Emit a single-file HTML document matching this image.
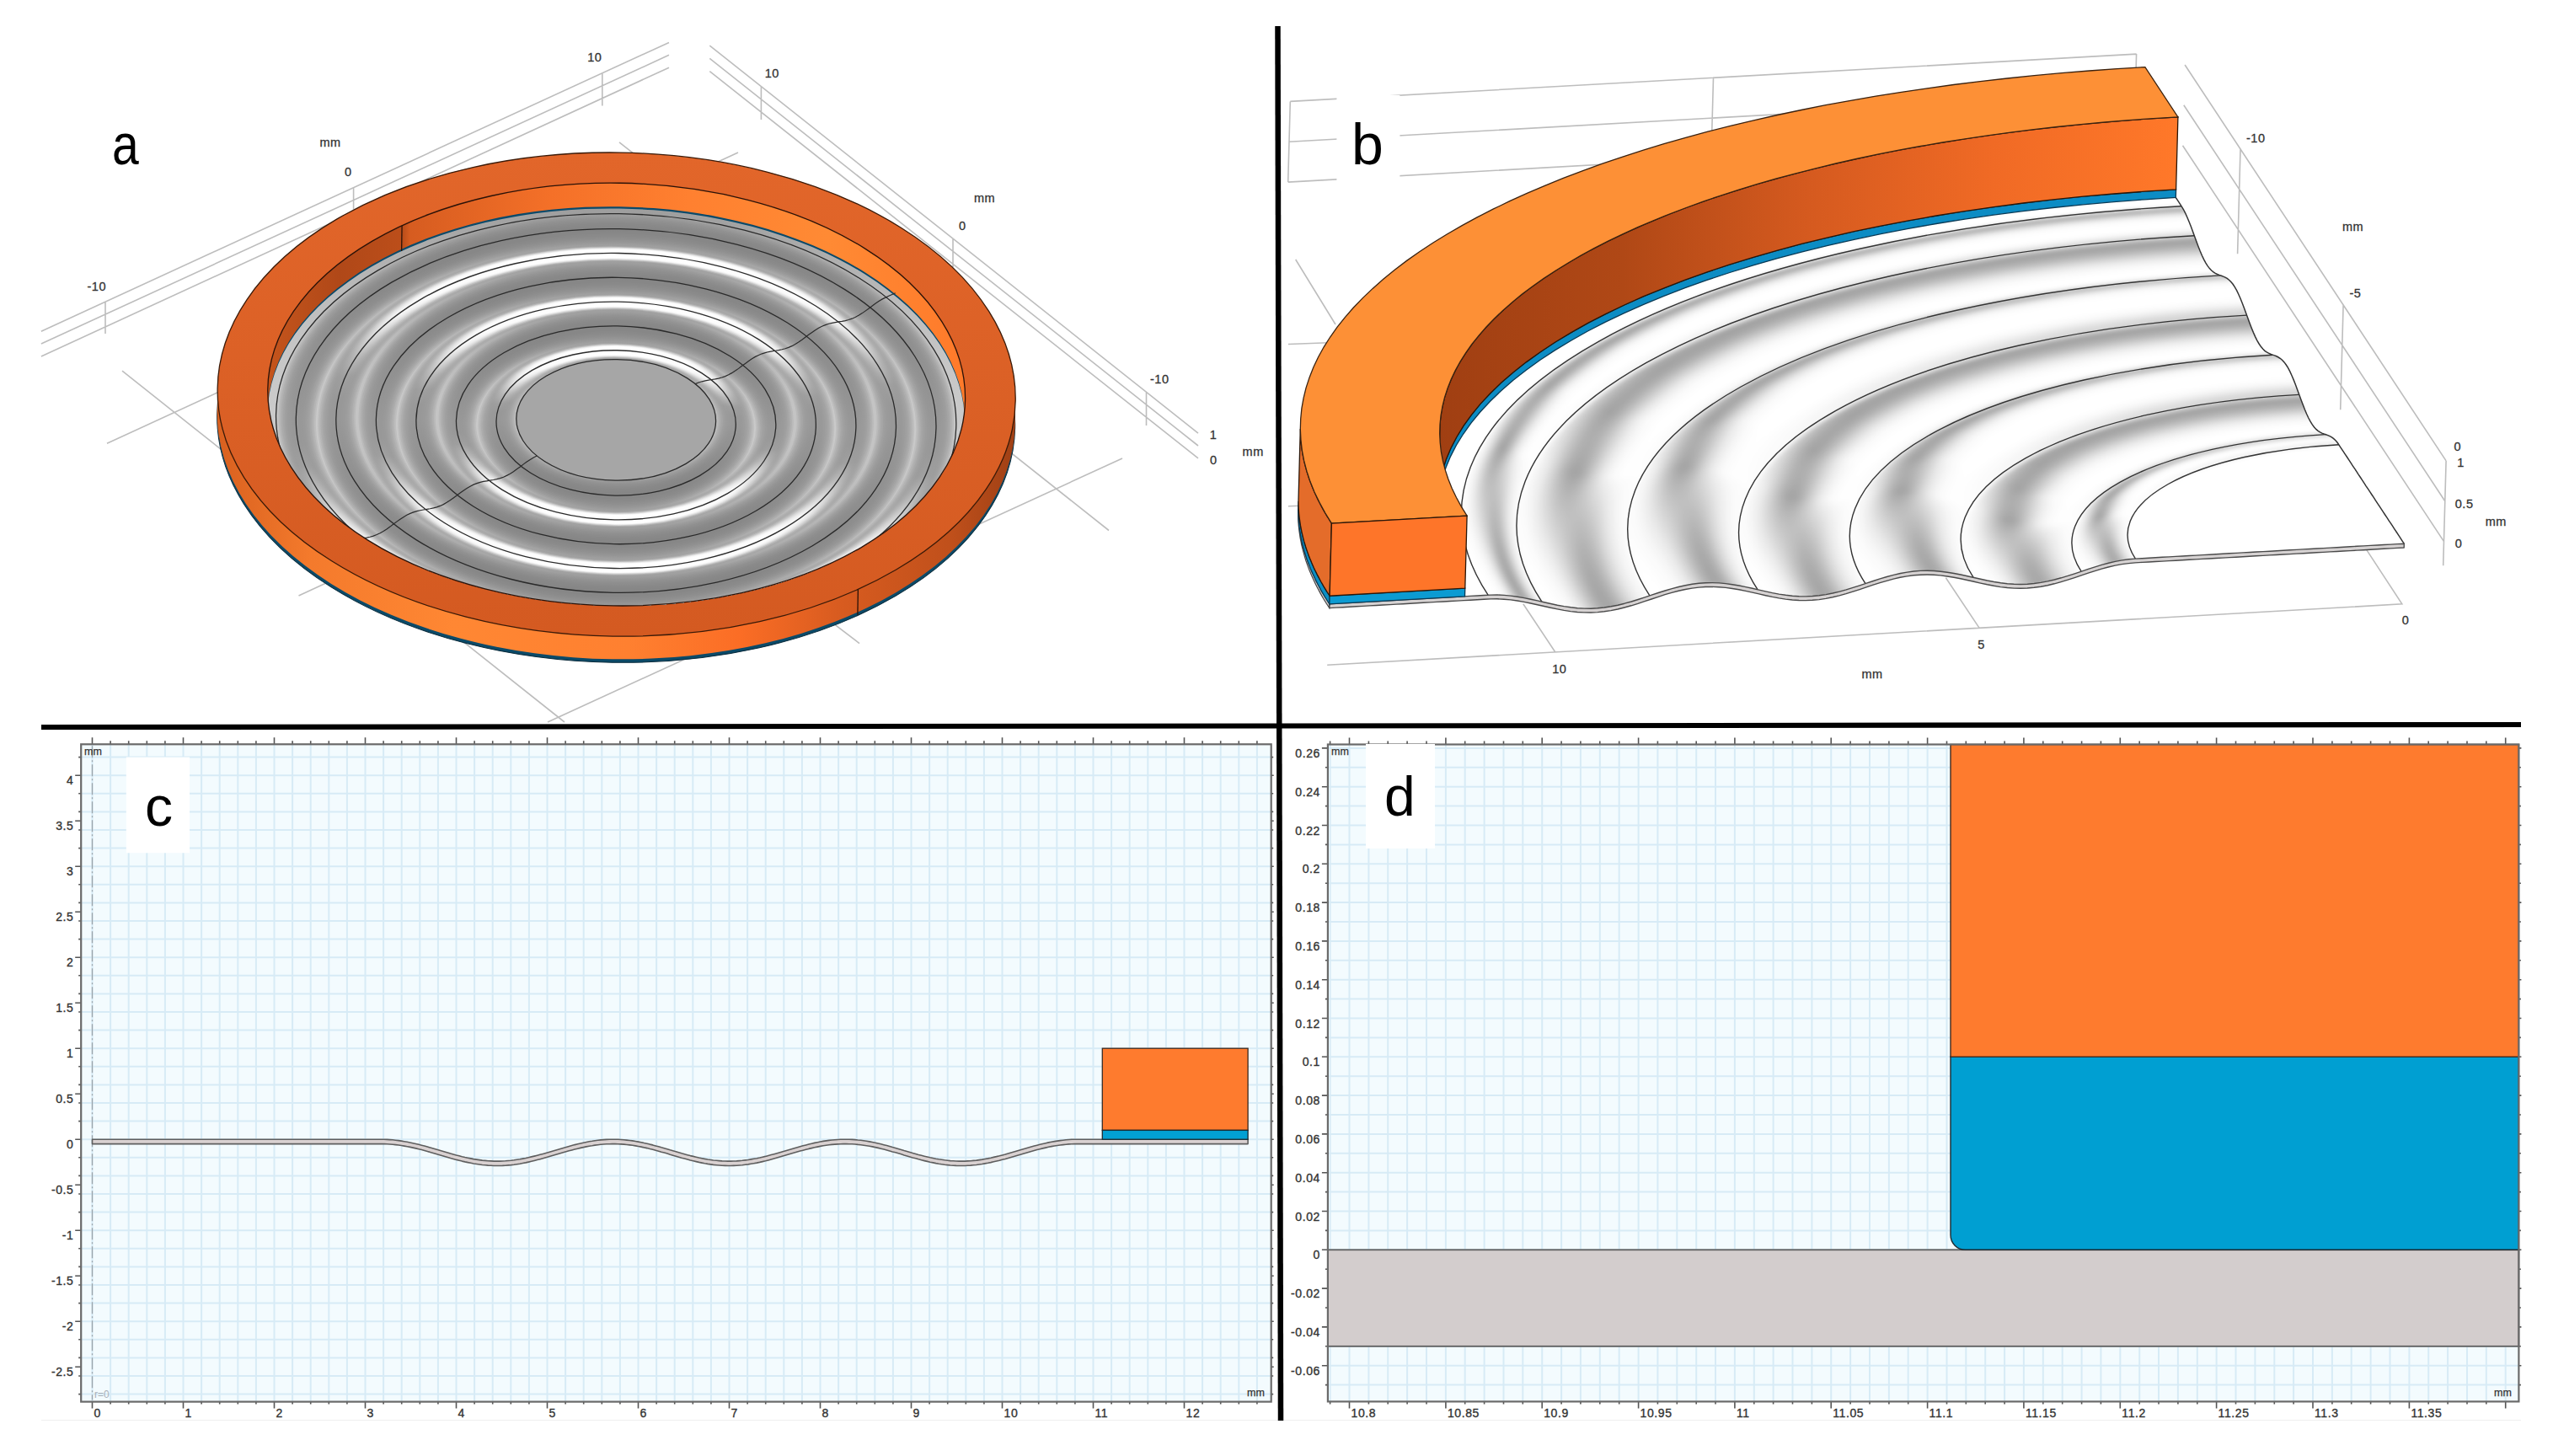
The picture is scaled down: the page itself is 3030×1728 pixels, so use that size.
<!DOCTYPE html><html><head><meta charset="utf-8"><style>html,body{margin:0;padding:0;background:#fff}svg{display:block}text{font-family:"Liberation Sans",sans-serif}</style></head><body><svg width="3030" height="1728" viewBox="0 0 3030 1728"><rect width="3030" height="1728" fill="#fff"/><defs><linearGradient id="aow" x1="257" x2="1205" y1="0" y2="0" gradientUnits="userSpaceOnUse"><stop offset="0" stop-color="#d8601f"/><stop offset=".12" stop-color="#f47a2c"/><stop offset=".3" stop-color="#ff8733"/><stop offset=".52" stop-color="#ff8030"/><stop offset=".66" stop-color="#fb6d25"/><stop offset=".78" stop-color="#d95c20"/><stop offset=".92" stop-color="#c0501b"/><stop offset="1" stop-color="#a04015"/></linearGradient><linearGradient id="atop" x1="0" x2="0" y1="181" y2="756" gradientUnits="userSpaceOnUse"><stop offset="0" stop-color="#e2662a"/><stop offset="1" stop-color="#d45a21"/></linearGradient><clipPath id="ain"><ellipse cx="731.2" cy="468.10" rx="413.92" ry="250.86" /></clipPath><linearGradient id="aiw" x1="318" x2="1144" y1="0" y2="0" gradientUnits="userSpaceOnUse"><stop offset="0" stop-color="#c4541c"/><stop offset=".1" stop-color="#b04818"/><stop offset=".19" stop-color="#bc4e1a"/><stop offset=".2" stop-color="#d65c20"/><stop offset=".4" stop-color="#f47028"/><stop offset=".6" stop-color="#ff8030"/><stop offset=".8" stop-color="#ff8a34"/><stop offset="1" stop-color="#ff7a2a"/></linearGradient><linearGradient id="am0" x1="0" x2="0" y1="247.4" y2="749.2" gradientUnits="userSpaceOnUse"><stop offset="0.000" stop-color="#9e9e9e"/><stop offset="0.062" stop-color="#a8a8a8"/><stop offset="0.125" stop-color="#b1b1b1"/><stop offset="0.188" stop-color="#b9b9b9"/><stop offset="0.250" stop-color="#bfbfbf"/><stop offset="0.312" stop-color="#c4c4c4"/><stop offset="0.375" stop-color="#c7c7c7"/><stop offset="0.438" stop-color="#c9c9c9"/><stop offset="0.500" stop-color="#cacaca"/><stop offset="0.562" stop-color="#c9c9c9"/><stop offset="0.625" stop-color="#c7c7c7"/><stop offset="0.688" stop-color="#c4c4c4"/><stop offset="0.750" stop-color="#bfbfbf"/><stop offset="0.812" stop-color="#b9b9b9"/><stop offset="0.875" stop-color="#b1b1b1"/><stop offset="0.938" stop-color="#a8a8a8"/><stop offset="1.000" stop-color="#9e9e9e"/></linearGradient><linearGradient id="am1" x1="0" x2="0" y1="249.7" y2="746.9" gradientUnits="userSpaceOnUse"><stop offset="0.000" stop-color="#9e9e9e"/><stop offset="0.062" stop-color="#a8a8a8"/><stop offset="0.125" stop-color="#b1b1b1"/><stop offset="0.188" stop-color="#b9b9b9"/><stop offset="0.250" stop-color="#bfbfbf"/><stop offset="0.312" stop-color="#c4c4c4"/><stop offset="0.375" stop-color="#c7c7c7"/><stop offset="0.438" stop-color="#c9c9c9"/><stop offset="0.500" stop-color="#cacaca"/><stop offset="0.562" stop-color="#c9c9c9"/><stop offset="0.625" stop-color="#c7c7c7"/><stop offset="0.688" stop-color="#c4c4c4"/><stop offset="0.750" stop-color="#bfbfbf"/><stop offset="0.812" stop-color="#b9b9b9"/><stop offset="0.875" stop-color="#b1b1b1"/><stop offset="0.938" stop-color="#a8a8a8"/><stop offset="1.000" stop-color="#9e9e9e"/></linearGradient><linearGradient id="am2" x1="0" x2="0" y1="252.0" y2="744.6" gradientUnits="userSpaceOnUse"><stop offset="0.000" stop-color="#9e9e9e"/><stop offset="0.062" stop-color="#a8a8a8"/><stop offset="0.125" stop-color="#b1b1b1"/><stop offset="0.188" stop-color="#b9b9b9"/><stop offset="0.250" stop-color="#bfbfbf"/><stop offset="0.312" stop-color="#c4c4c4"/><stop offset="0.375" stop-color="#c7c7c7"/><stop offset="0.438" stop-color="#c9c9c9"/><stop offset="0.500" stop-color="#cacaca"/><stop offset="0.562" stop-color="#c9c9c9"/><stop offset="0.625" stop-color="#c7c7c7"/><stop offset="0.688" stop-color="#c4c4c4"/><stop offset="0.750" stop-color="#bfbfbf"/><stop offset="0.812" stop-color="#b9b9b9"/><stop offset="0.875" stop-color="#b1b1b1"/><stop offset="0.938" stop-color="#a8a8a8"/><stop offset="1.000" stop-color="#9e9e9e"/></linearGradient><linearGradient id="am3" x1="0" x2="0" y1="254.2" y2="742.4" gradientUnits="userSpaceOnUse"><stop offset="0.000" stop-color="#9d9d9d"/><stop offset="0.062" stop-color="#a6a6a6"/><stop offset="0.125" stop-color="#aeaeae"/><stop offset="0.188" stop-color="#b4b4b4"/><stop offset="0.250" stop-color="#bababa"/><stop offset="0.312" stop-color="#bebebe"/><stop offset="0.375" stop-color="#c2c2c2"/><stop offset="0.438" stop-color="#c4c4c4"/><stop offset="0.500" stop-color="#c4c4c4"/><stop offset="0.562" stop-color="#c4c4c4"/><stop offset="0.625" stop-color="#c2c2c2"/><stop offset="0.688" stop-color="#bfbfbf"/><stop offset="0.750" stop-color="#bbbbbb"/><stop offset="0.812" stop-color="#b5b5b5"/><stop offset="0.875" stop-color="#afafaf"/><stop offset="0.938" stop-color="#a7a7a7"/><stop offset="1.000" stop-color="#9e9e9e"/></linearGradient><linearGradient id="am4" x1="0" x2="0" y1="255.4" y2="741.3" gradientUnits="userSpaceOnUse"><stop offset="0.000" stop-color="#9a9a9a"/><stop offset="0.062" stop-color="#a0a0a0"/><stop offset="0.125" stop-color="#a7a7a7"/><stop offset="0.188" stop-color="#acacac"/><stop offset="0.250" stop-color="#b1b1b1"/><stop offset="0.312" stop-color="#b5b5b5"/><stop offset="0.375" stop-color="#b7b7b7"/><stop offset="0.438" stop-color="#b9b9b9"/><stop offset="0.500" stop-color="#bababa"/><stop offset="0.562" stop-color="#bababa"/><stop offset="0.625" stop-color="#b8b8b8"/><stop offset="0.688" stop-color="#b6b6b6"/><stop offset="0.750" stop-color="#b3b3b3"/><stop offset="0.812" stop-color="#afafaf"/><stop offset="0.875" stop-color="#aaaaaa"/><stop offset="0.938" stop-color="#a4a4a4"/><stop offset="1.000" stop-color="#9f9f9f"/></linearGradient><linearGradient id="am5" x1="0" x2="0" y1="256.7" y2="740.3" gradientUnits="userSpaceOnUse"><stop offset="0.000" stop-color="#979797"/><stop offset="0.062" stop-color="#9c9c9c"/><stop offset="0.125" stop-color="#a1a1a1"/><stop offset="0.188" stop-color="#a5a5a5"/><stop offset="0.250" stop-color="#a9a9a9"/><stop offset="0.312" stop-color="#acacac"/><stop offset="0.375" stop-color="#aeaeae"/><stop offset="0.438" stop-color="#b0b0b0"/><stop offset="0.500" stop-color="#b2b2b2"/><stop offset="0.562" stop-color="#b1b1b1"/><stop offset="0.625" stop-color="#b0b0b0"/><stop offset="0.688" stop-color="#afafaf"/><stop offset="0.750" stop-color="#acacac"/><stop offset="0.812" stop-color="#ababab"/><stop offset="0.875" stop-color="#ababab"/><stop offset="0.938" stop-color="#adadad"/><stop offset="1.000" stop-color="#b0b0b0"/></linearGradient><linearGradient id="am6" x1="0" x2="0" y1="257.9" y2="739.3" gradientUnits="userSpaceOnUse"><stop offset="0.000" stop-color="#949494"/><stop offset="0.062" stop-color="#989898"/><stop offset="0.125" stop-color="#9b9b9b"/><stop offset="0.188" stop-color="#9f9f9f"/><stop offset="0.250" stop-color="#a2a2a2"/><stop offset="0.312" stop-color="#a5a5a5"/><stop offset="0.375" stop-color="#a7a7a7"/><stop offset="0.438" stop-color="#a9a9a9"/><stop offset="0.500" stop-color="#aaaaaa"/><stop offset="0.562" stop-color="#aaaaaa"/><stop offset="0.625" stop-color="#aaaaaa"/><stop offset="0.688" stop-color="#a9a9a9"/><stop offset="0.750" stop-color="#aaaaaa"/><stop offset="0.812" stop-color="#afafaf"/><stop offset="0.875" stop-color="#b7b7b7"/><stop offset="0.938" stop-color="#c1c1c1"/><stop offset="1.000" stop-color="#cdcdcd"/></linearGradient><linearGradient id="am7" x1="0" x2="0" y1="259.3" y2="738.4" gradientUnits="userSpaceOnUse"><stop offset="0.000" stop-color="#919191"/><stop offset="0.062" stop-color="#949494"/><stop offset="0.125" stop-color="#979797"/><stop offset="0.188" stop-color="#9a9a9a"/><stop offset="0.250" stop-color="#9c9c9c"/><stop offset="0.312" stop-color="#9f9f9f"/><stop offset="0.375" stop-color="#a1a1a1"/><stop offset="0.438" stop-color="#a3a3a3"/><stop offset="0.500" stop-color="#a5a5a5"/><stop offset="0.562" stop-color="#a5a5a5"/><stop offset="0.625" stop-color="#a4a4a4"/><stop offset="0.688" stop-color="#a6a6a6"/><stop offset="0.750" stop-color="#adadad"/><stop offset="0.812" stop-color="#bababa"/><stop offset="0.875" stop-color="#c9c9c9"/><stop offset="0.938" stop-color="#d9d9d9"/><stop offset="1.000" stop-color="#e8e8e8"/></linearGradient><linearGradient id="am8" x1="0" x2="0" y1="260.7" y2="737.5" gradientUnits="userSpaceOnUse"><stop offset="0.000" stop-color="#8f8f8f"/><stop offset="0.062" stop-color="#909090"/><stop offset="0.125" stop-color="#939393"/><stop offset="0.188" stop-color="#959595"/><stop offset="0.250" stop-color="#989898"/><stop offset="0.312" stop-color="#9a9a9a"/><stop offset="0.375" stop-color="#9c9c9c"/><stop offset="0.438" stop-color="#9e9e9e"/><stop offset="0.500" stop-color="#a0a0a0"/><stop offset="0.562" stop-color="#a0a0a0"/><stop offset="0.625" stop-color="#a0a0a0"/><stop offset="0.688" stop-color="#a6a6a6"/><stop offset="0.750" stop-color="#b4b4b4"/><stop offset="0.812" stop-color="#c7c7c7"/><stop offset="0.875" stop-color="#dbdbdb"/><stop offset="0.938" stop-color="#ededed"/><stop offset="1.000" stop-color="#fafafa"/></linearGradient><linearGradient id="am9" x1="0" x2="0" y1="262.1" y2="736.7" gradientUnits="userSpaceOnUse"><stop offset="0.000" stop-color="#8d8d8d"/><stop offset="0.062" stop-color="#8e8e8e"/><stop offset="0.125" stop-color="#909090"/><stop offset="0.188" stop-color="#929292"/><stop offset="0.250" stop-color="#949494"/><stop offset="0.312" stop-color="#979797"/><stop offset="0.375" stop-color="#999999"/><stop offset="0.438" stop-color="#9b9b9b"/><stop offset="0.500" stop-color="#9d9d9d"/><stop offset="0.562" stop-color="#9d9d9d"/><stop offset="0.625" stop-color="#9e9e9e"/><stop offset="0.688" stop-color="#a9a9a9"/><stop offset="0.750" stop-color="#bcbcbc"/><stop offset="0.812" stop-color="#d4d4d4"/><stop offset="0.875" stop-color="#e9e9e9"/><stop offset="0.938" stop-color="#f9f9f9"/><stop offset="1.000" stop-color="#ffffff"/></linearGradient><linearGradient id="am10" x1="0" x2="0" y1="263.6" y2="735.9" gradientUnits="userSpaceOnUse"><stop offset="0.000" stop-color="#8b8b8b"/><stop offset="0.062" stop-color="#8b8b8b"/><stop offset="0.125" stop-color="#8d8d8d"/><stop offset="0.188" stop-color="#8f8f8f"/><stop offset="0.250" stop-color="#929292"/><stop offset="0.312" stop-color="#949494"/><stop offset="0.375" stop-color="#969696"/><stop offset="0.438" stop-color="#999999"/><stop offset="0.500" stop-color="#9b9b9b"/><stop offset="0.562" stop-color="#9b9b9b"/><stop offset="0.625" stop-color="#9d9d9d"/><stop offset="0.688" stop-color="#adadad"/><stop offset="0.750" stop-color="#c5c5c5"/><stop offset="0.812" stop-color="#dfdfdf"/><stop offset="0.875" stop-color="#f4f4f4"/><stop offset="0.938" stop-color="#fdfdfd"/><stop offset="1.000" stop-color="#ffffff"/></linearGradient><linearGradient id="am11" x1="0" x2="0" y1="265.1" y2="735.2" gradientUnits="userSpaceOnUse"><stop offset="0.000" stop-color="#898989"/><stop offset="0.062" stop-color="#898989"/><stop offset="0.125" stop-color="#8b8b8b"/><stop offset="0.188" stop-color="#8d8d8d"/><stop offset="0.250" stop-color="#909090"/><stop offset="0.312" stop-color="#929292"/><stop offset="0.375" stop-color="#959595"/><stop offset="0.438" stop-color="#979797"/><stop offset="0.500" stop-color="#9a9a9a"/><stop offset="0.562" stop-color="#9a9a9a"/><stop offset="0.625" stop-color="#9e9e9e"/><stop offset="0.688" stop-color="#b1b1b1"/><stop offset="0.750" stop-color="#cdcdcd"/><stop offset="0.812" stop-color="#e8e8e8"/><stop offset="0.875" stop-color="#fafafa"/><stop offset="0.938" stop-color="#fdfdfd"/><stop offset="1.000" stop-color="#ffffff"/></linearGradient><linearGradient id="am12" x1="0" x2="0" y1="266.6" y2="734.4" gradientUnits="userSpaceOnUse"><stop offset="0.000" stop-color="#888888"/><stop offset="0.062" stop-color="#888888"/><stop offset="0.125" stop-color="#8a8a8a"/><stop offset="0.188" stop-color="#8c8c8c"/><stop offset="0.250" stop-color="#8e8e8e"/><stop offset="0.312" stop-color="#919191"/><stop offset="0.375" stop-color="#939393"/><stop offset="0.438" stop-color="#969696"/><stop offset="0.500" stop-color="#999999"/><stop offset="0.562" stop-color="#999999"/><stop offset="0.625" stop-color="#9e9e9e"/><stop offset="0.688" stop-color="#b5b5b5"/><stop offset="0.750" stop-color="#d3d3d3"/><stop offset="0.812" stop-color="#eeeeee"/><stop offset="0.875" stop-color="#fbfbfb"/><stop offset="0.938" stop-color="#fcfcfc"/><stop offset="1.000" stop-color="#ffffff"/></linearGradient><linearGradient id="am13" x1="0" x2="0" y1="268.2" y2="733.7" gradientUnits="userSpaceOnUse"><stop offset="0.000" stop-color="#878787"/><stop offset="0.062" stop-color="#878787"/><stop offset="0.125" stop-color="#898989"/><stop offset="0.188" stop-color="#8b8b8b"/><stop offset="0.250" stop-color="#8e8e8e"/><stop offset="0.312" stop-color="#909090"/><stop offset="0.375" stop-color="#939393"/><stop offset="0.438" stop-color="#959595"/><stop offset="0.500" stop-color="#989898"/><stop offset="0.562" stop-color="#989898"/><stop offset="0.625" stop-color="#9f9f9f"/><stop offset="0.688" stop-color="#b9b9b9"/><stop offset="0.750" stop-color="#d8d8d8"/><stop offset="0.812" stop-color="#f2f2f2"/><stop offset="0.875" stop-color="#fbfbfb"/><stop offset="0.938" stop-color="#fcfcfc"/><stop offset="1.000" stop-color="#ffffff"/></linearGradient><linearGradient id="am14" x1="0" x2="0" y1="269.7" y2="733.0" gradientUnits="userSpaceOnUse"><stop offset="0.000" stop-color="#868686"/><stop offset="0.062" stop-color="#868686"/><stop offset="0.125" stop-color="#888888"/><stop offset="0.188" stop-color="#8b8b8b"/><stop offset="0.250" stop-color="#8d8d8d"/><stop offset="0.312" stop-color="#909090"/><stop offset="0.375" stop-color="#929292"/><stop offset="0.438" stop-color="#959595"/><stop offset="0.500" stop-color="#989898"/><stop offset="0.562" stop-color="#989898"/><stop offset="0.625" stop-color="#a0a0a0"/><stop offset="0.688" stop-color="#bbbbbb"/><stop offset="0.750" stop-color="#dbdbdb"/><stop offset="0.812" stop-color="#f4f4f4"/><stop offset="0.875" stop-color="#fbfbfb"/><stop offset="0.938" stop-color="#fcfcfc"/><stop offset="1.000" stop-color="#ffffff"/></linearGradient><linearGradient id="am15" x1="0" x2="0" y1="271.3" y2="732.3" gradientUnits="userSpaceOnUse"><stop offset="0.000" stop-color="#868686"/><stop offset="0.062" stop-color="#868686"/><stop offset="0.125" stop-color="#888888"/><stop offset="0.188" stop-color="#8a8a8a"/><stop offset="0.250" stop-color="#8d8d8d"/><stop offset="0.312" stop-color="#8f8f8f"/><stop offset="0.375" stop-color="#929292"/><stop offset="0.438" stop-color="#959595"/><stop offset="0.500" stop-color="#989898"/><stop offset="0.562" stop-color="#989898"/><stop offset="0.625" stop-color="#a1a1a1"/><stop offset="0.688" stop-color="#bcbcbc"/><stop offset="0.750" stop-color="#dddddd"/><stop offset="0.812" stop-color="#f5f5f5"/><stop offset="0.875" stop-color="#fbfbfb"/><stop offset="0.938" stop-color="#fcfcfc"/><stop offset="1.000" stop-color="#ffffff"/></linearGradient><linearGradient id="am16" x1="0" x2="0" y1="272.9" y2="731.6" gradientUnits="userSpaceOnUse"><stop offset="0.000" stop-color="#868686"/><stop offset="0.062" stop-color="#868686"/><stop offset="0.125" stop-color="#888888"/><stop offset="0.188" stop-color="#8a8a8a"/><stop offset="0.250" stop-color="#8d8d8d"/><stop offset="0.312" stop-color="#909090"/><stop offset="0.375" stop-color="#929292"/><stop offset="0.438" stop-color="#959595"/><stop offset="0.500" stop-color="#989898"/><stop offset="0.562" stop-color="#989898"/><stop offset="0.625" stop-color="#a1a1a1"/><stop offset="0.688" stop-color="#bbbbbb"/><stop offset="0.750" stop-color="#dcdcdc"/><stop offset="0.812" stop-color="#f5f5f5"/><stop offset="0.875" stop-color="#fbfbfb"/><stop offset="0.938" stop-color="#fcfcfc"/><stop offset="1.000" stop-color="#ffffff"/></linearGradient><linearGradient id="am17" x1="0" x2="0" y1="274.4" y2="731.0" gradientUnits="userSpaceOnUse"><stop offset="0.000" stop-color="#878787"/><stop offset="0.062" stop-color="#878787"/><stop offset="0.125" stop-color="#898989"/><stop offset="0.188" stop-color="#8b8b8b"/><stop offset="0.250" stop-color="#8d8d8d"/><stop offset="0.312" stop-color="#909090"/><stop offset="0.375" stop-color="#929292"/><stop offset="0.438" stop-color="#959595"/><stop offset="0.500" stop-color="#989898"/><stop offset="0.562" stop-color="#989898"/><stop offset="0.625" stop-color="#a0a0a0"/><stop offset="0.688" stop-color="#bababa"/><stop offset="0.750" stop-color="#dadada"/><stop offset="0.812" stop-color="#f4f4f4"/><stop offset="0.875" stop-color="#fbfbfb"/><stop offset="0.938" stop-color="#fcfcfc"/><stop offset="1.000" stop-color="#ffffff"/></linearGradient><linearGradient id="am18" x1="0" x2="0" y1="276.0" y2="730.3" gradientUnits="userSpaceOnUse"><stop offset="0.000" stop-color="#878787"/><stop offset="0.062" stop-color="#878787"/><stop offset="0.125" stop-color="#898989"/><stop offset="0.188" stop-color="#8c8c8c"/><stop offset="0.250" stop-color="#8e8e8e"/><stop offset="0.312" stop-color="#909090"/><stop offset="0.375" stop-color="#939393"/><stop offset="0.438" stop-color="#969696"/><stop offset="0.500" stop-color="#989898"/><stop offset="0.562" stop-color="#999999"/><stop offset="0.625" stop-color="#9f9f9f"/><stop offset="0.688" stop-color="#b7b7b7"/><stop offset="0.750" stop-color="#d6d6d6"/><stop offset="0.812" stop-color="#f0f0f0"/><stop offset="0.875" stop-color="#fbfbfb"/><stop offset="0.938" stop-color="#fcfcfc"/><stop offset="1.000" stop-color="#ffffff"/></linearGradient><linearGradient id="am19" x1="0" x2="0" y1="277.5" y2="729.5" gradientUnits="userSpaceOnUse"><stop offset="0.000" stop-color="#898989"/><stop offset="0.062" stop-color="#898989"/><stop offset="0.125" stop-color="#8b8b8b"/><stop offset="0.188" stop-color="#8d8d8d"/><stop offset="0.250" stop-color="#8f8f8f"/><stop offset="0.312" stop-color="#919191"/><stop offset="0.375" stop-color="#949494"/><stop offset="0.438" stop-color="#969696"/><stop offset="0.500" stop-color="#999999"/><stop offset="0.562" stop-color="#999999"/><stop offset="0.625" stop-color="#9e9e9e"/><stop offset="0.688" stop-color="#b3b3b3"/><stop offset="0.750" stop-color="#d0d0d0"/><stop offset="0.812" stop-color="#ebebeb"/><stop offset="0.875" stop-color="#fbfbfb"/><stop offset="0.938" stop-color="#fdfdfd"/><stop offset="1.000" stop-color="#ffffff"/></linearGradient><linearGradient id="am20" x1="0" x2="0" y1="279.1" y2="728.8" gradientUnits="userSpaceOnUse"><stop offset="0.000" stop-color="#8a8a8a"/><stop offset="0.062" stop-color="#8a8a8a"/><stop offset="0.125" stop-color="#8c8c8c"/><stop offset="0.188" stop-color="#8e8e8e"/><stop offset="0.250" stop-color="#919191"/><stop offset="0.312" stop-color="#939393"/><stop offset="0.375" stop-color="#959595"/><stop offset="0.438" stop-color="#989898"/><stop offset="0.500" stop-color="#9a9a9a"/><stop offset="0.562" stop-color="#9a9a9a"/><stop offset="0.625" stop-color="#9d9d9d"/><stop offset="0.688" stop-color="#afafaf"/><stop offset="0.750" stop-color="#c9c9c9"/><stop offset="0.812" stop-color="#e4e4e4"/><stop offset="0.875" stop-color="#f7f7f7"/><stop offset="0.938" stop-color="#fdfdfd"/><stop offset="1.000" stop-color="#ffffff"/></linearGradient><linearGradient id="am21" x1="0" x2="0" y1="280.5" y2="728.0" gradientUnits="userSpaceOnUse"><stop offset="0.000" stop-color="#8c8c8c"/><stop offset="0.062" stop-color="#8c8c8c"/><stop offset="0.125" stop-color="#8e8e8e"/><stop offset="0.188" stop-color="#919191"/><stop offset="0.250" stop-color="#939393"/><stop offset="0.312" stop-color="#959595"/><stop offset="0.375" stop-color="#979797"/><stop offset="0.438" stop-color="#9a9a9a"/><stop offset="0.500" stop-color="#9c9c9c"/><stop offset="0.562" stop-color="#9c9c9c"/><stop offset="0.625" stop-color="#9d9d9d"/><stop offset="0.688" stop-color="#ababab"/><stop offset="0.750" stop-color="#c1c1c1"/><stop offset="0.812" stop-color="#d9d9d9"/><stop offset="0.875" stop-color="#efefef"/><stop offset="0.938" stop-color="#fcfcfc"/><stop offset="1.000" stop-color="#ffffff"/></linearGradient><linearGradient id="am22" x1="0" x2="0" y1="282.0" y2="727.2" gradientUnits="userSpaceOnUse"><stop offset="0.000" stop-color="#8e8e8e"/><stop offset="0.062" stop-color="#8f8f8f"/><stop offset="0.125" stop-color="#919191"/><stop offset="0.188" stop-color="#949494"/><stop offset="0.250" stop-color="#969696"/><stop offset="0.312" stop-color="#989898"/><stop offset="0.375" stop-color="#9a9a9a"/><stop offset="0.438" stop-color="#9d9d9d"/><stop offset="0.500" stop-color="#9f9f9f"/><stop offset="0.562" stop-color="#9f9f9f"/><stop offset="0.625" stop-color="#9f9f9f"/><stop offset="0.688" stop-color="#a7a7a7"/><stop offset="0.750" stop-color="#b8b8b8"/><stop offset="0.812" stop-color="#cdcdcd"/><stop offset="0.875" stop-color="#e3e3e3"/><stop offset="0.938" stop-color="#f4f4f4"/><stop offset="1.000" stop-color="#fefefe"/></linearGradient><linearGradient id="am23" x1="0" x2="0" y1="283.4" y2="726.4" gradientUnits="userSpaceOnUse"><stop offset="0.000" stop-color="#909090"/><stop offset="0.062" stop-color="#929292"/><stop offset="0.125" stop-color="#959595"/><stop offset="0.188" stop-color="#979797"/><stop offset="0.250" stop-color="#9a9a9a"/><stop offset="0.312" stop-color="#9c9c9c"/><stop offset="0.375" stop-color="#9f9f9f"/><stop offset="0.438" stop-color="#a1a1a1"/><stop offset="0.500" stop-color="#a2a2a2"/><stop offset="0.562" stop-color="#a2a2a2"/><stop offset="0.625" stop-color="#a2a2a2"/><stop offset="0.688" stop-color="#a5a5a5"/><stop offset="0.750" stop-color="#b0b0b0"/><stop offset="0.812" stop-color="#c0c0c0"/><stop offset="0.875" stop-color="#d2d2d2"/><stop offset="0.938" stop-color="#e3e3e3"/><stop offset="1.000" stop-color="#f3f3f3"/></linearGradient><linearGradient id="am24" x1="0" x2="0" y1="284.8" y2="725.5" gradientUnits="userSpaceOnUse"><stop offset="0.000" stop-color="#939393"/><stop offset="0.062" stop-color="#969696"/><stop offset="0.125" stop-color="#999999"/><stop offset="0.188" stop-color="#9c9c9c"/><stop offset="0.250" stop-color="#9f9f9f"/><stop offset="0.312" stop-color="#a2a2a2"/><stop offset="0.375" stop-color="#a4a4a4"/><stop offset="0.438" stop-color="#a6a6a6"/><stop offset="0.500" stop-color="#a7a7a7"/><stop offset="0.562" stop-color="#a7a7a7"/><stop offset="0.625" stop-color="#a7a7a7"/><stop offset="0.688" stop-color="#a7a7a7"/><stop offset="0.750" stop-color="#ababab"/><stop offset="0.812" stop-color="#b4b4b4"/><stop offset="0.875" stop-color="#c0c0c0"/><stop offset="0.938" stop-color="#cdcdcd"/><stop offset="1.000" stop-color="#dbdbdb"/></linearGradient><linearGradient id="am25" x1="0" x2="0" y1="286.1" y2="724.5" gradientUnits="userSpaceOnUse"><stop offset="0.000" stop-color="#959595"/><stop offset="0.062" stop-color="#9a9a9a"/><stop offset="0.125" stop-color="#9e9e9e"/><stop offset="0.188" stop-color="#a2a2a2"/><stop offset="0.250" stop-color="#a5a5a5"/><stop offset="0.312" stop-color="#a8a8a8"/><stop offset="0.375" stop-color="#ababab"/><stop offset="0.438" stop-color="#acacac"/><stop offset="0.500" stop-color="#aeaeae"/><stop offset="0.562" stop-color="#aeaeae"/><stop offset="0.625" stop-color="#adadad"/><stop offset="0.688" stop-color="#ababab"/><stop offset="0.750" stop-color="#aaaaaa"/><stop offset="0.812" stop-color="#acacac"/><stop offset="0.875" stop-color="#b0b0b0"/><stop offset="0.938" stop-color="#b6b6b6"/><stop offset="1.000" stop-color="#bebebe"/></linearGradient><linearGradient id="am26" x1="0" x2="0" y1="287.3" y2="723.5" gradientUnits="userSpaceOnUse"><stop offset="0.000" stop-color="#989898"/><stop offset="0.062" stop-color="#9e9e9e"/><stop offset="0.125" stop-color="#a4a4a4"/><stop offset="0.188" stop-color="#a9a9a9"/><stop offset="0.250" stop-color="#adadad"/><stop offset="0.312" stop-color="#b0b0b0"/><stop offset="0.375" stop-color="#b3b3b3"/><stop offset="0.438" stop-color="#b5b5b5"/><stop offset="0.500" stop-color="#b6b6b6"/><stop offset="0.562" stop-color="#b5b5b5"/><stop offset="0.625" stop-color="#b4b4b4"/><stop offset="0.688" stop-color="#b2b2b2"/><stop offset="0.750" stop-color="#b0b0b0"/><stop offset="0.812" stop-color="#acacac"/><stop offset="0.875" stop-color="#a9a9a9"/><stop offset="0.938" stop-color="#a7a7a7"/><stop offset="1.000" stop-color="#a6a6a6"/></linearGradient><linearGradient id="am27" x1="0" x2="0" y1="288.6" y2="722.5" gradientUnits="userSpaceOnUse"><stop offset="0.000" stop-color="#9b9b9b"/><stop offset="0.062" stop-color="#a3a3a3"/><stop offset="0.125" stop-color="#aaaaaa"/><stop offset="0.188" stop-color="#b0b0b0"/><stop offset="0.250" stop-color="#b5b5b5"/><stop offset="0.312" stop-color="#b9b9b9"/><stop offset="0.375" stop-color="#bcbcbc"/><stop offset="0.438" stop-color="#bebebe"/><stop offset="0.500" stop-color="#bfbfbf"/><stop offset="0.562" stop-color="#bfbfbf"/><stop offset="0.625" stop-color="#bdbdbd"/><stop offset="0.688" stop-color="#bababa"/><stop offset="0.750" stop-color="#b7b7b7"/><stop offset="0.812" stop-color="#b2b2b2"/><stop offset="0.875" stop-color="#acacac"/><stop offset="0.938" stop-color="#a6a6a6"/><stop offset="1.000" stop-color="#9e9e9e"/></linearGradient><linearGradient id="am28" x1="0" x2="0" y1="289.7" y2="721.4" gradientUnits="userSpaceOnUse"><stop offset="0.000" stop-color="#9e9e9e"/><stop offset="0.062" stop-color="#a8a8a8"/><stop offset="0.125" stop-color="#b1b1b1"/><stop offset="0.188" stop-color="#b9b9b9"/><stop offset="0.250" stop-color="#bfbfbf"/><stop offset="0.312" stop-color="#c4c4c4"/><stop offset="0.375" stop-color="#c7c7c7"/><stop offset="0.438" stop-color="#c9c9c9"/><stop offset="0.500" stop-color="#cacaca"/><stop offset="0.562" stop-color="#c9c9c9"/><stop offset="0.625" stop-color="#c7c7c7"/><stop offset="0.688" stop-color="#c4c4c4"/><stop offset="0.750" stop-color="#bfbfbf"/><stop offset="0.812" stop-color="#b9b9b9"/><stop offset="0.875" stop-color="#b1b1b1"/><stop offset="0.938" stop-color="#a8a8a8"/><stop offset="1.000" stop-color="#9e9e9e"/></linearGradient><linearGradient id="am29" x1="0" x2="0" y1="290.8" y2="720.2" gradientUnits="userSpaceOnUse"><stop offset="0.000" stop-color="#9e9e9e"/><stop offset="0.062" stop-color="#a6a6a6"/><stop offset="0.125" stop-color="#acacac"/><stop offset="0.188" stop-color="#b2b2b2"/><stop offset="0.250" stop-color="#b7b7b7"/><stop offset="0.312" stop-color="#bababa"/><stop offset="0.375" stop-color="#bdbdbd"/><stop offset="0.438" stop-color="#bfbfbf"/><stop offset="0.500" stop-color="#bfbfbf"/><stop offset="0.562" stop-color="#bebebe"/><stop offset="0.625" stop-color="#bcbcbc"/><stop offset="0.688" stop-color="#b9b9b9"/><stop offset="0.750" stop-color="#b5b5b5"/><stop offset="0.812" stop-color="#b0b0b0"/><stop offset="0.875" stop-color="#aaaaaa"/><stop offset="0.938" stop-color="#a3a3a3"/><stop offset="1.000" stop-color="#9b9b9b"/></linearGradient><linearGradient id="am30" x1="0" x2="0" y1="291.9" y2="719.0" gradientUnits="userSpaceOnUse"><stop offset="0.000" stop-color="#a6a6a6"/><stop offset="0.062" stop-color="#a7a7a7"/><stop offset="0.125" stop-color="#a9a9a9"/><stop offset="0.188" stop-color="#acacac"/><stop offset="0.250" stop-color="#b0b0b0"/><stop offset="0.312" stop-color="#b2b2b2"/><stop offset="0.375" stop-color="#b4b4b4"/><stop offset="0.438" stop-color="#b5b5b5"/><stop offset="0.500" stop-color="#b6b6b6"/><stop offset="0.562" stop-color="#b5b5b5"/><stop offset="0.625" stop-color="#b3b3b3"/><stop offset="0.688" stop-color="#b0b0b0"/><stop offset="0.750" stop-color="#adadad"/><stop offset="0.812" stop-color="#a9a9a9"/><stop offset="0.875" stop-color="#a4a4a4"/><stop offset="0.938" stop-color="#9e9e9e"/><stop offset="1.000" stop-color="#989898"/></linearGradient><linearGradient id="am31" x1="0" x2="0" y1="292.9" y2="717.7" gradientUnits="userSpaceOnUse"><stop offset="0.000" stop-color="#bebebe"/><stop offset="0.062" stop-color="#b6b6b6"/><stop offset="0.125" stop-color="#b0b0b0"/><stop offset="0.188" stop-color="#acacac"/><stop offset="0.250" stop-color="#aaaaaa"/><stop offset="0.312" stop-color="#ababab"/><stop offset="0.375" stop-color="#adadad"/><stop offset="0.438" stop-color="#aeaeae"/><stop offset="0.500" stop-color="#aeaeae"/><stop offset="0.562" stop-color="#acacac"/><stop offset="0.625" stop-color="#ababab"/><stop offset="0.688" stop-color="#a8a8a8"/><stop offset="0.750" stop-color="#a5a5a5"/><stop offset="0.812" stop-color="#a2a2a2"/><stop offset="0.875" stop-color="#9e9e9e"/><stop offset="0.938" stop-color="#9a9a9a"/><stop offset="1.000" stop-color="#959595"/></linearGradient><linearGradient id="am32" x1="0" x2="0" y1="293.8" y2="716.4" gradientUnits="userSpaceOnUse"><stop offset="0.000" stop-color="#dbdbdb"/><stop offset="0.062" stop-color="#cdcdcd"/><stop offset="0.125" stop-color="#c0c0c0"/><stop offset="0.188" stop-color="#b4b4b4"/><stop offset="0.250" stop-color="#ababab"/><stop offset="0.312" stop-color="#a7a7a7"/><stop offset="0.375" stop-color="#a7a7a7"/><stop offset="0.438" stop-color="#a7a7a7"/><stop offset="0.500" stop-color="#a7a7a7"/><stop offset="0.562" stop-color="#a6a6a6"/><stop offset="0.625" stop-color="#a4a4a4"/><stop offset="0.688" stop-color="#a2a2a2"/><stop offset="0.750" stop-color="#9f9f9f"/><stop offset="0.812" stop-color="#9c9c9c"/><stop offset="0.875" stop-color="#999999"/><stop offset="0.938" stop-color="#969696"/><stop offset="1.000" stop-color="#939393"/></linearGradient><linearGradient id="am33" x1="0" x2="0" y1="294.7" y2="715.1" gradientUnits="userSpaceOnUse"><stop offset="0.000" stop-color="#f3f3f3"/><stop offset="0.062" stop-color="#e3e3e3"/><stop offset="0.125" stop-color="#d2d2d2"/><stop offset="0.188" stop-color="#c0c0c0"/><stop offset="0.250" stop-color="#b0b0b0"/><stop offset="0.312" stop-color="#a5a5a5"/><stop offset="0.375" stop-color="#a2a2a2"/><stop offset="0.438" stop-color="#a2a2a2"/><stop offset="0.500" stop-color="#a2a2a2"/><stop offset="0.562" stop-color="#a1a1a1"/><stop offset="0.625" stop-color="#9f9f9f"/><stop offset="0.688" stop-color="#9c9c9c"/><stop offset="0.750" stop-color="#9a9a9a"/><stop offset="0.812" stop-color="#979797"/><stop offset="0.875" stop-color="#959595"/><stop offset="0.938" stop-color="#929292"/><stop offset="1.000" stop-color="#909090"/></linearGradient><linearGradient id="am34" x1="0" x2="0" y1="295.6" y2="713.7" gradientUnits="userSpaceOnUse"><stop offset="0.000" stop-color="#fefefe"/><stop offset="0.062" stop-color="#f4f4f4"/><stop offset="0.125" stop-color="#e3e3e3"/><stop offset="0.188" stop-color="#cdcdcd"/><stop offset="0.250" stop-color="#b8b8b8"/><stop offset="0.312" stop-color="#a7a7a7"/><stop offset="0.375" stop-color="#9f9f9f"/><stop offset="0.438" stop-color="#9f9f9f"/><stop offset="0.500" stop-color="#9f9f9f"/><stop offset="0.562" stop-color="#9d9d9d"/><stop offset="0.625" stop-color="#9a9a9a"/><stop offset="0.688" stop-color="#989898"/><stop offset="0.750" stop-color="#969696"/><stop offset="0.812" stop-color="#949494"/><stop offset="0.875" stop-color="#919191"/><stop offset="0.938" stop-color="#8f8f8f"/><stop offset="1.000" stop-color="#8e8e8e"/></linearGradient><linearGradient id="am35" x1="0" x2="0" y1="296.4" y2="712.2" gradientUnits="userSpaceOnUse"><stop offset="0.000" stop-color="#ffffff"/><stop offset="0.062" stop-color="#fcfcfc"/><stop offset="0.125" stop-color="#efefef"/><stop offset="0.188" stop-color="#d9d9d9"/><stop offset="0.250" stop-color="#c1c1c1"/><stop offset="0.312" stop-color="#ababab"/><stop offset="0.375" stop-color="#9d9d9d"/><stop offset="0.438" stop-color="#9c9c9c"/><stop offset="0.500" stop-color="#9c9c9c"/><stop offset="0.562" stop-color="#9a9a9a"/><stop offset="0.625" stop-color="#979797"/><stop offset="0.688" stop-color="#959595"/><stop offset="0.750" stop-color="#939393"/><stop offset="0.812" stop-color="#919191"/><stop offset="0.875" stop-color="#8e8e8e"/><stop offset="0.938" stop-color="#8c8c8c"/><stop offset="1.000" stop-color="#8c8c8c"/></linearGradient><linearGradient id="am36" x1="0" x2="0" y1="297.1" y2="710.7" gradientUnits="userSpaceOnUse"><stop offset="0.000" stop-color="#ffffff"/><stop offset="0.062" stop-color="#fdfdfd"/><stop offset="0.125" stop-color="#f7f7f7"/><stop offset="0.188" stop-color="#e4e4e4"/><stop offset="0.250" stop-color="#c9c9c9"/><stop offset="0.312" stop-color="#afafaf"/><stop offset="0.375" stop-color="#9d9d9d"/><stop offset="0.438" stop-color="#9a9a9a"/><stop offset="0.500" stop-color="#9a9a9a"/><stop offset="0.562" stop-color="#989898"/><stop offset="0.625" stop-color="#959595"/><stop offset="0.688" stop-color="#939393"/><stop offset="0.750" stop-color="#919191"/><stop offset="0.812" stop-color="#8e8e8e"/><stop offset="0.875" stop-color="#8c8c8c"/><stop offset="0.938" stop-color="#8a8a8a"/><stop offset="1.000" stop-color="#8a8a8a"/></linearGradient><linearGradient id="am37" x1="0" x2="0" y1="297.9" y2="709.2" gradientUnits="userSpaceOnUse"><stop offset="0.000" stop-color="#ffffff"/><stop offset="0.062" stop-color="#fdfdfd"/><stop offset="0.125" stop-color="#fbfbfb"/><stop offset="0.188" stop-color="#ebebeb"/><stop offset="0.250" stop-color="#d0d0d0"/><stop offset="0.312" stop-color="#b3b3b3"/><stop offset="0.375" stop-color="#9e9e9e"/><stop offset="0.438" stop-color="#999999"/><stop offset="0.500" stop-color="#999999"/><stop offset="0.562" stop-color="#969696"/><stop offset="0.625" stop-color="#949494"/><stop offset="0.688" stop-color="#919191"/><stop offset="0.750" stop-color="#8f8f8f"/><stop offset="0.812" stop-color="#8d8d8d"/><stop offset="0.875" stop-color="#8b8b8b"/><stop offset="0.938" stop-color="#898989"/><stop offset="1.000" stop-color="#898989"/></linearGradient><linearGradient id="am38" x1="0" x2="0" y1="298.6" y2="707.7" gradientUnits="userSpaceOnUse"><stop offset="0.000" stop-color="#ffffff"/><stop offset="0.062" stop-color="#fcfcfc"/><stop offset="0.125" stop-color="#fbfbfb"/><stop offset="0.188" stop-color="#f0f0f0"/><stop offset="0.250" stop-color="#d6d6d6"/><stop offset="0.312" stop-color="#b7b7b7"/><stop offset="0.375" stop-color="#9f9f9f"/><stop offset="0.438" stop-color="#999999"/><stop offset="0.500" stop-color="#989898"/><stop offset="0.562" stop-color="#969696"/><stop offset="0.625" stop-color="#939393"/><stop offset="0.688" stop-color="#909090"/><stop offset="0.750" stop-color="#8e8e8e"/><stop offset="0.812" stop-color="#8c8c8c"/><stop offset="0.875" stop-color="#898989"/><stop offset="0.938" stop-color="#878787"/><stop offset="1.000" stop-color="#878787"/></linearGradient><linearGradient id="am39" x1="0" x2="0" y1="299.3" y2="706.1" gradientUnits="userSpaceOnUse"><stop offset="0.000" stop-color="#ffffff"/><stop offset="0.062" stop-color="#fcfcfc"/><stop offset="0.125" stop-color="#fbfbfb"/><stop offset="0.188" stop-color="#f4f4f4"/><stop offset="0.250" stop-color="#dadada"/><stop offset="0.312" stop-color="#bababa"/><stop offset="0.375" stop-color="#a0a0a0"/><stop offset="0.438" stop-color="#989898"/><stop offset="0.500" stop-color="#989898"/><stop offset="0.562" stop-color="#959595"/><stop offset="0.625" stop-color="#929292"/><stop offset="0.688" stop-color="#909090"/><stop offset="0.750" stop-color="#8d8d8d"/><stop offset="0.812" stop-color="#8b8b8b"/><stop offset="0.875" stop-color="#898989"/><stop offset="0.938" stop-color="#878787"/><stop offset="1.000" stop-color="#878787"/></linearGradient><linearGradient id="am40" x1="0" x2="0" y1="300.0" y2="704.5" gradientUnits="userSpaceOnUse"><stop offset="0.000" stop-color="#ffffff"/><stop offset="0.062" stop-color="#fcfcfc"/><stop offset="0.125" stop-color="#fbfbfb"/><stop offset="0.188" stop-color="#f5f5f5"/><stop offset="0.250" stop-color="#dcdcdc"/><stop offset="0.312" stop-color="#bbbbbb"/><stop offset="0.375" stop-color="#a1a1a1"/><stop offset="0.438" stop-color="#989898"/><stop offset="0.500" stop-color="#989898"/><stop offset="0.562" stop-color="#959595"/><stop offset="0.625" stop-color="#929292"/><stop offset="0.688" stop-color="#909090"/><stop offset="0.750" stop-color="#8d8d8d"/><stop offset="0.812" stop-color="#8a8a8a"/><stop offset="0.875" stop-color="#888888"/><stop offset="0.938" stop-color="#868686"/><stop offset="1.000" stop-color="#868686"/></linearGradient><linearGradient id="am41" x1="0" x2="0" y1="300.7" y2="703.0" gradientUnits="userSpaceOnUse"><stop offset="0.000" stop-color="#ffffff"/><stop offset="0.062" stop-color="#fcfcfc"/><stop offset="0.125" stop-color="#fbfbfb"/><stop offset="0.188" stop-color="#f5f5f5"/><stop offset="0.250" stop-color="#dddddd"/><stop offset="0.312" stop-color="#bcbcbc"/><stop offset="0.375" stop-color="#a1a1a1"/><stop offset="0.438" stop-color="#989898"/><stop offset="0.500" stop-color="#989898"/><stop offset="0.562" stop-color="#959595"/><stop offset="0.625" stop-color="#929292"/><stop offset="0.688" stop-color="#8f8f8f"/><stop offset="0.750" stop-color="#8d8d8d"/><stop offset="0.812" stop-color="#8a8a8a"/><stop offset="0.875" stop-color="#888888"/><stop offset="0.938" stop-color="#868686"/><stop offset="1.000" stop-color="#868686"/></linearGradient><linearGradient id="am42" x1="0" x2="0" y1="301.4" y2="701.4" gradientUnits="userSpaceOnUse"><stop offset="0.000" stop-color="#ffffff"/><stop offset="0.062" stop-color="#fcfcfc"/><stop offset="0.125" stop-color="#fbfbfb"/><stop offset="0.188" stop-color="#f4f4f4"/><stop offset="0.250" stop-color="#dbdbdb"/><stop offset="0.312" stop-color="#bbbbbb"/><stop offset="0.375" stop-color="#a0a0a0"/><stop offset="0.438" stop-color="#989898"/><stop offset="0.500" stop-color="#989898"/><stop offset="0.562" stop-color="#959595"/><stop offset="0.625" stop-color="#929292"/><stop offset="0.688" stop-color="#909090"/><stop offset="0.750" stop-color="#8d8d8d"/><stop offset="0.812" stop-color="#8b8b8b"/><stop offset="0.875" stop-color="#888888"/><stop offset="0.938" stop-color="#868686"/><stop offset="1.000" stop-color="#868686"/></linearGradient><linearGradient id="am43" x1="0" x2="0" y1="302.1" y2="699.8" gradientUnits="userSpaceOnUse"><stop offset="0.000" stop-color="#ffffff"/><stop offset="0.062" stop-color="#fcfcfc"/><stop offset="0.125" stop-color="#fbfbfb"/><stop offset="0.188" stop-color="#f2f2f2"/><stop offset="0.250" stop-color="#d8d8d8"/><stop offset="0.312" stop-color="#b9b9b9"/><stop offset="0.375" stop-color="#9f9f9f"/><stop offset="0.438" stop-color="#989898"/><stop offset="0.500" stop-color="#989898"/><stop offset="0.562" stop-color="#959595"/><stop offset="0.625" stop-color="#939393"/><stop offset="0.688" stop-color="#909090"/><stop offset="0.750" stop-color="#8e8e8e"/><stop offset="0.812" stop-color="#8b8b8b"/><stop offset="0.875" stop-color="#898989"/><stop offset="0.938" stop-color="#878787"/><stop offset="1.000" stop-color="#878787"/></linearGradient><linearGradient id="am44" x1="0" x2="0" y1="302.8" y2="698.3" gradientUnits="userSpaceOnUse"><stop offset="0.000" stop-color="#ffffff"/><stop offset="0.062" stop-color="#fcfcfc"/><stop offset="0.125" stop-color="#fbfbfb"/><stop offset="0.188" stop-color="#eeeeee"/><stop offset="0.250" stop-color="#d3d3d3"/><stop offset="0.312" stop-color="#b5b5b5"/><stop offset="0.375" stop-color="#9e9e9e"/><stop offset="0.438" stop-color="#999999"/><stop offset="0.500" stop-color="#999999"/><stop offset="0.562" stop-color="#969696"/><stop offset="0.625" stop-color="#939393"/><stop offset="0.688" stop-color="#919191"/><stop offset="0.750" stop-color="#8e8e8e"/><stop offset="0.812" stop-color="#8c8c8c"/><stop offset="0.875" stop-color="#8a8a8a"/><stop offset="0.938" stop-color="#888888"/><stop offset="1.000" stop-color="#888888"/></linearGradient><linearGradient id="am45" x1="0" x2="0" y1="303.5" y2="696.7" gradientUnits="userSpaceOnUse"><stop offset="0.000" stop-color="#ffffff"/><stop offset="0.062" stop-color="#fdfdfd"/><stop offset="0.125" stop-color="#fafafa"/><stop offset="0.188" stop-color="#e8e8e8"/><stop offset="0.250" stop-color="#cdcdcd"/><stop offset="0.312" stop-color="#b1b1b1"/><stop offset="0.375" stop-color="#9e9e9e"/><stop offset="0.438" stop-color="#9a9a9a"/><stop offset="0.500" stop-color="#9a9a9a"/><stop offset="0.562" stop-color="#979797"/><stop offset="0.625" stop-color="#959595"/><stop offset="0.688" stop-color="#929292"/><stop offset="0.750" stop-color="#909090"/><stop offset="0.812" stop-color="#8d8d8d"/><stop offset="0.875" stop-color="#8b8b8b"/><stop offset="0.938" stop-color="#898989"/><stop offset="1.000" stop-color="#898989"/></linearGradient><linearGradient id="am46" x1="0" x2="0" y1="304.3" y2="695.2" gradientUnits="userSpaceOnUse"><stop offset="0.000" stop-color="#ffffff"/><stop offset="0.062" stop-color="#fdfdfd"/><stop offset="0.125" stop-color="#f4f4f4"/><stop offset="0.188" stop-color="#dfdfdf"/><stop offset="0.250" stop-color="#c5c5c5"/><stop offset="0.312" stop-color="#adadad"/><stop offset="0.375" stop-color="#9d9d9d"/><stop offset="0.438" stop-color="#9b9b9b"/><stop offset="0.500" stop-color="#9b9b9b"/><stop offset="0.562" stop-color="#999999"/><stop offset="0.625" stop-color="#969696"/><stop offset="0.688" stop-color="#949494"/><stop offset="0.750" stop-color="#929292"/><stop offset="0.812" stop-color="#8f8f8f"/><stop offset="0.875" stop-color="#8d8d8d"/><stop offset="0.938" stop-color="#8b8b8b"/><stop offset="1.000" stop-color="#8b8b8b"/></linearGradient><linearGradient id="am47" x1="0" x2="0" y1="305.0" y2="693.8" gradientUnits="userSpaceOnUse"><stop offset="0.000" stop-color="#ffffff"/><stop offset="0.062" stop-color="#f9f9f9"/><stop offset="0.125" stop-color="#e9e9e9"/><stop offset="0.188" stop-color="#d4d4d4"/><stop offset="0.250" stop-color="#bcbcbc"/><stop offset="0.312" stop-color="#a9a9a9"/><stop offset="0.375" stop-color="#9e9e9e"/><stop offset="0.438" stop-color="#9d9d9d"/><stop offset="0.500" stop-color="#9d9d9d"/><stop offset="0.562" stop-color="#9b9b9b"/><stop offset="0.625" stop-color="#999999"/><stop offset="0.688" stop-color="#979797"/><stop offset="0.750" stop-color="#949494"/><stop offset="0.812" stop-color="#929292"/><stop offset="0.875" stop-color="#909090"/><stop offset="0.938" stop-color="#8e8e8e"/><stop offset="1.000" stop-color="#8d8d8d"/></linearGradient><linearGradient id="am48" x1="0" x2="0" y1="305.9" y2="692.3" gradientUnits="userSpaceOnUse"><stop offset="0.000" stop-color="#fafafa"/><stop offset="0.062" stop-color="#ededed"/><stop offset="0.125" stop-color="#dbdbdb"/><stop offset="0.188" stop-color="#c7c7c7"/><stop offset="0.250" stop-color="#b4b4b4"/><stop offset="0.312" stop-color="#a6a6a6"/><stop offset="0.375" stop-color="#a0a0a0"/><stop offset="0.438" stop-color="#a0a0a0"/><stop offset="0.500" stop-color="#a0a0a0"/><stop offset="0.562" stop-color="#9e9e9e"/><stop offset="0.625" stop-color="#9c9c9c"/><stop offset="0.688" stop-color="#9a9a9a"/><stop offset="0.750" stop-color="#989898"/><stop offset="0.812" stop-color="#959595"/><stop offset="0.875" stop-color="#939393"/><stop offset="0.938" stop-color="#909090"/><stop offset="1.000" stop-color="#8f8f8f"/></linearGradient><linearGradient id="am49" x1="0" x2="0" y1="306.7" y2="690.9" gradientUnits="userSpaceOnUse"><stop offset="0.000" stop-color="#e8e8e8"/><stop offset="0.062" stop-color="#d9d9d9"/><stop offset="0.125" stop-color="#c9c9c9"/><stop offset="0.188" stop-color="#bababa"/><stop offset="0.250" stop-color="#adadad"/><stop offset="0.312" stop-color="#a6a6a6"/><stop offset="0.375" stop-color="#a4a4a4"/><stop offset="0.438" stop-color="#a5a5a5"/><stop offset="0.500" stop-color="#a5a5a5"/><stop offset="0.562" stop-color="#a3a3a3"/><stop offset="0.625" stop-color="#a1a1a1"/><stop offset="0.688" stop-color="#9f9f9f"/><stop offset="0.750" stop-color="#9c9c9c"/><stop offset="0.812" stop-color="#9a9a9a"/><stop offset="0.875" stop-color="#979797"/><stop offset="0.938" stop-color="#949494"/><stop offset="1.000" stop-color="#919191"/></linearGradient><linearGradient id="am50" x1="0" x2="0" y1="307.7" y2="689.6" gradientUnits="userSpaceOnUse"><stop offset="0.000" stop-color="#cdcdcd"/><stop offset="0.062" stop-color="#c1c1c1"/><stop offset="0.125" stop-color="#b7b7b7"/><stop offset="0.188" stop-color="#afafaf"/><stop offset="0.250" stop-color="#aaaaaa"/><stop offset="0.312" stop-color="#a9a9a9"/><stop offset="0.375" stop-color="#aaaaaa"/><stop offset="0.438" stop-color="#aaaaaa"/><stop offset="0.500" stop-color="#aaaaaa"/><stop offset="0.562" stop-color="#a9a9a9"/><stop offset="0.625" stop-color="#a7a7a7"/><stop offset="0.688" stop-color="#a5a5a5"/><stop offset="0.750" stop-color="#a2a2a2"/><stop offset="0.812" stop-color="#9f9f9f"/><stop offset="0.875" stop-color="#9b9b9b"/><stop offset="0.938" stop-color="#989898"/><stop offset="1.000" stop-color="#949494"/></linearGradient><linearGradient id="am51" x1="0" x2="0" y1="308.6" y2="688.3" gradientUnits="userSpaceOnUse"><stop offset="0.000" stop-color="#b0b0b0"/><stop offset="0.062" stop-color="#adadad"/><stop offset="0.125" stop-color="#ababab"/><stop offset="0.188" stop-color="#ababab"/><stop offset="0.250" stop-color="#acacac"/><stop offset="0.312" stop-color="#afafaf"/><stop offset="0.375" stop-color="#b0b0b0"/><stop offset="0.438" stop-color="#b1b1b1"/><stop offset="0.500" stop-color="#b2b2b2"/><stop offset="0.562" stop-color="#b0b0b0"/><stop offset="0.625" stop-color="#aeaeae"/><stop offset="0.688" stop-color="#acacac"/><stop offset="0.750" stop-color="#a9a9a9"/><stop offset="0.812" stop-color="#a5a5a5"/><stop offset="0.875" stop-color="#a1a1a1"/><stop offset="0.938" stop-color="#9c9c9c"/><stop offset="1.000" stop-color="#979797"/></linearGradient><linearGradient id="am52" x1="0" x2="0" y1="309.7" y2="687.1" gradientUnits="userSpaceOnUse"><stop offset="0.000" stop-color="#9f9f9f"/><stop offset="0.062" stop-color="#a4a4a4"/><stop offset="0.125" stop-color="#aaaaaa"/><stop offset="0.188" stop-color="#afafaf"/><stop offset="0.250" stop-color="#b3b3b3"/><stop offset="0.312" stop-color="#b6b6b6"/><stop offset="0.375" stop-color="#b8b8b8"/><stop offset="0.438" stop-color="#bababa"/><stop offset="0.500" stop-color="#bababa"/><stop offset="0.562" stop-color="#b9b9b9"/><stop offset="0.625" stop-color="#b7b7b7"/><stop offset="0.688" stop-color="#b5b5b5"/><stop offset="0.750" stop-color="#b1b1b1"/><stop offset="0.812" stop-color="#acacac"/><stop offset="0.875" stop-color="#a7a7a7"/><stop offset="0.938" stop-color="#a0a0a0"/><stop offset="1.000" stop-color="#9a9a9a"/></linearGradient><linearGradient id="am53" x1="0" x2="0" y1="310.7" y2="685.9" gradientUnits="userSpaceOnUse"><stop offset="0.000" stop-color="#9e9e9e"/><stop offset="0.062" stop-color="#a7a7a7"/><stop offset="0.125" stop-color="#afafaf"/><stop offset="0.188" stop-color="#b5b5b5"/><stop offset="0.250" stop-color="#bbbbbb"/><stop offset="0.312" stop-color="#bfbfbf"/><stop offset="0.375" stop-color="#c2c2c2"/><stop offset="0.438" stop-color="#c4c4c4"/><stop offset="0.500" stop-color="#c4c4c4"/><stop offset="0.562" stop-color="#c4c4c4"/><stop offset="0.625" stop-color="#c2c2c2"/><stop offset="0.688" stop-color="#bebebe"/><stop offset="0.750" stop-color="#bababa"/><stop offset="0.812" stop-color="#b4b4b4"/><stop offset="0.875" stop-color="#aeaeae"/><stop offset="0.938" stop-color="#a6a6a6"/><stop offset="1.000" stop-color="#9d9d9d"/></linearGradient><linearGradient id="am54" x1="0" x2="0" y1="311.9" y2="684.8" gradientUnits="userSpaceOnUse"><stop offset="0.000" stop-color="#9d9d9d"/><stop offset="0.062" stop-color="#a6a6a6"/><stop offset="0.125" stop-color="#aeaeae"/><stop offset="0.188" stop-color="#b4b4b4"/><stop offset="0.250" stop-color="#bababa"/><stop offset="0.312" stop-color="#bebebe"/><stop offset="0.375" stop-color="#c2c2c2"/><stop offset="0.438" stop-color="#c4c4c4"/><stop offset="0.500" stop-color="#c4c4c4"/><stop offset="0.562" stop-color="#c4c4c4"/><stop offset="0.625" stop-color="#c2c2c2"/><stop offset="0.688" stop-color="#bfbfbf"/><stop offset="0.750" stop-color="#bbbbbb"/><stop offset="0.812" stop-color="#b5b5b5"/><stop offset="0.875" stop-color="#afafaf"/><stop offset="0.938" stop-color="#a7a7a7"/><stop offset="1.000" stop-color="#9e9e9e"/></linearGradient><linearGradient id="am55" x1="0" x2="0" y1="313.0" y2="683.7" gradientUnits="userSpaceOnUse"><stop offset="0.000" stop-color="#9a9a9a"/><stop offset="0.062" stop-color="#a0a0a0"/><stop offset="0.125" stop-color="#a7a7a7"/><stop offset="0.188" stop-color="#acacac"/><stop offset="0.250" stop-color="#b1b1b1"/><stop offset="0.312" stop-color="#b5b5b5"/><stop offset="0.375" stop-color="#b7b7b7"/><stop offset="0.438" stop-color="#b9b9b9"/><stop offset="0.500" stop-color="#bababa"/><stop offset="0.562" stop-color="#bababa"/><stop offset="0.625" stop-color="#b8b8b8"/><stop offset="0.688" stop-color="#b6b6b6"/><stop offset="0.750" stop-color="#b3b3b3"/><stop offset="0.812" stop-color="#afafaf"/><stop offset="0.875" stop-color="#aaaaaa"/><stop offset="0.938" stop-color="#a4a4a4"/><stop offset="1.000" stop-color="#9f9f9f"/></linearGradient><linearGradient id="am56" x1="0" x2="0" y1="314.3" y2="682.7" gradientUnits="userSpaceOnUse"><stop offset="0.000" stop-color="#979797"/><stop offset="0.062" stop-color="#9c9c9c"/><stop offset="0.125" stop-color="#a1a1a1"/><stop offset="0.188" stop-color="#a5a5a5"/><stop offset="0.250" stop-color="#a9a9a9"/><stop offset="0.312" stop-color="#acacac"/><stop offset="0.375" stop-color="#aeaeae"/><stop offset="0.438" stop-color="#b0b0b0"/><stop offset="0.500" stop-color="#b2b2b2"/><stop offset="0.562" stop-color="#b1b1b1"/><stop offset="0.625" stop-color="#b0b0b0"/><stop offset="0.688" stop-color="#afafaf"/><stop offset="0.750" stop-color="#acacac"/><stop offset="0.812" stop-color="#ababab"/><stop offset="0.875" stop-color="#ababab"/><stop offset="0.938" stop-color="#adadad"/><stop offset="1.000" stop-color="#b0b0b0"/></linearGradient><linearGradient id="am57" x1="0" x2="0" y1="315.6" y2="681.7" gradientUnits="userSpaceOnUse"><stop offset="0.000" stop-color="#949494"/><stop offset="0.062" stop-color="#989898"/><stop offset="0.125" stop-color="#9b9b9b"/><stop offset="0.188" stop-color="#9f9f9f"/><stop offset="0.250" stop-color="#a2a2a2"/><stop offset="0.312" stop-color="#a5a5a5"/><stop offset="0.375" stop-color="#a7a7a7"/><stop offset="0.438" stop-color="#a9a9a9"/><stop offset="0.500" stop-color="#aaaaaa"/><stop offset="0.562" stop-color="#aaaaaa"/><stop offset="0.625" stop-color="#aaaaaa"/><stop offset="0.688" stop-color="#a9a9a9"/><stop offset="0.750" stop-color="#aaaaaa"/><stop offset="0.812" stop-color="#afafaf"/><stop offset="0.875" stop-color="#b7b7b7"/><stop offset="0.938" stop-color="#c1c1c1"/><stop offset="1.000" stop-color="#cdcdcd"/></linearGradient><linearGradient id="am58" x1="0" x2="0" y1="316.9" y2="680.8" gradientUnits="userSpaceOnUse"><stop offset="0.000" stop-color="#919191"/><stop offset="0.062" stop-color="#949494"/><stop offset="0.125" stop-color="#979797"/><stop offset="0.188" stop-color="#9a9a9a"/><stop offset="0.250" stop-color="#9c9c9c"/><stop offset="0.312" stop-color="#9f9f9f"/><stop offset="0.375" stop-color="#a1a1a1"/><stop offset="0.438" stop-color="#a3a3a3"/><stop offset="0.500" stop-color="#a5a5a5"/><stop offset="0.562" stop-color="#a5a5a5"/><stop offset="0.625" stop-color="#a4a4a4"/><stop offset="0.688" stop-color="#a6a6a6"/><stop offset="0.750" stop-color="#adadad"/><stop offset="0.812" stop-color="#bababa"/><stop offset="0.875" stop-color="#c9c9c9"/><stop offset="0.938" stop-color="#d9d9d9"/><stop offset="1.000" stop-color="#e8e8e8"/></linearGradient><linearGradient id="am59" x1="0" x2="0" y1="318.3" y2="679.9" gradientUnits="userSpaceOnUse"><stop offset="0.000" stop-color="#8f8f8f"/><stop offset="0.062" stop-color="#909090"/><stop offset="0.125" stop-color="#939393"/><stop offset="0.188" stop-color="#959595"/><stop offset="0.250" stop-color="#989898"/><stop offset="0.312" stop-color="#9a9a9a"/><stop offset="0.375" stop-color="#9c9c9c"/><stop offset="0.438" stop-color="#9e9e9e"/><stop offset="0.500" stop-color="#a0a0a0"/><stop offset="0.562" stop-color="#a0a0a0"/><stop offset="0.625" stop-color="#a0a0a0"/><stop offset="0.688" stop-color="#a6a6a6"/><stop offset="0.750" stop-color="#b4b4b4"/><stop offset="0.812" stop-color="#c7c7c7"/><stop offset="0.875" stop-color="#dbdbdb"/><stop offset="0.938" stop-color="#ededed"/><stop offset="1.000" stop-color="#fafafa"/></linearGradient><linearGradient id="am60" x1="0" x2="0" y1="319.7" y2="679.1" gradientUnits="userSpaceOnUse"><stop offset="0.000" stop-color="#8d8d8d"/><stop offset="0.062" stop-color="#8e8e8e"/><stop offset="0.125" stop-color="#909090"/><stop offset="0.188" stop-color="#929292"/><stop offset="0.250" stop-color="#949494"/><stop offset="0.312" stop-color="#979797"/><stop offset="0.375" stop-color="#999999"/><stop offset="0.438" stop-color="#9b9b9b"/><stop offset="0.500" stop-color="#9d9d9d"/><stop offset="0.562" stop-color="#9d9d9d"/><stop offset="0.625" stop-color="#9e9e9e"/><stop offset="0.688" stop-color="#a9a9a9"/><stop offset="0.750" stop-color="#bcbcbc"/><stop offset="0.812" stop-color="#d4d4d4"/><stop offset="0.875" stop-color="#e9e9e9"/><stop offset="0.938" stop-color="#f9f9f9"/><stop offset="1.000" stop-color="#ffffff"/></linearGradient><linearGradient id="am61" x1="0" x2="0" y1="321.2" y2="678.3" gradientUnits="userSpaceOnUse"><stop offset="0.000" stop-color="#8b8b8b"/><stop offset="0.062" stop-color="#8b8b8b"/><stop offset="0.125" stop-color="#8d8d8d"/><stop offset="0.188" stop-color="#8f8f8f"/><stop offset="0.250" stop-color="#929292"/><stop offset="0.312" stop-color="#949494"/><stop offset="0.375" stop-color="#969696"/><stop offset="0.438" stop-color="#999999"/><stop offset="0.500" stop-color="#9b9b9b"/><stop offset="0.562" stop-color="#9b9b9b"/><stop offset="0.625" stop-color="#9d9d9d"/><stop offset="0.688" stop-color="#adadad"/><stop offset="0.750" stop-color="#c5c5c5"/><stop offset="0.812" stop-color="#dfdfdf"/><stop offset="0.875" stop-color="#f4f4f4"/><stop offset="0.938" stop-color="#fdfdfd"/><stop offset="1.000" stop-color="#ffffff"/></linearGradient><linearGradient id="am62" x1="0" x2="0" y1="322.7" y2="677.5" gradientUnits="userSpaceOnUse"><stop offset="0.000" stop-color="#898989"/><stop offset="0.062" stop-color="#898989"/><stop offset="0.125" stop-color="#8b8b8b"/><stop offset="0.188" stop-color="#8d8d8d"/><stop offset="0.250" stop-color="#909090"/><stop offset="0.312" stop-color="#929292"/><stop offset="0.375" stop-color="#959595"/><stop offset="0.438" stop-color="#979797"/><stop offset="0.500" stop-color="#9a9a9a"/><stop offset="0.562" stop-color="#9a9a9a"/><stop offset="0.625" stop-color="#9e9e9e"/><stop offset="0.688" stop-color="#b1b1b1"/><stop offset="0.750" stop-color="#cdcdcd"/><stop offset="0.812" stop-color="#e8e8e8"/><stop offset="0.875" stop-color="#fafafa"/><stop offset="0.938" stop-color="#fdfdfd"/><stop offset="1.000" stop-color="#ffffff"/></linearGradient><linearGradient id="am63" x1="0" x2="0" y1="324.2" y2="676.8" gradientUnits="userSpaceOnUse"><stop offset="0.000" stop-color="#888888"/><stop offset="0.062" stop-color="#888888"/><stop offset="0.125" stop-color="#8a8a8a"/><stop offset="0.188" stop-color="#8c8c8c"/><stop offset="0.250" stop-color="#8e8e8e"/><stop offset="0.312" stop-color="#919191"/><stop offset="0.375" stop-color="#939393"/><stop offset="0.438" stop-color="#969696"/><stop offset="0.500" stop-color="#999999"/><stop offset="0.562" stop-color="#999999"/><stop offset="0.625" stop-color="#9e9e9e"/><stop offset="0.688" stop-color="#b5b5b5"/><stop offset="0.750" stop-color="#d3d3d3"/><stop offset="0.812" stop-color="#eeeeee"/><stop offset="0.875" stop-color="#fbfbfb"/><stop offset="0.938" stop-color="#fcfcfc"/><stop offset="1.000" stop-color="#ffffff"/></linearGradient><linearGradient id="am64" x1="0" x2="0" y1="325.8" y2="676.1" gradientUnits="userSpaceOnUse"><stop offset="0.000" stop-color="#878787"/><stop offset="0.062" stop-color="#878787"/><stop offset="0.125" stop-color="#898989"/><stop offset="0.188" stop-color="#8b8b8b"/><stop offset="0.250" stop-color="#8e8e8e"/><stop offset="0.312" stop-color="#909090"/><stop offset="0.375" stop-color="#939393"/><stop offset="0.438" stop-color="#959595"/><stop offset="0.500" stop-color="#989898"/><stop offset="0.562" stop-color="#989898"/><stop offset="0.625" stop-color="#9f9f9f"/><stop offset="0.688" stop-color="#b9b9b9"/><stop offset="0.750" stop-color="#d8d8d8"/><stop offset="0.812" stop-color="#f2f2f2"/><stop offset="0.875" stop-color="#fbfbfb"/><stop offset="0.938" stop-color="#fcfcfc"/><stop offset="1.000" stop-color="#ffffff"/></linearGradient><linearGradient id="am65" x1="0" x2="0" y1="327.3" y2="675.4" gradientUnits="userSpaceOnUse"><stop offset="0.000" stop-color="#868686"/><stop offset="0.062" stop-color="#868686"/><stop offset="0.125" stop-color="#888888"/><stop offset="0.188" stop-color="#8b8b8b"/><stop offset="0.250" stop-color="#8d8d8d"/><stop offset="0.312" stop-color="#909090"/><stop offset="0.375" stop-color="#929292"/><stop offset="0.438" stop-color="#959595"/><stop offset="0.500" stop-color="#989898"/><stop offset="0.562" stop-color="#989898"/><stop offset="0.625" stop-color="#a0a0a0"/><stop offset="0.688" stop-color="#bbbbbb"/><stop offset="0.750" stop-color="#dbdbdb"/><stop offset="0.812" stop-color="#f4f4f4"/><stop offset="0.875" stop-color="#fbfbfb"/><stop offset="0.938" stop-color="#fcfcfc"/><stop offset="1.000" stop-color="#ffffff"/></linearGradient><linearGradient id="am66" x1="0" x2="0" y1="328.9" y2="674.7" gradientUnits="userSpaceOnUse"><stop offset="0.000" stop-color="#868686"/><stop offset="0.062" stop-color="#868686"/><stop offset="0.125" stop-color="#888888"/><stop offset="0.188" stop-color="#8a8a8a"/><stop offset="0.250" stop-color="#8d8d8d"/><stop offset="0.312" stop-color="#8f8f8f"/><stop offset="0.375" stop-color="#929292"/><stop offset="0.438" stop-color="#959595"/><stop offset="0.500" stop-color="#989898"/><stop offset="0.562" stop-color="#989898"/><stop offset="0.625" stop-color="#a1a1a1"/><stop offset="0.688" stop-color="#bcbcbc"/><stop offset="0.750" stop-color="#dddddd"/><stop offset="0.812" stop-color="#f5f5f5"/><stop offset="0.875" stop-color="#fbfbfb"/><stop offset="0.938" stop-color="#fcfcfc"/><stop offset="1.000" stop-color="#ffffff"/></linearGradient><linearGradient id="am67" x1="0" x2="0" y1="330.5" y2="674.0" gradientUnits="userSpaceOnUse"><stop offset="0.000" stop-color="#868686"/><stop offset="0.062" stop-color="#868686"/><stop offset="0.125" stop-color="#888888"/><stop offset="0.188" stop-color="#8a8a8a"/><stop offset="0.250" stop-color="#8d8d8d"/><stop offset="0.312" stop-color="#909090"/><stop offset="0.375" stop-color="#929292"/><stop offset="0.438" stop-color="#959595"/><stop offset="0.500" stop-color="#989898"/><stop offset="0.562" stop-color="#989898"/><stop offset="0.625" stop-color="#a1a1a1"/><stop offset="0.688" stop-color="#bbbbbb"/><stop offset="0.750" stop-color="#dcdcdc"/><stop offset="0.812" stop-color="#f5f5f5"/><stop offset="0.875" stop-color="#fbfbfb"/><stop offset="0.938" stop-color="#fcfcfc"/><stop offset="1.000" stop-color="#ffffff"/></linearGradient><linearGradient id="am68" x1="0" x2="0" y1="332.1" y2="673.3" gradientUnits="userSpaceOnUse"><stop offset="0.000" stop-color="#878787"/><stop offset="0.062" stop-color="#878787"/><stop offset="0.125" stop-color="#898989"/><stop offset="0.188" stop-color="#8b8b8b"/><stop offset="0.250" stop-color="#8d8d8d"/><stop offset="0.312" stop-color="#909090"/><stop offset="0.375" stop-color="#929292"/><stop offset="0.438" stop-color="#959595"/><stop offset="0.500" stop-color="#989898"/><stop offset="0.562" stop-color="#989898"/><stop offset="0.625" stop-color="#a0a0a0"/><stop offset="0.688" stop-color="#bababa"/><stop offset="0.750" stop-color="#dadada"/><stop offset="0.812" stop-color="#f4f4f4"/><stop offset="0.875" stop-color="#fbfbfb"/><stop offset="0.938" stop-color="#fcfcfc"/><stop offset="1.000" stop-color="#ffffff"/></linearGradient><linearGradient id="am69" x1="0" x2="0" y1="333.6" y2="672.6" gradientUnits="userSpaceOnUse"><stop offset="0.000" stop-color="#878787"/><stop offset="0.062" stop-color="#878787"/><stop offset="0.125" stop-color="#898989"/><stop offset="0.188" stop-color="#8c8c8c"/><stop offset="0.250" stop-color="#8e8e8e"/><stop offset="0.312" stop-color="#909090"/><stop offset="0.375" stop-color="#939393"/><stop offset="0.438" stop-color="#969696"/><stop offset="0.500" stop-color="#989898"/><stop offset="0.562" stop-color="#999999"/><stop offset="0.625" stop-color="#9f9f9f"/><stop offset="0.688" stop-color="#b7b7b7"/><stop offset="0.750" stop-color="#d6d6d6"/><stop offset="0.812" stop-color="#f0f0f0"/><stop offset="0.875" stop-color="#fbfbfb"/><stop offset="0.938" stop-color="#fcfcfc"/><stop offset="1.000" stop-color="#ffffff"/></linearGradient><linearGradient id="am70" x1="0" x2="0" y1="335.2" y2="671.9" gradientUnits="userSpaceOnUse"><stop offset="0.000" stop-color="#898989"/><stop offset="0.062" stop-color="#898989"/><stop offset="0.125" stop-color="#8b8b8b"/><stop offset="0.188" stop-color="#8d8d8d"/><stop offset="0.250" stop-color="#8f8f8f"/><stop offset="0.312" stop-color="#919191"/><stop offset="0.375" stop-color="#949494"/><stop offset="0.438" stop-color="#969696"/><stop offset="0.500" stop-color="#999999"/><stop offset="0.562" stop-color="#999999"/><stop offset="0.625" stop-color="#9e9e9e"/><stop offset="0.688" stop-color="#b3b3b3"/><stop offset="0.750" stop-color="#d0d0d0"/><stop offset="0.812" stop-color="#ebebeb"/><stop offset="0.875" stop-color="#fbfbfb"/><stop offset="0.938" stop-color="#fdfdfd"/><stop offset="1.000" stop-color="#ffffff"/></linearGradient><linearGradient id="am71" x1="0" x2="0" y1="336.7" y2="671.2" gradientUnits="userSpaceOnUse"><stop offset="0.000" stop-color="#8a8a8a"/><stop offset="0.062" stop-color="#8a8a8a"/><stop offset="0.125" stop-color="#8c8c8c"/><stop offset="0.188" stop-color="#8e8e8e"/><stop offset="0.250" stop-color="#919191"/><stop offset="0.312" stop-color="#939393"/><stop offset="0.375" stop-color="#959595"/><stop offset="0.438" stop-color="#989898"/><stop offset="0.500" stop-color="#9a9a9a"/><stop offset="0.562" stop-color="#9a9a9a"/><stop offset="0.625" stop-color="#9d9d9d"/><stop offset="0.688" stop-color="#afafaf"/><stop offset="0.750" stop-color="#c9c9c9"/><stop offset="0.812" stop-color="#e4e4e4"/><stop offset="0.875" stop-color="#f7f7f7"/><stop offset="0.938" stop-color="#fdfdfd"/><stop offset="1.000" stop-color="#ffffff"/></linearGradient><linearGradient id="am72" x1="0" x2="0" y1="338.2" y2="670.4" gradientUnits="userSpaceOnUse"><stop offset="0.000" stop-color="#8c8c8c"/><stop offset="0.062" stop-color="#8c8c8c"/><stop offset="0.125" stop-color="#8e8e8e"/><stop offset="0.188" stop-color="#919191"/><stop offset="0.250" stop-color="#939393"/><stop offset="0.312" stop-color="#959595"/><stop offset="0.375" stop-color="#979797"/><stop offset="0.438" stop-color="#9a9a9a"/><stop offset="0.500" stop-color="#9c9c9c"/><stop offset="0.562" stop-color="#9c9c9c"/><stop offset="0.625" stop-color="#9d9d9d"/><stop offset="0.688" stop-color="#ababab"/><stop offset="0.750" stop-color="#c1c1c1"/><stop offset="0.812" stop-color="#d9d9d9"/><stop offset="0.875" stop-color="#efefef"/><stop offset="0.938" stop-color="#fcfcfc"/><stop offset="1.000" stop-color="#ffffff"/></linearGradient><linearGradient id="am73" x1="0" x2="0" y1="339.6" y2="669.6" gradientUnits="userSpaceOnUse"><stop offset="0.000" stop-color="#8e8e8e"/><stop offset="0.062" stop-color="#8f8f8f"/><stop offset="0.125" stop-color="#919191"/><stop offset="0.188" stop-color="#949494"/><stop offset="0.250" stop-color="#969696"/><stop offset="0.312" stop-color="#989898"/><stop offset="0.375" stop-color="#9a9a9a"/><stop offset="0.438" stop-color="#9d9d9d"/><stop offset="0.500" stop-color="#9f9f9f"/><stop offset="0.562" stop-color="#9f9f9f"/><stop offset="0.625" stop-color="#9f9f9f"/><stop offset="0.688" stop-color="#a7a7a7"/><stop offset="0.750" stop-color="#b8b8b8"/><stop offset="0.812" stop-color="#cdcdcd"/><stop offset="0.875" stop-color="#e3e3e3"/><stop offset="0.938" stop-color="#f4f4f4"/><stop offset="1.000" stop-color="#fefefe"/></linearGradient><linearGradient id="am74" x1="0" x2="0" y1="341.0" y2="668.7" gradientUnits="userSpaceOnUse"><stop offset="0.000" stop-color="#909090"/><stop offset="0.062" stop-color="#929292"/><stop offset="0.125" stop-color="#959595"/><stop offset="0.188" stop-color="#979797"/><stop offset="0.250" stop-color="#9a9a9a"/><stop offset="0.312" stop-color="#9c9c9c"/><stop offset="0.375" stop-color="#9f9f9f"/><stop offset="0.438" stop-color="#a1a1a1"/><stop offset="0.500" stop-color="#a2a2a2"/><stop offset="0.562" stop-color="#a2a2a2"/><stop offset="0.625" stop-color="#a2a2a2"/><stop offset="0.688" stop-color="#a5a5a5"/><stop offset="0.750" stop-color="#b0b0b0"/><stop offset="0.812" stop-color="#c0c0c0"/><stop offset="0.875" stop-color="#d2d2d2"/><stop offset="0.938" stop-color="#e3e3e3"/><stop offset="1.000" stop-color="#f3f3f3"/></linearGradient><linearGradient id="am75" x1="0" x2="0" y1="342.4" y2="667.8" gradientUnits="userSpaceOnUse"><stop offset="0.000" stop-color="#939393"/><stop offset="0.062" stop-color="#969696"/><stop offset="0.125" stop-color="#999999"/><stop offset="0.188" stop-color="#9c9c9c"/><stop offset="0.250" stop-color="#9f9f9f"/><stop offset="0.312" stop-color="#a2a2a2"/><stop offset="0.375" stop-color="#a4a4a4"/><stop offset="0.438" stop-color="#a6a6a6"/><stop offset="0.500" stop-color="#a7a7a7"/><stop offset="0.562" stop-color="#a7a7a7"/><stop offset="0.625" stop-color="#a7a7a7"/><stop offset="0.688" stop-color="#a7a7a7"/><stop offset="0.750" stop-color="#ababab"/><stop offset="0.812" stop-color="#b4b4b4"/><stop offset="0.875" stop-color="#c0c0c0"/><stop offset="0.938" stop-color="#cdcdcd"/><stop offset="1.000" stop-color="#dbdbdb"/></linearGradient><linearGradient id="am76" x1="0" x2="0" y1="343.7" y2="666.9" gradientUnits="userSpaceOnUse"><stop offset="0.000" stop-color="#959595"/><stop offset="0.062" stop-color="#9a9a9a"/><stop offset="0.125" stop-color="#9e9e9e"/><stop offset="0.188" stop-color="#a2a2a2"/><stop offset="0.250" stop-color="#a5a5a5"/><stop offset="0.312" stop-color="#a8a8a8"/><stop offset="0.375" stop-color="#ababab"/><stop offset="0.438" stop-color="#acacac"/><stop offset="0.500" stop-color="#aeaeae"/><stop offset="0.562" stop-color="#aeaeae"/><stop offset="0.625" stop-color="#adadad"/><stop offset="0.688" stop-color="#ababab"/><stop offset="0.750" stop-color="#aaaaaa"/><stop offset="0.812" stop-color="#acacac"/><stop offset="0.875" stop-color="#b0b0b0"/><stop offset="0.938" stop-color="#b6b6b6"/><stop offset="1.000" stop-color="#bebebe"/></linearGradient><linearGradient id="am77" x1="0" x2="0" y1="345.0" y2="665.9" gradientUnits="userSpaceOnUse"><stop offset="0.000" stop-color="#989898"/><stop offset="0.062" stop-color="#9e9e9e"/><stop offset="0.125" stop-color="#a4a4a4"/><stop offset="0.188" stop-color="#a9a9a9"/><stop offset="0.250" stop-color="#adadad"/><stop offset="0.312" stop-color="#b0b0b0"/><stop offset="0.375" stop-color="#b3b3b3"/><stop offset="0.438" stop-color="#b5b5b5"/><stop offset="0.500" stop-color="#b6b6b6"/><stop offset="0.562" stop-color="#b5b5b5"/><stop offset="0.625" stop-color="#b4b4b4"/><stop offset="0.688" stop-color="#b2b2b2"/><stop offset="0.750" stop-color="#b0b0b0"/><stop offset="0.812" stop-color="#acacac"/><stop offset="0.875" stop-color="#a9a9a9"/><stop offset="0.938" stop-color="#a7a7a7"/><stop offset="1.000" stop-color="#a6a6a6"/></linearGradient><linearGradient id="am78" x1="0" x2="0" y1="346.2" y2="664.9" gradientUnits="userSpaceOnUse"><stop offset="0.000" stop-color="#9b9b9b"/><stop offset="0.062" stop-color="#a3a3a3"/><stop offset="0.125" stop-color="#aaaaaa"/><stop offset="0.188" stop-color="#b0b0b0"/><stop offset="0.250" stop-color="#b5b5b5"/><stop offset="0.312" stop-color="#b9b9b9"/><stop offset="0.375" stop-color="#bcbcbc"/><stop offset="0.438" stop-color="#bebebe"/><stop offset="0.500" stop-color="#bfbfbf"/><stop offset="0.562" stop-color="#bfbfbf"/><stop offset="0.625" stop-color="#bdbdbd"/><stop offset="0.688" stop-color="#bababa"/><stop offset="0.750" stop-color="#b7b7b7"/><stop offset="0.812" stop-color="#b2b2b2"/><stop offset="0.875" stop-color="#acacac"/><stop offset="0.938" stop-color="#a6a6a6"/><stop offset="1.000" stop-color="#9e9e9e"/></linearGradient><linearGradient id="am79" x1="0" x2="0" y1="347.3" y2="663.7" gradientUnits="userSpaceOnUse"><stop offset="0.000" stop-color="#9e9e9e"/><stop offset="0.062" stop-color="#a8a8a8"/><stop offset="0.125" stop-color="#b1b1b1"/><stop offset="0.188" stop-color="#b9b9b9"/><stop offset="0.250" stop-color="#bfbfbf"/><stop offset="0.312" stop-color="#c4c4c4"/><stop offset="0.375" stop-color="#c7c7c7"/><stop offset="0.438" stop-color="#c9c9c9"/><stop offset="0.500" stop-color="#cacaca"/><stop offset="0.562" stop-color="#c9c9c9"/><stop offset="0.625" stop-color="#c7c7c7"/><stop offset="0.688" stop-color="#c4c4c4"/><stop offset="0.750" stop-color="#bfbfbf"/><stop offset="0.812" stop-color="#b9b9b9"/><stop offset="0.875" stop-color="#b1b1b1"/><stop offset="0.938" stop-color="#a8a8a8"/><stop offset="1.000" stop-color="#9e9e9e"/></linearGradient><linearGradient id="am80" x1="0" x2="0" y1="348.5" y2="662.6" gradientUnits="userSpaceOnUse"><stop offset="0.000" stop-color="#9e9e9e"/><stop offset="0.062" stop-color="#a6a6a6"/><stop offset="0.125" stop-color="#acacac"/><stop offset="0.188" stop-color="#b2b2b2"/><stop offset="0.250" stop-color="#b7b7b7"/><stop offset="0.312" stop-color="#bababa"/><stop offset="0.375" stop-color="#bdbdbd"/><stop offset="0.438" stop-color="#bfbfbf"/><stop offset="0.500" stop-color="#bfbfbf"/><stop offset="0.562" stop-color="#bebebe"/><stop offset="0.625" stop-color="#bcbcbc"/><stop offset="0.688" stop-color="#b9b9b9"/><stop offset="0.750" stop-color="#b5b5b5"/><stop offset="0.812" stop-color="#b0b0b0"/><stop offset="0.875" stop-color="#aaaaaa"/><stop offset="0.938" stop-color="#a3a3a3"/><stop offset="1.000" stop-color="#9b9b9b"/></linearGradient><linearGradient id="am81" x1="0" x2="0" y1="349.5" y2="661.4" gradientUnits="userSpaceOnUse"><stop offset="0.000" stop-color="#a6a6a6"/><stop offset="0.062" stop-color="#a7a7a7"/><stop offset="0.125" stop-color="#a9a9a9"/><stop offset="0.188" stop-color="#acacac"/><stop offset="0.250" stop-color="#b0b0b0"/><stop offset="0.312" stop-color="#b2b2b2"/><stop offset="0.375" stop-color="#b4b4b4"/><stop offset="0.438" stop-color="#b5b5b5"/><stop offset="0.500" stop-color="#b6b6b6"/><stop offset="0.562" stop-color="#b5b5b5"/><stop offset="0.625" stop-color="#b3b3b3"/><stop offset="0.688" stop-color="#b0b0b0"/><stop offset="0.750" stop-color="#adadad"/><stop offset="0.812" stop-color="#a9a9a9"/><stop offset="0.875" stop-color="#a4a4a4"/><stop offset="0.938" stop-color="#9e9e9e"/><stop offset="1.000" stop-color="#989898"/></linearGradient><linearGradient id="am82" x1="0" x2="0" y1="350.5" y2="660.1" gradientUnits="userSpaceOnUse"><stop offset="0.000" stop-color="#bebebe"/><stop offset="0.062" stop-color="#b6b6b6"/><stop offset="0.125" stop-color="#b0b0b0"/><stop offset="0.188" stop-color="#acacac"/><stop offset="0.250" stop-color="#aaaaaa"/><stop offset="0.312" stop-color="#ababab"/><stop offset="0.375" stop-color="#adadad"/><stop offset="0.438" stop-color="#aeaeae"/><stop offset="0.500" stop-color="#aeaeae"/><stop offset="0.562" stop-color="#acacac"/><stop offset="0.625" stop-color="#ababab"/><stop offset="0.688" stop-color="#a8a8a8"/><stop offset="0.750" stop-color="#a5a5a5"/><stop offset="0.812" stop-color="#a2a2a2"/><stop offset="0.875" stop-color="#9e9e9e"/><stop offset="0.938" stop-color="#9a9a9a"/><stop offset="1.000" stop-color="#959595"/></linearGradient><linearGradient id="am83" x1="0" x2="0" y1="351.4" y2="658.8" gradientUnits="userSpaceOnUse"><stop offset="0.000" stop-color="#dbdbdb"/><stop offset="0.062" stop-color="#cdcdcd"/><stop offset="0.125" stop-color="#c0c0c0"/><stop offset="0.188" stop-color="#b4b4b4"/><stop offset="0.250" stop-color="#ababab"/><stop offset="0.312" stop-color="#a7a7a7"/><stop offset="0.375" stop-color="#a7a7a7"/><stop offset="0.438" stop-color="#a7a7a7"/><stop offset="0.500" stop-color="#a7a7a7"/><stop offset="0.562" stop-color="#a6a6a6"/><stop offset="0.625" stop-color="#a4a4a4"/><stop offset="0.688" stop-color="#a2a2a2"/><stop offset="0.750" stop-color="#9f9f9f"/><stop offset="0.812" stop-color="#9c9c9c"/><stop offset="0.875" stop-color="#999999"/><stop offset="0.938" stop-color="#969696"/><stop offset="1.000" stop-color="#939393"/></linearGradient><linearGradient id="am84" x1="0" x2="0" y1="352.3" y2="657.4" gradientUnits="userSpaceOnUse"><stop offset="0.000" stop-color="#f3f3f3"/><stop offset="0.062" stop-color="#e3e3e3"/><stop offset="0.125" stop-color="#d2d2d2"/><stop offset="0.188" stop-color="#c0c0c0"/><stop offset="0.250" stop-color="#b0b0b0"/><stop offset="0.312" stop-color="#a5a5a5"/><stop offset="0.375" stop-color="#a2a2a2"/><stop offset="0.438" stop-color="#a2a2a2"/><stop offset="0.500" stop-color="#a2a2a2"/><stop offset="0.562" stop-color="#a1a1a1"/><stop offset="0.625" stop-color="#9f9f9f"/><stop offset="0.688" stop-color="#9c9c9c"/><stop offset="0.750" stop-color="#9a9a9a"/><stop offset="0.812" stop-color="#979797"/><stop offset="0.875" stop-color="#959595"/><stop offset="0.938" stop-color="#929292"/><stop offset="1.000" stop-color="#909090"/></linearGradient><linearGradient id="am85" x1="0" x2="0" y1="353.2" y2="656.0" gradientUnits="userSpaceOnUse"><stop offset="0.000" stop-color="#fefefe"/><stop offset="0.062" stop-color="#f4f4f4"/><stop offset="0.125" stop-color="#e3e3e3"/><stop offset="0.188" stop-color="#cdcdcd"/><stop offset="0.250" stop-color="#b8b8b8"/><stop offset="0.312" stop-color="#a7a7a7"/><stop offset="0.375" stop-color="#9f9f9f"/><stop offset="0.438" stop-color="#9f9f9f"/><stop offset="0.500" stop-color="#9f9f9f"/><stop offset="0.562" stop-color="#9d9d9d"/><stop offset="0.625" stop-color="#9a9a9a"/><stop offset="0.688" stop-color="#989898"/><stop offset="0.750" stop-color="#969696"/><stop offset="0.812" stop-color="#949494"/><stop offset="0.875" stop-color="#919191"/><stop offset="0.938" stop-color="#8f8f8f"/><stop offset="1.000" stop-color="#8e8e8e"/></linearGradient><linearGradient id="am86" x1="0" x2="0" y1="354.0" y2="654.6" gradientUnits="userSpaceOnUse"><stop offset="0.000" stop-color="#ffffff"/><stop offset="0.062" stop-color="#fcfcfc"/><stop offset="0.125" stop-color="#efefef"/><stop offset="0.188" stop-color="#d9d9d9"/><stop offset="0.250" stop-color="#c1c1c1"/><stop offset="0.312" stop-color="#ababab"/><stop offset="0.375" stop-color="#9d9d9d"/><stop offset="0.438" stop-color="#9c9c9c"/><stop offset="0.500" stop-color="#9c9c9c"/><stop offset="0.562" stop-color="#9a9a9a"/><stop offset="0.625" stop-color="#979797"/><stop offset="0.688" stop-color="#959595"/><stop offset="0.750" stop-color="#939393"/><stop offset="0.812" stop-color="#919191"/><stop offset="0.875" stop-color="#8e8e8e"/><stop offset="0.938" stop-color="#8c8c8c"/><stop offset="1.000" stop-color="#8c8c8c"/></linearGradient><linearGradient id="am87" x1="0" x2="0" y1="354.8" y2="653.1" gradientUnits="userSpaceOnUse"><stop offset="0.000" stop-color="#ffffff"/><stop offset="0.062" stop-color="#fdfdfd"/><stop offset="0.125" stop-color="#f7f7f7"/><stop offset="0.188" stop-color="#e4e4e4"/><stop offset="0.250" stop-color="#c9c9c9"/><stop offset="0.312" stop-color="#afafaf"/><stop offset="0.375" stop-color="#9d9d9d"/><stop offset="0.438" stop-color="#9a9a9a"/><stop offset="0.500" stop-color="#9a9a9a"/><stop offset="0.562" stop-color="#989898"/><stop offset="0.625" stop-color="#959595"/><stop offset="0.688" stop-color="#939393"/><stop offset="0.750" stop-color="#919191"/><stop offset="0.812" stop-color="#8e8e8e"/><stop offset="0.875" stop-color="#8c8c8c"/><stop offset="0.938" stop-color="#8a8a8a"/><stop offset="1.000" stop-color="#8a8a8a"/></linearGradient><linearGradient id="am88" x1="0" x2="0" y1="355.5" y2="651.6" gradientUnits="userSpaceOnUse"><stop offset="0.000" stop-color="#ffffff"/><stop offset="0.062" stop-color="#fdfdfd"/><stop offset="0.125" stop-color="#fbfbfb"/><stop offset="0.188" stop-color="#ebebeb"/><stop offset="0.250" stop-color="#d0d0d0"/><stop offset="0.312" stop-color="#b3b3b3"/><stop offset="0.375" stop-color="#9e9e9e"/><stop offset="0.438" stop-color="#999999"/><stop offset="0.500" stop-color="#999999"/><stop offset="0.562" stop-color="#969696"/><stop offset="0.625" stop-color="#949494"/><stop offset="0.688" stop-color="#919191"/><stop offset="0.750" stop-color="#8f8f8f"/><stop offset="0.812" stop-color="#8d8d8d"/><stop offset="0.875" stop-color="#8b8b8b"/><stop offset="0.938" stop-color="#898989"/><stop offset="1.000" stop-color="#898989"/></linearGradient><linearGradient id="am89" x1="0" x2="0" y1="356.2" y2="650.0" gradientUnits="userSpaceOnUse"><stop offset="0.000" stop-color="#ffffff"/><stop offset="0.062" stop-color="#fcfcfc"/><stop offset="0.125" stop-color="#fbfbfb"/><stop offset="0.188" stop-color="#f0f0f0"/><stop offset="0.250" stop-color="#d6d6d6"/><stop offset="0.312" stop-color="#b7b7b7"/><stop offset="0.375" stop-color="#9f9f9f"/><stop offset="0.438" stop-color="#999999"/><stop offset="0.500" stop-color="#989898"/><stop offset="0.562" stop-color="#969696"/><stop offset="0.625" stop-color="#939393"/><stop offset="0.688" stop-color="#909090"/><stop offset="0.750" stop-color="#8e8e8e"/><stop offset="0.812" stop-color="#8c8c8c"/><stop offset="0.875" stop-color="#898989"/><stop offset="0.938" stop-color="#878787"/><stop offset="1.000" stop-color="#878787"/></linearGradient><linearGradient id="am90" x1="0" x2="0" y1="356.9" y2="648.5" gradientUnits="userSpaceOnUse"><stop offset="0.000" stop-color="#ffffff"/><stop offset="0.062" stop-color="#fcfcfc"/><stop offset="0.125" stop-color="#fbfbfb"/><stop offset="0.188" stop-color="#f4f4f4"/><stop offset="0.250" stop-color="#dadada"/><stop offset="0.312" stop-color="#bababa"/><stop offset="0.375" stop-color="#a0a0a0"/><stop offset="0.438" stop-color="#989898"/><stop offset="0.500" stop-color="#989898"/><stop offset="0.562" stop-color="#959595"/><stop offset="0.625" stop-color="#929292"/><stop offset="0.688" stop-color="#909090"/><stop offset="0.750" stop-color="#8d8d8d"/><stop offset="0.812" stop-color="#8b8b8b"/><stop offset="0.875" stop-color="#898989"/><stop offset="0.938" stop-color="#878787"/><stop offset="1.000" stop-color="#878787"/></linearGradient><linearGradient id="am91" x1="0" x2="0" y1="357.6" y2="646.9" gradientUnits="userSpaceOnUse"><stop offset="0.000" stop-color="#ffffff"/><stop offset="0.062" stop-color="#fcfcfc"/><stop offset="0.125" stop-color="#fbfbfb"/><stop offset="0.188" stop-color="#f5f5f5"/><stop offset="0.250" stop-color="#dcdcdc"/><stop offset="0.312" stop-color="#bbbbbb"/><stop offset="0.375" stop-color="#a1a1a1"/><stop offset="0.438" stop-color="#989898"/><stop offset="0.500" stop-color="#989898"/><stop offset="0.562" stop-color="#959595"/><stop offset="0.625" stop-color="#929292"/><stop offset="0.688" stop-color="#909090"/><stop offset="0.750" stop-color="#8d8d8d"/><stop offset="0.812" stop-color="#8a8a8a"/><stop offset="0.875" stop-color="#888888"/><stop offset="0.938" stop-color="#868686"/><stop offset="1.000" stop-color="#868686"/></linearGradient><linearGradient id="am92" x1="0" x2="0" y1="358.3" y2="645.3" gradientUnits="userSpaceOnUse"><stop offset="0.000" stop-color="#ffffff"/><stop offset="0.062" stop-color="#fcfcfc"/><stop offset="0.125" stop-color="#fbfbfb"/><stop offset="0.188" stop-color="#f5f5f5"/><stop offset="0.250" stop-color="#dddddd"/><stop offset="0.312" stop-color="#bcbcbc"/><stop offset="0.375" stop-color="#a1a1a1"/><stop offset="0.438" stop-color="#989898"/><stop offset="0.500" stop-color="#989898"/><stop offset="0.562" stop-color="#959595"/><stop offset="0.625" stop-color="#929292"/><stop offset="0.688" stop-color="#8f8f8f"/><stop offset="0.750" stop-color="#8d8d8d"/><stop offset="0.812" stop-color="#8a8a8a"/><stop offset="0.875" stop-color="#888888"/><stop offset="0.938" stop-color="#868686"/><stop offset="1.000" stop-color="#868686"/></linearGradient><linearGradient id="am93" x1="0" x2="0" y1="359.0" y2="643.7" gradientUnits="userSpaceOnUse"><stop offset="0.000" stop-color="#ffffff"/><stop offset="0.062" stop-color="#fcfcfc"/><stop offset="0.125" stop-color="#fbfbfb"/><stop offset="0.188" stop-color="#f4f4f4"/><stop offset="0.250" stop-color="#dbdbdb"/><stop offset="0.312" stop-color="#bbbbbb"/><stop offset="0.375" stop-color="#a0a0a0"/><stop offset="0.438" stop-color="#989898"/><stop offset="0.500" stop-color="#989898"/><stop offset="0.562" stop-color="#959595"/><stop offset="0.625" stop-color="#929292"/><stop offset="0.688" stop-color="#909090"/><stop offset="0.750" stop-color="#8d8d8d"/><stop offset="0.812" stop-color="#8b8b8b"/><stop offset="0.875" stop-color="#888888"/><stop offset="0.938" stop-color="#868686"/><stop offset="1.000" stop-color="#868686"/></linearGradient><linearGradient id="am94" x1="0" x2="0" y1="359.7" y2="642.2" gradientUnits="userSpaceOnUse"><stop offset="0.000" stop-color="#ffffff"/><stop offset="0.062" stop-color="#fcfcfc"/><stop offset="0.125" stop-color="#fbfbfb"/><stop offset="0.188" stop-color="#f2f2f2"/><stop offset="0.250" stop-color="#d8d8d8"/><stop offset="0.312" stop-color="#b9b9b9"/><stop offset="0.375" stop-color="#9f9f9f"/><stop offset="0.438" stop-color="#989898"/><stop offset="0.500" stop-color="#989898"/><stop offset="0.562" stop-color="#959595"/><stop offset="0.625" stop-color="#939393"/><stop offset="0.688" stop-color="#909090"/><stop offset="0.750" stop-color="#8e8e8e"/><stop offset="0.812" stop-color="#8b8b8b"/><stop offset="0.875" stop-color="#898989"/><stop offset="0.938" stop-color="#878787"/><stop offset="1.000" stop-color="#878787"/></linearGradient><linearGradient id="am95" x1="0" x2="0" y1="360.4" y2="640.6" gradientUnits="userSpaceOnUse"><stop offset="0.000" stop-color="#ffffff"/><stop offset="0.062" stop-color="#fcfcfc"/><stop offset="0.125" stop-color="#fbfbfb"/><stop offset="0.188" stop-color="#eeeeee"/><stop offset="0.250" stop-color="#d3d3d3"/><stop offset="0.312" stop-color="#b5b5b5"/><stop offset="0.375" stop-color="#9e9e9e"/><stop offset="0.438" stop-color="#999999"/><stop offset="0.500" stop-color="#999999"/><stop offset="0.562" stop-color="#969696"/><stop offset="0.625" stop-color="#939393"/><stop offset="0.688" stop-color="#919191"/><stop offset="0.750" stop-color="#8e8e8e"/><stop offset="0.812" stop-color="#8c8c8c"/><stop offset="0.875" stop-color="#8a8a8a"/><stop offset="0.938" stop-color="#888888"/><stop offset="1.000" stop-color="#888888"/></linearGradient><linearGradient id="am96" x1="0" x2="0" y1="361.1" y2="639.1" gradientUnits="userSpaceOnUse"><stop offset="0.000" stop-color="#ffffff"/><stop offset="0.062" stop-color="#fdfdfd"/><stop offset="0.125" stop-color="#fafafa"/><stop offset="0.188" stop-color="#e8e8e8"/><stop offset="0.250" stop-color="#cdcdcd"/><stop offset="0.312" stop-color="#b1b1b1"/><stop offset="0.375" stop-color="#9e9e9e"/><stop offset="0.438" stop-color="#9a9a9a"/><stop offset="0.500" stop-color="#9a9a9a"/><stop offset="0.562" stop-color="#979797"/><stop offset="0.625" stop-color="#959595"/><stop offset="0.688" stop-color="#929292"/><stop offset="0.750" stop-color="#909090"/><stop offset="0.812" stop-color="#8d8d8d"/><stop offset="0.875" stop-color="#8b8b8b"/><stop offset="0.938" stop-color="#898989"/><stop offset="1.000" stop-color="#898989"/></linearGradient><linearGradient id="am97" x1="0" x2="0" y1="361.9" y2="637.6" gradientUnits="userSpaceOnUse"><stop offset="0.000" stop-color="#ffffff"/><stop offset="0.062" stop-color="#fdfdfd"/><stop offset="0.125" stop-color="#f4f4f4"/><stop offset="0.188" stop-color="#dfdfdf"/><stop offset="0.250" stop-color="#c5c5c5"/><stop offset="0.312" stop-color="#adadad"/><stop offset="0.375" stop-color="#9d9d9d"/><stop offset="0.438" stop-color="#9b9b9b"/><stop offset="0.500" stop-color="#9b9b9b"/><stop offset="0.562" stop-color="#999999"/><stop offset="0.625" stop-color="#969696"/><stop offset="0.688" stop-color="#949494"/><stop offset="0.750" stop-color="#929292"/><stop offset="0.812" stop-color="#8f8f8f"/><stop offset="0.875" stop-color="#8d8d8d"/><stop offset="0.938" stop-color="#8b8b8b"/><stop offset="1.000" stop-color="#8b8b8b"/></linearGradient><linearGradient id="am98" x1="0" x2="0" y1="362.7" y2="636.1" gradientUnits="userSpaceOnUse"><stop offset="0.000" stop-color="#ffffff"/><stop offset="0.062" stop-color="#f9f9f9"/><stop offset="0.125" stop-color="#e9e9e9"/><stop offset="0.188" stop-color="#d4d4d4"/><stop offset="0.250" stop-color="#bcbcbc"/><stop offset="0.312" stop-color="#a9a9a9"/><stop offset="0.375" stop-color="#9e9e9e"/><stop offset="0.438" stop-color="#9d9d9d"/><stop offset="0.500" stop-color="#9d9d9d"/><stop offset="0.562" stop-color="#9b9b9b"/><stop offset="0.625" stop-color="#999999"/><stop offset="0.688" stop-color="#979797"/><stop offset="0.750" stop-color="#949494"/><stop offset="0.812" stop-color="#929292"/><stop offset="0.875" stop-color="#909090"/><stop offset="0.938" stop-color="#8e8e8e"/><stop offset="1.000" stop-color="#8d8d8d"/></linearGradient><linearGradient id="am99" x1="0" x2="0" y1="363.5" y2="634.7" gradientUnits="userSpaceOnUse"><stop offset="0.000" stop-color="#fafafa"/><stop offset="0.062" stop-color="#ededed"/><stop offset="0.125" stop-color="#dbdbdb"/><stop offset="0.188" stop-color="#c7c7c7"/><stop offset="0.250" stop-color="#b4b4b4"/><stop offset="0.312" stop-color="#a6a6a6"/><stop offset="0.375" stop-color="#a0a0a0"/><stop offset="0.438" stop-color="#a0a0a0"/><stop offset="0.500" stop-color="#a0a0a0"/><stop offset="0.562" stop-color="#9e9e9e"/><stop offset="0.625" stop-color="#9c9c9c"/><stop offset="0.688" stop-color="#9a9a9a"/><stop offset="0.750" stop-color="#989898"/><stop offset="0.812" stop-color="#959595"/><stop offset="0.875" stop-color="#939393"/><stop offset="0.938" stop-color="#909090"/><stop offset="1.000" stop-color="#8f8f8f"/></linearGradient><linearGradient id="am100" x1="0" x2="0" y1="364.4" y2="633.3" gradientUnits="userSpaceOnUse"><stop offset="0.000" stop-color="#e8e8e8"/><stop offset="0.062" stop-color="#d9d9d9"/><stop offset="0.125" stop-color="#c9c9c9"/><stop offset="0.188" stop-color="#bababa"/><stop offset="0.250" stop-color="#adadad"/><stop offset="0.312" stop-color="#a6a6a6"/><stop offset="0.375" stop-color="#a4a4a4"/><stop offset="0.438" stop-color="#a5a5a5"/><stop offset="0.500" stop-color="#a5a5a5"/><stop offset="0.562" stop-color="#a3a3a3"/><stop offset="0.625" stop-color="#a1a1a1"/><stop offset="0.688" stop-color="#9f9f9f"/><stop offset="0.750" stop-color="#9c9c9c"/><stop offset="0.812" stop-color="#9a9a9a"/><stop offset="0.875" stop-color="#979797"/><stop offset="0.938" stop-color="#949494"/><stop offset="1.000" stop-color="#919191"/></linearGradient><linearGradient id="am101" x1="0" x2="0" y1="365.3" y2="632.0" gradientUnits="userSpaceOnUse"><stop offset="0.000" stop-color="#cdcdcd"/><stop offset="0.062" stop-color="#c1c1c1"/><stop offset="0.125" stop-color="#b7b7b7"/><stop offset="0.188" stop-color="#afafaf"/><stop offset="0.250" stop-color="#aaaaaa"/><stop offset="0.312" stop-color="#a9a9a9"/><stop offset="0.375" stop-color="#aaaaaa"/><stop offset="0.438" stop-color="#aaaaaa"/><stop offset="0.500" stop-color="#aaaaaa"/><stop offset="0.562" stop-color="#a9a9a9"/><stop offset="0.625" stop-color="#a7a7a7"/><stop offset="0.688" stop-color="#a5a5a5"/><stop offset="0.750" stop-color="#a2a2a2"/><stop offset="0.812" stop-color="#9f9f9f"/><stop offset="0.875" stop-color="#9b9b9b"/><stop offset="0.938" stop-color="#989898"/><stop offset="1.000" stop-color="#949494"/></linearGradient><linearGradient id="am102" x1="0" x2="0" y1="366.3" y2="630.7" gradientUnits="userSpaceOnUse"><stop offset="0.000" stop-color="#b0b0b0"/><stop offset="0.062" stop-color="#adadad"/><stop offset="0.125" stop-color="#ababab"/><stop offset="0.188" stop-color="#ababab"/><stop offset="0.250" stop-color="#acacac"/><stop offset="0.312" stop-color="#afafaf"/><stop offset="0.375" stop-color="#b0b0b0"/><stop offset="0.438" stop-color="#b1b1b1"/><stop offset="0.500" stop-color="#b2b2b2"/><stop offset="0.562" stop-color="#b0b0b0"/><stop offset="0.625" stop-color="#aeaeae"/><stop offset="0.688" stop-color="#acacac"/><stop offset="0.750" stop-color="#a9a9a9"/><stop offset="0.812" stop-color="#a5a5a5"/><stop offset="0.875" stop-color="#a1a1a1"/><stop offset="0.938" stop-color="#9c9c9c"/><stop offset="1.000" stop-color="#979797"/></linearGradient><linearGradient id="am103" x1="0" x2="0" y1="367.3" y2="629.4" gradientUnits="userSpaceOnUse"><stop offset="0.000" stop-color="#9f9f9f"/><stop offset="0.062" stop-color="#a4a4a4"/><stop offset="0.125" stop-color="#aaaaaa"/><stop offset="0.188" stop-color="#afafaf"/><stop offset="0.250" stop-color="#b3b3b3"/><stop offset="0.312" stop-color="#b6b6b6"/><stop offset="0.375" stop-color="#b8b8b8"/><stop offset="0.438" stop-color="#bababa"/><stop offset="0.500" stop-color="#bababa"/><stop offset="0.562" stop-color="#b9b9b9"/><stop offset="0.625" stop-color="#b7b7b7"/><stop offset="0.688" stop-color="#b5b5b5"/><stop offset="0.750" stop-color="#b1b1b1"/><stop offset="0.812" stop-color="#acacac"/><stop offset="0.875" stop-color="#a7a7a7"/><stop offset="0.938" stop-color="#a0a0a0"/><stop offset="1.000" stop-color="#9a9a9a"/></linearGradient><linearGradient id="am104" x1="0" x2="0" y1="368.4" y2="628.3" gradientUnits="userSpaceOnUse"><stop offset="0.000" stop-color="#9e9e9e"/><stop offset="0.062" stop-color="#a7a7a7"/><stop offset="0.125" stop-color="#afafaf"/><stop offset="0.188" stop-color="#b5b5b5"/><stop offset="0.250" stop-color="#bbbbbb"/><stop offset="0.312" stop-color="#bfbfbf"/><stop offset="0.375" stop-color="#c2c2c2"/><stop offset="0.438" stop-color="#c4c4c4"/><stop offset="0.500" stop-color="#c4c4c4"/><stop offset="0.562" stop-color="#c4c4c4"/><stop offset="0.625" stop-color="#c2c2c2"/><stop offset="0.688" stop-color="#bebebe"/><stop offset="0.750" stop-color="#bababa"/><stop offset="0.812" stop-color="#b4b4b4"/><stop offset="0.875" stop-color="#aeaeae"/><stop offset="0.938" stop-color="#a6a6a6"/><stop offset="1.000" stop-color="#9d9d9d"/></linearGradient><linearGradient id="am105" x1="0" x2="0" y1="369.5" y2="627.1" gradientUnits="userSpaceOnUse"><stop offset="0.000" stop-color="#9d9d9d"/><stop offset="0.062" stop-color="#a6a6a6"/><stop offset="0.125" stop-color="#aeaeae"/><stop offset="0.188" stop-color="#b4b4b4"/><stop offset="0.250" stop-color="#bababa"/><stop offset="0.312" stop-color="#bebebe"/><stop offset="0.375" stop-color="#c2c2c2"/><stop offset="0.438" stop-color="#c4c4c4"/><stop offset="0.500" stop-color="#c4c4c4"/><stop offset="0.562" stop-color="#c4c4c4"/><stop offset="0.625" stop-color="#c2c2c2"/><stop offset="0.688" stop-color="#bfbfbf"/><stop offset="0.750" stop-color="#bbbbbb"/><stop offset="0.812" stop-color="#b5b5b5"/><stop offset="0.875" stop-color="#afafaf"/><stop offset="0.938" stop-color="#a7a7a7"/><stop offset="1.000" stop-color="#9e9e9e"/></linearGradient><linearGradient id="am106" x1="0" x2="0" y1="370.7" y2="626.1" gradientUnits="userSpaceOnUse"><stop offset="0.000" stop-color="#9a9a9a"/><stop offset="0.062" stop-color="#a0a0a0"/><stop offset="0.125" stop-color="#a7a7a7"/><stop offset="0.188" stop-color="#acacac"/><stop offset="0.250" stop-color="#b1b1b1"/><stop offset="0.312" stop-color="#b5b5b5"/><stop offset="0.375" stop-color="#b7b7b7"/><stop offset="0.438" stop-color="#b9b9b9"/><stop offset="0.500" stop-color="#bababa"/><stop offset="0.562" stop-color="#bababa"/><stop offset="0.625" stop-color="#b8b8b8"/><stop offset="0.688" stop-color="#b6b6b6"/><stop offset="0.750" stop-color="#b3b3b3"/><stop offset="0.812" stop-color="#afafaf"/><stop offset="0.875" stop-color="#aaaaaa"/><stop offset="0.938" stop-color="#a4a4a4"/><stop offset="1.000" stop-color="#9f9f9f"/></linearGradient><linearGradient id="am107" x1="0" x2="0" y1="371.9" y2="625.0" gradientUnits="userSpaceOnUse"><stop offset="0.000" stop-color="#979797"/><stop offset="0.062" stop-color="#9c9c9c"/><stop offset="0.125" stop-color="#a1a1a1"/><stop offset="0.188" stop-color="#a5a5a5"/><stop offset="0.250" stop-color="#a9a9a9"/><stop offset="0.312" stop-color="#acacac"/><stop offset="0.375" stop-color="#aeaeae"/><stop offset="0.438" stop-color="#b0b0b0"/><stop offset="0.500" stop-color="#b2b2b2"/><stop offset="0.562" stop-color="#b1b1b1"/><stop offset="0.625" stop-color="#b0b0b0"/><stop offset="0.688" stop-color="#afafaf"/><stop offset="0.750" stop-color="#acacac"/><stop offset="0.812" stop-color="#ababab"/><stop offset="0.875" stop-color="#ababab"/><stop offset="0.938" stop-color="#adadad"/><stop offset="1.000" stop-color="#b0b0b0"/></linearGradient><linearGradient id="am108" x1="0" x2="0" y1="373.2" y2="624.1" gradientUnits="userSpaceOnUse"><stop offset="0.000" stop-color="#949494"/><stop offset="0.062" stop-color="#989898"/><stop offset="0.125" stop-color="#9b9b9b"/><stop offset="0.188" stop-color="#9f9f9f"/><stop offset="0.250" stop-color="#a2a2a2"/><stop offset="0.312" stop-color="#a5a5a5"/><stop offset="0.375" stop-color="#a7a7a7"/><stop offset="0.438" stop-color="#a9a9a9"/><stop offset="0.500" stop-color="#aaaaaa"/><stop offset="0.562" stop-color="#aaaaaa"/><stop offset="0.625" stop-color="#aaaaaa"/><stop offset="0.688" stop-color="#a9a9a9"/><stop offset="0.750" stop-color="#aaaaaa"/><stop offset="0.812" stop-color="#afafaf"/><stop offset="0.875" stop-color="#b7b7b7"/><stop offset="0.938" stop-color="#c1c1c1"/><stop offset="1.000" stop-color="#cdcdcd"/></linearGradient><linearGradient id="am109" x1="0" x2="0" y1="374.5" y2="623.1" gradientUnits="userSpaceOnUse"><stop offset="0.000" stop-color="#919191"/><stop offset="0.062" stop-color="#949494"/><stop offset="0.125" stop-color="#979797"/><stop offset="0.188" stop-color="#9a9a9a"/><stop offset="0.250" stop-color="#9c9c9c"/><stop offset="0.312" stop-color="#9f9f9f"/><stop offset="0.375" stop-color="#a1a1a1"/><stop offset="0.438" stop-color="#a3a3a3"/><stop offset="0.500" stop-color="#a5a5a5"/><stop offset="0.562" stop-color="#a5a5a5"/><stop offset="0.625" stop-color="#a4a4a4"/><stop offset="0.688" stop-color="#a6a6a6"/><stop offset="0.750" stop-color="#adadad"/><stop offset="0.812" stop-color="#bababa"/><stop offset="0.875" stop-color="#c9c9c9"/><stop offset="0.938" stop-color="#d9d9d9"/><stop offset="1.000" stop-color="#e8e8e8"/></linearGradient><linearGradient id="am110" x1="0" x2="0" y1="375.9" y2="622.3" gradientUnits="userSpaceOnUse"><stop offset="0.000" stop-color="#8f8f8f"/><stop offset="0.062" stop-color="#909090"/><stop offset="0.125" stop-color="#939393"/><stop offset="0.188" stop-color="#959595"/><stop offset="0.250" stop-color="#989898"/><stop offset="0.312" stop-color="#9a9a9a"/><stop offset="0.375" stop-color="#9c9c9c"/><stop offset="0.438" stop-color="#9e9e9e"/><stop offset="0.500" stop-color="#a0a0a0"/><stop offset="0.562" stop-color="#a0a0a0"/><stop offset="0.625" stop-color="#a0a0a0"/><stop offset="0.688" stop-color="#a6a6a6"/><stop offset="0.750" stop-color="#b4b4b4"/><stop offset="0.812" stop-color="#c7c7c7"/><stop offset="0.875" stop-color="#dbdbdb"/><stop offset="0.938" stop-color="#ededed"/><stop offset="1.000" stop-color="#fafafa"/></linearGradient><linearGradient id="am111" x1="0" x2="0" y1="377.4" y2="621.4" gradientUnits="userSpaceOnUse"><stop offset="0.000" stop-color="#8d8d8d"/><stop offset="0.062" stop-color="#8e8e8e"/><stop offset="0.125" stop-color="#909090"/><stop offset="0.188" stop-color="#929292"/><stop offset="0.250" stop-color="#949494"/><stop offset="0.312" stop-color="#979797"/><stop offset="0.375" stop-color="#999999"/><stop offset="0.438" stop-color="#9b9b9b"/><stop offset="0.500" stop-color="#9d9d9d"/><stop offset="0.562" stop-color="#9d9d9d"/><stop offset="0.625" stop-color="#9e9e9e"/><stop offset="0.688" stop-color="#a9a9a9"/><stop offset="0.750" stop-color="#bcbcbc"/><stop offset="0.812" stop-color="#d4d4d4"/><stop offset="0.875" stop-color="#e9e9e9"/><stop offset="0.938" stop-color="#f9f9f9"/><stop offset="1.000" stop-color="#ffffff"/></linearGradient><linearGradient id="am112" x1="0" x2="0" y1="378.8" y2="620.7" gradientUnits="userSpaceOnUse"><stop offset="0.000" stop-color="#8b8b8b"/><stop offset="0.062" stop-color="#8b8b8b"/><stop offset="0.125" stop-color="#8d8d8d"/><stop offset="0.188" stop-color="#8f8f8f"/><stop offset="0.250" stop-color="#929292"/><stop offset="0.312" stop-color="#949494"/><stop offset="0.375" stop-color="#969696"/><stop offset="0.438" stop-color="#999999"/><stop offset="0.500" stop-color="#9b9b9b"/><stop offset="0.562" stop-color="#9b9b9b"/><stop offset="0.625" stop-color="#9d9d9d"/><stop offset="0.688" stop-color="#adadad"/><stop offset="0.750" stop-color="#c5c5c5"/><stop offset="0.812" stop-color="#dfdfdf"/><stop offset="0.875" stop-color="#f4f4f4"/><stop offset="0.938" stop-color="#fdfdfd"/><stop offset="1.000" stop-color="#ffffff"/></linearGradient><linearGradient id="am113" x1="0" x2="0" y1="380.3" y2="619.9" gradientUnits="userSpaceOnUse"><stop offset="0.000" stop-color="#898989"/><stop offset="0.062" stop-color="#898989"/><stop offset="0.125" stop-color="#8b8b8b"/><stop offset="0.188" stop-color="#8d8d8d"/><stop offset="0.250" stop-color="#909090"/><stop offset="0.312" stop-color="#929292"/><stop offset="0.375" stop-color="#959595"/><stop offset="0.438" stop-color="#979797"/><stop offset="0.500" stop-color="#9a9a9a"/><stop offset="0.562" stop-color="#9a9a9a"/><stop offset="0.625" stop-color="#9e9e9e"/><stop offset="0.688" stop-color="#b1b1b1"/><stop offset="0.750" stop-color="#cdcdcd"/><stop offset="0.812" stop-color="#e8e8e8"/><stop offset="0.875" stop-color="#fafafa"/><stop offset="0.938" stop-color="#fdfdfd"/><stop offset="1.000" stop-color="#ffffff"/></linearGradient><linearGradient id="am114" x1="0" x2="0" y1="381.9" y2="619.2" gradientUnits="userSpaceOnUse"><stop offset="0.000" stop-color="#888888"/><stop offset="0.062" stop-color="#888888"/><stop offset="0.125" stop-color="#8a8a8a"/><stop offset="0.188" stop-color="#8c8c8c"/><stop offset="0.250" stop-color="#8e8e8e"/><stop offset="0.312" stop-color="#919191"/><stop offset="0.375" stop-color="#939393"/><stop offset="0.438" stop-color="#969696"/><stop offset="0.500" stop-color="#999999"/><stop offset="0.562" stop-color="#999999"/><stop offset="0.625" stop-color="#9e9e9e"/><stop offset="0.688" stop-color="#b5b5b5"/><stop offset="0.750" stop-color="#d3d3d3"/><stop offset="0.812" stop-color="#eeeeee"/><stop offset="0.875" stop-color="#fbfbfb"/><stop offset="0.938" stop-color="#fcfcfc"/><stop offset="1.000" stop-color="#ffffff"/></linearGradient><linearGradient id="am115" x1="0" x2="0" y1="383.4" y2="618.5" gradientUnits="userSpaceOnUse"><stop offset="0.000" stop-color="#878787"/><stop offset="0.062" stop-color="#878787"/><stop offset="0.125" stop-color="#898989"/><stop offset="0.188" stop-color="#8b8b8b"/><stop offset="0.250" stop-color="#8e8e8e"/><stop offset="0.312" stop-color="#909090"/><stop offset="0.375" stop-color="#939393"/><stop offset="0.438" stop-color="#959595"/><stop offset="0.500" stop-color="#989898"/><stop offset="0.562" stop-color="#989898"/><stop offset="0.625" stop-color="#9f9f9f"/><stop offset="0.688" stop-color="#b9b9b9"/><stop offset="0.750" stop-color="#d8d8d8"/><stop offset="0.812" stop-color="#f2f2f2"/><stop offset="0.875" stop-color="#fbfbfb"/><stop offset="0.938" stop-color="#fcfcfc"/><stop offset="1.000" stop-color="#ffffff"/></linearGradient><linearGradient id="am116" x1="0" x2="0" y1="385.0" y2="617.8" gradientUnits="userSpaceOnUse"><stop offset="0.000" stop-color="#868686"/><stop offset="0.062" stop-color="#868686"/><stop offset="0.125" stop-color="#888888"/><stop offset="0.188" stop-color="#8b8b8b"/><stop offset="0.250" stop-color="#8d8d8d"/><stop offset="0.312" stop-color="#909090"/><stop offset="0.375" stop-color="#929292"/><stop offset="0.438" stop-color="#959595"/><stop offset="0.500" stop-color="#989898"/><stop offset="0.562" stop-color="#989898"/><stop offset="0.625" stop-color="#a0a0a0"/><stop offset="0.688" stop-color="#bbbbbb"/><stop offset="0.750" stop-color="#dbdbdb"/><stop offset="0.812" stop-color="#f4f4f4"/><stop offset="0.875" stop-color="#fbfbfb"/><stop offset="0.938" stop-color="#fcfcfc"/><stop offset="1.000" stop-color="#ffffff"/></linearGradient><linearGradient id="am117" x1="0" x2="0" y1="386.6" y2="617.1" gradientUnits="userSpaceOnUse"><stop offset="0.000" stop-color="#868686"/><stop offset="0.062" stop-color="#868686"/><stop offset="0.125" stop-color="#888888"/><stop offset="0.188" stop-color="#8a8a8a"/><stop offset="0.250" stop-color="#8d8d8d"/><stop offset="0.312" stop-color="#8f8f8f"/><stop offset="0.375" stop-color="#929292"/><stop offset="0.438" stop-color="#959595"/><stop offset="0.500" stop-color="#989898"/><stop offset="0.562" stop-color="#989898"/><stop offset="0.625" stop-color="#a1a1a1"/><stop offset="0.688" stop-color="#bcbcbc"/><stop offset="0.750" stop-color="#dddddd"/><stop offset="0.812" stop-color="#f5f5f5"/><stop offset="0.875" stop-color="#fbfbfb"/><stop offset="0.938" stop-color="#fcfcfc"/><stop offset="1.000" stop-color="#ffffff"/></linearGradient><linearGradient id="am118" x1="0" x2="0" y1="388.1" y2="616.4" gradientUnits="userSpaceOnUse"><stop offset="0.000" stop-color="#868686"/><stop offset="0.062" stop-color="#868686"/><stop offset="0.125" stop-color="#888888"/><stop offset="0.188" stop-color="#8a8a8a"/><stop offset="0.250" stop-color="#8d8d8d"/><stop offset="0.312" stop-color="#909090"/><stop offset="0.375" stop-color="#929292"/><stop offset="0.438" stop-color="#959595"/><stop offset="0.500" stop-color="#989898"/><stop offset="0.562" stop-color="#989898"/><stop offset="0.625" stop-color="#a1a1a1"/><stop offset="0.688" stop-color="#bbbbbb"/><stop offset="0.750" stop-color="#dcdcdc"/><stop offset="0.812" stop-color="#f5f5f5"/><stop offset="0.875" stop-color="#fbfbfb"/><stop offset="0.938" stop-color="#fcfcfc"/><stop offset="1.000" stop-color="#ffffff"/></linearGradient><linearGradient id="am119" x1="0" x2="0" y1="389.7" y2="615.7" gradientUnits="userSpaceOnUse"><stop offset="0.000" stop-color="#878787"/><stop offset="0.062" stop-color="#878787"/><stop offset="0.125" stop-color="#898989"/><stop offset="0.188" stop-color="#8b8b8b"/><stop offset="0.250" stop-color="#8d8d8d"/><stop offset="0.312" stop-color="#909090"/><stop offset="0.375" stop-color="#929292"/><stop offset="0.438" stop-color="#959595"/><stop offset="0.500" stop-color="#989898"/><stop offset="0.562" stop-color="#989898"/><stop offset="0.625" stop-color="#a0a0a0"/><stop offset="0.688" stop-color="#bababa"/><stop offset="0.750" stop-color="#dadada"/><stop offset="0.812" stop-color="#f4f4f4"/><stop offset="0.875" stop-color="#fbfbfb"/><stop offset="0.938" stop-color="#fcfcfc"/><stop offset="1.000" stop-color="#ffffff"/></linearGradient><linearGradient id="am120" x1="0" x2="0" y1="391.3" y2="615.0" gradientUnits="userSpaceOnUse"><stop offset="0.000" stop-color="#878787"/><stop offset="0.062" stop-color="#878787"/><stop offset="0.125" stop-color="#898989"/><stop offset="0.188" stop-color="#8c8c8c"/><stop offset="0.250" stop-color="#8e8e8e"/><stop offset="0.312" stop-color="#909090"/><stop offset="0.375" stop-color="#939393"/><stop offset="0.438" stop-color="#969696"/><stop offset="0.500" stop-color="#989898"/><stop offset="0.562" stop-color="#999999"/><stop offset="0.625" stop-color="#9f9f9f"/><stop offset="0.688" stop-color="#b7b7b7"/><stop offset="0.750" stop-color="#d6d6d6"/><stop offset="0.812" stop-color="#f0f0f0"/><stop offset="0.875" stop-color="#fbfbfb"/><stop offset="0.938" stop-color="#fcfcfc"/><stop offset="1.000" stop-color="#ffffff"/></linearGradient><linearGradient id="am121" x1="0" x2="0" y1="392.8" y2="614.3" gradientUnits="userSpaceOnUse"><stop offset="0.000" stop-color="#898989"/><stop offset="0.062" stop-color="#898989"/><stop offset="0.125" stop-color="#8b8b8b"/><stop offset="0.188" stop-color="#8d8d8d"/><stop offset="0.250" stop-color="#8f8f8f"/><stop offset="0.312" stop-color="#919191"/><stop offset="0.375" stop-color="#949494"/><stop offset="0.438" stop-color="#969696"/><stop offset="0.500" stop-color="#999999"/><stop offset="0.562" stop-color="#999999"/><stop offset="0.625" stop-color="#9e9e9e"/><stop offset="0.688" stop-color="#b3b3b3"/><stop offset="0.750" stop-color="#d0d0d0"/><stop offset="0.812" stop-color="#ebebeb"/><stop offset="0.875" stop-color="#fbfbfb"/><stop offset="0.938" stop-color="#fdfdfd"/><stop offset="1.000" stop-color="#ffffff"/></linearGradient><linearGradient id="am122" x1="0" x2="0" y1="394.3" y2="613.5" gradientUnits="userSpaceOnUse"><stop offset="0.000" stop-color="#8a8a8a"/><stop offset="0.062" stop-color="#8a8a8a"/><stop offset="0.125" stop-color="#8c8c8c"/><stop offset="0.188" stop-color="#8e8e8e"/><stop offset="0.250" stop-color="#919191"/><stop offset="0.312" stop-color="#939393"/><stop offset="0.375" stop-color="#959595"/><stop offset="0.438" stop-color="#989898"/><stop offset="0.500" stop-color="#9a9a9a"/><stop offset="0.562" stop-color="#9a9a9a"/><stop offset="0.625" stop-color="#9d9d9d"/><stop offset="0.688" stop-color="#afafaf"/><stop offset="0.750" stop-color="#c9c9c9"/><stop offset="0.812" stop-color="#e4e4e4"/><stop offset="0.875" stop-color="#f7f7f7"/><stop offset="0.938" stop-color="#fdfdfd"/><stop offset="1.000" stop-color="#ffffff"/></linearGradient><linearGradient id="am123" x1="0" x2="0" y1="395.8" y2="612.8" gradientUnits="userSpaceOnUse"><stop offset="0.000" stop-color="#8c8c8c"/><stop offset="0.062" stop-color="#8c8c8c"/><stop offset="0.125" stop-color="#8e8e8e"/><stop offset="0.188" stop-color="#919191"/><stop offset="0.250" stop-color="#939393"/><stop offset="0.312" stop-color="#959595"/><stop offset="0.375" stop-color="#979797"/><stop offset="0.438" stop-color="#9a9a9a"/><stop offset="0.500" stop-color="#9c9c9c"/><stop offset="0.562" stop-color="#9c9c9c"/><stop offset="0.625" stop-color="#9d9d9d"/><stop offset="0.688" stop-color="#ababab"/><stop offset="0.750" stop-color="#c1c1c1"/><stop offset="0.812" stop-color="#d9d9d9"/><stop offset="0.875" stop-color="#efefef"/><stop offset="0.938" stop-color="#fcfcfc"/><stop offset="1.000" stop-color="#ffffff"/></linearGradient><linearGradient id="am124" x1="0" x2="0" y1="397.3" y2="612.0" gradientUnits="userSpaceOnUse"><stop offset="0.000" stop-color="#8e8e8e"/><stop offset="0.062" stop-color="#8f8f8f"/><stop offset="0.125" stop-color="#919191"/><stop offset="0.188" stop-color="#949494"/><stop offset="0.250" stop-color="#969696"/><stop offset="0.312" stop-color="#989898"/><stop offset="0.375" stop-color="#9a9a9a"/><stop offset="0.438" stop-color="#9d9d9d"/><stop offset="0.500" stop-color="#9f9f9f"/><stop offset="0.562" stop-color="#9f9f9f"/><stop offset="0.625" stop-color="#9f9f9f"/><stop offset="0.688" stop-color="#a7a7a7"/><stop offset="0.750" stop-color="#b8b8b8"/><stop offset="0.812" stop-color="#cdcdcd"/><stop offset="0.875" stop-color="#e3e3e3"/><stop offset="0.938" stop-color="#f4f4f4"/><stop offset="1.000" stop-color="#fefefe"/></linearGradient><linearGradient id="am125" x1="0" x2="0" y1="398.7" y2="611.1" gradientUnits="userSpaceOnUse"><stop offset="0.000" stop-color="#909090"/><stop offset="0.062" stop-color="#929292"/><stop offset="0.125" stop-color="#959595"/><stop offset="0.188" stop-color="#979797"/><stop offset="0.250" stop-color="#9a9a9a"/><stop offset="0.312" stop-color="#9c9c9c"/><stop offset="0.375" stop-color="#9f9f9f"/><stop offset="0.438" stop-color="#a1a1a1"/><stop offset="0.500" stop-color="#a2a2a2"/><stop offset="0.562" stop-color="#a2a2a2"/><stop offset="0.625" stop-color="#a2a2a2"/><stop offset="0.688" stop-color="#a5a5a5"/><stop offset="0.750" stop-color="#b0b0b0"/><stop offset="0.812" stop-color="#c0c0c0"/><stop offset="0.875" stop-color="#d2d2d2"/><stop offset="0.938" stop-color="#e3e3e3"/><stop offset="1.000" stop-color="#f3f3f3"/></linearGradient><linearGradient id="am126" x1="0" x2="0" y1="400.0" y2="610.2" gradientUnits="userSpaceOnUse"><stop offset="0.000" stop-color="#939393"/><stop offset="0.062" stop-color="#969696"/><stop offset="0.125" stop-color="#999999"/><stop offset="0.188" stop-color="#9c9c9c"/><stop offset="0.250" stop-color="#9f9f9f"/><stop offset="0.312" stop-color="#a2a2a2"/><stop offset="0.375" stop-color="#a4a4a4"/><stop offset="0.438" stop-color="#a6a6a6"/><stop offset="0.500" stop-color="#a7a7a7"/><stop offset="0.562" stop-color="#a7a7a7"/><stop offset="0.625" stop-color="#a7a7a7"/><stop offset="0.688" stop-color="#a7a7a7"/><stop offset="0.750" stop-color="#ababab"/><stop offset="0.812" stop-color="#b4b4b4"/><stop offset="0.875" stop-color="#c0c0c0"/><stop offset="0.938" stop-color="#cdcdcd"/><stop offset="1.000" stop-color="#dbdbdb"/></linearGradient><linearGradient id="am127" x1="0" x2="0" y1="401.3" y2="609.3" gradientUnits="userSpaceOnUse"><stop offset="0.000" stop-color="#959595"/><stop offset="0.062" stop-color="#9a9a9a"/><stop offset="0.125" stop-color="#9e9e9e"/><stop offset="0.188" stop-color="#a2a2a2"/><stop offset="0.250" stop-color="#a5a5a5"/><stop offset="0.312" stop-color="#a8a8a8"/><stop offset="0.375" stop-color="#ababab"/><stop offset="0.438" stop-color="#acacac"/><stop offset="0.500" stop-color="#aeaeae"/><stop offset="0.562" stop-color="#aeaeae"/><stop offset="0.625" stop-color="#adadad"/><stop offset="0.688" stop-color="#ababab"/><stop offset="0.750" stop-color="#aaaaaa"/><stop offset="0.812" stop-color="#acacac"/><stop offset="0.875" stop-color="#b0b0b0"/><stop offset="0.938" stop-color="#b6b6b6"/><stop offset="1.000" stop-color="#bebebe"/></linearGradient><linearGradient id="am128" x1="0" x2="0" y1="402.6" y2="608.3" gradientUnits="userSpaceOnUse"><stop offset="0.000" stop-color="#989898"/><stop offset="0.062" stop-color="#9e9e9e"/><stop offset="0.125" stop-color="#a4a4a4"/><stop offset="0.188" stop-color="#a9a9a9"/><stop offset="0.250" stop-color="#adadad"/><stop offset="0.312" stop-color="#b0b0b0"/><stop offset="0.375" stop-color="#b3b3b3"/><stop offset="0.438" stop-color="#b5b5b5"/><stop offset="0.500" stop-color="#b6b6b6"/><stop offset="0.562" stop-color="#b5b5b5"/><stop offset="0.625" stop-color="#b4b4b4"/><stop offset="0.688" stop-color="#b2b2b2"/><stop offset="0.750" stop-color="#b0b0b0"/><stop offset="0.812" stop-color="#acacac"/><stop offset="0.875" stop-color="#a9a9a9"/><stop offset="0.938" stop-color="#a7a7a7"/><stop offset="1.000" stop-color="#a6a6a6"/></linearGradient><linearGradient id="am129" x1="0" x2="0" y1="403.8" y2="607.2" gradientUnits="userSpaceOnUse"><stop offset="0.000" stop-color="#9b9b9b"/><stop offset="0.062" stop-color="#a3a3a3"/><stop offset="0.125" stop-color="#aaaaaa"/><stop offset="0.188" stop-color="#b0b0b0"/><stop offset="0.250" stop-color="#b5b5b5"/><stop offset="0.312" stop-color="#b9b9b9"/><stop offset="0.375" stop-color="#bcbcbc"/><stop offset="0.438" stop-color="#bebebe"/><stop offset="0.500" stop-color="#bfbfbf"/><stop offset="0.562" stop-color="#bfbfbf"/><stop offset="0.625" stop-color="#bdbdbd"/><stop offset="0.688" stop-color="#bababa"/><stop offset="0.750" stop-color="#b7b7b7"/><stop offset="0.812" stop-color="#b2b2b2"/><stop offset="0.875" stop-color="#acacac"/><stop offset="0.938" stop-color="#a6a6a6"/><stop offset="1.000" stop-color="#9e9e9e"/></linearGradient><linearGradient id="am130" x1="0" x2="0" y1="405.0" y2="606.1" gradientUnits="userSpaceOnUse"><stop offset="0.000" stop-color="#9e9e9e"/><stop offset="0.062" stop-color="#a8a8a8"/><stop offset="0.125" stop-color="#b1b1b1"/><stop offset="0.188" stop-color="#b9b9b9"/><stop offset="0.250" stop-color="#bfbfbf"/><stop offset="0.312" stop-color="#c4c4c4"/><stop offset="0.375" stop-color="#c7c7c7"/><stop offset="0.438" stop-color="#c9c9c9"/><stop offset="0.500" stop-color="#cacaca"/><stop offset="0.562" stop-color="#c9c9c9"/><stop offset="0.625" stop-color="#c7c7c7"/><stop offset="0.688" stop-color="#c4c4c4"/><stop offset="0.750" stop-color="#bfbfbf"/><stop offset="0.812" stop-color="#b9b9b9"/><stop offset="0.875" stop-color="#b1b1b1"/><stop offset="0.938" stop-color="#a8a8a8"/><stop offset="1.000" stop-color="#9e9e9e"/></linearGradient><linearGradient id="am131" x1="0" x2="0" y1="406.1" y2="605.0" gradientUnits="userSpaceOnUse"><stop offset="0.000" stop-color="#9e9e9e"/><stop offset="0.062" stop-color="#a6a6a6"/><stop offset="0.125" stop-color="#acacac"/><stop offset="0.188" stop-color="#b2b2b2"/><stop offset="0.250" stop-color="#b7b7b7"/><stop offset="0.312" stop-color="#bababa"/><stop offset="0.375" stop-color="#bdbdbd"/><stop offset="0.438" stop-color="#bfbfbf"/><stop offset="0.500" stop-color="#bfbfbf"/><stop offset="0.562" stop-color="#bebebe"/><stop offset="0.625" stop-color="#bcbcbc"/><stop offset="0.688" stop-color="#b9b9b9"/><stop offset="0.750" stop-color="#b5b5b5"/><stop offset="0.812" stop-color="#b0b0b0"/><stop offset="0.875" stop-color="#aaaaaa"/><stop offset="0.938" stop-color="#a3a3a3"/><stop offset="1.000" stop-color="#9b9b9b"/></linearGradient><linearGradient id="am132" x1="0" x2="0" y1="407.1" y2="603.7" gradientUnits="userSpaceOnUse"><stop offset="0.000" stop-color="#a6a6a6"/><stop offset="0.062" stop-color="#a7a7a7"/><stop offset="0.125" stop-color="#a9a9a9"/><stop offset="0.188" stop-color="#acacac"/><stop offset="0.250" stop-color="#b0b0b0"/><stop offset="0.312" stop-color="#b2b2b2"/><stop offset="0.375" stop-color="#b4b4b4"/><stop offset="0.438" stop-color="#b5b5b5"/><stop offset="0.500" stop-color="#b6b6b6"/><stop offset="0.562" stop-color="#b5b5b5"/><stop offset="0.625" stop-color="#b3b3b3"/><stop offset="0.688" stop-color="#b0b0b0"/><stop offset="0.750" stop-color="#adadad"/><stop offset="0.812" stop-color="#a9a9a9"/><stop offset="0.875" stop-color="#a4a4a4"/><stop offset="0.938" stop-color="#9e9e9e"/><stop offset="1.000" stop-color="#989898"/></linearGradient><linearGradient id="am133" x1="0" x2="0" y1="408.1" y2="602.5" gradientUnits="userSpaceOnUse"><stop offset="0.000" stop-color="#bebebe"/><stop offset="0.062" stop-color="#b6b6b6"/><stop offset="0.125" stop-color="#b0b0b0"/><stop offset="0.188" stop-color="#acacac"/><stop offset="0.250" stop-color="#aaaaaa"/><stop offset="0.312" stop-color="#ababab"/><stop offset="0.375" stop-color="#adadad"/><stop offset="0.438" stop-color="#aeaeae"/><stop offset="0.500" stop-color="#aeaeae"/><stop offset="0.562" stop-color="#acacac"/><stop offset="0.625" stop-color="#ababab"/><stop offset="0.688" stop-color="#a8a8a8"/><stop offset="0.750" stop-color="#a5a5a5"/><stop offset="0.812" stop-color="#a2a2a2"/><stop offset="0.875" stop-color="#9e9e9e"/><stop offset="0.938" stop-color="#9a9a9a"/><stop offset="1.000" stop-color="#959595"/></linearGradient><linearGradient id="am134" x1="0" x2="0" y1="409.1" y2="601.2" gradientUnits="userSpaceOnUse"><stop offset="0.000" stop-color="#dbdbdb"/><stop offset="0.062" stop-color="#cdcdcd"/><stop offset="0.125" stop-color="#c0c0c0"/><stop offset="0.188" stop-color="#b4b4b4"/><stop offset="0.250" stop-color="#ababab"/><stop offset="0.312" stop-color="#a7a7a7"/><stop offset="0.375" stop-color="#a7a7a7"/><stop offset="0.438" stop-color="#a7a7a7"/><stop offset="0.500" stop-color="#a7a7a7"/><stop offset="0.562" stop-color="#a6a6a6"/><stop offset="0.625" stop-color="#a4a4a4"/><stop offset="0.688" stop-color="#a2a2a2"/><stop offset="0.750" stop-color="#9f9f9f"/><stop offset="0.812" stop-color="#9c9c9c"/><stop offset="0.875" stop-color="#999999"/><stop offset="0.938" stop-color="#969696"/><stop offset="1.000" stop-color="#939393"/></linearGradient><linearGradient id="am135" x1="0" x2="0" y1="410.0" y2="599.8" gradientUnits="userSpaceOnUse"><stop offset="0.000" stop-color="#f3f3f3"/><stop offset="0.062" stop-color="#e3e3e3"/><stop offset="0.125" stop-color="#d2d2d2"/><stop offset="0.188" stop-color="#c0c0c0"/><stop offset="0.250" stop-color="#b0b0b0"/><stop offset="0.312" stop-color="#a5a5a5"/><stop offset="0.375" stop-color="#a2a2a2"/><stop offset="0.438" stop-color="#a2a2a2"/><stop offset="0.500" stop-color="#a2a2a2"/><stop offset="0.562" stop-color="#a1a1a1"/><stop offset="0.625" stop-color="#9f9f9f"/><stop offset="0.688" stop-color="#9c9c9c"/><stop offset="0.750" stop-color="#9a9a9a"/><stop offset="0.812" stop-color="#979797"/><stop offset="0.875" stop-color="#959595"/><stop offset="0.938" stop-color="#929292"/><stop offset="1.000" stop-color="#909090"/></linearGradient><linearGradient id="am136" x1="0" x2="0" y1="410.8" y2="598.4" gradientUnits="userSpaceOnUse"><stop offset="0.000" stop-color="#fefefe"/><stop offset="0.062" stop-color="#f4f4f4"/><stop offset="0.125" stop-color="#e3e3e3"/><stop offset="0.188" stop-color="#cdcdcd"/><stop offset="0.250" stop-color="#b8b8b8"/><stop offset="0.312" stop-color="#a7a7a7"/><stop offset="0.375" stop-color="#9f9f9f"/><stop offset="0.438" stop-color="#9f9f9f"/><stop offset="0.500" stop-color="#9f9f9f"/><stop offset="0.562" stop-color="#9d9d9d"/><stop offset="0.625" stop-color="#9a9a9a"/><stop offset="0.688" stop-color="#989898"/><stop offset="0.750" stop-color="#969696"/><stop offset="0.812" stop-color="#949494"/><stop offset="0.875" stop-color="#919191"/><stop offset="0.938" stop-color="#8f8f8f"/><stop offset="1.000" stop-color="#8e8e8e"/></linearGradient><linearGradient id="am137" x1="0" x2="0" y1="411.6" y2="596.9" gradientUnits="userSpaceOnUse"><stop offset="0.000" stop-color="#ffffff"/><stop offset="0.062" stop-color="#fcfcfc"/><stop offset="0.125" stop-color="#efefef"/><stop offset="0.188" stop-color="#d9d9d9"/><stop offset="0.250" stop-color="#c1c1c1"/><stop offset="0.312" stop-color="#ababab"/><stop offset="0.375" stop-color="#9d9d9d"/><stop offset="0.438" stop-color="#9c9c9c"/><stop offset="0.500" stop-color="#9c9c9c"/><stop offset="0.562" stop-color="#9a9a9a"/><stop offset="0.625" stop-color="#979797"/><stop offset="0.688" stop-color="#959595"/><stop offset="0.750" stop-color="#939393"/><stop offset="0.812" stop-color="#919191"/><stop offset="0.875" stop-color="#8e8e8e"/><stop offset="0.938" stop-color="#8c8c8c"/><stop offset="1.000" stop-color="#8c8c8c"/></linearGradient><linearGradient id="am138" x1="0" x2="0" y1="412.4" y2="595.5" gradientUnits="userSpaceOnUse"><stop offset="0.000" stop-color="#ffffff"/><stop offset="0.062" stop-color="#fdfdfd"/><stop offset="0.125" stop-color="#f7f7f7"/><stop offset="0.188" stop-color="#e4e4e4"/><stop offset="0.250" stop-color="#c9c9c9"/><stop offset="0.312" stop-color="#afafaf"/><stop offset="0.375" stop-color="#9d9d9d"/><stop offset="0.438" stop-color="#9a9a9a"/><stop offset="0.500" stop-color="#9a9a9a"/><stop offset="0.562" stop-color="#989898"/><stop offset="0.625" stop-color="#959595"/><stop offset="0.688" stop-color="#939393"/><stop offset="0.750" stop-color="#919191"/><stop offset="0.812" stop-color="#8e8e8e"/><stop offset="0.875" stop-color="#8c8c8c"/><stop offset="0.938" stop-color="#8a8a8a"/><stop offset="1.000" stop-color="#8a8a8a"/></linearGradient><linearGradient id="am139" x1="0" x2="0" y1="413.1" y2="593.9" gradientUnits="userSpaceOnUse"><stop offset="0.000" stop-color="#ffffff"/><stop offset="0.062" stop-color="#fdfdfd"/><stop offset="0.125" stop-color="#fbfbfb"/><stop offset="0.188" stop-color="#ebebeb"/><stop offset="0.250" stop-color="#d0d0d0"/><stop offset="0.312" stop-color="#b3b3b3"/><stop offset="0.375" stop-color="#9e9e9e"/><stop offset="0.438" stop-color="#999999"/><stop offset="0.500" stop-color="#999999"/><stop offset="0.562" stop-color="#969696"/><stop offset="0.625" stop-color="#949494"/><stop offset="0.688" stop-color="#919191"/><stop offset="0.750" stop-color="#8f8f8f"/><stop offset="0.812" stop-color="#8d8d8d"/><stop offset="0.875" stop-color="#8b8b8b"/><stop offset="0.938" stop-color="#898989"/><stop offset="1.000" stop-color="#898989"/></linearGradient><linearGradient id="am140" x1="0" x2="0" y1="413.9" y2="592.4" gradientUnits="userSpaceOnUse"><stop offset="0.000" stop-color="#ffffff"/><stop offset="0.062" stop-color="#fcfcfc"/><stop offset="0.125" stop-color="#fbfbfb"/><stop offset="0.188" stop-color="#f0f0f0"/><stop offset="0.250" stop-color="#d6d6d6"/><stop offset="0.312" stop-color="#b7b7b7"/><stop offset="0.375" stop-color="#9f9f9f"/><stop offset="0.438" stop-color="#999999"/><stop offset="0.500" stop-color="#989898"/><stop offset="0.562" stop-color="#969696"/><stop offset="0.625" stop-color="#939393"/><stop offset="0.688" stop-color="#909090"/><stop offset="0.750" stop-color="#8e8e8e"/><stop offset="0.812" stop-color="#8c8c8c"/><stop offset="0.875" stop-color="#898989"/><stop offset="0.938" stop-color="#878787"/><stop offset="1.000" stop-color="#878787"/></linearGradient><linearGradient id="am141" x1="0" x2="0" y1="414.6" y2="590.8" gradientUnits="userSpaceOnUse"><stop offset="0.000" stop-color="#ffffff"/><stop offset="0.062" stop-color="#fcfcfc"/><stop offset="0.125" stop-color="#fbfbfb"/><stop offset="0.188" stop-color="#f4f4f4"/><stop offset="0.250" stop-color="#dadada"/><stop offset="0.312" stop-color="#bababa"/><stop offset="0.375" stop-color="#a0a0a0"/><stop offset="0.438" stop-color="#989898"/><stop offset="0.500" stop-color="#989898"/><stop offset="0.562" stop-color="#959595"/><stop offset="0.625" stop-color="#929292"/><stop offset="0.688" stop-color="#909090"/><stop offset="0.750" stop-color="#8d8d8d"/><stop offset="0.812" stop-color="#8b8b8b"/><stop offset="0.875" stop-color="#898989"/><stop offset="0.938" stop-color="#878787"/><stop offset="1.000" stop-color="#878787"/></linearGradient><linearGradient id="am142" x1="0" x2="0" y1="415.2" y2="589.3" gradientUnits="userSpaceOnUse"><stop offset="0.000" stop-color="#ffffff"/><stop offset="0.062" stop-color="#fcfcfc"/><stop offset="0.125" stop-color="#fbfbfb"/><stop offset="0.188" stop-color="#f5f5f5"/><stop offset="0.250" stop-color="#dcdcdc"/><stop offset="0.312" stop-color="#bbbbbb"/><stop offset="0.375" stop-color="#a1a1a1"/><stop offset="0.438" stop-color="#989898"/><stop offset="0.500" stop-color="#989898"/><stop offset="0.562" stop-color="#959595"/><stop offset="0.625" stop-color="#929292"/><stop offset="0.688" stop-color="#909090"/><stop offset="0.750" stop-color="#8d8d8d"/><stop offset="0.812" stop-color="#8a8a8a"/><stop offset="0.875" stop-color="#888888"/><stop offset="0.938" stop-color="#868686"/><stop offset="1.000" stop-color="#868686"/></linearGradient><linearGradient id="am143" x1="0" x2="0" y1="415.9" y2="587.7" gradientUnits="userSpaceOnUse"><stop offset="0.000" stop-color="#ffffff"/><stop offset="0.062" stop-color="#fcfcfc"/><stop offset="0.125" stop-color="#fbfbfb"/><stop offset="0.188" stop-color="#f5f5f5"/><stop offset="0.250" stop-color="#dddddd"/><stop offset="0.312" stop-color="#bcbcbc"/><stop offset="0.375" stop-color="#a1a1a1"/><stop offset="0.438" stop-color="#989898"/><stop offset="0.500" stop-color="#989898"/><stop offset="0.562" stop-color="#959595"/><stop offset="0.625" stop-color="#929292"/><stop offset="0.688" stop-color="#8f8f8f"/><stop offset="0.750" stop-color="#8d8d8d"/><stop offset="0.812" stop-color="#8a8a8a"/><stop offset="0.875" stop-color="#888888"/><stop offset="0.938" stop-color="#868686"/><stop offset="1.000" stop-color="#868686"/></linearGradient><linearGradient id="am144" x1="0" x2="0" y1="416.6" y2="586.1" gradientUnits="userSpaceOnUse"><stop offset="0.000" stop-color="#ffffff"/><stop offset="0.062" stop-color="#fcfcfc"/><stop offset="0.125" stop-color="#fbfbfb"/><stop offset="0.188" stop-color="#f4f4f4"/><stop offset="0.250" stop-color="#dbdbdb"/><stop offset="0.312" stop-color="#bbbbbb"/><stop offset="0.375" stop-color="#a0a0a0"/><stop offset="0.438" stop-color="#989898"/><stop offset="0.500" stop-color="#989898"/><stop offset="0.562" stop-color="#959595"/><stop offset="0.625" stop-color="#929292"/><stop offset="0.688" stop-color="#909090"/><stop offset="0.750" stop-color="#8d8d8d"/><stop offset="0.812" stop-color="#8b8b8b"/><stop offset="0.875" stop-color="#888888"/><stop offset="0.938" stop-color="#868686"/><stop offset="1.000" stop-color="#868686"/></linearGradient><linearGradient id="am145" x1="0" x2="0" y1="417.3" y2="584.6" gradientUnits="userSpaceOnUse"><stop offset="0.000" stop-color="#ffffff"/><stop offset="0.062" stop-color="#fcfcfc"/><stop offset="0.125" stop-color="#fbfbfb"/><stop offset="0.188" stop-color="#f2f2f2"/><stop offset="0.250" stop-color="#d8d8d8"/><stop offset="0.312" stop-color="#b9b9b9"/><stop offset="0.375" stop-color="#9f9f9f"/><stop offset="0.438" stop-color="#989898"/><stop offset="0.500" stop-color="#989898"/><stop offset="0.562" stop-color="#959595"/><stop offset="0.625" stop-color="#939393"/><stop offset="0.688" stop-color="#909090"/><stop offset="0.750" stop-color="#8e8e8e"/><stop offset="0.812" stop-color="#8b8b8b"/><stop offset="0.875" stop-color="#898989"/><stop offset="0.938" stop-color="#878787"/><stop offset="1.000" stop-color="#878787"/></linearGradient><linearGradient id="am146" x1="0" x2="0" y1="418.0" y2="583.0" gradientUnits="userSpaceOnUse"><stop offset="0.000" stop-color="#ffffff"/><stop offset="0.062" stop-color="#fcfcfc"/><stop offset="0.125" stop-color="#fbfbfb"/><stop offset="0.188" stop-color="#eeeeee"/><stop offset="0.250" stop-color="#d3d3d3"/><stop offset="0.312" stop-color="#b5b5b5"/><stop offset="0.375" stop-color="#9e9e9e"/><stop offset="0.438" stop-color="#999999"/><stop offset="0.500" stop-color="#999999"/><stop offset="0.562" stop-color="#969696"/><stop offset="0.625" stop-color="#939393"/><stop offset="0.688" stop-color="#919191"/><stop offset="0.750" stop-color="#8e8e8e"/><stop offset="0.812" stop-color="#8c8c8c"/><stop offset="0.875" stop-color="#8a8a8a"/><stop offset="0.938" stop-color="#888888"/><stop offset="1.000" stop-color="#888888"/></linearGradient><linearGradient id="am147" x1="0" x2="0" y1="418.8" y2="581.5" gradientUnits="userSpaceOnUse"><stop offset="0.000" stop-color="#ffffff"/><stop offset="0.062" stop-color="#fdfdfd"/><stop offset="0.125" stop-color="#fafafa"/><stop offset="0.188" stop-color="#e8e8e8"/><stop offset="0.250" stop-color="#cdcdcd"/><stop offset="0.312" stop-color="#b1b1b1"/><stop offset="0.375" stop-color="#9e9e9e"/><stop offset="0.438" stop-color="#9a9a9a"/><stop offset="0.500" stop-color="#9a9a9a"/><stop offset="0.562" stop-color="#979797"/><stop offset="0.625" stop-color="#959595"/><stop offset="0.688" stop-color="#929292"/><stop offset="0.750" stop-color="#909090"/><stop offset="0.812" stop-color="#8d8d8d"/><stop offset="0.875" stop-color="#8b8b8b"/><stop offset="0.938" stop-color="#898989"/><stop offset="1.000" stop-color="#898989"/></linearGradient><linearGradient id="am148" x1="0" x2="0" y1="419.5" y2="580.0" gradientUnits="userSpaceOnUse"><stop offset="0.000" stop-color="#ffffff"/><stop offset="0.062" stop-color="#fdfdfd"/><stop offset="0.125" stop-color="#f4f4f4"/><stop offset="0.188" stop-color="#dfdfdf"/><stop offset="0.250" stop-color="#c5c5c5"/><stop offset="0.312" stop-color="#adadad"/><stop offset="0.375" stop-color="#9d9d9d"/><stop offset="0.438" stop-color="#9b9b9b"/><stop offset="0.500" stop-color="#9b9b9b"/><stop offset="0.562" stop-color="#999999"/><stop offset="0.625" stop-color="#969696"/><stop offset="0.688" stop-color="#949494"/><stop offset="0.750" stop-color="#929292"/><stop offset="0.812" stop-color="#8f8f8f"/><stop offset="0.875" stop-color="#8d8d8d"/><stop offset="0.938" stop-color="#8b8b8b"/><stop offset="1.000" stop-color="#8b8b8b"/></linearGradient><linearGradient id="am149" x1="0" x2="0" y1="420.3" y2="578.5" gradientUnits="userSpaceOnUse"><stop offset="0.000" stop-color="#ffffff"/><stop offset="0.062" stop-color="#f9f9f9"/><stop offset="0.125" stop-color="#e9e9e9"/><stop offset="0.188" stop-color="#d4d4d4"/><stop offset="0.250" stop-color="#bcbcbc"/><stop offset="0.312" stop-color="#a9a9a9"/><stop offset="0.375" stop-color="#9e9e9e"/><stop offset="0.438" stop-color="#9d9d9d"/><stop offset="0.500" stop-color="#9d9d9d"/><stop offset="0.562" stop-color="#9b9b9b"/><stop offset="0.625" stop-color="#999999"/><stop offset="0.688" stop-color="#979797"/><stop offset="0.750" stop-color="#949494"/><stop offset="0.812" stop-color="#929292"/><stop offset="0.875" stop-color="#909090"/><stop offset="0.938" stop-color="#8e8e8e"/><stop offset="1.000" stop-color="#8d8d8d"/></linearGradient><linearGradient id="am150" x1="0" x2="0" y1="421.1" y2="577.1" gradientUnits="userSpaceOnUse"><stop offset="0.000" stop-color="#fafafa"/><stop offset="0.062" stop-color="#ededed"/><stop offset="0.125" stop-color="#dbdbdb"/><stop offset="0.188" stop-color="#c7c7c7"/><stop offset="0.250" stop-color="#b4b4b4"/><stop offset="0.312" stop-color="#a6a6a6"/><stop offset="0.375" stop-color="#a0a0a0"/><stop offset="0.438" stop-color="#a0a0a0"/><stop offset="0.500" stop-color="#a0a0a0"/><stop offset="0.562" stop-color="#9e9e9e"/><stop offset="0.625" stop-color="#9c9c9c"/><stop offset="0.688" stop-color="#9a9a9a"/><stop offset="0.750" stop-color="#989898"/><stop offset="0.812" stop-color="#959595"/><stop offset="0.875" stop-color="#939393"/><stop offset="0.938" stop-color="#909090"/><stop offset="1.000" stop-color="#8f8f8f"/></linearGradient><linearGradient id="am151" x1="0" x2="0" y1="422.0" y2="575.7" gradientUnits="userSpaceOnUse"><stop offset="0.000" stop-color="#e8e8e8"/><stop offset="0.062" stop-color="#d9d9d9"/><stop offset="0.125" stop-color="#c9c9c9"/><stop offset="0.188" stop-color="#bababa"/><stop offset="0.250" stop-color="#adadad"/><stop offset="0.312" stop-color="#a6a6a6"/><stop offset="0.375" stop-color="#a4a4a4"/><stop offset="0.438" stop-color="#a5a5a5"/><stop offset="0.500" stop-color="#a5a5a5"/><stop offset="0.562" stop-color="#a3a3a3"/><stop offset="0.625" stop-color="#a1a1a1"/><stop offset="0.688" stop-color="#9f9f9f"/><stop offset="0.750" stop-color="#9c9c9c"/><stop offset="0.812" stop-color="#9a9a9a"/><stop offset="0.875" stop-color="#979797"/><stop offset="0.938" stop-color="#949494"/><stop offset="1.000" stop-color="#919191"/></linearGradient><linearGradient id="am152" x1="0" x2="0" y1="422.9" y2="574.3" gradientUnits="userSpaceOnUse"><stop offset="0.000" stop-color="#cdcdcd"/><stop offset="0.062" stop-color="#c1c1c1"/><stop offset="0.125" stop-color="#b7b7b7"/><stop offset="0.188" stop-color="#afafaf"/><stop offset="0.250" stop-color="#aaaaaa"/><stop offset="0.312" stop-color="#a9a9a9"/><stop offset="0.375" stop-color="#aaaaaa"/><stop offset="0.438" stop-color="#aaaaaa"/><stop offset="0.500" stop-color="#aaaaaa"/><stop offset="0.562" stop-color="#a9a9a9"/><stop offset="0.625" stop-color="#a7a7a7"/><stop offset="0.688" stop-color="#a5a5a5"/><stop offset="0.750" stop-color="#a2a2a2"/><stop offset="0.812" stop-color="#9f9f9f"/><stop offset="0.875" stop-color="#9b9b9b"/><stop offset="0.938" stop-color="#989898"/><stop offset="1.000" stop-color="#949494"/></linearGradient><linearGradient id="am153" x1="0" x2="0" y1="423.9" y2="573.1" gradientUnits="userSpaceOnUse"><stop offset="0.000" stop-color="#b0b0b0"/><stop offset="0.062" stop-color="#adadad"/><stop offset="0.125" stop-color="#ababab"/><stop offset="0.188" stop-color="#ababab"/><stop offset="0.250" stop-color="#acacac"/><stop offset="0.312" stop-color="#afafaf"/><stop offset="0.375" stop-color="#b0b0b0"/><stop offset="0.438" stop-color="#b1b1b1"/><stop offset="0.500" stop-color="#b2b2b2"/><stop offset="0.562" stop-color="#b0b0b0"/><stop offset="0.625" stop-color="#aeaeae"/><stop offset="0.688" stop-color="#acacac"/><stop offset="0.750" stop-color="#a9a9a9"/><stop offset="0.812" stop-color="#a5a5a5"/><stop offset="0.875" stop-color="#a1a1a1"/><stop offset="0.938" stop-color="#9c9c9c"/><stop offset="1.000" stop-color="#979797"/></linearGradient><linearGradient id="am154" x1="0" x2="0" y1="424.9" y2="571.8" gradientUnits="userSpaceOnUse"><stop offset="0.000" stop-color="#9f9f9f"/><stop offset="0.062" stop-color="#a4a4a4"/><stop offset="0.125" stop-color="#aaaaaa"/><stop offset="0.188" stop-color="#afafaf"/><stop offset="0.250" stop-color="#b3b3b3"/><stop offset="0.312" stop-color="#b6b6b6"/><stop offset="0.375" stop-color="#b8b8b8"/><stop offset="0.438" stop-color="#bababa"/><stop offset="0.500" stop-color="#bababa"/><stop offset="0.562" stop-color="#b9b9b9"/><stop offset="0.625" stop-color="#b7b7b7"/><stop offset="0.688" stop-color="#b5b5b5"/><stop offset="0.750" stop-color="#b1b1b1"/><stop offset="0.812" stop-color="#acacac"/><stop offset="0.875" stop-color="#a7a7a7"/><stop offset="0.938" stop-color="#a0a0a0"/><stop offset="1.000" stop-color="#9a9a9a"/></linearGradient><linearGradient id="am155" x1="0" x2="0" y1="426.0" y2="570.6" gradientUnits="userSpaceOnUse"><stop offset="0.000" stop-color="#9e9e9e"/><stop offset="0.062" stop-color="#a7a7a7"/><stop offset="0.125" stop-color="#afafaf"/><stop offset="0.188" stop-color="#b5b5b5"/><stop offset="0.250" stop-color="#bbbbbb"/><stop offset="0.312" stop-color="#bfbfbf"/><stop offset="0.375" stop-color="#c2c2c2"/><stop offset="0.438" stop-color="#c4c4c4"/><stop offset="0.500" stop-color="#c4c4c4"/><stop offset="0.562" stop-color="#c4c4c4"/><stop offset="0.625" stop-color="#c2c2c2"/><stop offset="0.688" stop-color="#bebebe"/><stop offset="0.750" stop-color="#bababa"/><stop offset="0.812" stop-color="#b4b4b4"/><stop offset="0.875" stop-color="#aeaeae"/><stop offset="0.938" stop-color="#a6a6a6"/><stop offset="1.000" stop-color="#9d9d9d"/></linearGradient><linearGradient id="am156" x1="0" x2="0" y1="426.5" y2="570.1" gradientUnits="userSpaceOnUse"><stop offset="0.000" stop-color="#9e9e9e"/><stop offset="0.062" stop-color="#a8a8a8"/><stop offset="0.125" stop-color="#b1b1b1"/><stop offset="0.188" stop-color="#b9b9b9"/><stop offset="0.250" stop-color="#bfbfbf"/><stop offset="0.312" stop-color="#c4c4c4"/><stop offset="0.375" stop-color="#c7c7c7"/><stop offset="0.438" stop-color="#c9c9c9"/><stop offset="0.500" stop-color="#cacaca"/><stop offset="0.562" stop-color="#c9c9c9"/><stop offset="0.625" stop-color="#c7c7c7"/><stop offset="0.688" stop-color="#c4c4c4"/><stop offset="0.750" stop-color="#bfbfbf"/><stop offset="0.812" stop-color="#b9b9b9"/><stop offset="0.875" stop-color="#b1b1b1"/><stop offset="0.938" stop-color="#a8a8a8"/><stop offset="1.000" stop-color="#9e9e9e"/></linearGradient></defs><path d="M48.9 393.2L794 50.4M48.9 408.1L794 65.3M48.9 423.0L794 80.2M842.3 54.1L1422 514.1M842.3 69.4L1422 529.0M842.3 84.7L1422 543.9M125 358V396M419.6 222V248.5M714.8 87V125.6M903.4 103V142M1131 283V317M1360.5 466V505M145 440.2L670 857M127 526.3L876 181M735 168.8L1316 629.5M650 857L1332 544M354.5 707L640 575M900 672L1020 763.6" stroke="#bdbdbd" stroke-width="1.6" fill="none"/>
<g font-size="14.5" fill="#333" stroke="#333" stroke-width=".3" letter-spacing=".5"><text x="103.5" y="344.5">-10</text><text x="409" y="209">0</text><text x="697.2" y="73">10</text><text x="379.4" y="173.5">mm</text><text x="907.8" y="91.6">10</text><text x="1138" y="273">0</text><text x="1156" y="240">mm</text><text x="1365" y="455">-10</text><text x="1435.8" y="521">1</text><text x="1436" y="551">0</text><text x="1474.6" y="540.5">mm</text></g>
<text transform="translate(133 195) scale(0.84 1)" x="0" y="0" font-size="68" fill="#000">a</text>
<g transform="rotate(0.9 731.2 498.3)">
<ellipse cx="731.2" cy="499.21" rx="473.58" ry="287.02" fill="#0b4a68" stroke="#0a2a3a" stroke-width="1"/>
<ellipse cx="731.2" cy="495.28" rx="473.58" ry="287.02" fill="url(#aow)"/>
<ellipse cx="731.2" cy="468.10" rx="473.58" ry="287.02" fill="url(#atop)" stroke="#3a1a08" stroke-width="1.3"/>
<g clip-path="url(#ain)">
<rect x="300" y="200" width="860" height="560" fill="url(#aiw)"/>
<ellipse cx="731.2" cy="496.04" rx="413.92" ry="250.86" fill="#0a4a6a"/>
<ellipse cx="731.2" cy="498.30" rx="413.92" ry="250.86" fill="url(#am0)"/>
<ellipse cx="731.2" cy="498.30" rx="410.19" ry="248.60" fill="url(#am1)"/>
<ellipse cx="731.2" cy="498.30" rx="406.46" ry="246.34" fill="url(#am2)"/>
<ellipse cx="731.2" cy="498.31" rx="402.73" ry="244.08" fill="url(#am3)"/>
<ellipse cx="731.2" cy="498.36" rx="400.87" ry="242.95" fill="url(#am4)"/>
<ellipse cx="731.2" cy="498.47" rx="399.00" ry="241.82" fill="url(#am5)"/>
<ellipse cx="731.2" cy="498.63" rx="397.14" ry="240.69" fill="url(#am6)"/>
<ellipse cx="731.2" cy="498.84" rx="395.27" ry="239.56" fill="url(#am7)"/>
<ellipse cx="731.2" cy="499.10" rx="393.41" ry="238.43" fill="url(#am8)"/>
<ellipse cx="731.2" cy="499.40" rx="391.54" ry="237.30" fill="url(#am9)"/>
<ellipse cx="731.2" cy="499.74" rx="389.68" ry="236.17" fill="url(#am10)"/>
<ellipse cx="731.2" cy="500.11" rx="387.82" ry="235.04" fill="url(#am11)"/>
<ellipse cx="731.2" cy="500.51" rx="385.95" ry="233.91" fill="url(#am12)"/>
<ellipse cx="731.2" cy="500.93" rx="384.09" ry="232.78" fill="url(#am13)"/>
<ellipse cx="731.2" cy="501.37" rx="382.22" ry="231.65" fill="url(#am14)"/>
<ellipse cx="731.2" cy="501.81" rx="380.36" ry="230.52" fill="url(#am15)"/>
<ellipse cx="731.2" cy="502.26" rx="378.49" ry="229.39" fill="url(#am16)"/>
<ellipse cx="731.2" cy="502.70" rx="376.63" ry="228.26" fill="url(#am17)"/>
<ellipse cx="731.2" cy="503.13" rx="374.76" ry="227.13" fill="url(#am18)"/>
<ellipse cx="731.2" cy="503.54" rx="372.90" ry="226.00" fill="url(#am19)"/>
<ellipse cx="731.2" cy="503.93" rx="371.04" ry="224.87" fill="url(#am20)"/>
<ellipse cx="731.2" cy="504.28" rx="369.17" ry="223.74" fill="url(#am21)"/>
<ellipse cx="731.2" cy="504.60" rx="367.31" ry="222.61" fill="url(#am22)"/>
<ellipse cx="731.2" cy="504.88" rx="365.44" ry="221.48" fill="url(#am23)"/>
<ellipse cx="731.2" cy="505.12" rx="363.58" ry="220.35" fill="url(#am24)"/>
<ellipse cx="731.2" cy="505.30" rx="361.71" ry="219.22" fill="url(#am25)"/>
<ellipse cx="731.2" cy="505.44" rx="359.85" ry="218.09" fill="url(#am26)"/>
<ellipse cx="731.2" cy="505.52" rx="357.98" ry="216.96" fill="url(#am27)"/>
<ellipse cx="731.2" cy="505.55" rx="356.12" ry="215.83" fill="url(#am28)"/>
<ellipse cx="731.2" cy="505.52" rx="354.25" ry="214.70" fill="url(#am29)"/>
<ellipse cx="731.2" cy="505.44" rx="352.39" ry="213.57" fill="url(#am30)"/>
<ellipse cx="731.2" cy="505.30" rx="350.53" ry="212.44" fill="url(#am31)"/>
<ellipse cx="731.2" cy="505.12" rx="348.66" ry="211.31" fill="url(#am32)"/>
<ellipse cx="731.2" cy="504.88" rx="346.80" ry="210.18" fill="url(#am33)"/>
<ellipse cx="731.2" cy="504.60" rx="344.93" ry="209.05" fill="url(#am34)"/>
<ellipse cx="731.2" cy="504.28" rx="343.07" ry="207.92" fill="url(#am35)"/>
<ellipse cx="731.2" cy="503.93" rx="341.20" ry="206.79" fill="url(#am36)"/>
<ellipse cx="731.2" cy="503.54" rx="339.34" ry="205.66" fill="url(#am37)"/>
<ellipse cx="731.2" cy="503.13" rx="337.47" ry="204.53" fill="url(#am38)"/>
<ellipse cx="731.2" cy="502.70" rx="335.61" ry="203.40" fill="url(#am39)"/>
<ellipse cx="731.2" cy="502.26" rx="333.75" ry="202.27" fill="url(#am40)"/>
<ellipse cx="731.2" cy="501.81" rx="331.88" ry="201.14" fill="url(#am41)"/>
<ellipse cx="731.2" cy="501.37" rx="330.02" ry="200.01" fill="url(#am42)"/>
<ellipse cx="731.2" cy="500.93" rx="328.15" ry="198.88" fill="url(#am43)"/>
<ellipse cx="731.2" cy="500.51" rx="326.29" ry="197.75" fill="url(#am44)"/>
<ellipse cx="731.2" cy="500.11" rx="324.42" ry="196.62" fill="url(#am45)"/>
<ellipse cx="731.2" cy="499.74" rx="322.56" ry="195.49" fill="url(#am46)"/>
<ellipse cx="731.2" cy="499.40" rx="320.69" ry="194.36" fill="url(#am47)"/>
<ellipse cx="731.2" cy="499.10" rx="318.83" ry="193.23" fill="url(#am48)"/>
<ellipse cx="731.2" cy="498.84" rx="316.96" ry="192.10" fill="url(#am49)"/>
<ellipse cx="731.2" cy="498.63" rx="315.10" ry="190.97" fill="url(#am50)"/>
<ellipse cx="731.2" cy="498.47" rx="313.24" ry="189.84" fill="url(#am51)"/>
<ellipse cx="731.2" cy="498.36" rx="311.37" ry="188.71" fill="url(#am52)"/>
<ellipse cx="731.2" cy="498.31" rx="309.51" ry="187.58" fill="url(#am53)"/>
<ellipse cx="731.2" cy="498.31" rx="307.64" ry="186.45" fill="url(#am54)"/>
<ellipse cx="731.2" cy="498.36" rx="305.78" ry="185.32" fill="url(#am55)"/>
<ellipse cx="731.2" cy="498.47" rx="303.91" ry="184.19" fill="url(#am56)"/>
<ellipse cx="731.2" cy="498.63" rx="302.05" ry="183.06" fill="url(#am57)"/>
<ellipse cx="731.2" cy="498.84" rx="300.18" ry="181.93" fill="url(#am58)"/>
<ellipse cx="731.2" cy="499.10" rx="298.32" ry="180.80" fill="url(#am59)"/>
<ellipse cx="731.2" cy="499.40" rx="296.46" ry="179.67" fill="url(#am60)"/>
<ellipse cx="731.2" cy="499.74" rx="294.59" ry="178.54" fill="url(#am61)"/>
<ellipse cx="731.2" cy="500.11" rx="292.73" ry="177.41" fill="url(#am62)"/>
<ellipse cx="731.2" cy="500.51" rx="290.86" ry="176.28" fill="url(#am63)"/>
<ellipse cx="731.2" cy="500.93" rx="289.00" ry="175.15" fill="url(#am64)"/>
<ellipse cx="731.2" cy="501.37" rx="287.13" ry="174.02" fill="url(#am65)"/>
<ellipse cx="731.2" cy="501.81" rx="285.27" ry="172.89" fill="url(#am66)"/>
<ellipse cx="731.2" cy="502.26" rx="283.40" ry="171.76" fill="url(#am67)"/>
<ellipse cx="731.2" cy="502.70" rx="281.54" ry="170.63" fill="url(#am68)"/>
<ellipse cx="731.2" cy="503.13" rx="279.67" ry="169.50" fill="url(#am69)"/>
<ellipse cx="731.2" cy="503.54" rx="277.81" ry="168.37" fill="url(#am70)"/>
<ellipse cx="731.2" cy="503.93" rx="275.95" ry="167.24" fill="url(#am71)"/>
<ellipse cx="731.2" cy="504.28" rx="274.08" ry="166.11" fill="url(#am72)"/>
<ellipse cx="731.2" cy="504.60" rx="272.22" ry="164.98" fill="url(#am73)"/>
<ellipse cx="731.2" cy="504.88" rx="270.35" ry="163.85" fill="url(#am74)"/>
<ellipse cx="731.2" cy="505.12" rx="268.49" ry="162.72" fill="url(#am75)"/>
<ellipse cx="731.2" cy="505.30" rx="266.62" ry="161.59" fill="url(#am76)"/>
<ellipse cx="731.2" cy="505.44" rx="264.76" ry="160.46" fill="url(#am77)"/>
<ellipse cx="731.2" cy="505.52" rx="262.89" ry="159.33" fill="url(#am78)"/>
<ellipse cx="731.2" cy="505.55" rx="261.03" ry="158.20" fill="url(#am79)"/>
<ellipse cx="731.2" cy="505.52" rx="259.17" ry="157.07" fill="url(#am80)"/>
<ellipse cx="731.2" cy="505.44" rx="257.30" ry="155.94" fill="url(#am81)"/>
<ellipse cx="731.2" cy="505.30" rx="255.44" ry="154.81" fill="url(#am82)"/>
<ellipse cx="731.2" cy="505.12" rx="253.57" ry="153.68" fill="url(#am83)"/>
<ellipse cx="731.2" cy="504.88" rx="251.71" ry="152.55" fill="url(#am84)"/>
<ellipse cx="731.2" cy="504.60" rx="249.84" ry="151.42" fill="url(#am85)"/>
<ellipse cx="731.2" cy="504.28" rx="247.98" ry="150.29" fill="url(#am86)"/>
<ellipse cx="731.2" cy="503.93" rx="246.11" ry="149.16" fill="url(#am87)"/>
<ellipse cx="731.2" cy="503.54" rx="244.25" ry="148.03" fill="url(#am88)"/>
<ellipse cx="731.2" cy="503.13" rx="242.38" ry="146.90" fill="url(#am89)"/>
<ellipse cx="731.2" cy="502.70" rx="240.52" ry="145.77" fill="url(#am90)"/>
<ellipse cx="731.2" cy="502.26" rx="238.66" ry="144.64" fill="url(#am91)"/>
<ellipse cx="731.2" cy="501.81" rx="236.79" ry="143.51" fill="url(#am92)"/>
<ellipse cx="731.2" cy="501.37" rx="234.93" ry="142.38" fill="url(#am93)"/>
<ellipse cx="731.2" cy="500.93" rx="233.06" ry="141.25" fill="url(#am94)"/>
<ellipse cx="731.2" cy="500.51" rx="231.20" ry="140.12" fill="url(#am95)"/>
<ellipse cx="731.2" cy="500.11" rx="229.33" ry="138.99" fill="url(#am96)"/>
<ellipse cx="731.2" cy="499.74" rx="227.47" ry="137.86" fill="url(#am97)"/>
<ellipse cx="731.2" cy="499.40" rx="225.60" ry="136.73" fill="url(#am98)"/>
<ellipse cx="731.2" cy="499.10" rx="223.74" ry="135.60" fill="url(#am99)"/>
<ellipse cx="731.2" cy="498.84" rx="221.88" ry="134.47" fill="url(#am100)"/>
<ellipse cx="731.2" cy="498.63" rx="220.01" ry="133.34" fill="url(#am101)"/>
<ellipse cx="731.2" cy="498.47" rx="218.15" ry="132.21" fill="url(#am102)"/>
<ellipse cx="731.2" cy="498.36" rx="216.28" ry="131.08" fill="url(#am103)"/>
<ellipse cx="731.2" cy="498.31" rx="214.42" ry="129.95" fill="url(#am104)"/>
<ellipse cx="731.2" cy="498.31" rx="212.55" ry="128.82" fill="url(#am105)"/>
<ellipse cx="731.2" cy="498.36" rx="210.69" ry="127.69" fill="url(#am106)"/>
<ellipse cx="731.2" cy="498.47" rx="208.82" ry="126.56" fill="url(#am107)"/>
<ellipse cx="731.2" cy="498.63" rx="206.96" ry="125.43" fill="url(#am108)"/>
<ellipse cx="731.2" cy="498.84" rx="205.09" ry="124.30" fill="url(#am109)"/>
<ellipse cx="731.2" cy="499.10" rx="203.23" ry="123.17" fill="url(#am110)"/>
<ellipse cx="731.2" cy="499.40" rx="201.37" ry="122.04" fill="url(#am111)"/>
<ellipse cx="731.2" cy="499.74" rx="199.50" ry="120.91" fill="url(#am112)"/>
<ellipse cx="731.2" cy="500.11" rx="197.64" ry="119.78" fill="url(#am113)"/>
<ellipse cx="731.2" cy="500.51" rx="195.77" ry="118.65" fill="url(#am114)"/>
<ellipse cx="731.2" cy="500.93" rx="193.91" ry="117.52" fill="url(#am115)"/>
<ellipse cx="731.2" cy="501.37" rx="192.04" ry="116.39" fill="url(#am116)"/>
<ellipse cx="731.2" cy="501.81" rx="190.18" ry="115.26" fill="url(#am117)"/>
<ellipse cx="731.2" cy="502.26" rx="188.31" ry="114.13" fill="url(#am118)"/>
<ellipse cx="731.2" cy="502.70" rx="186.45" ry="113.00" fill="url(#am119)"/>
<ellipse cx="731.2" cy="503.13" rx="184.59" ry="111.87" fill="url(#am120)"/>
<ellipse cx="731.2" cy="503.54" rx="182.72" ry="110.74" fill="url(#am121)"/>
<ellipse cx="731.2" cy="503.93" rx="180.86" ry="109.61" fill="url(#am122)"/>
<ellipse cx="731.2" cy="504.28" rx="178.99" ry="108.48" fill="url(#am123)"/>
<ellipse cx="731.2" cy="504.60" rx="177.13" ry="107.35" fill="url(#am124)"/>
<ellipse cx="731.2" cy="504.88" rx="175.26" ry="106.22" fill="url(#am125)"/>
<ellipse cx="731.2" cy="505.12" rx="173.40" ry="105.09" fill="url(#am126)"/>
<ellipse cx="731.2" cy="505.30" rx="171.53" ry="103.96" fill="url(#am127)"/>
<ellipse cx="731.2" cy="505.44" rx="169.67" ry="102.83" fill="url(#am128)"/>
<ellipse cx="731.2" cy="505.52" rx="167.80" ry="101.70" fill="url(#am129)"/>
<ellipse cx="731.2" cy="505.55" rx="165.94" ry="100.57" fill="url(#am130)"/>
<ellipse cx="731.2" cy="505.52" rx="164.08" ry="99.44" fill="url(#am131)"/>
<ellipse cx="731.2" cy="505.44" rx="162.21" ry="98.31" fill="url(#am132)"/>
<ellipse cx="731.2" cy="505.30" rx="160.35" ry="97.18" fill="url(#am133)"/>
<ellipse cx="731.2" cy="505.12" rx="158.48" ry="96.05" fill="url(#am134)"/>
<ellipse cx="731.2" cy="504.88" rx="156.62" ry="94.92" fill="url(#am135)"/>
<ellipse cx="731.2" cy="504.60" rx="154.75" ry="93.79" fill="url(#am136)"/>
<ellipse cx="731.2" cy="504.28" rx="152.89" ry="92.66" fill="url(#am137)"/>
<ellipse cx="731.2" cy="503.93" rx="151.02" ry="91.53" fill="url(#am138)"/>
<ellipse cx="731.2" cy="503.54" rx="149.16" ry="90.40" fill="url(#am139)"/>
<ellipse cx="731.2" cy="503.13" rx="147.30" ry="89.27" fill="url(#am140)"/>
<ellipse cx="731.2" cy="502.70" rx="145.43" ry="88.14" fill="url(#am141)"/>
<ellipse cx="731.2" cy="502.26" rx="143.57" ry="87.01" fill="url(#am142)"/>
<ellipse cx="731.2" cy="501.81" rx="141.70" ry="85.88" fill="url(#am143)"/>
<ellipse cx="731.2" cy="501.37" rx="139.84" ry="84.75" fill="url(#am144)"/>
<ellipse cx="731.2" cy="500.93" rx="137.97" ry="83.62" fill="url(#am145)"/>
<ellipse cx="731.2" cy="500.51" rx="136.11" ry="82.49" fill="url(#am146)"/>
<ellipse cx="731.2" cy="500.11" rx="134.24" ry="81.36" fill="url(#am147)"/>
<ellipse cx="731.2" cy="499.74" rx="132.38" ry="80.23" fill="url(#am148)"/>
<ellipse cx="731.2" cy="499.40" rx="130.51" ry="79.10" fill="url(#am149)"/>
<ellipse cx="731.2" cy="499.10" rx="128.65" ry="77.97" fill="url(#am150)"/>
<ellipse cx="731.2" cy="498.84" rx="126.79" ry="76.84" fill="url(#am151)"/>
<ellipse cx="731.2" cy="498.63" rx="124.92" ry="75.71" fill="url(#am152)"/>
<ellipse cx="731.2" cy="498.47" rx="123.06" ry="74.58" fill="url(#am153)"/>
<ellipse cx="731.2" cy="498.36" rx="121.19" ry="73.45" fill="url(#am154)"/>
<ellipse cx="731.2" cy="498.31" rx="119.33" ry="72.32" fill="url(#am155)"/>
<ellipse cx="731.2" cy="498.30" rx="118.40" ry="71.75" fill="url(#am156)"/>
<ellipse cx="731.2" cy="498.30" rx="118.40" ry="71.75" fill="#a6a6a6"/>
<ellipse cx="731.2" cy="498.30" rx="118.40" ry="71.75" fill="none" stroke="#2a2a2a" stroke-width="1.3"/>
<ellipse cx="731.2" cy="501.92" rx="142.17" ry="86.16" fill="none" stroke="#2a2a2a" stroke-width="1.3"/>
<ellipse cx="731.2" cy="501.92" rx="189.71" ry="114.98" fill="none" stroke="#2a2a2a" stroke-width="1.3"/>
<ellipse cx="731.2" cy="501.92" rx="237.26" ry="143.79" fill="none" stroke="#2a2a2a" stroke-width="1.3"/>
<ellipse cx="731.2" cy="501.92" rx="284.80" ry="172.61" fill="none" stroke="#2a2a2a" stroke-width="1.3"/>
<ellipse cx="731.2" cy="501.92" rx="332.35" ry="201.42" fill="none" stroke="#2a2a2a" stroke-width="1.3"/>
<ellipse cx="731.2" cy="501.92" rx="379.89" ry="230.24" fill="none" stroke="#2a2a2a" stroke-width="1.3"/>
<ellipse cx="731.2" cy="498.30" rx="403.66" ry="244.65" fill="none" stroke="#2a2a2a" stroke-width="1.3"/>
<path d="M637.9 542.5 634.0 544.5 630.0 547.0 626.1 549.7 622.2 552.6 618.3 555.7 614.3 558.7 610.4 561.6 606.5 564.2 602.5 566.4 598.6 568.3 594.7 569.8 590.7 570.9 586.8 571.8 582.9 572.5 578.9 573.2 575.0 573.9 571.1 574.9 567.2 576.2 563.2 577.8 559.3 579.9 555.4 582.3 551.4 585.0 547.5 587.9 543.6 591.0 539.6 594.0 535.7 596.9 531.8 599.5 527.9 601.8 523.9 603.7 520.0 605.2 516.1 606.3 512.1 607.2 508.2 607.9 504.3 608.6 500.3 609.4 496.4 610.3 492.5 611.6 488.6 613.2 484.6 615.2 480.7 617.6 476.8 620.3 472.8 623.2 468.9 626.2 465.0 629.3 461.0 632.2 457.1 634.8 453.2 637.1 449.3 639.0 445.3 640.6 441.4 641.8 437.5 642.7 433.5 643.4 429.6 644.1 425.7 644.8 421.7 645.7 417.8 647.0 413.9 648.6 409.9 650.4 406.0 652.3 402.1 654.1" fill="none" stroke="#2a2a2a" stroke-width="1.2"/>
<path d="M824.5 454.1 828.4 452.5 832.4 451.2 836.3 450.2 840.2 449.4 844.1 448.7 848.1 448.0 852.0 447.2 855.9 446.0 859.9 444.6 863.8 442.7 867.7 440.5 871.7 437.9 875.6 435.1 879.5 432.0 883.5 429.0 887.4 426.0 891.3 423.3 895.2 420.8 899.2 418.8 903.1 417.1 907.0 415.8 911.0 414.7 914.9 414.0 918.8 413.3 922.8 412.6 926.7 411.7 930.6 410.6 934.5 409.2 938.5 407.4 942.4 405.2 946.3 402.6 950.3 399.8 954.2 396.8 958.1 393.7 962.1 390.8 966.0 388.0 969.9 385.5 973.8 383.4 977.8 381.7 981.7 380.3 985.6 379.3 989.6 378.5 993.5 377.8 997.4 377.2 1001.4 376.3 1005.3 375.2 1009.2 373.8 1013.1 372.0 1017.1 369.8 1021.0 367.3 1024.9 364.5 1028.9 361.5 1032.8 358.4 1036.7 355.5 1040.7 352.7 1044.6 350.2 1048.5 348.1 1052.5 346.2 1056.4 344.3 1060.3 342.5" fill="none" stroke="#2a2a2a" stroke-width="1.2"/>
</g>
<ellipse cx="731.2" cy="468.10" rx="413.92" ry="250.86" fill="none" stroke="#2a1208" stroke-width="1.3"/>
<path d="M473.5 271.8L473.5 302.0" stroke="#2a1208" stroke-width="1.3"/>
<path d="M1021.5 694.9L1021.5 725.1" stroke="#2a1208" stroke-width="1.3"/>
</g>
<defs><clipPath id="bmc"><path d="M2853.3 645.2 2844.0 645.7 2834.7 646.2 2825.4 646.8 2816.1 647.3 2806.9 647.8 2797.6 648.3 2788.3 648.9 2779.0 649.4 2769.7 649.9 2760.4 650.4 2751.1 650.9 2741.8 651.5 2732.5 652.0 2723.2 652.5 2714.0 653.0 2704.7 653.5 2695.4 654.1 2686.1 654.6 2676.8 655.1 2667.5 655.6 2658.2 656.2 2648.9 656.7 2639.6 657.2 2630.3 657.7 2621.1 658.2 2611.8 658.8 2602.5 659.3 2593.2 659.8 2583.9 660.3 2574.6 660.8 2565.3 661.4 2556.0 661.9 2546.7 662.4 2537.4 662.9 2528.2 663.6 2518.8 664.8 2509.5 666.6 2500.2 668.8 2490.8 671.5 2481.5 674.4 2472.1 677.5 2462.8 680.6 2453.4 683.7 2444.1 686.4 2434.7 688.9 2425.4 690.9 2416.1 692.3 2406.8 693.2 2397.5 693.5 2388.2 693.2 2379.0 692.4 2369.7 691.1 2360.5 689.4 2351.3 687.4 2342.1 685.4 2332.8 683.3 2323.6 681.4 2314.4 679.7 2305.1 678.4 2295.9 677.5 2286.6 677.2 2277.3 677.5 2268.0 678.4 2258.7 679.9 2249.4 681.9 2240.0 684.3 2230.7 687.1 2221.3 690.1 2212.0 693.2 2202.6 696.3 2193.3 699.3 2183.9 701.9 2174.6 704.2 2165.3 705.9 2155.9 707.1 2146.7 707.8 2137.4 707.8 2128.1 707.3 2118.9 706.2 2109.6 704.7 2100.4 702.9 2091.2 700.9 2082.0 698.8 2072.7 696.8 2063.5 695.0 2054.3 693.4 2045.0 692.3 2035.8 691.7 2026.5 691.7 2017.2 692.2 2007.9 693.4 1998.6 695.1 1989.3 697.2 1979.9 699.8 1970.6 702.7 1961.2 705.8 1951.8 709.0 1942.5 712.0 1933.1 714.8 1923.8 717.3 1914.4 719.4 1905.1 720.9 1895.8 721.9 1886.5 722.2 1877.3 722.0 1868.0 721.3 1858.8 720.0 1849.5 718.4 1840.3 716.5 1831.1 714.4 1821.9 712.3 1812.7 710.4 1803.4 708.6 1794.2 707.3 1784.9 706.4 1775.7 706.0 1766.4 706.2 1757.1 706.7 1747.8 707.3 1738.5 707.8A1147.88 413.63 -177.92 0 1 2582.3 234.5L2582.3 234.5 2584.6 237.9 2586.9 241.3 2589.1 244.8 2591.4 248.5 2593.6 252.8 2595.8 257.7 2598.0 263.0 2600.2 268.6 2602.4 274.5 2604.6 280.6 2606.8 286.6 2609.0 292.4 2611.2 298.0 2613.4 303.2 2615.6 307.9 2617.9 312.1 2620.1 315.6 2622.4 318.6 2624.7 321.0 2627.0 322.9 2629.3 324.4 2631.6 325.5 2633.9 326.4 2636.3 327.2 2638.6 328.1 2640.9 329.1 2643.2 330.4 2645.5 332.2 2647.8 334.5 2650.1 337.3 2652.3 340.7 2654.6 344.6 2656.8 349.2 2659.0 354.3 2661.2 359.7 2663.4 365.5 2665.6 371.5 2667.8 377.5 2670.0 383.5 2672.2 389.2 2674.4 394.6 2676.6 399.6 2678.8 404.1 2681.1 408.0 2683.3 411.3 2685.6 414.1 2687.9 416.3 2690.2 417.9 2692.5 419.2 2694.8 420.3 2697.2 421.1 2699.5 421.9 2701.8 422.8 2704.1 424.0 2706.5 425.5 2708.8 427.5 2711.0 429.9 2713.3 433.0 2715.6 436.7 2717.8 440.9 2720.0 445.7 2722.2 450.9 2724.4 456.5 2726.6 462.4 2728.8 468.4 2731.0 474.5 2733.2 480.3 2735.4 486.0 2737.6 491.2 2739.8 496.0 2742.0 500.2 2744.3 503.9 2746.6 506.9 2748.8 509.4 2751.1 511.4 2753.5 512.9 2755.8 514.1 2758.1 515.0 2760.4 515.8 2762.8 516.6 2765.1 517.6 2767.4 518.9 2769.7 520.6 2772.0 522.8 2774.3 525.5 2776.5 528.8 2778.8 532.3 2781.0 535.7 2783.3 539.1 2785.6 542.5 2787.8 545.9 2790.1 549.4 2792.3 552.8 2794.6 556.2 2796.9 559.6 2799.1 563.1 2801.4 566.5 2803.6 569.9 2805.9 573.3 2808.1 576.8 2810.4 580.2 2812.7 583.6 2814.9 587.0 2817.2 590.4 2819.4 593.9 2821.7 597.3 2823.9 600.7 2826.2 604.1 2828.5 607.6 2830.7 611.0 2833.0 614.4 2835.2 617.8 2837.5 621.2 2839.8 624.7 2842.0 628.1 2844.3 631.5 2846.5 634.9 2848.8 638.4 2851.0 641.8 2853.3 645.2Z"/></clipPath><filter id="bblur" x="-5%" y="-5%" width="110%" height="110%"><feGaussianBlur stdDeviation="2.5"/></filter><linearGradient id="bm0" gradientUnits="userSpaceOnUse" x1="2853.3" y1="645.2" x2="2047.8" y2="1176.6"><stop offset="0.00" stop-color="#ffffff"/><stop offset="0.10" stop-color="#ffffff"/><stop offset="0.20" stop-color="#ffffff"/><stop offset="0.30" stop-color="#ffffff"/><stop offset="0.40" stop-color="#ffffff"/><stop offset="0.50" stop-color="#ffffff"/><stop offset="0.60" stop-color="#ffffff"/><stop offset="0.70" stop-color="#ffffff"/><stop offset="0.80" stop-color="#ffffff"/><stop offset="0.90" stop-color="#ffffff"/><stop offset="1.00" stop-color="#ffffff"/></linearGradient><linearGradient id="bm1" gradientUnits="userSpaceOnUse" x1="2853.3" y1="645.2" x2="2051.4" y2="1174.2"><stop offset="0.00" stop-color="#ffffff"/><stop offset="0.10" stop-color="#ffffff"/><stop offset="0.20" stop-color="#ffffff"/><stop offset="0.30" stop-color="#ffffff"/><stop offset="0.40" stop-color="#ffffff"/><stop offset="0.50" stop-color="#ffffff"/><stop offset="0.60" stop-color="#ffffff"/><stop offset="0.70" stop-color="#ffffff"/><stop offset="0.80" stop-color="#ffffff"/><stop offset="0.90" stop-color="#ffffff"/><stop offset="1.00" stop-color="#ffffff"/></linearGradient><linearGradient id="bm2" gradientUnits="userSpaceOnUse" x1="2853.3" y1="645.2" x2="2055.1" y2="1171.8"><stop offset="0.00" stop-color="#ffffff"/><stop offset="0.10" stop-color="#ffffff"/><stop offset="0.20" stop-color="#ffffff"/><stop offset="0.30" stop-color="#ffffff"/><stop offset="0.40" stop-color="#ffffff"/><stop offset="0.50" stop-color="#ffffff"/><stop offset="0.60" stop-color="#ffffff"/><stop offset="0.70" stop-color="#ffffff"/><stop offset="0.80" stop-color="#ffffff"/><stop offset="0.90" stop-color="#ffffff"/><stop offset="1.00" stop-color="#ffffff"/></linearGradient><linearGradient id="bm3" gradientUnits="userSpaceOnUse" x1="2853.3" y1="645.2" x2="2058.7" y2="1169.4"><stop offset="0.00" stop-color="#ffffff"/><stop offset="0.10" stop-color="#ffffff"/><stop offset="0.20" stop-color="#ffffff"/><stop offset="0.30" stop-color="#ffffff"/><stop offset="0.40" stop-color="#ffffff"/><stop offset="0.50" stop-color="#ffffff"/><stop offset="0.60" stop-color="#ffffff"/><stop offset="0.70" stop-color="#ffffff"/><stop offset="0.80" stop-color="#ffffff"/><stop offset="0.90" stop-color="#ffffff"/><stop offset="1.00" stop-color="#ffffff"/></linearGradient><linearGradient id="bm4" gradientUnits="userSpaceOnUse" x1="2853.3" y1="645.2" x2="2062.3" y2="1167.0"><stop offset="0.00" stop-color="#ffffff"/><stop offset="0.10" stop-color="#ffffff"/><stop offset="0.20" stop-color="#ffffff"/><stop offset="0.30" stop-color="#ffffff"/><stop offset="0.40" stop-color="#ffffff"/><stop offset="0.50" stop-color="#ffffff"/><stop offset="0.60" stop-color="#ffffff"/><stop offset="0.70" stop-color="#ffffff"/><stop offset="0.80" stop-color="#ffffff"/><stop offset="0.90" stop-color="#ffffff"/><stop offset="1.00" stop-color="#ffffff"/></linearGradient><linearGradient id="bm5" gradientUnits="userSpaceOnUse" x1="2853.3" y1="645.2" x2="2066.0" y2="1164.6"><stop offset="0.00" stop-color="#ffffff"/><stop offset="0.10" stop-color="#ffffff"/><stop offset="0.20" stop-color="#ffffff"/><stop offset="0.30" stop-color="#ffffff"/><stop offset="0.40" stop-color="#ffffff"/><stop offset="0.50" stop-color="#ffffff"/><stop offset="0.60" stop-color="#ffffff"/><stop offset="0.70" stop-color="#ffffff"/><stop offset="0.80" stop-color="#ffffff"/><stop offset="0.90" stop-color="#ffffff"/><stop offset="1.00" stop-color="#ffffff"/></linearGradient><linearGradient id="bm6" gradientUnits="userSpaceOnUse" x1="2853.3" y1="645.2" x2="2069.6" y2="1162.3"><stop offset="0.00" stop-color="#a3a3a3"/><stop offset="0.10" stop-color="#a3a3a3"/><stop offset="0.20" stop-color="#a3a3a3"/><stop offset="0.30" stop-color="#a3a3a3"/><stop offset="0.40" stop-color="#a3a3a3"/><stop offset="0.50" stop-color="#a4a4a4"/><stop offset="0.60" stop-color="#a6a6a6"/><stop offset="0.70" stop-color="#aeaeae"/><stop offset="0.80" stop-color="#cacaca"/><stop offset="0.90" stop-color="#f4f4f4"/><stop offset="1.00" stop-color="#ffffff"/></linearGradient><linearGradient id="bm7" gradientUnits="userSpaceOnUse" x1="2853.3" y1="645.4" x2="2073.2" y2="1160.0"><stop offset="0.00" stop-color="#acacac"/><stop offset="0.10" stop-color="#acacac"/><stop offset="0.20" stop-color="#acacac"/><stop offset="0.30" stop-color="#acacac"/><stop offset="0.40" stop-color="#acacac"/><stop offset="0.50" stop-color="#aaaaaa"/><stop offset="0.60" stop-color="#a7a7a7"/><stop offset="0.70" stop-color="#a3a3a3"/><stop offset="0.80" stop-color="#aeaeae"/><stop offset="0.90" stop-color="#e2e2e2"/><stop offset="1.00" stop-color="#ffffff"/></linearGradient><linearGradient id="bm8" gradientUnits="userSpaceOnUse" x1="2853.3" y1="645.7" x2="2076.8" y2="1158.0"><stop offset="0.00" stop-color="#c6c6c6"/><stop offset="0.10" stop-color="#c6c6c6"/><stop offset="0.20" stop-color="#c6c6c6"/><stop offset="0.30" stop-color="#c6c6c6"/><stop offset="0.40" stop-color="#c5c5c5"/><stop offset="0.50" stop-color="#c3c3c3"/><stop offset="0.60" stop-color="#bdbdbd"/><stop offset="0.70" stop-color="#b0b0b0"/><stop offset="0.80" stop-color="#a3a3a3"/><stop offset="0.90" stop-color="#c6c6c6"/><stop offset="1.00" stop-color="#fdfdfd"/></linearGradient><linearGradient id="bm9" gradientUnits="userSpaceOnUse" x1="2853.3" y1="646.3" x2="2080.4" y2="1156.1"><stop offset="0.00" stop-color="#e2e2e2"/><stop offset="0.10" stop-color="#e2e2e2"/><stop offset="0.20" stop-color="#e2e2e2"/><stop offset="0.30" stop-color="#e2e2e2"/><stop offset="0.40" stop-color="#e1e1e1"/><stop offset="0.50" stop-color="#dfdfdf"/><stop offset="0.60" stop-color="#d9d9d9"/><stop offset="0.70" stop-color="#cbcbcb"/><stop offset="0.80" stop-color="#b0b0b0"/><stop offset="0.90" stop-color="#acacac"/><stop offset="1.00" stop-color="#f7f7f7"/></linearGradient><linearGradient id="bm10" gradientUnits="userSpaceOnUse" x1="2853.3" y1="646.9" x2="2084.1" y2="1154.4"><stop offset="0.00" stop-color="#f4f4f4"/><stop offset="0.10" stop-color="#f4f4f4"/><stop offset="0.20" stop-color="#f4f4f4"/><stop offset="0.30" stop-color="#f3f3f3"/><stop offset="0.40" stop-color="#f3f3f3"/><stop offset="0.50" stop-color="#f2f2f2"/><stop offset="0.60" stop-color="#efefef"/><stop offset="0.70" stop-color="#e6e6e6"/><stop offset="0.80" stop-color="#cbcbcb"/><stop offset="0.90" stop-color="#a3a3a3"/><stop offset="1.00" stop-color="#e8e8e8"/></linearGradient><linearGradient id="bm11" gradientUnits="userSpaceOnUse" x1="2853.2" y1="647.7" x2="2087.7" y2="1152.8"><stop offset="0.00" stop-color="#fcfcfc"/><stop offset="0.10" stop-color="#fcfcfc"/><stop offset="0.20" stop-color="#fcfcfc"/><stop offset="0.30" stop-color="#fcfcfc"/><stop offset="0.40" stop-color="#fbfbfb"/><stop offset="0.50" stop-color="#fbfbfb"/><stop offset="0.60" stop-color="#fafafa"/><stop offset="0.70" stop-color="#f6f6f6"/><stop offset="0.80" stop-color="#e5e5e5"/><stop offset="0.90" stop-color="#b2b2b2"/><stop offset="1.00" stop-color="#cfcfcf"/></linearGradient><linearGradient id="bm12" gradientUnits="userSpaceOnUse" x1="2853.2" y1="648.7" x2="2091.3" y2="1151.4"><stop offset="0.00" stop-color="#fefefe"/><stop offset="0.10" stop-color="#fefefe"/><stop offset="0.20" stop-color="#fefefe"/><stop offset="0.30" stop-color="#fefefe"/><stop offset="0.40" stop-color="#fefefe"/><stop offset="0.50" stop-color="#fefefe"/><stop offset="0.60" stop-color="#fefefe"/><stop offset="0.70" stop-color="#fcfcfc"/><stop offset="0.80" stop-color="#f5f5f5"/><stop offset="0.90" stop-color="#cecece"/><stop offset="1.00" stop-color="#b2b2b2"/></linearGradient><linearGradient id="bm13" gradientUnits="userSpaceOnUse" x1="2853.2" y1="649.8" x2="2094.9" y2="1150.0"><stop offset="0.00" stop-color="#ffffff"/><stop offset="0.10" stop-color="#ffffff"/><stop offset="0.20" stop-color="#ffffff"/><stop offset="0.30" stop-color="#ffffff"/><stop offset="0.40" stop-color="#ffffff"/><stop offset="0.50" stop-color="#ffffff"/><stop offset="0.60" stop-color="#ffffff"/><stop offset="0.70" stop-color="#fefefe"/><stop offset="0.80" stop-color="#fcfcfc"/><stop offset="0.90" stop-color="#e8e8e8"/><stop offset="1.00" stop-color="#a3a3a3"/></linearGradient><linearGradient id="bm14" gradientUnits="userSpaceOnUse" x1="2853.1" y1="650.9" x2="2098.5" y2="1148.8"><stop offset="0.00" stop-color="#ffffff"/><stop offset="0.10" stop-color="#ffffff"/><stop offset="0.20" stop-color="#ffffff"/><stop offset="0.30" stop-color="#ffffff"/><stop offset="0.40" stop-color="#ffffff"/><stop offset="0.50" stop-color="#ffffff"/><stop offset="0.60" stop-color="#ffffff"/><stop offset="0.70" stop-color="#ffffff"/><stop offset="0.80" stop-color="#fefefe"/><stop offset="0.90" stop-color="#f7f7f7"/><stop offset="1.00" stop-color="#acacac"/></linearGradient><linearGradient id="bm15" gradientUnits="userSpaceOnUse" x1="2853.1" y1="652.2" x2="2102.1" y2="1147.7"><stop offset="0.00" stop-color="#fefefe"/><stop offset="0.10" stop-color="#fefefe"/><stop offset="0.20" stop-color="#fefefe"/><stop offset="0.30" stop-color="#fefefe"/><stop offset="0.40" stop-color="#fefefe"/><stop offset="0.50" stop-color="#fefefe"/><stop offset="0.60" stop-color="#fefefe"/><stop offset="0.70" stop-color="#ffffff"/><stop offset="0.80" stop-color="#ffffff"/><stop offset="0.90" stop-color="#fdfdfd"/><stop offset="1.00" stop-color="#c6c6c6"/></linearGradient><linearGradient id="bm16" gradientUnits="userSpaceOnUse" x1="2853.1" y1="653.5" x2="2105.6" y2="1146.6"><stop offset="0.00" stop-color="#f5f5f5"/><stop offset="0.10" stop-color="#f5f5f5"/><stop offset="0.20" stop-color="#f6f6f6"/><stop offset="0.30" stop-color="#f7f7f7"/><stop offset="0.40" stop-color="#f8f8f8"/><stop offset="0.50" stop-color="#f9f9f9"/><stop offset="0.60" stop-color="#fbfbfb"/><stop offset="0.70" stop-color="#fcfcfc"/><stop offset="0.80" stop-color="#fefefe"/><stop offset="0.90" stop-color="#fefefe"/><stop offset="1.00" stop-color="#e1e1e1"/></linearGradient><linearGradient id="bm17" gradientUnits="userSpaceOnUse" x1="2853.0" y1="654.9" x2="2109.2" y2="1145.6"><stop offset="0.00" stop-color="#dedede"/><stop offset="0.10" stop-color="#dfdfdf"/><stop offset="0.20" stop-color="#e1e1e1"/><stop offset="0.30" stop-color="#e4e4e4"/><stop offset="0.40" stop-color="#e8e8e8"/><stop offset="0.50" stop-color="#ededed"/><stop offset="0.60" stop-color="#f2f2f2"/><stop offset="0.70" stop-color="#f7f7f7"/><stop offset="0.80" stop-color="#fbfbfb"/><stop offset="0.90" stop-color="#fefefe"/><stop offset="1.00" stop-color="#f3f3f3"/></linearGradient><linearGradient id="bm18" gradientUnits="userSpaceOnUse" x1="2853.0" y1="656.3" x2="2112.8" y2="1144.6"><stop offset="0.00" stop-color="#d2d2d2"/><stop offset="0.10" stop-color="#d3d3d3"/><stop offset="0.20" stop-color="#d6d6d6"/><stop offset="0.30" stop-color="#dadada"/><stop offset="0.40" stop-color="#dfdfdf"/><stop offset="0.50" stop-color="#e6e6e6"/><stop offset="0.60" stop-color="#ededed"/><stop offset="0.70" stop-color="#f3f3f3"/><stop offset="0.80" stop-color="#f9f9f9"/><stop offset="0.90" stop-color="#fdfdfd"/><stop offset="1.00" stop-color="#fcfcfc"/></linearGradient><linearGradient id="bm19" gradientUnits="userSpaceOnUse" x1="2853.0" y1="657.7" x2="2116.4" y2="1143.7"><stop offset="0.00" stop-color="#a4a4a4"/><stop offset="0.10" stop-color="#a4a4a4"/><stop offset="0.20" stop-color="#a4a4a4"/><stop offset="0.30" stop-color="#a4a4a4"/><stop offset="0.40" stop-color="#a4a4a4"/><stop offset="0.50" stop-color="#a5a5a5"/><stop offset="0.60" stop-color="#a7a7a7"/><stop offset="0.70" stop-color="#b1b1b1"/><stop offset="0.80" stop-color="#cdcdcd"/><stop offset="0.90" stop-color="#f5f5f5"/><stop offset="1.00" stop-color="#ffffff"/></linearGradient><linearGradient id="bm20" gradientUnits="userSpaceOnUse" x1="2852.9" y1="659.1" x2="2120.0" y2="1142.7"><stop offset="0.00" stop-color="#a4a4a4"/><stop offset="0.10" stop-color="#a4a4a4"/><stop offset="0.20" stop-color="#a4a4a4"/><stop offset="0.30" stop-color="#a4a4a4"/><stop offset="0.40" stop-color="#a4a4a4"/><stop offset="0.50" stop-color="#a3a3a3"/><stop offset="0.60" stop-color="#a3a3a3"/><stop offset="0.70" stop-color="#a7a7a7"/><stop offset="0.80" stop-color="#bfbfbf"/><stop offset="0.90" stop-color="#eeeeee"/><stop offset="1.00" stop-color="#ffffff"/></linearGradient><linearGradient id="bm21" gradientUnits="userSpaceOnUse" x1="2852.9" y1="660.5" x2="2123.6" y2="1141.6"><stop offset="0.00" stop-color="#aaaaaa"/><stop offset="0.10" stop-color="#aaaaaa"/><stop offset="0.20" stop-color="#aaaaaa"/><stop offset="0.30" stop-color="#aaaaaa"/><stop offset="0.40" stop-color="#a9a9a9"/><stop offset="0.50" stop-color="#a8a8a8"/><stop offset="0.60" stop-color="#a5a5a5"/><stop offset="0.70" stop-color="#a3a3a3"/><stop offset="0.80" stop-color="#b1b1b1"/><stop offset="0.90" stop-color="#e5e5e5"/><stop offset="1.00" stop-color="#ffffff"/></linearGradient><linearGradient id="bm22" gradientUnits="userSpaceOnUse" x1="2852.8" y1="661.8" x2="2127.2" y2="1140.5"><stop offset="0.00" stop-color="#b5b5b5"/><stop offset="0.10" stop-color="#b5b5b5"/><stop offset="0.20" stop-color="#b5b5b5"/><stop offset="0.30" stop-color="#b5b5b5"/><stop offset="0.40" stop-color="#b4b4b4"/><stop offset="0.50" stop-color="#b2b2b2"/><stop offset="0.60" stop-color="#adadad"/><stop offset="0.70" stop-color="#a5a5a5"/><stop offset="0.80" stop-color="#a8a8a8"/><stop offset="0.90" stop-color="#d8d8d8"/><stop offset="1.00" stop-color="#fefefe"/></linearGradient><linearGradient id="bm23" gradientUnits="userSpaceOnUse" x1="2852.8" y1="663.0" x2="2130.8" y2="1139.4"><stop offset="0.00" stop-color="#c3c3c3"/><stop offset="0.10" stop-color="#c3c3c3"/><stop offset="0.20" stop-color="#c3c3c3"/><stop offset="0.30" stop-color="#c2c2c2"/><stop offset="0.40" stop-color="#c2c2c2"/><stop offset="0.50" stop-color="#bfbfbf"/><stop offset="0.60" stop-color="#b9b9b9"/><stop offset="0.70" stop-color="#adadad"/><stop offset="0.80" stop-color="#a3a3a3"/><stop offset="0.90" stop-color="#cacaca"/><stop offset="1.00" stop-color="#fdfdfd"/></linearGradient><linearGradient id="bm24" gradientUnits="userSpaceOnUse" x1="2852.8" y1="664.2" x2="2134.4" y2="1138.1"><stop offset="0.00" stop-color="#d1d1d1"/><stop offset="0.10" stop-color="#d1d1d1"/><stop offset="0.20" stop-color="#d1d1d1"/><stop offset="0.30" stop-color="#d1d1d1"/><stop offset="0.40" stop-color="#d0d0d0"/><stop offset="0.50" stop-color="#cecece"/><stop offset="0.60" stop-color="#c8c8c8"/><stop offset="0.70" stop-color="#b9b9b9"/><stop offset="0.80" stop-color="#a5a5a5"/><stop offset="0.90" stop-color="#bbbbbb"/><stop offset="1.00" stop-color="#fbfbfb"/></linearGradient><linearGradient id="bm25" gradientUnits="userSpaceOnUse" x1="2852.8" y1="665.2" x2="2138.0" y2="1136.7"><stop offset="0.00" stop-color="#dfdfdf"/><stop offset="0.10" stop-color="#dfdfdf"/><stop offset="0.20" stop-color="#dfdfdf"/><stop offset="0.30" stop-color="#dfdfdf"/><stop offset="0.40" stop-color="#dedede"/><stop offset="0.50" stop-color="#dcdcdc"/><stop offset="0.60" stop-color="#d6d6d6"/><stop offset="0.70" stop-color="#c8c8c8"/><stop offset="0.80" stop-color="#adadad"/><stop offset="0.90" stop-color="#afafaf"/><stop offset="1.00" stop-color="#f8f8f8"/></linearGradient><linearGradient id="bm26" gradientUnits="userSpaceOnUse" x1="2852.7" y1="666.1" x2="2141.6" y2="1135.2"><stop offset="0.00" stop-color="#eaeaea"/><stop offset="0.10" stop-color="#eaeaea"/><stop offset="0.20" stop-color="#eaeaea"/><stop offset="0.30" stop-color="#eaeaea"/><stop offset="0.40" stop-color="#e9e9e9"/><stop offset="0.50" stop-color="#e7e7e7"/><stop offset="0.60" stop-color="#e3e3e3"/><stop offset="0.70" stop-color="#d6d6d6"/><stop offset="0.80" stop-color="#b9b9b9"/><stop offset="0.90" stop-color="#a6a6a6"/><stop offset="1.00" stop-color="#f2f2f2"/></linearGradient><linearGradient id="bm27" gradientUnits="userSpaceOnUse" x1="2852.7" y1="666.8" x2="2145.2" y2="1133.6"><stop offset="0.00" stop-color="#f2f2f2"/><stop offset="0.10" stop-color="#f2f2f2"/><stop offset="0.20" stop-color="#f2f2f2"/><stop offset="0.30" stop-color="#f2f2f2"/><stop offset="0.40" stop-color="#f1f1f1"/><stop offset="0.50" stop-color="#f0f0f0"/><stop offset="0.60" stop-color="#ededed"/><stop offset="0.70" stop-color="#e3e3e3"/><stop offset="0.80" stop-color="#c7c7c7"/><stop offset="0.90" stop-color="#a3a3a3"/><stop offset="1.00" stop-color="#eaeaea"/></linearGradient><linearGradient id="bm28" gradientUnits="userSpaceOnUse" x1="2852.7" y1="667.4" x2="2148.8" y2="1131.8"><stop offset="0.00" stop-color="#f7f7f7"/><stop offset="0.10" stop-color="#f7f7f7"/><stop offset="0.20" stop-color="#f7f7f7"/><stop offset="0.30" stop-color="#f7f7f7"/><stop offset="0.40" stop-color="#f7f7f7"/><stop offset="0.50" stop-color="#f6f6f6"/><stop offset="0.60" stop-color="#f4f4f4"/><stop offset="0.70" stop-color="#ededed"/><stop offset="0.80" stop-color="#d6d6d6"/><stop offset="0.90" stop-color="#a6a6a6"/><stop offset="1.00" stop-color="#e0e0e0"/></linearGradient><linearGradient id="bm29" gradientUnits="userSpaceOnUse" x1="2852.7" y1="667.8" x2="2152.4" y2="1129.8"><stop offset="0.00" stop-color="#fbfbfb"/><stop offset="0.10" stop-color="#fbfbfb"/><stop offset="0.20" stop-color="#fbfbfb"/><stop offset="0.30" stop-color="#fbfbfb"/><stop offset="0.40" stop-color="#fbfbfb"/><stop offset="0.50" stop-color="#fafafa"/><stop offset="0.60" stop-color="#f9f9f9"/><stop offset="0.70" stop-color="#f4f4f4"/><stop offset="0.80" stop-color="#e3e3e3"/><stop offset="0.90" stop-color="#afafaf"/><stop offset="1.00" stop-color="#d2d2d2"/></linearGradient><linearGradient id="bm30" gradientUnits="userSpaceOnUse" x1="2852.7" y1="668.1" x2="2156.0" y2="1127.7"><stop offset="0.00" stop-color="#fdfdfd"/><stop offset="0.10" stop-color="#fdfdfd"/><stop offset="0.20" stop-color="#fdfdfd"/><stop offset="0.30" stop-color="#fdfdfd"/><stop offset="0.40" stop-color="#fdfdfd"/><stop offset="0.50" stop-color="#fdfdfd"/><stop offset="0.60" stop-color="#fcfcfc"/><stop offset="0.70" stop-color="#f9f9f9"/><stop offset="0.80" stop-color="#ededed"/><stop offset="0.90" stop-color="#bcbcbc"/><stop offset="1.00" stop-color="#c4c4c4"/></linearGradient><linearGradient id="bm31" gradientUnits="userSpaceOnUse" x1="2852.7" y1="668.2" x2="2159.7" y2="1125.4"><stop offset="0.00" stop-color="#fefefe"/><stop offset="0.10" stop-color="#fefefe"/><stop offset="0.20" stop-color="#fefefe"/><stop offset="0.30" stop-color="#fefefe"/><stop offset="0.40" stop-color="#fefefe"/><stop offset="0.50" stop-color="#fefefe"/><stop offset="0.60" stop-color="#fdfdfd"/><stop offset="0.70" stop-color="#fcfcfc"/><stop offset="0.80" stop-color="#f4f4f4"/><stop offset="0.90" stop-color="#cbcbcb"/><stop offset="1.00" stop-color="#b6b6b6"/></linearGradient><linearGradient id="bm32" gradientUnits="userSpaceOnUse" x1="2852.7" y1="668.1" x2="2163.3" y2="1122.9"><stop offset="0.00" stop-color="#ffffff"/><stop offset="0.10" stop-color="#ffffff"/><stop offset="0.20" stop-color="#ffffff"/><stop offset="0.30" stop-color="#ffffff"/><stop offset="0.40" stop-color="#ffffff"/><stop offset="0.50" stop-color="#ffffff"/><stop offset="0.60" stop-color="#fefefe"/><stop offset="0.70" stop-color="#fdfdfd"/><stop offset="0.80" stop-color="#f9f9f9"/><stop offset="0.90" stop-color="#d9d9d9"/><stop offset="1.00" stop-color="#aaaaaa"/></linearGradient><linearGradient id="bm33" gradientUnits="userSpaceOnUse" x1="2852.7" y1="667.8" x2="2166.9" y2="1120.2"><stop offset="0.00" stop-color="#ffffff"/><stop offset="0.10" stop-color="#ffffff"/><stop offset="0.20" stop-color="#ffffff"/><stop offset="0.30" stop-color="#ffffff"/><stop offset="0.40" stop-color="#ffffff"/><stop offset="0.50" stop-color="#ffffff"/><stop offset="0.60" stop-color="#ffffff"/><stop offset="0.70" stop-color="#fefefe"/><stop offset="0.80" stop-color="#fcfcfc"/><stop offset="0.90" stop-color="#e5e5e5"/><stop offset="1.00" stop-color="#a4a4a4"/></linearGradient><linearGradient id="bm34" gradientUnits="userSpaceOnUse" x1="2852.7" y1="667.4" x2="2170.6" y2="1117.4"><stop offset="0.00" stop-color="#ffffff"/><stop offset="0.10" stop-color="#ffffff"/><stop offset="0.20" stop-color="#ffffff"/><stop offset="0.30" stop-color="#ffffff"/><stop offset="0.40" stop-color="#ffffff"/><stop offset="0.50" stop-color="#ffffff"/><stop offset="0.60" stop-color="#ffffff"/><stop offset="0.70" stop-color="#ffffff"/><stop offset="0.80" stop-color="#fdfdfd"/><stop offset="0.90" stop-color="#efefef"/><stop offset="1.00" stop-color="#a4a4a4"/></linearGradient><linearGradient id="bm35" gradientUnits="userSpaceOnUse" x1="2852.7" y1="666.8" x2="2174.2" y2="1114.4"><stop offset="0.00" stop-color="#ffffff"/><stop offset="0.10" stop-color="#ffffff"/><stop offset="0.20" stop-color="#ffffff"/><stop offset="0.30" stop-color="#ffffff"/><stop offset="0.40" stop-color="#ffffff"/><stop offset="0.50" stop-color="#ffffff"/><stop offset="0.60" stop-color="#ffffff"/><stop offset="0.70" stop-color="#ffffff"/><stop offset="0.80" stop-color="#fefefe"/><stop offset="0.90" stop-color="#f5f5f5"/><stop offset="1.00" stop-color="#aaaaaa"/></linearGradient><linearGradient id="bm36" gradientUnits="userSpaceOnUse" x1="2852.7" y1="666.1" x2="2177.9" y2="1111.3"><stop offset="0.00" stop-color="#ffffff"/><stop offset="0.10" stop-color="#ffffff"/><stop offset="0.20" stop-color="#ffffff"/><stop offset="0.30" stop-color="#ffffff"/><stop offset="0.40" stop-color="#ffffff"/><stop offset="0.50" stop-color="#ffffff"/><stop offset="0.60" stop-color="#ffffff"/><stop offset="0.70" stop-color="#ffffff"/><stop offset="0.80" stop-color="#ffffff"/><stop offset="0.90" stop-color="#fafafa"/><stop offset="1.00" stop-color="#b4b4b4"/></linearGradient><linearGradient id="bm37" gradientUnits="userSpaceOnUse" x1="2852.8" y1="665.2" x2="2181.5" y2="1108.0"><stop offset="0.00" stop-color="#fefefe"/><stop offset="0.10" stop-color="#fefefe"/><stop offset="0.20" stop-color="#fefefe"/><stop offset="0.30" stop-color="#fefefe"/><stop offset="0.40" stop-color="#fefefe"/><stop offset="0.50" stop-color="#fefefe"/><stop offset="0.60" stop-color="#ffffff"/><stop offset="0.70" stop-color="#ffffff"/><stop offset="0.80" stop-color="#ffffff"/><stop offset="0.90" stop-color="#fcfcfc"/><stop offset="1.00" stop-color="#c2c2c2"/></linearGradient><linearGradient id="bm38" gradientUnits="userSpaceOnUse" x1="2852.8" y1="664.2" x2="2185.2" y2="1104.6"><stop offset="0.00" stop-color="#fcfcfc"/><stop offset="0.10" stop-color="#fcfcfc"/><stop offset="0.20" stop-color="#fcfcfc"/><stop offset="0.30" stop-color="#fcfcfc"/><stop offset="0.40" stop-color="#fdfdfd"/><stop offset="0.50" stop-color="#fdfdfd"/><stop offset="0.60" stop-color="#fefefe"/><stop offset="0.70" stop-color="#fefefe"/><stop offset="0.80" stop-color="#ffffff"/><stop offset="0.90" stop-color="#fefefe"/><stop offset="1.00" stop-color="#d1d1d1"/></linearGradient><linearGradient id="bm39" gradientUnits="userSpaceOnUse" x1="2852.8" y1="663.0" x2="2188.8" y2="1101.1"><stop offset="0.00" stop-color="#f7f7f7"/><stop offset="0.10" stop-color="#f7f7f7"/><stop offset="0.20" stop-color="#f7f7f7"/><stop offset="0.30" stop-color="#f8f8f8"/><stop offset="0.40" stop-color="#f9f9f9"/><stop offset="0.50" stop-color="#fafafa"/><stop offset="0.60" stop-color="#fcfcfc"/><stop offset="0.70" stop-color="#fdfdfd"/><stop offset="0.80" stop-color="#fefefe"/><stop offset="0.90" stop-color="#fefefe"/><stop offset="1.00" stop-color="#dedede"/></linearGradient><linearGradient id="bm40" gradientUnits="userSpaceOnUse" x1="2852.8" y1="661.8" x2="2192.5" y2="1097.5"><stop offset="0.00" stop-color="#eeeeee"/><stop offset="0.10" stop-color="#eeeeee"/><stop offset="0.20" stop-color="#efefef"/><stop offset="0.30" stop-color="#f1f1f1"/><stop offset="0.40" stop-color="#f3f3f3"/><stop offset="0.50" stop-color="#f5f5f5"/><stop offset="0.60" stop-color="#f8f8f8"/><stop offset="0.70" stop-color="#fafafa"/><stop offset="0.80" stop-color="#fdfdfd"/><stop offset="0.90" stop-color="#fefefe"/><stop offset="1.00" stop-color="#e9e9e9"/></linearGradient><linearGradient id="bm41" gradientUnits="userSpaceOnUse" x1="2852.9" y1="660.5" x2="2196.2" y2="1093.8"><stop offset="0.00" stop-color="#e1e1e1"/><stop offset="0.10" stop-color="#e2e2e2"/><stop offset="0.20" stop-color="#e4e4e4"/><stop offset="0.30" stop-color="#e7e7e7"/><stop offset="0.40" stop-color="#eaeaea"/><stop offset="0.50" stop-color="#eeeeee"/><stop offset="0.60" stop-color="#f3f3f3"/><stop offset="0.70" stop-color="#f7f7f7"/><stop offset="0.80" stop-color="#fbfbfb"/><stop offset="0.90" stop-color="#fefefe"/><stop offset="1.00" stop-color="#f2f2f2"/></linearGradient><linearGradient id="bm42" gradientUnits="userSpaceOnUse" x1="2852.9" y1="659.1" x2="2199.8" y2="1090.0"><stop offset="0.00" stop-color="#d6d6d6"/><stop offset="0.10" stop-color="#d7d7d7"/><stop offset="0.20" stop-color="#dadada"/><stop offset="0.30" stop-color="#dddddd"/><stop offset="0.40" stop-color="#e2e2e2"/><stop offset="0.50" stop-color="#e8e8e8"/><stop offset="0.60" stop-color="#eeeeee"/><stop offset="0.70" stop-color="#f4f4f4"/><stop offset="0.80" stop-color="#fafafa"/><stop offset="0.90" stop-color="#fefefe"/><stop offset="1.00" stop-color="#f7f7f7"/></linearGradient><linearGradient id="bm43" gradientUnits="userSpaceOnUse" x1="2853.0" y1="657.7" x2="2203.5" y2="1086.2"><stop offset="0.00" stop-color="#d2d2d2"/><stop offset="0.10" stop-color="#d3d3d3"/><stop offset="0.20" stop-color="#d6d6d6"/><stop offset="0.30" stop-color="#dadada"/><stop offset="0.40" stop-color="#dfdfdf"/><stop offset="0.50" stop-color="#e6e6e6"/><stop offset="0.60" stop-color="#ededed"/><stop offset="0.70" stop-color="#f3f3f3"/><stop offset="0.80" stop-color="#f9f9f9"/><stop offset="0.90" stop-color="#fdfdfd"/><stop offset="1.00" stop-color="#fbfbfb"/></linearGradient><linearGradient id="bm44" gradientUnits="userSpaceOnUse" x1="2853.0" y1="656.3" x2="2207.2" y2="1082.4"><stop offset="0.00" stop-color="#a6a6a6"/><stop offset="0.10" stop-color="#a6a6a6"/><stop offset="0.20" stop-color="#a6a6a6"/><stop offset="0.30" stop-color="#a6a6a6"/><stop offset="0.40" stop-color="#a7a7a7"/><stop offset="0.50" stop-color="#a8a8a8"/><stop offset="0.60" stop-color="#acacac"/><stop offset="0.70" stop-color="#b7b7b7"/><stop offset="0.80" stop-color="#d4d4d4"/><stop offset="0.90" stop-color="#f7f7f7"/><stop offset="1.00" stop-color="#ffffff"/></linearGradient><linearGradient id="bm45" gradientUnits="userSpaceOnUse" x1="2853.0" y1="654.9" x2="2210.8" y2="1078.6"><stop offset="0.00" stop-color="#a3a3a3"/><stop offset="0.10" stop-color="#a3a3a3"/><stop offset="0.20" stop-color="#a3a3a3"/><stop offset="0.30" stop-color="#a3a3a3"/><stop offset="0.40" stop-color="#a3a3a3"/><stop offset="0.50" stop-color="#a3a3a3"/><stop offset="0.60" stop-color="#a4a4a4"/><stop offset="0.70" stop-color="#acacac"/><stop offset="0.80" stop-color="#c6c6c6"/><stop offset="0.90" stop-color="#f2f2f2"/><stop offset="1.00" stop-color="#ffffff"/></linearGradient><linearGradient id="bm46" gradientUnits="userSpaceOnUse" x1="2853.1" y1="653.5" x2="2214.5" y2="1074.8"><stop offset="0.00" stop-color="#a6a6a6"/><stop offset="0.10" stop-color="#a6a6a6"/><stop offset="0.20" stop-color="#a6a6a6"/><stop offset="0.30" stop-color="#a6a6a6"/><stop offset="0.40" stop-color="#a6a6a6"/><stop offset="0.50" stop-color="#a5a5a5"/><stop offset="0.60" stop-color="#a3a3a3"/><stop offset="0.70" stop-color="#a4a4a4"/><stop offset="0.80" stop-color="#b8b8b8"/><stop offset="0.90" stop-color="#eaeaea"/><stop offset="1.00" stop-color="#ffffff"/></linearGradient><linearGradient id="bm47" gradientUnits="userSpaceOnUse" x1="2853.1" y1="652.2" x2="2218.2" y2="1071.1"><stop offset="0.00" stop-color="#afafaf"/><stop offset="0.10" stop-color="#afafaf"/><stop offset="0.20" stop-color="#afafaf"/><stop offset="0.30" stop-color="#afafaf"/><stop offset="0.40" stop-color="#aeaeae"/><stop offset="0.50" stop-color="#acacac"/><stop offset="0.60" stop-color="#a8a8a8"/><stop offset="0.70" stop-color="#a3a3a3"/><stop offset="0.80" stop-color="#acacac"/><stop offset="0.90" stop-color="#dfdfdf"/><stop offset="1.00" stop-color="#fefefe"/></linearGradient><linearGradient id="bm48" gradientUnits="userSpaceOnUse" x1="2853.1" y1="650.9" x2="2221.8" y2="1067.4"><stop offset="0.00" stop-color="#bbbbbb"/><stop offset="0.10" stop-color="#bbbbbb"/><stop offset="0.20" stop-color="#bbbbbb"/><stop offset="0.30" stop-color="#bbbbbb"/><stop offset="0.40" stop-color="#bbbbbb"/><stop offset="0.50" stop-color="#b8b8b8"/><stop offset="0.60" stop-color="#b3b3b3"/><stop offset="0.70" stop-color="#a8a8a8"/><stop offset="0.80" stop-color="#a5a5a5"/><stop offset="0.90" stop-color="#d1d1d1"/><stop offset="1.00" stop-color="#fefefe"/></linearGradient><linearGradient id="bm49" gradientUnits="userSpaceOnUse" x1="2853.2" y1="649.8" x2="2225.5" y2="1063.9"><stop offset="0.00" stop-color="#cacaca"/><stop offset="0.10" stop-color="#cacaca"/><stop offset="0.20" stop-color="#cacaca"/><stop offset="0.30" stop-color="#cacaca"/><stop offset="0.40" stop-color="#c9c9c9"/><stop offset="0.50" stop-color="#c7c7c7"/><stop offset="0.60" stop-color="#c0c0c0"/><stop offset="0.70" stop-color="#b3b3b3"/><stop offset="0.80" stop-color="#a3a3a3"/><stop offset="0.90" stop-color="#c3c3c3"/><stop offset="1.00" stop-color="#fcfcfc"/></linearGradient><linearGradient id="bm50" gradientUnits="userSpaceOnUse" x1="2853.2" y1="648.7" x2="2229.1" y2="1060.4"><stop offset="0.00" stop-color="#d8d8d8"/><stop offset="0.10" stop-color="#d8d8d8"/><stop offset="0.20" stop-color="#d8d8d8"/><stop offset="0.30" stop-color="#d8d8d8"/><stop offset="0.40" stop-color="#d7d7d7"/><stop offset="0.50" stop-color="#d5d5d5"/><stop offset="0.60" stop-color="#cfcfcf"/><stop offset="0.70" stop-color="#c0c0c0"/><stop offset="0.80" stop-color="#a8a8a8"/><stop offset="0.90" stop-color="#b5b5b5"/><stop offset="1.00" stop-color="#fafafa"/></linearGradient><linearGradient id="bm51" gradientUnits="userSpaceOnUse" x1="2853.2" y1="647.7" x2="2232.8" y2="1057.1"><stop offset="0.00" stop-color="#e5e5e5"/><stop offset="0.10" stop-color="#e5e5e5"/><stop offset="0.20" stop-color="#e4e4e4"/><stop offset="0.30" stop-color="#e4e4e4"/><stop offset="0.40" stop-color="#e4e4e4"/><stop offset="0.50" stop-color="#e2e2e2"/><stop offset="0.60" stop-color="#dddddd"/><stop offset="0.70" stop-color="#cfcfcf"/><stop offset="0.80" stop-color="#b2b2b2"/><stop offset="0.90" stop-color="#aaaaaa"/><stop offset="1.00" stop-color="#f5f5f5"/></linearGradient><linearGradient id="bm52" gradientUnits="userSpaceOnUse" x1="2853.3" y1="646.9" x2="2236.4" y2="1053.8"><stop offset="0.00" stop-color="#eeeeee"/><stop offset="0.10" stop-color="#eeeeee"/><stop offset="0.20" stop-color="#eeeeee"/><stop offset="0.30" stop-color="#eeeeee"/><stop offset="0.40" stop-color="#eeeeee"/><stop offset="0.50" stop-color="#ececec"/><stop offset="0.60" stop-color="#e8e8e8"/><stop offset="0.70" stop-color="#dddddd"/><stop offset="0.80" stop-color="#c0c0c0"/><stop offset="0.90" stop-color="#a4a4a4"/><stop offset="1.00" stop-color="#efefef"/></linearGradient><linearGradient id="bm53" gradientUnits="userSpaceOnUse" x1="2853.3" y1="646.3" x2="2240.1" y2="1050.8"><stop offset="0.00" stop-color="#f5f5f5"/><stop offset="0.10" stop-color="#f5f5f5"/><stop offset="0.20" stop-color="#f5f5f5"/><stop offset="0.30" stop-color="#f5f5f5"/><stop offset="0.40" stop-color="#f5f5f5"/><stop offset="0.50" stop-color="#f4f4f4"/><stop offset="0.60" stop-color="#f1f1f1"/><stop offset="0.70" stop-color="#e8e8e8"/><stop offset="0.80" stop-color="#cfcfcf"/><stop offset="0.90" stop-color="#a4a4a4"/><stop offset="1.00" stop-color="#e5e5e5"/></linearGradient><linearGradient id="bm54" gradientUnits="userSpaceOnUse" x1="2853.3" y1="645.7" x2="2243.7" y2="1047.9"><stop offset="0.00" stop-color="#f9f9f9"/><stop offset="0.10" stop-color="#f9f9f9"/><stop offset="0.20" stop-color="#f9f9f9"/><stop offset="0.30" stop-color="#f9f9f9"/><stop offset="0.40" stop-color="#f9f9f9"/><stop offset="0.50" stop-color="#f9f9f9"/><stop offset="0.60" stop-color="#f7f7f7"/><stop offset="0.70" stop-color="#f1f1f1"/><stop offset="0.80" stop-color="#dcdcdc"/><stop offset="0.90" stop-color="#aaaaaa"/><stop offset="1.00" stop-color="#d9d9d9"/></linearGradient><linearGradient id="bm55" gradientUnits="userSpaceOnUse" x1="2853.3" y1="645.4" x2="2247.4" y2="1045.1"><stop offset="0.00" stop-color="#fcfcfc"/><stop offset="0.10" stop-color="#fcfcfc"/><stop offset="0.20" stop-color="#fcfcfc"/><stop offset="0.30" stop-color="#fcfcfc"/><stop offset="0.40" stop-color="#fcfcfc"/><stop offset="0.50" stop-color="#fcfcfc"/><stop offset="0.60" stop-color="#fbfbfb"/><stop offset="0.70" stop-color="#f7f7f7"/><stop offset="0.80" stop-color="#e8e8e8"/><stop offset="0.90" stop-color="#b5b5b5"/><stop offset="1.00" stop-color="#cbcbcb"/></linearGradient><linearGradient id="bm56" gradientUnits="userSpaceOnUse" x1="2853.3" y1="645.2" x2="2251.0" y2="1042.6"><stop offset="0.00" stop-color="#fefefe"/><stop offset="0.10" stop-color="#fefefe"/><stop offset="0.20" stop-color="#fefefe"/><stop offset="0.30" stop-color="#fefefe"/><stop offset="0.40" stop-color="#fefefe"/><stop offset="0.50" stop-color="#fdfdfd"/><stop offset="0.60" stop-color="#fdfdfd"/><stop offset="0.70" stop-color="#fbfbfb"/><stop offset="0.80" stop-color="#f1f1f1"/><stop offset="0.90" stop-color="#c3c3c3"/><stop offset="1.00" stop-color="#bcbcbc"/></linearGradient><linearGradient id="bm57" gradientUnits="userSpaceOnUse" x1="2853.3" y1="645.2" x2="2254.6" y2="1040.2"><stop offset="0.00" stop-color="#fefefe"/><stop offset="0.10" stop-color="#fefefe"/><stop offset="0.20" stop-color="#fefefe"/><stop offset="0.30" stop-color="#fefefe"/><stop offset="0.40" stop-color="#fefefe"/><stop offset="0.50" stop-color="#fefefe"/><stop offset="0.60" stop-color="#fefefe"/><stop offset="0.70" stop-color="#fdfdfd"/><stop offset="0.80" stop-color="#f7f7f7"/><stop offset="0.90" stop-color="#d2d2d2"/><stop offset="1.00" stop-color="#b0b0b0"/></linearGradient><linearGradient id="bm58" gradientUnits="userSpaceOnUse" x1="2853.3" y1="645.4" x2="2258.3" y2="1038.0"><stop offset="0.00" stop-color="#ffffff"/><stop offset="0.10" stop-color="#ffffff"/><stop offset="0.20" stop-color="#ffffff"/><stop offset="0.30" stop-color="#ffffff"/><stop offset="0.40" stop-color="#ffffff"/><stop offset="0.50" stop-color="#ffffff"/><stop offset="0.60" stop-color="#ffffff"/><stop offset="0.70" stop-color="#fefefe"/><stop offset="0.80" stop-color="#fafafa"/><stop offset="0.90" stop-color="#dfdfdf"/><stop offset="1.00" stop-color="#a6a6a6"/></linearGradient><linearGradient id="bm59" gradientUnits="userSpaceOnUse" x1="2853.3" y1="645.7" x2="2261.9" y2="1035.9"><stop offset="0.00" stop-color="#ffffff"/><stop offset="0.10" stop-color="#ffffff"/><stop offset="0.20" stop-color="#ffffff"/><stop offset="0.30" stop-color="#ffffff"/><stop offset="0.40" stop-color="#ffffff"/><stop offset="0.50" stop-color="#ffffff"/><stop offset="0.60" stop-color="#ffffff"/><stop offset="0.70" stop-color="#ffffff"/><stop offset="0.80" stop-color="#fdfdfd"/><stop offset="0.90" stop-color="#eaeaea"/><stop offset="1.00" stop-color="#a3a3a3"/></linearGradient><linearGradient id="bm60" gradientUnits="userSpaceOnUse" x1="2853.3" y1="646.3" x2="2265.5" y2="1034.0"><stop offset="0.00" stop-color="#ffffff"/><stop offset="0.10" stop-color="#ffffff"/><stop offset="0.20" stop-color="#ffffff"/><stop offset="0.30" stop-color="#ffffff"/><stop offset="0.40" stop-color="#ffffff"/><stop offset="0.50" stop-color="#ffffff"/><stop offset="0.60" stop-color="#ffffff"/><stop offset="0.70" stop-color="#ffffff"/><stop offset="0.80" stop-color="#fefefe"/><stop offset="0.90" stop-color="#f2f2f2"/><stop offset="1.00" stop-color="#a6a6a6"/></linearGradient><linearGradient id="bm61" gradientUnits="userSpaceOnUse" x1="2853.3" y1="646.9" x2="2269.1" y2="1032.3"><stop offset="0.00" stop-color="#ffffff"/><stop offset="0.10" stop-color="#ffffff"/><stop offset="0.20" stop-color="#ffffff"/><stop offset="0.30" stop-color="#ffffff"/><stop offset="0.40" stop-color="#ffffff"/><stop offset="0.50" stop-color="#ffffff"/><stop offset="0.60" stop-color="#ffffff"/><stop offset="0.70" stop-color="#ffffff"/><stop offset="0.80" stop-color="#ffffff"/><stop offset="0.90" stop-color="#f8f8f8"/><stop offset="1.00" stop-color="#aeaeae"/></linearGradient><linearGradient id="bm62" gradientUnits="userSpaceOnUse" x1="2853.2" y1="647.7" x2="2272.7" y2="1030.7"><stop offset="0.00" stop-color="#fefefe"/><stop offset="0.10" stop-color="#ffffff"/><stop offset="0.20" stop-color="#ffffff"/><stop offset="0.30" stop-color="#ffffff"/><stop offset="0.40" stop-color="#ffffff"/><stop offset="0.50" stop-color="#ffffff"/><stop offset="0.60" stop-color="#ffffff"/><stop offset="0.70" stop-color="#ffffff"/><stop offset="0.80" stop-color="#ffffff"/><stop offset="0.90" stop-color="#fbfbfb"/><stop offset="1.00" stop-color="#bbbbbb"/></linearGradient><linearGradient id="bm63" gradientUnits="userSpaceOnUse" x1="2853.2" y1="648.7" x2="2276.3" y2="1029.3"><stop offset="0.00" stop-color="#fdfdfd"/><stop offset="0.10" stop-color="#fdfdfd"/><stop offset="0.20" stop-color="#fdfdfd"/><stop offset="0.30" stop-color="#fdfdfd"/><stop offset="0.40" stop-color="#fefefe"/><stop offset="0.50" stop-color="#fefefe"/><stop offset="0.60" stop-color="#fefefe"/><stop offset="0.70" stop-color="#ffffff"/><stop offset="0.80" stop-color="#ffffff"/><stop offset="0.90" stop-color="#fdfdfd"/><stop offset="1.00" stop-color="#cacaca"/></linearGradient><linearGradient id="bm64" gradientUnits="userSpaceOnUse" x1="2853.2" y1="649.8" x2="2279.9" y2="1028.0"><stop offset="0.00" stop-color="#fafafa"/><stop offset="0.10" stop-color="#fafafa"/><stop offset="0.20" stop-color="#fafafa"/><stop offset="0.30" stop-color="#fbfbfb"/><stop offset="0.40" stop-color="#fbfbfb"/><stop offset="0.50" stop-color="#fcfcfc"/><stop offset="0.60" stop-color="#fdfdfd"/><stop offset="0.70" stop-color="#fefefe"/><stop offset="0.80" stop-color="#fefefe"/><stop offset="0.90" stop-color="#fefefe"/><stop offset="1.00" stop-color="#d8d8d8"/></linearGradient><linearGradient id="bm65" gradientUnits="userSpaceOnUse" x1="2853.1" y1="650.9" x2="2283.5" y2="1026.8"><stop offset="0.00" stop-color="#f3f3f3"/><stop offset="0.10" stop-color="#f3f3f3"/><stop offset="0.20" stop-color="#f4f4f4"/><stop offset="0.30" stop-color="#f5f5f5"/><stop offset="0.40" stop-color="#f6f6f6"/><stop offset="0.50" stop-color="#f8f8f8"/><stop offset="0.60" stop-color="#fafafa"/><stop offset="0.70" stop-color="#fcfcfc"/><stop offset="0.80" stop-color="#fdfdfd"/><stop offset="0.90" stop-color="#fefefe"/><stop offset="1.00" stop-color="#e4e4e4"/></linearGradient><linearGradient id="bm66" gradientUnits="userSpaceOnUse" x1="2853.1" y1="652.2" x2="2287.1" y2="1025.6"><stop offset="0.00" stop-color="#e8e8e8"/><stop offset="0.10" stop-color="#e8e8e8"/><stop offset="0.20" stop-color="#eaeaea"/><stop offset="0.30" stop-color="#ececec"/><stop offset="0.40" stop-color="#efefef"/><stop offset="0.50" stop-color="#f2f2f2"/><stop offset="0.60" stop-color="#f5f5f5"/><stop offset="0.70" stop-color="#f9f9f9"/><stop offset="0.80" stop-color="#fcfcfc"/><stop offset="0.90" stop-color="#fefefe"/><stop offset="1.00" stop-color="#eeeeee"/></linearGradient><linearGradient id="bm67" gradientUnits="userSpaceOnUse" x1="2853.1" y1="653.5" x2="2290.7" y2="1024.6"><stop offset="0.00" stop-color="#dbdbdb"/><stop offset="0.10" stop-color="#dcdcdc"/><stop offset="0.20" stop-color="#dedede"/><stop offset="0.30" stop-color="#e2e2e2"/><stop offset="0.40" stop-color="#e6e6e6"/><stop offset="0.50" stop-color="#ebebeb"/><stop offset="0.60" stop-color="#f0f0f0"/><stop offset="0.70" stop-color="#f6f6f6"/><stop offset="0.80" stop-color="#fafafa"/><stop offset="0.90" stop-color="#fefefe"/><stop offset="1.00" stop-color="#f5f5f5"/></linearGradient><linearGradient id="bm68" gradientUnits="userSpaceOnUse" x1="2853.0" y1="654.9" x2="2294.3" y2="1023.6"><stop offset="0.00" stop-color="#d3d3d3"/><stop offset="0.10" stop-color="#d4d4d4"/><stop offset="0.20" stop-color="#d7d7d7"/><stop offset="0.30" stop-color="#dbdbdb"/><stop offset="0.40" stop-color="#e0e0e0"/><stop offset="0.50" stop-color="#e6e6e6"/><stop offset="0.60" stop-color="#ededed"/><stop offset="0.70" stop-color="#f4f4f4"/><stop offset="0.80" stop-color="#f9f9f9"/><stop offset="0.90" stop-color="#fdfdfd"/><stop offset="1.00" stop-color="#f9f9f9"/></linearGradient><linearGradient id="bm69" gradientUnits="userSpaceOnUse" x1="2853.0" y1="656.3" x2="2297.9" y2="1022.6"><stop offset="0.00" stop-color="#d3d3d3"/><stop offset="0.10" stop-color="#d4d4d4"/><stop offset="0.20" stop-color="#d7d7d7"/><stop offset="0.30" stop-color="#dbdbdb"/><stop offset="0.40" stop-color="#e0e0e0"/><stop offset="0.50" stop-color="#e6e6e6"/><stop offset="0.60" stop-color="#ededed"/><stop offset="0.70" stop-color="#f4f4f4"/><stop offset="0.80" stop-color="#f9f9f9"/><stop offset="0.90" stop-color="#fdfdfd"/><stop offset="1.00" stop-color="#fcfcfc"/></linearGradient><linearGradient id="bm70" gradientUnits="userSpaceOnUse" x1="2853.0" y1="657.7" x2="2301.5" y2="1021.6"><stop offset="0.00" stop-color="#a4a4a4"/><stop offset="0.10" stop-color="#a4a4a4"/><stop offset="0.20" stop-color="#a4a4a4"/><stop offset="0.30" stop-color="#a4a4a4"/><stop offset="0.40" stop-color="#a4a4a4"/><stop offset="0.50" stop-color="#a5a5a5"/><stop offset="0.60" stop-color="#a7a7a7"/><stop offset="0.70" stop-color="#b1b1b1"/><stop offset="0.80" stop-color="#cdcdcd"/><stop offset="0.90" stop-color="#f5f5f5"/><stop offset="1.00" stop-color="#ffffff"/></linearGradient><linearGradient id="bm71" gradientUnits="userSpaceOnUse" x1="2852.9" y1="659.1" x2="2305.0" y2="1020.6"><stop offset="0.00" stop-color="#a4a4a4"/><stop offset="0.10" stop-color="#a4a4a4"/><stop offset="0.20" stop-color="#a4a4a4"/><stop offset="0.30" stop-color="#a4a4a4"/><stop offset="0.40" stop-color="#a4a4a4"/><stop offset="0.50" stop-color="#a3a3a3"/><stop offset="0.60" stop-color="#a3a3a3"/><stop offset="0.70" stop-color="#a7a7a7"/><stop offset="0.80" stop-color="#bfbfbf"/><stop offset="0.90" stop-color="#eeeeee"/><stop offset="1.00" stop-color="#ffffff"/></linearGradient><linearGradient id="bm72" gradientUnits="userSpaceOnUse" x1="2852.9" y1="660.5" x2="2308.6" y2="1019.6"><stop offset="0.00" stop-color="#aaaaaa"/><stop offset="0.10" stop-color="#aaaaaa"/><stop offset="0.20" stop-color="#aaaaaa"/><stop offset="0.30" stop-color="#aaaaaa"/><stop offset="0.40" stop-color="#a9a9a9"/><stop offset="0.50" stop-color="#a8a8a8"/><stop offset="0.60" stop-color="#a5a5a5"/><stop offset="0.70" stop-color="#a3a3a3"/><stop offset="0.80" stop-color="#b1b1b1"/><stop offset="0.90" stop-color="#e5e5e5"/><stop offset="1.00" stop-color="#ffffff"/></linearGradient><linearGradient id="bm73" gradientUnits="userSpaceOnUse" x1="2852.8" y1="661.8" x2="2312.2" y2="1018.5"><stop offset="0.00" stop-color="#b5b5b5"/><stop offset="0.10" stop-color="#b5b5b5"/><stop offset="0.20" stop-color="#b5b5b5"/><stop offset="0.30" stop-color="#b5b5b5"/><stop offset="0.40" stop-color="#b4b4b4"/><stop offset="0.50" stop-color="#b2b2b2"/><stop offset="0.60" stop-color="#adadad"/><stop offset="0.70" stop-color="#a5a5a5"/><stop offset="0.80" stop-color="#a8a8a8"/><stop offset="0.90" stop-color="#d8d8d8"/><stop offset="1.00" stop-color="#fefefe"/></linearGradient><linearGradient id="bm74" gradientUnits="userSpaceOnUse" x1="2852.8" y1="663.0" x2="2315.8" y2="1017.3"><stop offset="0.00" stop-color="#c3c3c3"/><stop offset="0.10" stop-color="#c3c3c3"/><stop offset="0.20" stop-color="#c3c3c3"/><stop offset="0.30" stop-color="#c2c2c2"/><stop offset="0.40" stop-color="#c2c2c2"/><stop offset="0.50" stop-color="#bfbfbf"/><stop offset="0.60" stop-color="#b9b9b9"/><stop offset="0.70" stop-color="#adadad"/><stop offset="0.80" stop-color="#a3a3a3"/><stop offset="0.90" stop-color="#cacaca"/><stop offset="1.00" stop-color="#fdfdfd"/></linearGradient><linearGradient id="bm75" gradientUnits="userSpaceOnUse" x1="2852.8" y1="664.2" x2="2319.4" y2="1016.0"><stop offset="0.00" stop-color="#d1d1d1"/><stop offset="0.10" stop-color="#d1d1d1"/><stop offset="0.20" stop-color="#d1d1d1"/><stop offset="0.30" stop-color="#d1d1d1"/><stop offset="0.40" stop-color="#d0d0d0"/><stop offset="0.50" stop-color="#cecece"/><stop offset="0.60" stop-color="#c8c8c8"/><stop offset="0.70" stop-color="#b9b9b9"/><stop offset="0.80" stop-color="#a5a5a5"/><stop offset="0.90" stop-color="#bbbbbb"/><stop offset="1.00" stop-color="#fbfbfb"/></linearGradient><linearGradient id="bm76" gradientUnits="userSpaceOnUse" x1="2852.8" y1="665.2" x2="2323.0" y2="1014.6"><stop offset="0.00" stop-color="#dfdfdf"/><stop offset="0.10" stop-color="#dfdfdf"/><stop offset="0.20" stop-color="#dfdfdf"/><stop offset="0.30" stop-color="#dfdfdf"/><stop offset="0.40" stop-color="#dedede"/><stop offset="0.50" stop-color="#dcdcdc"/><stop offset="0.60" stop-color="#d6d6d6"/><stop offset="0.70" stop-color="#c8c8c8"/><stop offset="0.80" stop-color="#adadad"/><stop offset="0.90" stop-color="#afafaf"/><stop offset="1.00" stop-color="#f8f8f8"/></linearGradient><linearGradient id="bm77" gradientUnits="userSpaceOnUse" x1="2852.7" y1="666.1" x2="2326.6" y2="1013.1"><stop offset="0.00" stop-color="#eaeaea"/><stop offset="0.10" stop-color="#eaeaea"/><stop offset="0.20" stop-color="#eaeaea"/><stop offset="0.30" stop-color="#eaeaea"/><stop offset="0.40" stop-color="#e9e9e9"/><stop offset="0.50" stop-color="#e7e7e7"/><stop offset="0.60" stop-color="#e3e3e3"/><stop offset="0.70" stop-color="#d6d6d6"/><stop offset="0.80" stop-color="#b9b9b9"/><stop offset="0.90" stop-color="#a6a6a6"/><stop offset="1.00" stop-color="#f2f2f2"/></linearGradient><linearGradient id="bm78" gradientUnits="userSpaceOnUse" x1="2852.7" y1="666.8" x2="2330.2" y2="1011.5"><stop offset="0.00" stop-color="#f2f2f2"/><stop offset="0.10" stop-color="#f2f2f2"/><stop offset="0.20" stop-color="#f2f2f2"/><stop offset="0.30" stop-color="#f2f2f2"/><stop offset="0.40" stop-color="#f1f1f1"/><stop offset="0.50" stop-color="#f0f0f0"/><stop offset="0.60" stop-color="#ededed"/><stop offset="0.70" stop-color="#e3e3e3"/><stop offset="0.80" stop-color="#c7c7c7"/><stop offset="0.90" stop-color="#a3a3a3"/><stop offset="1.00" stop-color="#eaeaea"/></linearGradient><linearGradient id="bm79" gradientUnits="userSpaceOnUse" x1="2852.7" y1="667.4" x2="2333.9" y2="1009.7"><stop offset="0.00" stop-color="#f7f7f7"/><stop offset="0.10" stop-color="#f7f7f7"/><stop offset="0.20" stop-color="#f7f7f7"/><stop offset="0.30" stop-color="#f7f7f7"/><stop offset="0.40" stop-color="#f7f7f7"/><stop offset="0.50" stop-color="#f6f6f6"/><stop offset="0.60" stop-color="#f4f4f4"/><stop offset="0.70" stop-color="#ededed"/><stop offset="0.80" stop-color="#d6d6d6"/><stop offset="0.90" stop-color="#a6a6a6"/><stop offset="1.00" stop-color="#e0e0e0"/></linearGradient><linearGradient id="bm80" gradientUnits="userSpaceOnUse" x1="2852.7" y1="667.8" x2="2337.5" y2="1007.7"><stop offset="0.00" stop-color="#fbfbfb"/><stop offset="0.10" stop-color="#fbfbfb"/><stop offset="0.20" stop-color="#fbfbfb"/><stop offset="0.30" stop-color="#fbfbfb"/><stop offset="0.40" stop-color="#fbfbfb"/><stop offset="0.50" stop-color="#fafafa"/><stop offset="0.60" stop-color="#f9f9f9"/><stop offset="0.70" stop-color="#f4f4f4"/><stop offset="0.80" stop-color="#e3e3e3"/><stop offset="0.90" stop-color="#afafaf"/><stop offset="1.00" stop-color="#d2d2d2"/></linearGradient><linearGradient id="bm81" gradientUnits="userSpaceOnUse" x1="2852.7" y1="668.1" x2="2341.1" y2="1005.6"><stop offset="0.00" stop-color="#fdfdfd"/><stop offset="0.10" stop-color="#fdfdfd"/><stop offset="0.20" stop-color="#fdfdfd"/><stop offset="0.30" stop-color="#fdfdfd"/><stop offset="0.40" stop-color="#fdfdfd"/><stop offset="0.50" stop-color="#fdfdfd"/><stop offset="0.60" stop-color="#fcfcfc"/><stop offset="0.70" stop-color="#f9f9f9"/><stop offset="0.80" stop-color="#ededed"/><stop offset="0.90" stop-color="#bcbcbc"/><stop offset="1.00" stop-color="#c4c4c4"/></linearGradient><linearGradient id="bm82" gradientUnits="userSpaceOnUse" x1="2852.7" y1="668.2" x2="2344.7" y2="1003.3"><stop offset="0.00" stop-color="#fefefe"/><stop offset="0.10" stop-color="#fefefe"/><stop offset="0.20" stop-color="#fefefe"/><stop offset="0.30" stop-color="#fefefe"/><stop offset="0.40" stop-color="#fefefe"/><stop offset="0.50" stop-color="#fefefe"/><stop offset="0.60" stop-color="#fdfdfd"/><stop offset="0.70" stop-color="#fcfcfc"/><stop offset="0.80" stop-color="#f4f4f4"/><stop offset="0.90" stop-color="#cbcbcb"/><stop offset="1.00" stop-color="#b6b6b6"/></linearGradient><linearGradient id="bm83" gradientUnits="userSpaceOnUse" x1="2852.7" y1="668.1" x2="2348.3" y2="1000.8"><stop offset="0.00" stop-color="#ffffff"/><stop offset="0.10" stop-color="#ffffff"/><stop offset="0.20" stop-color="#ffffff"/><stop offset="0.30" stop-color="#ffffff"/><stop offset="0.40" stop-color="#ffffff"/><stop offset="0.50" stop-color="#ffffff"/><stop offset="0.60" stop-color="#fefefe"/><stop offset="0.70" stop-color="#fdfdfd"/><stop offset="0.80" stop-color="#f9f9f9"/><stop offset="0.90" stop-color="#d9d9d9"/><stop offset="1.00" stop-color="#aaaaaa"/></linearGradient><linearGradient id="bm84" gradientUnits="userSpaceOnUse" x1="2852.7" y1="667.8" x2="2352.0" y2="998.2"><stop offset="0.00" stop-color="#ffffff"/><stop offset="0.10" stop-color="#ffffff"/><stop offset="0.20" stop-color="#ffffff"/><stop offset="0.30" stop-color="#ffffff"/><stop offset="0.40" stop-color="#ffffff"/><stop offset="0.50" stop-color="#ffffff"/><stop offset="0.60" stop-color="#ffffff"/><stop offset="0.70" stop-color="#fefefe"/><stop offset="0.80" stop-color="#fcfcfc"/><stop offset="0.90" stop-color="#e5e5e5"/><stop offset="1.00" stop-color="#a4a4a4"/></linearGradient><linearGradient id="bm85" gradientUnits="userSpaceOnUse" x1="2852.7" y1="667.4" x2="2355.6" y2="995.3"><stop offset="0.00" stop-color="#ffffff"/><stop offset="0.10" stop-color="#ffffff"/><stop offset="0.20" stop-color="#ffffff"/><stop offset="0.30" stop-color="#ffffff"/><stop offset="0.40" stop-color="#ffffff"/><stop offset="0.50" stop-color="#ffffff"/><stop offset="0.60" stop-color="#ffffff"/><stop offset="0.70" stop-color="#ffffff"/><stop offset="0.80" stop-color="#fdfdfd"/><stop offset="0.90" stop-color="#efefef"/><stop offset="1.00" stop-color="#a4a4a4"/></linearGradient><linearGradient id="bm86" gradientUnits="userSpaceOnUse" x1="2852.7" y1="666.8" x2="2359.3" y2="992.3"><stop offset="0.00" stop-color="#ffffff"/><stop offset="0.10" stop-color="#ffffff"/><stop offset="0.20" stop-color="#ffffff"/><stop offset="0.30" stop-color="#ffffff"/><stop offset="0.40" stop-color="#ffffff"/><stop offset="0.50" stop-color="#ffffff"/><stop offset="0.60" stop-color="#ffffff"/><stop offset="0.70" stop-color="#ffffff"/><stop offset="0.80" stop-color="#fefefe"/><stop offset="0.90" stop-color="#f5f5f5"/><stop offset="1.00" stop-color="#aaaaaa"/></linearGradient><linearGradient id="bm87" gradientUnits="userSpaceOnUse" x1="2852.7" y1="666.1" x2="2362.9" y2="989.2"><stop offset="0.00" stop-color="#ffffff"/><stop offset="0.10" stop-color="#ffffff"/><stop offset="0.20" stop-color="#ffffff"/><stop offset="0.30" stop-color="#ffffff"/><stop offset="0.40" stop-color="#ffffff"/><stop offset="0.50" stop-color="#ffffff"/><stop offset="0.60" stop-color="#ffffff"/><stop offset="0.70" stop-color="#ffffff"/><stop offset="0.80" stop-color="#ffffff"/><stop offset="0.90" stop-color="#fafafa"/><stop offset="1.00" stop-color="#b4b4b4"/></linearGradient><linearGradient id="bm88" gradientUnits="userSpaceOnUse" x1="2852.8" y1="665.2" x2="2366.6" y2="985.9"><stop offset="0.00" stop-color="#fefefe"/><stop offset="0.10" stop-color="#fefefe"/><stop offset="0.20" stop-color="#fefefe"/><stop offset="0.30" stop-color="#fefefe"/><stop offset="0.40" stop-color="#fefefe"/><stop offset="0.50" stop-color="#fefefe"/><stop offset="0.60" stop-color="#ffffff"/><stop offset="0.70" stop-color="#ffffff"/><stop offset="0.80" stop-color="#ffffff"/><stop offset="0.90" stop-color="#fcfcfc"/><stop offset="1.00" stop-color="#c2c2c2"/></linearGradient><linearGradient id="bm89" gradientUnits="userSpaceOnUse" x1="2852.8" y1="664.2" x2="2370.2" y2="982.5"><stop offset="0.00" stop-color="#fcfcfc"/><stop offset="0.10" stop-color="#fcfcfc"/><stop offset="0.20" stop-color="#fcfcfc"/><stop offset="0.30" stop-color="#fcfcfc"/><stop offset="0.40" stop-color="#fdfdfd"/><stop offset="0.50" stop-color="#fdfdfd"/><stop offset="0.60" stop-color="#fefefe"/><stop offset="0.70" stop-color="#fefefe"/><stop offset="0.80" stop-color="#ffffff"/><stop offset="0.90" stop-color="#fefefe"/><stop offset="1.00" stop-color="#d1d1d1"/></linearGradient><linearGradient id="bm90" gradientUnits="userSpaceOnUse" x1="2852.8" y1="663.0" x2="2373.9" y2="979.0"><stop offset="0.00" stop-color="#f7f7f7"/><stop offset="0.10" stop-color="#f7f7f7"/><stop offset="0.20" stop-color="#f7f7f7"/><stop offset="0.30" stop-color="#f8f8f8"/><stop offset="0.40" stop-color="#f9f9f9"/><stop offset="0.50" stop-color="#fafafa"/><stop offset="0.60" stop-color="#fcfcfc"/><stop offset="0.70" stop-color="#fdfdfd"/><stop offset="0.80" stop-color="#fefefe"/><stop offset="0.90" stop-color="#fefefe"/><stop offset="1.00" stop-color="#dedede"/></linearGradient><linearGradient id="bm91" gradientUnits="userSpaceOnUse" x1="2852.8" y1="661.8" x2="2377.5" y2="975.4"><stop offset="0.00" stop-color="#eeeeee"/><stop offset="0.10" stop-color="#eeeeee"/><stop offset="0.20" stop-color="#efefef"/><stop offset="0.30" stop-color="#f1f1f1"/><stop offset="0.40" stop-color="#f3f3f3"/><stop offset="0.50" stop-color="#f5f5f5"/><stop offset="0.60" stop-color="#f8f8f8"/><stop offset="0.70" stop-color="#fafafa"/><stop offset="0.80" stop-color="#fdfdfd"/><stop offset="0.90" stop-color="#fefefe"/><stop offset="1.00" stop-color="#e9e9e9"/></linearGradient><linearGradient id="bm92" gradientUnits="userSpaceOnUse" x1="2852.9" y1="660.5" x2="2381.2" y2="971.7"><stop offset="0.00" stop-color="#e1e1e1"/><stop offset="0.10" stop-color="#e2e2e2"/><stop offset="0.20" stop-color="#e4e4e4"/><stop offset="0.30" stop-color="#e7e7e7"/><stop offset="0.40" stop-color="#eaeaea"/><stop offset="0.50" stop-color="#eeeeee"/><stop offset="0.60" stop-color="#f3f3f3"/><stop offset="0.70" stop-color="#f7f7f7"/><stop offset="0.80" stop-color="#fbfbfb"/><stop offset="0.90" stop-color="#fefefe"/><stop offset="1.00" stop-color="#f2f2f2"/></linearGradient><linearGradient id="bm93" gradientUnits="userSpaceOnUse" x1="2852.9" y1="659.1" x2="2384.9" y2="967.9"><stop offset="0.00" stop-color="#d6d6d6"/><stop offset="0.10" stop-color="#d7d7d7"/><stop offset="0.20" stop-color="#dadada"/><stop offset="0.30" stop-color="#dddddd"/><stop offset="0.40" stop-color="#e2e2e2"/><stop offset="0.50" stop-color="#e8e8e8"/><stop offset="0.60" stop-color="#eeeeee"/><stop offset="0.70" stop-color="#f4f4f4"/><stop offset="0.80" stop-color="#fafafa"/><stop offset="0.90" stop-color="#fefefe"/><stop offset="1.00" stop-color="#f7f7f7"/></linearGradient><linearGradient id="bm94" gradientUnits="userSpaceOnUse" x1="2853.0" y1="657.7" x2="2388.5" y2="964.1"><stop offset="0.00" stop-color="#d2d2d2"/><stop offset="0.10" stop-color="#d3d3d3"/><stop offset="0.20" stop-color="#d6d6d6"/><stop offset="0.30" stop-color="#dadada"/><stop offset="0.40" stop-color="#dfdfdf"/><stop offset="0.50" stop-color="#e6e6e6"/><stop offset="0.60" stop-color="#ededed"/><stop offset="0.70" stop-color="#f3f3f3"/><stop offset="0.80" stop-color="#f9f9f9"/><stop offset="0.90" stop-color="#fdfdfd"/><stop offset="1.00" stop-color="#fbfbfb"/></linearGradient><linearGradient id="bm95" gradientUnits="userSpaceOnUse" x1="2853.0" y1="656.3" x2="2392.2" y2="960.3"><stop offset="0.00" stop-color="#a6a6a6"/><stop offset="0.10" stop-color="#a6a6a6"/><stop offset="0.20" stop-color="#a6a6a6"/><stop offset="0.30" stop-color="#a6a6a6"/><stop offset="0.40" stop-color="#a7a7a7"/><stop offset="0.50" stop-color="#a8a8a8"/><stop offset="0.60" stop-color="#acacac"/><stop offset="0.70" stop-color="#b7b7b7"/><stop offset="0.80" stop-color="#d4d4d4"/><stop offset="0.90" stop-color="#f7f7f7"/><stop offset="1.00" stop-color="#ffffff"/></linearGradient><linearGradient id="bm96" gradientUnits="userSpaceOnUse" x1="2853.0" y1="654.9" x2="2395.9" y2="956.5"><stop offset="0.00" stop-color="#a3a3a3"/><stop offset="0.10" stop-color="#a3a3a3"/><stop offset="0.20" stop-color="#a3a3a3"/><stop offset="0.30" stop-color="#a3a3a3"/><stop offset="0.40" stop-color="#a3a3a3"/><stop offset="0.50" stop-color="#a3a3a3"/><stop offset="0.60" stop-color="#a4a4a4"/><stop offset="0.70" stop-color="#acacac"/><stop offset="0.80" stop-color="#c6c6c6"/><stop offset="0.90" stop-color="#f2f2f2"/><stop offset="1.00" stop-color="#ffffff"/></linearGradient><linearGradient id="bm97" gradientUnits="userSpaceOnUse" x1="2853.1" y1="653.5" x2="2399.5" y2="952.8"><stop offset="0.00" stop-color="#a6a6a6"/><stop offset="0.10" stop-color="#a6a6a6"/><stop offset="0.20" stop-color="#a6a6a6"/><stop offset="0.30" stop-color="#a6a6a6"/><stop offset="0.40" stop-color="#a6a6a6"/><stop offset="0.50" stop-color="#a5a5a5"/><stop offset="0.60" stop-color="#a3a3a3"/><stop offset="0.70" stop-color="#a4a4a4"/><stop offset="0.80" stop-color="#b8b8b8"/><stop offset="0.90" stop-color="#eaeaea"/><stop offset="1.00" stop-color="#ffffff"/></linearGradient><linearGradient id="bm98" gradientUnits="userSpaceOnUse" x1="2853.1" y1="652.2" x2="2403.2" y2="949.0"><stop offset="0.00" stop-color="#afafaf"/><stop offset="0.10" stop-color="#afafaf"/><stop offset="0.20" stop-color="#afafaf"/><stop offset="0.30" stop-color="#afafaf"/><stop offset="0.40" stop-color="#aeaeae"/><stop offset="0.50" stop-color="#acacac"/><stop offset="0.60" stop-color="#a8a8a8"/><stop offset="0.70" stop-color="#a3a3a3"/><stop offset="0.80" stop-color="#acacac"/><stop offset="0.90" stop-color="#dfdfdf"/><stop offset="1.00" stop-color="#fefefe"/></linearGradient><linearGradient id="bm99" gradientUnits="userSpaceOnUse" x1="2853.1" y1="650.9" x2="2406.9" y2="945.4"><stop offset="0.00" stop-color="#bbbbbb"/><stop offset="0.10" stop-color="#bbbbbb"/><stop offset="0.20" stop-color="#bbbbbb"/><stop offset="0.30" stop-color="#bbbbbb"/><stop offset="0.40" stop-color="#bbbbbb"/><stop offset="0.50" stop-color="#b8b8b8"/><stop offset="0.60" stop-color="#b3b3b3"/><stop offset="0.70" stop-color="#a8a8a8"/><stop offset="0.80" stop-color="#a5a5a5"/><stop offset="0.90" stop-color="#d1d1d1"/><stop offset="1.00" stop-color="#fefefe"/></linearGradient><linearGradient id="bm100" gradientUnits="userSpaceOnUse" x1="2853.2" y1="649.8" x2="2410.5" y2="941.8"><stop offset="0.00" stop-color="#cacaca"/><stop offset="0.10" stop-color="#cacaca"/><stop offset="0.20" stop-color="#cacaca"/><stop offset="0.30" stop-color="#cacaca"/><stop offset="0.40" stop-color="#c9c9c9"/><stop offset="0.50" stop-color="#c7c7c7"/><stop offset="0.60" stop-color="#c0c0c0"/><stop offset="0.70" stop-color="#b3b3b3"/><stop offset="0.80" stop-color="#a3a3a3"/><stop offset="0.90" stop-color="#c3c3c3"/><stop offset="1.00" stop-color="#fcfcfc"/></linearGradient><linearGradient id="bm101" gradientUnits="userSpaceOnUse" x1="2853.2" y1="648.7" x2="2414.2" y2="938.3"><stop offset="0.00" stop-color="#d8d8d8"/><stop offset="0.10" stop-color="#d8d8d8"/><stop offset="0.20" stop-color="#d8d8d8"/><stop offset="0.30" stop-color="#d8d8d8"/><stop offset="0.40" stop-color="#d7d7d7"/><stop offset="0.50" stop-color="#d5d5d5"/><stop offset="0.60" stop-color="#cfcfcf"/><stop offset="0.70" stop-color="#c0c0c0"/><stop offset="0.80" stop-color="#a8a8a8"/><stop offset="0.90" stop-color="#b5b5b5"/><stop offset="1.00" stop-color="#fafafa"/></linearGradient><linearGradient id="bm102" gradientUnits="userSpaceOnUse" x1="2853.2" y1="647.7" x2="2417.8" y2="935.0"><stop offset="0.00" stop-color="#e5e5e5"/><stop offset="0.10" stop-color="#e5e5e5"/><stop offset="0.20" stop-color="#e4e4e4"/><stop offset="0.30" stop-color="#e4e4e4"/><stop offset="0.40" stop-color="#e4e4e4"/><stop offset="0.50" stop-color="#e2e2e2"/><stop offset="0.60" stop-color="#dddddd"/><stop offset="0.70" stop-color="#cfcfcf"/><stop offset="0.80" stop-color="#b2b2b2"/><stop offset="0.90" stop-color="#aaaaaa"/><stop offset="1.00" stop-color="#f5f5f5"/></linearGradient><linearGradient id="bm103" gradientUnits="userSpaceOnUse" x1="2853.3" y1="646.9" x2="2421.5" y2="931.8"><stop offset="0.00" stop-color="#eeeeee"/><stop offset="0.10" stop-color="#eeeeee"/><stop offset="0.20" stop-color="#eeeeee"/><stop offset="0.30" stop-color="#eeeeee"/><stop offset="0.40" stop-color="#eeeeee"/><stop offset="0.50" stop-color="#ececec"/><stop offset="0.60" stop-color="#e8e8e8"/><stop offset="0.70" stop-color="#dddddd"/><stop offset="0.80" stop-color="#c0c0c0"/><stop offset="0.90" stop-color="#a4a4a4"/><stop offset="1.00" stop-color="#efefef"/></linearGradient><linearGradient id="bm104" gradientUnits="userSpaceOnUse" x1="2853.3" y1="646.3" x2="2425.1" y2="928.7"><stop offset="0.00" stop-color="#f5f5f5"/><stop offset="0.10" stop-color="#f5f5f5"/><stop offset="0.20" stop-color="#f5f5f5"/><stop offset="0.30" stop-color="#f5f5f5"/><stop offset="0.40" stop-color="#f5f5f5"/><stop offset="0.50" stop-color="#f4f4f4"/><stop offset="0.60" stop-color="#f1f1f1"/><stop offset="0.70" stop-color="#e8e8e8"/><stop offset="0.80" stop-color="#cfcfcf"/><stop offset="0.90" stop-color="#a4a4a4"/><stop offset="1.00" stop-color="#e5e5e5"/></linearGradient><linearGradient id="bm105" gradientUnits="userSpaceOnUse" x1="2853.3" y1="645.7" x2="2428.8" y2="925.8"><stop offset="0.00" stop-color="#f9f9f9"/><stop offset="0.10" stop-color="#f9f9f9"/><stop offset="0.20" stop-color="#f9f9f9"/><stop offset="0.30" stop-color="#f9f9f9"/><stop offset="0.40" stop-color="#f9f9f9"/><stop offset="0.50" stop-color="#f9f9f9"/><stop offset="0.60" stop-color="#f7f7f7"/><stop offset="0.70" stop-color="#f1f1f1"/><stop offset="0.80" stop-color="#dcdcdc"/><stop offset="0.90" stop-color="#aaaaaa"/><stop offset="1.00" stop-color="#d9d9d9"/></linearGradient><linearGradient id="bm106" gradientUnits="userSpaceOnUse" x1="2853.3" y1="645.4" x2="2432.4" y2="923.1"><stop offset="0.00" stop-color="#fcfcfc"/><stop offset="0.10" stop-color="#fcfcfc"/><stop offset="0.20" stop-color="#fcfcfc"/><stop offset="0.30" stop-color="#fcfcfc"/><stop offset="0.40" stop-color="#fcfcfc"/><stop offset="0.50" stop-color="#fcfcfc"/><stop offset="0.60" stop-color="#fbfbfb"/><stop offset="0.70" stop-color="#f7f7f7"/><stop offset="0.80" stop-color="#e8e8e8"/><stop offset="0.90" stop-color="#b5b5b5"/><stop offset="1.00" stop-color="#cbcbcb"/></linearGradient><linearGradient id="bm107" gradientUnits="userSpaceOnUse" x1="2853.3" y1="645.2" x2="2436.0" y2="920.5"><stop offset="0.00" stop-color="#fefefe"/><stop offset="0.10" stop-color="#fefefe"/><stop offset="0.20" stop-color="#fefefe"/><stop offset="0.30" stop-color="#fefefe"/><stop offset="0.40" stop-color="#fefefe"/><stop offset="0.50" stop-color="#fdfdfd"/><stop offset="0.60" stop-color="#fdfdfd"/><stop offset="0.70" stop-color="#fbfbfb"/><stop offset="0.80" stop-color="#f1f1f1"/><stop offset="0.90" stop-color="#c3c3c3"/><stop offset="1.00" stop-color="#bcbcbc"/></linearGradient><linearGradient id="bm108" gradientUnits="userSpaceOnUse" x1="2853.3" y1="645.2" x2="2439.7" y2="918.1"><stop offset="0.00" stop-color="#fefefe"/><stop offset="0.10" stop-color="#fefefe"/><stop offset="0.20" stop-color="#fefefe"/><stop offset="0.30" stop-color="#fefefe"/><stop offset="0.40" stop-color="#fefefe"/><stop offset="0.50" stop-color="#fefefe"/><stop offset="0.60" stop-color="#fefefe"/><stop offset="0.70" stop-color="#fdfdfd"/><stop offset="0.80" stop-color="#f7f7f7"/><stop offset="0.90" stop-color="#d2d2d2"/><stop offset="1.00" stop-color="#b0b0b0"/></linearGradient><linearGradient id="bm109" gradientUnits="userSpaceOnUse" x1="2853.3" y1="645.4" x2="2443.3" y2="915.9"><stop offset="0.00" stop-color="#ffffff"/><stop offset="0.10" stop-color="#ffffff"/><stop offset="0.20" stop-color="#ffffff"/><stop offset="0.30" stop-color="#ffffff"/><stop offset="0.40" stop-color="#ffffff"/><stop offset="0.50" stop-color="#ffffff"/><stop offset="0.60" stop-color="#ffffff"/><stop offset="0.70" stop-color="#fefefe"/><stop offset="0.80" stop-color="#fafafa"/><stop offset="0.90" stop-color="#dfdfdf"/><stop offset="1.00" stop-color="#a6a6a6"/></linearGradient><linearGradient id="bm110" gradientUnits="userSpaceOnUse" x1="2853.3" y1="645.7" x2="2446.9" y2="913.8"><stop offset="0.00" stop-color="#ffffff"/><stop offset="0.10" stop-color="#ffffff"/><stop offset="0.20" stop-color="#ffffff"/><stop offset="0.30" stop-color="#ffffff"/><stop offset="0.40" stop-color="#ffffff"/><stop offset="0.50" stop-color="#ffffff"/><stop offset="0.60" stop-color="#ffffff"/><stop offset="0.70" stop-color="#ffffff"/><stop offset="0.80" stop-color="#fdfdfd"/><stop offset="0.90" stop-color="#eaeaea"/><stop offset="1.00" stop-color="#a3a3a3"/></linearGradient><linearGradient id="bm111" gradientUnits="userSpaceOnUse" x1="2853.3" y1="646.3" x2="2450.5" y2="912.0"><stop offset="0.00" stop-color="#ffffff"/><stop offset="0.10" stop-color="#ffffff"/><stop offset="0.20" stop-color="#ffffff"/><stop offset="0.30" stop-color="#ffffff"/><stop offset="0.40" stop-color="#ffffff"/><stop offset="0.50" stop-color="#ffffff"/><stop offset="0.60" stop-color="#ffffff"/><stop offset="0.70" stop-color="#ffffff"/><stop offset="0.80" stop-color="#fefefe"/><stop offset="0.90" stop-color="#f2f2f2"/><stop offset="1.00" stop-color="#a6a6a6"/></linearGradient><linearGradient id="bm112" gradientUnits="userSpaceOnUse" x1="2853.3" y1="646.9" x2="2454.1" y2="910.2"><stop offset="0.00" stop-color="#ffffff"/><stop offset="0.10" stop-color="#ffffff"/><stop offset="0.20" stop-color="#ffffff"/><stop offset="0.30" stop-color="#ffffff"/><stop offset="0.40" stop-color="#ffffff"/><stop offset="0.50" stop-color="#ffffff"/><stop offset="0.60" stop-color="#ffffff"/><stop offset="0.70" stop-color="#ffffff"/><stop offset="0.80" stop-color="#ffffff"/><stop offset="0.90" stop-color="#f8f8f8"/><stop offset="1.00" stop-color="#aeaeae"/></linearGradient><linearGradient id="bm113" gradientUnits="userSpaceOnUse" x1="2853.2" y1="647.7" x2="2457.7" y2="908.6"><stop offset="0.00" stop-color="#fefefe"/><stop offset="0.10" stop-color="#ffffff"/><stop offset="0.20" stop-color="#ffffff"/><stop offset="0.30" stop-color="#ffffff"/><stop offset="0.40" stop-color="#ffffff"/><stop offset="0.50" stop-color="#ffffff"/><stop offset="0.60" stop-color="#ffffff"/><stop offset="0.70" stop-color="#ffffff"/><stop offset="0.80" stop-color="#ffffff"/><stop offset="0.90" stop-color="#fbfbfb"/><stop offset="1.00" stop-color="#bbbbbb"/></linearGradient><linearGradient id="bm114" gradientUnits="userSpaceOnUse" x1="2853.2" y1="648.7" x2="2461.3" y2="907.2"><stop offset="0.00" stop-color="#fdfdfd"/><stop offset="0.10" stop-color="#fdfdfd"/><stop offset="0.20" stop-color="#fdfdfd"/><stop offset="0.30" stop-color="#fdfdfd"/><stop offset="0.40" stop-color="#fefefe"/><stop offset="0.50" stop-color="#fefefe"/><stop offset="0.60" stop-color="#fefefe"/><stop offset="0.70" stop-color="#ffffff"/><stop offset="0.80" stop-color="#ffffff"/><stop offset="0.90" stop-color="#fdfdfd"/><stop offset="1.00" stop-color="#cacaca"/></linearGradient><linearGradient id="bm115" gradientUnits="userSpaceOnUse" x1="2853.2" y1="649.8" x2="2464.9" y2="905.9"><stop offset="0.00" stop-color="#fafafa"/><stop offset="0.10" stop-color="#fafafa"/><stop offset="0.20" stop-color="#fafafa"/><stop offset="0.30" stop-color="#fbfbfb"/><stop offset="0.40" stop-color="#fbfbfb"/><stop offset="0.50" stop-color="#fcfcfc"/><stop offset="0.60" stop-color="#fdfdfd"/><stop offset="0.70" stop-color="#fefefe"/><stop offset="0.80" stop-color="#fefefe"/><stop offset="0.90" stop-color="#fefefe"/><stop offset="1.00" stop-color="#d8d8d8"/></linearGradient><linearGradient id="bm116" gradientUnits="userSpaceOnUse" x1="2853.1" y1="650.9" x2="2468.5" y2="904.7"><stop offset="0.00" stop-color="#f3f3f3"/><stop offset="0.10" stop-color="#f3f3f3"/><stop offset="0.20" stop-color="#f4f4f4"/><stop offset="0.30" stop-color="#f5f5f5"/><stop offset="0.40" stop-color="#f6f6f6"/><stop offset="0.50" stop-color="#f8f8f8"/><stop offset="0.60" stop-color="#fafafa"/><stop offset="0.70" stop-color="#fcfcfc"/><stop offset="0.80" stop-color="#fdfdfd"/><stop offset="0.90" stop-color="#fefefe"/><stop offset="1.00" stop-color="#e4e4e4"/></linearGradient><linearGradient id="bm117" gradientUnits="userSpaceOnUse" x1="2853.1" y1="652.2" x2="2472.1" y2="903.5"><stop offset="0.00" stop-color="#e8e8e8"/><stop offset="0.10" stop-color="#e8e8e8"/><stop offset="0.20" stop-color="#eaeaea"/><stop offset="0.30" stop-color="#ececec"/><stop offset="0.40" stop-color="#efefef"/><stop offset="0.50" stop-color="#f2f2f2"/><stop offset="0.60" stop-color="#f5f5f5"/><stop offset="0.70" stop-color="#f9f9f9"/><stop offset="0.80" stop-color="#fcfcfc"/><stop offset="0.90" stop-color="#fefefe"/><stop offset="1.00" stop-color="#eeeeee"/></linearGradient><linearGradient id="bm118" gradientUnits="userSpaceOnUse" x1="2853.1" y1="653.5" x2="2475.7" y2="902.5"><stop offset="0.00" stop-color="#dbdbdb"/><stop offset="0.10" stop-color="#dcdcdc"/><stop offset="0.20" stop-color="#dedede"/><stop offset="0.30" stop-color="#e2e2e2"/><stop offset="0.40" stop-color="#e6e6e6"/><stop offset="0.50" stop-color="#ebebeb"/><stop offset="0.60" stop-color="#f0f0f0"/><stop offset="0.70" stop-color="#f6f6f6"/><stop offset="0.80" stop-color="#fafafa"/><stop offset="0.90" stop-color="#fefefe"/><stop offset="1.00" stop-color="#f5f5f5"/></linearGradient><linearGradient id="bm119" gradientUnits="userSpaceOnUse" x1="2853.0" y1="654.9" x2="2479.3" y2="901.5"><stop offset="0.00" stop-color="#d3d3d3"/><stop offset="0.10" stop-color="#d4d4d4"/><stop offset="0.20" stop-color="#d7d7d7"/><stop offset="0.30" stop-color="#dbdbdb"/><stop offset="0.40" stop-color="#e0e0e0"/><stop offset="0.50" stop-color="#e6e6e6"/><stop offset="0.60" stop-color="#ededed"/><stop offset="0.70" stop-color="#f4f4f4"/><stop offset="0.80" stop-color="#f9f9f9"/><stop offset="0.90" stop-color="#fdfdfd"/><stop offset="1.00" stop-color="#f9f9f9"/></linearGradient><linearGradient id="bm120" gradientUnits="userSpaceOnUse" x1="2853.0" y1="656.3" x2="2482.9" y2="900.5"><stop offset="0.00" stop-color="#d3d3d3"/><stop offset="0.10" stop-color="#d4d4d4"/><stop offset="0.20" stop-color="#d7d7d7"/><stop offset="0.30" stop-color="#dbdbdb"/><stop offset="0.40" stop-color="#e0e0e0"/><stop offset="0.50" stop-color="#e6e6e6"/><stop offset="0.60" stop-color="#ededed"/><stop offset="0.70" stop-color="#f4f4f4"/><stop offset="0.80" stop-color="#f9f9f9"/><stop offset="0.90" stop-color="#fdfdfd"/><stop offset="1.00" stop-color="#fcfcfc"/></linearGradient><linearGradient id="bm121" gradientUnits="userSpaceOnUse" x1="2853.0" y1="657.7" x2="2486.5" y2="899.5"><stop offset="0.00" stop-color="#a4a4a4"/><stop offset="0.10" stop-color="#a4a4a4"/><stop offset="0.20" stop-color="#a4a4a4"/><stop offset="0.30" stop-color="#a4a4a4"/><stop offset="0.40" stop-color="#a4a4a4"/><stop offset="0.50" stop-color="#a5a5a5"/><stop offset="0.60" stop-color="#a7a7a7"/><stop offset="0.70" stop-color="#b1b1b1"/><stop offset="0.80" stop-color="#cdcdcd"/><stop offset="0.90" stop-color="#f5f5f5"/><stop offset="1.00" stop-color="#ffffff"/></linearGradient><linearGradient id="bm122" gradientUnits="userSpaceOnUse" x1="2852.9" y1="659.1" x2="2490.1" y2="898.5"><stop offset="0.00" stop-color="#a4a4a4"/><stop offset="0.10" stop-color="#a4a4a4"/><stop offset="0.20" stop-color="#a4a4a4"/><stop offset="0.30" stop-color="#a4a4a4"/><stop offset="0.40" stop-color="#a4a4a4"/><stop offset="0.50" stop-color="#a3a3a3"/><stop offset="0.60" stop-color="#a3a3a3"/><stop offset="0.70" stop-color="#a7a7a7"/><stop offset="0.80" stop-color="#bfbfbf"/><stop offset="0.90" stop-color="#eeeeee"/><stop offset="1.00" stop-color="#ffffff"/></linearGradient><linearGradient id="bm123" gradientUnits="userSpaceOnUse" x1="2852.9" y1="660.5" x2="2493.7" y2="897.5"><stop offset="0.00" stop-color="#aaaaaa"/><stop offset="0.10" stop-color="#aaaaaa"/><stop offset="0.20" stop-color="#aaaaaa"/><stop offset="0.30" stop-color="#aaaaaa"/><stop offset="0.40" stop-color="#a9a9a9"/><stop offset="0.50" stop-color="#a8a8a8"/><stop offset="0.60" stop-color="#a5a5a5"/><stop offset="0.70" stop-color="#a3a3a3"/><stop offset="0.80" stop-color="#b1b1b1"/><stop offset="0.90" stop-color="#e5e5e5"/><stop offset="1.00" stop-color="#ffffff"/></linearGradient><linearGradient id="bm124" gradientUnits="userSpaceOnUse" x1="2852.8" y1="661.8" x2="2497.3" y2="896.4"><stop offset="0.00" stop-color="#b5b5b5"/><stop offset="0.10" stop-color="#b5b5b5"/><stop offset="0.20" stop-color="#b5b5b5"/><stop offset="0.30" stop-color="#b5b5b5"/><stop offset="0.40" stop-color="#b4b4b4"/><stop offset="0.50" stop-color="#b2b2b2"/><stop offset="0.60" stop-color="#adadad"/><stop offset="0.70" stop-color="#a5a5a5"/><stop offset="0.80" stop-color="#a8a8a8"/><stop offset="0.90" stop-color="#d8d8d8"/><stop offset="1.00" stop-color="#fefefe"/></linearGradient><linearGradient id="bm125" gradientUnits="userSpaceOnUse" x1="2852.8" y1="663.0" x2="2500.9" y2="895.2"><stop offset="0.00" stop-color="#c3c3c3"/><stop offset="0.10" stop-color="#c3c3c3"/><stop offset="0.20" stop-color="#c3c3c3"/><stop offset="0.30" stop-color="#c2c2c2"/><stop offset="0.40" stop-color="#c2c2c2"/><stop offset="0.50" stop-color="#bfbfbf"/><stop offset="0.60" stop-color="#b9b9b9"/><stop offset="0.70" stop-color="#adadad"/><stop offset="0.80" stop-color="#a3a3a3"/><stop offset="0.90" stop-color="#cacaca"/><stop offset="1.00" stop-color="#fdfdfd"/></linearGradient><linearGradient id="bm126" gradientUnits="userSpaceOnUse" x1="2852.8" y1="664.2" x2="2504.5" y2="893.9"><stop offset="0.00" stop-color="#d1d1d1"/><stop offset="0.10" stop-color="#d1d1d1"/><stop offset="0.20" stop-color="#d1d1d1"/><stop offset="0.30" stop-color="#d1d1d1"/><stop offset="0.40" stop-color="#d0d0d0"/><stop offset="0.50" stop-color="#cecece"/><stop offset="0.60" stop-color="#c8c8c8"/><stop offset="0.70" stop-color="#b9b9b9"/><stop offset="0.80" stop-color="#a5a5a5"/><stop offset="0.90" stop-color="#bbbbbb"/><stop offset="1.00" stop-color="#fbfbfb"/></linearGradient><linearGradient id="bm127" gradientUnits="userSpaceOnUse" x1="2852.8" y1="665.2" x2="2508.1" y2="892.6"><stop offset="0.00" stop-color="#dfdfdf"/><stop offset="0.10" stop-color="#dfdfdf"/><stop offset="0.20" stop-color="#dfdfdf"/><stop offset="0.30" stop-color="#dfdfdf"/><stop offset="0.40" stop-color="#dedede"/><stop offset="0.50" stop-color="#dcdcdc"/><stop offset="0.60" stop-color="#d6d6d6"/><stop offset="0.70" stop-color="#c8c8c8"/><stop offset="0.80" stop-color="#adadad"/><stop offset="0.90" stop-color="#afafaf"/><stop offset="1.00" stop-color="#f8f8f8"/></linearGradient><linearGradient id="bm128" gradientUnits="userSpaceOnUse" x1="2852.7" y1="666.1" x2="2511.7" y2="891.1"><stop offset="0.00" stop-color="#eaeaea"/><stop offset="0.10" stop-color="#eaeaea"/><stop offset="0.20" stop-color="#eaeaea"/><stop offset="0.30" stop-color="#eaeaea"/><stop offset="0.40" stop-color="#e9e9e9"/><stop offset="0.50" stop-color="#e7e7e7"/><stop offset="0.60" stop-color="#e3e3e3"/><stop offset="0.70" stop-color="#d6d6d6"/><stop offset="0.80" stop-color="#b9b9b9"/><stop offset="0.90" stop-color="#a6a6a6"/><stop offset="1.00" stop-color="#f2f2f2"/></linearGradient><linearGradient id="bm129" gradientUnits="userSpaceOnUse" x1="2852.7" y1="666.8" x2="2515.3" y2="889.4"><stop offset="0.00" stop-color="#f2f2f2"/><stop offset="0.10" stop-color="#f2f2f2"/><stop offset="0.20" stop-color="#f2f2f2"/><stop offset="0.30" stop-color="#f2f2f2"/><stop offset="0.40" stop-color="#f1f1f1"/><stop offset="0.50" stop-color="#f0f0f0"/><stop offset="0.60" stop-color="#ededed"/><stop offset="0.70" stop-color="#e3e3e3"/><stop offset="0.80" stop-color="#c7c7c7"/><stop offset="0.90" stop-color="#a3a3a3"/><stop offset="1.00" stop-color="#eaeaea"/></linearGradient><linearGradient id="bm130" gradientUnits="userSpaceOnUse" x1="2852.7" y1="667.4" x2="2518.9" y2="887.6"><stop offset="0.00" stop-color="#f7f7f7"/><stop offset="0.10" stop-color="#f7f7f7"/><stop offset="0.20" stop-color="#f7f7f7"/><stop offset="0.30" stop-color="#f7f7f7"/><stop offset="0.40" stop-color="#f7f7f7"/><stop offset="0.50" stop-color="#f6f6f6"/><stop offset="0.60" stop-color="#f4f4f4"/><stop offset="0.70" stop-color="#ededed"/><stop offset="0.80" stop-color="#d6d6d6"/><stop offset="0.90" stop-color="#a6a6a6"/><stop offset="1.00" stop-color="#e0e0e0"/></linearGradient><linearGradient id="bm131" gradientUnits="userSpaceOnUse" x1="2852.7" y1="667.8" x2="2522.5" y2="885.6"><stop offset="0.00" stop-color="#fbfbfb"/><stop offset="0.10" stop-color="#fbfbfb"/><stop offset="0.20" stop-color="#fbfbfb"/><stop offset="0.30" stop-color="#fbfbfb"/><stop offset="0.40" stop-color="#fbfbfb"/><stop offset="0.50" stop-color="#fafafa"/><stop offset="0.60" stop-color="#f9f9f9"/><stop offset="0.70" stop-color="#f4f4f4"/><stop offset="0.80" stop-color="#e3e3e3"/><stop offset="0.90" stop-color="#afafaf"/><stop offset="1.00" stop-color="#d2d2d2"/></linearGradient><linearGradient id="bm132" gradientUnits="userSpaceOnUse" x1="2852.7" y1="668.1" x2="2526.1" y2="883.5"><stop offset="0.00" stop-color="#fdfdfd"/><stop offset="0.10" stop-color="#fdfdfd"/><stop offset="0.20" stop-color="#fdfdfd"/><stop offset="0.30" stop-color="#fdfdfd"/><stop offset="0.40" stop-color="#fdfdfd"/><stop offset="0.50" stop-color="#fdfdfd"/><stop offset="0.60" stop-color="#fcfcfc"/><stop offset="0.70" stop-color="#f9f9f9"/><stop offset="0.80" stop-color="#ededed"/><stop offset="0.90" stop-color="#bcbcbc"/><stop offset="1.00" stop-color="#c4c4c4"/></linearGradient><linearGradient id="bm133" gradientUnits="userSpaceOnUse" x1="2852.7" y1="668.2" x2="2529.8" y2="881.2"><stop offset="0.00" stop-color="#fefefe"/><stop offset="0.10" stop-color="#fefefe"/><stop offset="0.20" stop-color="#fefefe"/><stop offset="0.30" stop-color="#fefefe"/><stop offset="0.40" stop-color="#fefefe"/><stop offset="0.50" stop-color="#fefefe"/><stop offset="0.60" stop-color="#fdfdfd"/><stop offset="0.70" stop-color="#fcfcfc"/><stop offset="0.80" stop-color="#f4f4f4"/><stop offset="0.90" stop-color="#cbcbcb"/><stop offset="1.00" stop-color="#b6b6b6"/></linearGradient><linearGradient id="bm134" gradientUnits="userSpaceOnUse" x1="2852.7" y1="668.1" x2="2533.4" y2="878.7"><stop offset="0.00" stop-color="#ffffff"/><stop offset="0.10" stop-color="#ffffff"/><stop offset="0.20" stop-color="#ffffff"/><stop offset="0.30" stop-color="#ffffff"/><stop offset="0.40" stop-color="#ffffff"/><stop offset="0.50" stop-color="#ffffff"/><stop offset="0.60" stop-color="#fefefe"/><stop offset="0.70" stop-color="#fdfdfd"/><stop offset="0.80" stop-color="#f9f9f9"/><stop offset="0.90" stop-color="#d9d9d9"/><stop offset="1.00" stop-color="#aaaaaa"/></linearGradient><linearGradient id="bm135" gradientUnits="userSpaceOnUse" x1="2852.7" y1="667.8" x2="2537.0" y2="876.1"><stop offset="0.00" stop-color="#ffffff"/><stop offset="0.10" stop-color="#ffffff"/><stop offset="0.20" stop-color="#ffffff"/><stop offset="0.30" stop-color="#ffffff"/><stop offset="0.40" stop-color="#ffffff"/><stop offset="0.50" stop-color="#ffffff"/><stop offset="0.60" stop-color="#ffffff"/><stop offset="0.70" stop-color="#fefefe"/><stop offset="0.80" stop-color="#fcfcfc"/><stop offset="0.90" stop-color="#e5e5e5"/><stop offset="1.00" stop-color="#a4a4a4"/></linearGradient><linearGradient id="bm136" gradientUnits="userSpaceOnUse" x1="2852.7" y1="667.4" x2="2540.7" y2="873.2"><stop offset="0.00" stop-color="#ffffff"/><stop offset="0.10" stop-color="#ffffff"/><stop offset="0.20" stop-color="#ffffff"/><stop offset="0.30" stop-color="#ffffff"/><stop offset="0.40" stop-color="#ffffff"/><stop offset="0.50" stop-color="#ffffff"/><stop offset="0.60" stop-color="#ffffff"/><stop offset="0.70" stop-color="#ffffff"/><stop offset="0.80" stop-color="#fdfdfd"/><stop offset="0.90" stop-color="#efefef"/><stop offset="1.00" stop-color="#a4a4a4"/></linearGradient><linearGradient id="bm137" gradientUnits="userSpaceOnUse" x1="2852.7" y1="666.8" x2="2544.3" y2="870.3"><stop offset="0.00" stop-color="#ffffff"/><stop offset="0.10" stop-color="#ffffff"/><stop offset="0.20" stop-color="#ffffff"/><stop offset="0.30" stop-color="#ffffff"/><stop offset="0.40" stop-color="#ffffff"/><stop offset="0.50" stop-color="#ffffff"/><stop offset="0.60" stop-color="#ffffff"/><stop offset="0.70" stop-color="#ffffff"/><stop offset="0.80" stop-color="#fefefe"/><stop offset="0.90" stop-color="#f5f5f5"/><stop offset="1.00" stop-color="#aaaaaa"/></linearGradient><linearGradient id="bm138" gradientUnits="userSpaceOnUse" x1="2852.7" y1="666.1" x2="2548.0" y2="867.1"><stop offset="0.00" stop-color="#ffffff"/><stop offset="0.10" stop-color="#ffffff"/><stop offset="0.20" stop-color="#ffffff"/><stop offset="0.30" stop-color="#ffffff"/><stop offset="0.40" stop-color="#ffffff"/><stop offset="0.50" stop-color="#ffffff"/><stop offset="0.60" stop-color="#ffffff"/><stop offset="0.70" stop-color="#ffffff"/><stop offset="0.80" stop-color="#ffffff"/><stop offset="0.90" stop-color="#fafafa"/><stop offset="1.00" stop-color="#b4b4b4"/></linearGradient><linearGradient id="bm139" gradientUnits="userSpaceOnUse" x1="2852.8" y1="665.2" x2="2551.6" y2="863.8"><stop offset="0.00" stop-color="#fefefe"/><stop offset="0.10" stop-color="#fefefe"/><stop offset="0.20" stop-color="#fefefe"/><stop offset="0.30" stop-color="#fefefe"/><stop offset="0.40" stop-color="#fefefe"/><stop offset="0.50" stop-color="#fefefe"/><stop offset="0.60" stop-color="#ffffff"/><stop offset="0.70" stop-color="#ffffff"/><stop offset="0.80" stop-color="#ffffff"/><stop offset="0.90" stop-color="#fcfcfc"/><stop offset="1.00" stop-color="#c2c2c2"/></linearGradient><linearGradient id="bm140" gradientUnits="userSpaceOnUse" x1="2852.8" y1="664.2" x2="2555.3" y2="860.4"><stop offset="0.00" stop-color="#fcfcfc"/><stop offset="0.10" stop-color="#fcfcfc"/><stop offset="0.20" stop-color="#fcfcfc"/><stop offset="0.30" stop-color="#fcfcfc"/><stop offset="0.40" stop-color="#fdfdfd"/><stop offset="0.50" stop-color="#fdfdfd"/><stop offset="0.60" stop-color="#fefefe"/><stop offset="0.70" stop-color="#fefefe"/><stop offset="0.80" stop-color="#ffffff"/><stop offset="0.90" stop-color="#fefefe"/><stop offset="1.00" stop-color="#d1d1d1"/></linearGradient><linearGradient id="bm141" gradientUnits="userSpaceOnUse" x1="2852.8" y1="663.0" x2="2558.9" y2="856.9"><stop offset="0.00" stop-color="#f7f7f7"/><stop offset="0.10" stop-color="#f7f7f7"/><stop offset="0.20" stop-color="#f7f7f7"/><stop offset="0.30" stop-color="#f8f8f8"/><stop offset="0.40" stop-color="#f9f9f9"/><stop offset="0.50" stop-color="#fafafa"/><stop offset="0.60" stop-color="#fcfcfc"/><stop offset="0.70" stop-color="#fdfdfd"/><stop offset="0.80" stop-color="#fefefe"/><stop offset="0.90" stop-color="#fefefe"/><stop offset="1.00" stop-color="#dedede"/></linearGradient><linearGradient id="bm142" gradientUnits="userSpaceOnUse" x1="2852.8" y1="661.8" x2="2562.6" y2="853.3"><stop offset="0.00" stop-color="#eeeeee"/><stop offset="0.10" stop-color="#eeeeee"/><stop offset="0.20" stop-color="#efefef"/><stop offset="0.30" stop-color="#f1f1f1"/><stop offset="0.40" stop-color="#f3f3f3"/><stop offset="0.50" stop-color="#f5f5f5"/><stop offset="0.60" stop-color="#f8f8f8"/><stop offset="0.70" stop-color="#fafafa"/><stop offset="0.80" stop-color="#fdfdfd"/><stop offset="0.90" stop-color="#fefefe"/><stop offset="1.00" stop-color="#e9e9e9"/></linearGradient><linearGradient id="bm143" gradientUnits="userSpaceOnUse" x1="2852.9" y1="660.5" x2="2566.2" y2="849.6"><stop offset="0.00" stop-color="#e1e1e1"/><stop offset="0.10" stop-color="#e2e2e2"/><stop offset="0.20" stop-color="#e4e4e4"/><stop offset="0.30" stop-color="#e7e7e7"/><stop offset="0.40" stop-color="#eaeaea"/><stop offset="0.50" stop-color="#eeeeee"/><stop offset="0.60" stop-color="#f3f3f3"/><stop offset="0.70" stop-color="#f7f7f7"/><stop offset="0.80" stop-color="#fbfbfb"/><stop offset="0.90" stop-color="#fefefe"/><stop offset="1.00" stop-color="#f2f2f2"/></linearGradient><linearGradient id="bm144" gradientUnits="userSpaceOnUse" x1="2852.9" y1="659.1" x2="2569.9" y2="845.8"><stop offset="0.00" stop-color="#d6d6d6"/><stop offset="0.10" stop-color="#d7d7d7"/><stop offset="0.20" stop-color="#dadada"/><stop offset="0.30" stop-color="#dddddd"/><stop offset="0.40" stop-color="#e2e2e2"/><stop offset="0.50" stop-color="#e8e8e8"/><stop offset="0.60" stop-color="#eeeeee"/><stop offset="0.70" stop-color="#f4f4f4"/><stop offset="0.80" stop-color="#fafafa"/><stop offset="0.90" stop-color="#fefefe"/><stop offset="1.00" stop-color="#f7f7f7"/></linearGradient><linearGradient id="bm145" gradientUnits="userSpaceOnUse" x1="2853.0" y1="657.7" x2="2573.6" y2="842.1"><stop offset="0.00" stop-color="#d2d2d2"/><stop offset="0.10" stop-color="#d3d3d3"/><stop offset="0.20" stop-color="#d6d6d6"/><stop offset="0.30" stop-color="#dadada"/><stop offset="0.40" stop-color="#dfdfdf"/><stop offset="0.50" stop-color="#e6e6e6"/><stop offset="0.60" stop-color="#ededed"/><stop offset="0.70" stop-color="#f3f3f3"/><stop offset="0.80" stop-color="#f9f9f9"/><stop offset="0.90" stop-color="#fdfdfd"/><stop offset="1.00" stop-color="#fbfbfb"/></linearGradient><linearGradient id="bm146" gradientUnits="userSpaceOnUse" x1="2853.0" y1="656.3" x2="2577.2" y2="838.3"><stop offset="0.00" stop-color="#a5a5a5"/><stop offset="0.10" stop-color="#a5a5a5"/><stop offset="0.20" stop-color="#a5a5a5"/><stop offset="0.30" stop-color="#a5a5a5"/><stop offset="0.40" stop-color="#a5a5a5"/><stop offset="0.50" stop-color="#a6a6a6"/><stop offset="0.60" stop-color="#a9a9a9"/><stop offset="0.70" stop-color="#b4b4b4"/><stop offset="0.80" stop-color="#d1d1d1"/><stop offset="0.90" stop-color="#f6f6f6"/><stop offset="1.00" stop-color="#ffffff"/></linearGradient><linearGradient id="bm147" gradientUnits="userSpaceOnUse" x1="2853.0" y1="654.9" x2="2580.9" y2="834.4"><stop offset="0.00" stop-color="#a8a8a8"/><stop offset="0.10" stop-color="#a8a8a8"/><stop offset="0.20" stop-color="#a8a8a8"/><stop offset="0.30" stop-color="#a8a8a8"/><stop offset="0.40" stop-color="#a7a7a7"/><stop offset="0.50" stop-color="#a6a6a6"/><stop offset="0.60" stop-color="#a4a4a4"/><stop offset="0.70" stop-color="#a4a4a4"/><stop offset="0.80" stop-color="#b4b4b4"/><stop offset="0.90" stop-color="#e7e7e7"/><stop offset="1.00" stop-color="#ffffff"/></linearGradient><linearGradient id="bm148" gradientUnits="userSpaceOnUse" x1="2853.1" y1="653.5" x2="2584.6" y2="830.7"><stop offset="0.00" stop-color="#bfbfbf"/><stop offset="0.10" stop-color="#bfbfbf"/><stop offset="0.20" stop-color="#bfbfbf"/><stop offset="0.30" stop-color="#bfbfbf"/><stop offset="0.40" stop-color="#bebebe"/><stop offset="0.50" stop-color="#bcbcbc"/><stop offset="0.60" stop-color="#b6b6b6"/><stop offset="0.70" stop-color="#ababab"/><stop offset="0.80" stop-color="#a4a4a4"/><stop offset="0.90" stop-color="#cecece"/><stop offset="1.00" stop-color="#fdfdfd"/></linearGradient><linearGradient id="bm149" gradientUnits="userSpaceOnUse" x1="2853.1" y1="652.2" x2="2588.2" y2="826.9"><stop offset="0.00" stop-color="#dbdbdb"/><stop offset="0.10" stop-color="#dbdbdb"/><stop offset="0.20" stop-color="#dbdbdb"/><stop offset="0.30" stop-color="#dbdbdb"/><stop offset="0.40" stop-color="#dbdbdb"/><stop offset="0.50" stop-color="#d9d9d9"/><stop offset="0.60" stop-color="#d3d3d3"/><stop offset="0.70" stop-color="#c4c4c4"/><stop offset="0.80" stop-color="#aaaaaa"/><stop offset="0.90" stop-color="#b2b2b2"/><stop offset="1.00" stop-color="#f9f9f9"/></linearGradient><linearGradient id="bm150" gradientUnits="userSpaceOnUse" x1="2853.1" y1="650.9" x2="2591.9" y2="823.3"><stop offset="0.00" stop-color="#f0f0f0"/><stop offset="0.10" stop-color="#f0f0f0"/><stop offset="0.20" stop-color="#f0f0f0"/><stop offset="0.30" stop-color="#f0f0f0"/><stop offset="0.40" stop-color="#f0f0f0"/><stop offset="0.50" stop-color="#eeeeee"/><stop offset="0.60" stop-color="#ebebeb"/><stop offset="0.70" stop-color="#e0e0e0"/><stop offset="0.80" stop-color="#c4c4c4"/><stop offset="0.90" stop-color="#a3a3a3"/><stop offset="1.00" stop-color="#ededed"/></linearGradient><linearGradient id="bm151" gradientUnits="userSpaceOnUse" x1="2853.2" y1="649.8" x2="2595.6" y2="819.7"><stop offset="0.00" stop-color="#fafafa"/><stop offset="0.10" stop-color="#fafafa"/><stop offset="0.20" stop-color="#fafafa"/><stop offset="0.30" stop-color="#fafafa"/><stop offset="0.40" stop-color="#fafafa"/><stop offset="0.50" stop-color="#fafafa"/><stop offset="0.60" stop-color="#f8f8f8"/><stop offset="0.70" stop-color="#f3f3f3"/><stop offset="0.80" stop-color="#e0e0e0"/><stop offset="0.90" stop-color="#adadad"/><stop offset="1.00" stop-color="#d6d6d6"/></linearGradient><linearGradient id="bm152" gradientUnits="userSpaceOnUse" x1="2853.2" y1="648.7" x2="2599.2" y2="816.2"><stop offset="0.00" stop-color="#fefefe"/><stop offset="0.10" stop-color="#fefefe"/><stop offset="0.20" stop-color="#fefefe"/><stop offset="0.30" stop-color="#fefefe"/><stop offset="0.40" stop-color="#fefefe"/><stop offset="0.50" stop-color="#fefefe"/><stop offset="0.60" stop-color="#fdfdfd"/><stop offset="0.70" stop-color="#fbfbfb"/><stop offset="0.80" stop-color="#f2f2f2"/><stop offset="0.90" stop-color="#c7c7c7"/><stop offset="1.00" stop-color="#b9b9b9"/></linearGradient><linearGradient id="bm153" gradientUnits="userSpaceOnUse" x1="2853.2" y1="647.7" x2="2602.9" y2="812.9"><stop offset="0.00" stop-color="#ffffff"/><stop offset="0.10" stop-color="#ffffff"/><stop offset="0.20" stop-color="#ffffff"/><stop offset="0.30" stop-color="#ffffff"/><stop offset="0.40" stop-color="#ffffff"/><stop offset="0.50" stop-color="#ffffff"/><stop offset="0.60" stop-color="#ffffff"/><stop offset="0.70" stop-color="#fefefe"/><stop offset="0.80" stop-color="#fbfbfb"/><stop offset="0.90" stop-color="#e2e2e2"/><stop offset="1.00" stop-color="#a5a5a5"/></linearGradient><linearGradient id="bm154" gradientUnits="userSpaceOnUse" x1="2853.3" y1="646.9" x2="2606.5" y2="809.7"><stop offset="0.00" stop-color="#ffffff"/><stop offset="0.10" stop-color="#ffffff"/><stop offset="0.20" stop-color="#ffffff"/><stop offset="0.30" stop-color="#ffffff"/><stop offset="0.40" stop-color="#ffffff"/><stop offset="0.50" stop-color="#ffffff"/><stop offset="0.60" stop-color="#ffffff"/><stop offset="0.70" stop-color="#ffffff"/><stop offset="0.80" stop-color="#fefefe"/><stop offset="0.90" stop-color="#f4f4f4"/><stop offset="1.00" stop-color="#a8a8a8"/></linearGradient><linearGradient id="bm155" gradientUnits="userSpaceOnUse" x1="2853.3" y1="646.3" x2="2610.2" y2="806.6"><stop offset="0.00" stop-color="#fefefe"/><stop offset="0.10" stop-color="#fefefe"/><stop offset="0.20" stop-color="#fefefe"/><stop offset="0.30" stop-color="#fefefe"/><stop offset="0.40" stop-color="#fefefe"/><stop offset="0.50" stop-color="#ffffff"/><stop offset="0.60" stop-color="#ffffff"/><stop offset="0.70" stop-color="#ffffff"/><stop offset="0.80" stop-color="#ffffff"/><stop offset="0.90" stop-color="#fcfcfc"/><stop offset="1.00" stop-color="#bfbfbf"/></linearGradient><linearGradient id="bm156" gradientUnits="userSpaceOnUse" x1="2853.3" y1="645.7" x2="2613.8" y2="803.7"><stop offset="0.00" stop-color="#f8f8f8"/><stop offset="0.10" stop-color="#f9f9f9"/><stop offset="0.20" stop-color="#f9f9f9"/><stop offset="0.30" stop-color="#fafafa"/><stop offset="0.40" stop-color="#fafafa"/><stop offset="0.50" stop-color="#fbfbfb"/><stop offset="0.60" stop-color="#fcfcfc"/><stop offset="0.70" stop-color="#fdfdfd"/><stop offset="0.80" stop-color="#fefefe"/><stop offset="0.90" stop-color="#fefefe"/><stop offset="1.00" stop-color="#dbdbdb"/></linearGradient><linearGradient id="bm157" gradientUnits="userSpaceOnUse" x1="2853.3" y1="645.4" x2="2617.5" y2="801.0"><stop offset="0.00" stop-color="#e5e5e5"/><stop offset="0.10" stop-color="#e5e5e5"/><stop offset="0.20" stop-color="#e7e7e7"/><stop offset="0.30" stop-color="#e9e9e9"/><stop offset="0.40" stop-color="#ececec"/><stop offset="0.50" stop-color="#f0f0f0"/><stop offset="0.60" stop-color="#f4f4f4"/><stop offset="0.70" stop-color="#f8f8f8"/><stop offset="0.80" stop-color="#fcfcfc"/><stop offset="0.90" stop-color="#fefefe"/><stop offset="1.00" stop-color="#f0f0f0"/></linearGradient><linearGradient id="bm158" gradientUnits="userSpaceOnUse" x1="2853.3" y1="645.2" x2="2621.1" y2="798.4"><stop offset="0.00" stop-color="#d2d2d2"/><stop offset="0.10" stop-color="#d3d3d3"/><stop offset="0.20" stop-color="#d6d6d6"/><stop offset="0.30" stop-color="#dadada"/><stop offset="0.40" stop-color="#dfdfdf"/><stop offset="0.50" stop-color="#e6e6e6"/><stop offset="0.60" stop-color="#ededed"/><stop offset="0.70" stop-color="#f3f3f3"/><stop offset="0.80" stop-color="#f9f9f9"/><stop offset="0.90" stop-color="#fdfdfd"/><stop offset="1.00" stop-color="#fafafa"/></linearGradient><linearGradient id="biw" gradientUnits="userSpaceOnUse" x1="1707.4" y1="0" x2="2583.6" y2="0"><stop offset="0" stop-color="#a03f12"/><stop offset=".25" stop-color="#b04816"/><stop offset=".5" stop-color="#d55a1f"/><stop offset=".75" stop-color="#f06a25"/><stop offset="1" stop-color="#ff7829"/></linearGradient></defs><path d="M1531.3 120.4L2535.6 64.1M1530.0 168.3L2534.3 111.9M1528.7 216.1L2533.0 159.8M1531.3 120.4L1528.7 216.1M2033.5 92.3L2030.9 188.0M2535.6 64.1L2533.0 159.8M2593.1 77.0L2903.1 546.9M2591.8 124.8L2901.8 594.7M2590.5 172.7L2900.5 642.6M2659.0 176.9L2655.6 301.3M2781.1 361.9L2777.7 486.3M2903.1 546.9L2899.7 671.3M1575.2 789.2L2850.8 716.9L2808.8 652.6M2349 745.1L2309.4 685.8M1845.7 773.7L1807.8 716.8M1537.7 308L1585 385M1528.9 408.5L1576 406.8M1528.9 600.8L1543.7 600.3" stroke="#bdbdbd" stroke-width="1.6" fill="none"/>
<g font-size="14.5" fill="#333" stroke="#333" stroke-width=".3" letter-spacing=".5"><text x="2666" y="168.5">-10</text><text x="2780" y="274.2">mm</text><text x="2788.5" y="352.5">-5</text><text x="2912.6" y="534.9">0</text><text x="2916.3" y="553.5">1</text><text x="2913.8" y="602.9">0.5</text><text x="2949.7" y="623.9">mm</text><text x="2913.8" y="649.9">0</text><text x="2850.8" y="740.5">0</text><text x="2347.3" y="769.5">5</text><text x="1842.3" y="798.8">10</text><text x="2209.4" y="805.0">mm</text></g>
<rect x="1586.4" y="113" width="75" height="102" fill="#fff"/>
<text x="1604" y="194.7" font-size="68" fill="#000">b</text>
<g clip-path="url(#bmc)"><g filter="url(#bblur)">
<rect x="1700" y="200" width="1200" height="560" fill="#fff"/>
<path d="M1763.7 740.4A1147.88 413.63 -177.92 0 1 2672.3 230.8L2673.4 233.2A1141.16 411.20 -177.92 0 0 1770.1 739.8Z" fill="url(#bm0)"/>
<path d="M1768.7 740.0A1142.71 411.76 -177.92 0 1 2673.1 232.7L2674.2 235.1A1135.99 409.34 -177.92 0 0 1775.0 739.4Z" fill="url(#bm1)"/>
<path d="M1773.6 739.5A1137.54 409.90 -177.92 0 1 2673.9 234.5L2675.0 237.0A1130.82 407.48 -177.92 0 0 1779.9 739.0Z" fill="url(#bm2)"/>
<path d="M1778.5 739.1A1132.37 408.04 -177.92 0 1 2674.7 236.4L2675.8 238.8A1125.65 405.61 -177.92 0 0 1784.8 738.6Z" fill="url(#bm3)"/>
<path d="M1783.4 738.7A1127.20 406.17 -177.92 0 1 2675.6 238.3L2676.6 240.7A1120.48 403.75 -177.92 0 0 1789.8 738.1Z" fill="url(#bm4)"/>
<path d="M1788.3 738.3A1122.03 404.31 -177.92 0 1 2676.4 240.1L2677.4 242.6A1115.31 401.89 -177.92 0 0 1794.7 737.8Z" fill="url(#bm5)"/>
<path d="M1793.2 737.9A1116.86 402.45 -177.92 0 1 2677.2 242.0L2678.2 244.7A1110.14 400.02 -177.92 0 0 1799.6 737.6Z" fill="url(#bm6)"/>
<path d="M1798.1 737.6A1111.69 400.58 -177.92 0 1 2678.0 244.1L2679.1 247.0A1104.97 398.16 -177.92 0 0 1804.5 737.5Z" fill="url(#bm7)"/>
<path d="M1803.0 737.5A1106.52 398.72 -177.92 0 1 2678.8 246.3L2679.9 249.4A1099.80 396.30 -177.92 0 0 1809.4 737.7Z" fill="url(#bm8)"/>
<path d="M1807.9 737.6A1101.35 396.86 -177.92 0 1 2679.6 248.7L2680.6 252.0A1094.63 394.43 -177.92 0 0 1814.2 737.9Z" fill="url(#bm9)"/>
<path d="M1812.8 737.8A1096.18 394.99 -177.92 0 1 2680.4 251.2L2681.4 254.7A1089.46 392.57 -177.92 0 0 1819.1 738.4Z" fill="url(#bm10)"/>
<path d="M1817.7 738.2A1091.01 393.13 -177.92 0 1 2681.2 253.9L2682.2 257.6A1084.29 390.71 -177.92 0 0 1824.0 738.9Z" fill="url(#bm11)"/>
<path d="M1822.5 738.7A1085.84 391.27 -177.92 0 1 2682.0 256.7L2683.0 260.5A1079.11 388.84 -177.92 0 0 1828.9 739.6Z" fill="url(#bm12)"/>
<path d="M1827.4 739.4A1080.67 389.40 -177.92 0 1 2682.8 259.6L2683.8 263.6A1073.94 386.98 -177.92 0 0 1833.8 740.4Z" fill="url(#bm13)"/>
<path d="M1832.3 740.1A1075.50 387.54 -177.92 0 1 2683.6 262.7L2684.6 266.8A1068.77 385.12 -177.92 0 0 1838.6 741.2Z" fill="url(#bm14)"/>
<path d="M1837.2 741.0A1070.32 385.68 -177.92 0 1 2684.3 265.8L2685.4 270.0A1063.60 383.26 -177.92 0 0 1843.5 742.2Z" fill="url(#bm15)"/>
<path d="M1842.0 741.9A1065.15 383.81 -177.92 0 1 2685.1 269.0L2686.1 273.2A1058.43 381.39 -177.92 0 0 1848.4 743.1Z" fill="url(#bm16)"/>
<path d="M1846.9 742.8A1059.98 381.95 -177.92 0 1 2685.9 272.3L2686.9 276.5A1053.26 379.53 -177.92 0 0 1853.2 744.1Z" fill="url(#bm17)"/>
<path d="M1851.8 743.8A1054.81 380.09 -177.92 0 1 2686.7 275.5L2687.7 279.8A1048.09 377.67 -177.92 0 0 1858.1 745.1Z" fill="url(#bm18)"/>
<path d="M1856.7 744.8A1049.64 378.22 -177.92 0 1 2687.5 278.8L2688.5 283.1A1042.92 375.80 -177.92 0 0 1863.0 746.1Z" fill="url(#bm19)"/>
<path d="M1861.5 745.8A1044.47 376.36 -177.92 0 1 2688.2 282.1L2689.2 286.3A1037.75 373.94 -177.92 0 0 1867.9 747.0Z" fill="url(#bm20)"/>
<path d="M1866.4 746.7A1039.30 374.50 -177.92 0 1 2689.0 285.3L2690.0 289.4A1032.58 372.08 -177.92 0 0 1872.7 747.8Z" fill="url(#bm21)"/>
<path d="M1871.3 747.6A1034.13 372.64 -177.92 0 1 2689.8 288.5L2690.8 292.5A1027.41 370.21 -177.92 0 0 1877.6 748.6Z" fill="url(#bm22)"/>
<path d="M1876.1 748.4A1028.96 370.77 -177.92 0 1 2690.6 291.6L2691.6 295.4A1022.24 368.35 -177.92 0 0 1882.5 749.3Z" fill="url(#bm23)"/>
<path d="M1881.0 749.1A1023.79 368.91 -177.92 0 1 2691.4 294.6L2692.4 298.3A1017.07 366.49 -177.92 0 0 1887.4 749.8Z" fill="url(#bm24)"/>
<path d="M1885.9 749.7A1018.62 367.05 -177.92 0 1 2692.1 297.4L2693.2 301.0A1011.90 364.62 -177.92 0 0 1892.3 750.2Z" fill="url(#bm25)"/>
<path d="M1890.8 750.1A1013.45 365.18 -177.92 0 1 2692.9 300.2L2694.0 303.6A1006.73 362.76 -177.92 0 0 1897.1 750.5Z" fill="url(#bm26)"/>
<path d="M1895.7 750.4A1008.28 363.32 -177.92 0 1 2693.7 302.8L2694.8 306.0A1001.55 360.90 -177.92 0 0 1902.0 750.6Z" fill="url(#bm27)"/>
<path d="M1900.6 750.6A1003.11 361.46 -177.92 0 1 2694.5 305.3L2695.6 308.2A996.38 359.03 -177.92 0 0 1906.9 750.6Z" fill="url(#bm28)"/>
<path d="M1905.5 750.6A997.94 359.59 -177.92 0 1 2695.3 307.6L2696.4 310.3A991.21 357.17 -177.92 0 0 1911.8 750.3Z" fill="url(#bm29)"/>
<path d="M1910.4 750.4A992.76 357.73 -177.92 0 1 2696.1 309.7L2697.2 312.2A986.04 355.31 -177.92 0 0 1916.7 749.9Z" fill="url(#bm30)"/>
<path d="M1915.3 750.1A987.59 355.87 -177.92 0 1 2697.0 311.6L2698.0 313.9A980.87 353.44 -177.92 0 0 1921.7 749.4Z" fill="url(#bm31)"/>
<path d="M1920.2 749.6A982.42 354.00 -177.92 0 1 2697.8 313.4L2698.8 315.5A975.70 351.58 -177.92 0 0 1926.6 748.6Z" fill="url(#bm32)"/>
<path d="M1925.1 748.9A977.25 352.14 -177.92 0 1 2698.6 315.0L2699.7 316.9A970.53 349.72 -177.92 0 0 1931.5 747.7Z" fill="url(#bm33)"/>
<path d="M1930.0 748.0A972.08 350.28 -177.92 0 1 2699.4 316.5L2700.5 318.1A965.36 347.86 -177.92 0 0 1936.4 746.7Z" fill="url(#bm34)"/>
<path d="M1934.9 747.0A966.91 348.41 -177.92 0 1 2700.3 317.7L2701.3 319.2A960.19 345.99 -177.92 0 0 1941.3 745.4Z" fill="url(#bm35)"/>
<path d="M1939.9 745.8A961.74 346.55 -177.92 0 1 2701.1 318.9L2702.2 320.1A955.02 344.13 -177.92 0 0 1946.3 744.1Z" fill="url(#bm36)"/>
<path d="M1944.8 744.5A956.57 344.69 -177.92 0 1 2701.9 319.8L2703.0 320.9A949.85 342.27 -177.92 0 0 1951.2 742.6Z" fill="url(#bm37)"/>
<path d="M1949.7 743.1A951.40 342.82 -177.92 0 1 2702.8 320.7L2703.9 321.6A944.68 340.40 -177.92 0 0 1956.2 741.0Z" fill="url(#bm38)"/>
<path d="M1954.7 741.5A946.23 340.96 -177.92 0 1 2703.6 321.4L2704.7 322.3A939.51 338.54 -177.92 0 0 1961.1 739.3Z" fill="url(#bm39)"/>
<path d="M1959.6 739.9A941.06 339.10 -177.92 0 1 2704.5 322.1L2705.6 322.8A934.34 336.68 -177.92 0 0 1966.0 737.6Z" fill="url(#bm40)"/>
<path d="M1964.6 738.1A935.89 337.23 -177.92 0 1 2705.3 322.6L2706.4 323.3A929.17 334.81 -177.92 0 0 1971.0 735.8Z" fill="url(#bm41)"/>
<path d="M1969.5 736.3A930.72 335.37 -177.92 0 1 2706.2 323.2L2707.3 323.8A924.00 332.95 -177.92 0 0 1975.9 734.0Z" fill="url(#bm42)"/>
<path d="M1974.4 734.5A925.55 333.51 -177.92 0 1 2707.0 323.6L2708.1 324.2A918.82 331.09 -177.92 0 0 1980.9 732.1Z" fill="url(#bm43)"/>
<path d="M1979.4 732.7A920.38 331.65 -177.92 0 1 2707.9 324.1L2709.0 324.7A913.65 329.22 -177.92 0 0 1985.8 730.3Z" fill="url(#bm44)"/>
<path d="M1984.3 730.8A915.21 329.78 -177.92 0 1 2708.7 324.5L2709.8 325.2A908.48 327.36 -177.92 0 0 1990.8 728.5Z" fill="url(#bm45)"/>
<path d="M1989.3 729.0A910.03 327.92 -177.92 0 1 2709.6 325.0L2710.7 325.7A903.31 325.50 -177.92 0 0 1995.7 726.7Z" fill="url(#bm46)"/>
<path d="M1994.2 727.3A904.86 326.06 -177.92 0 1 2710.4 325.6L2711.5 326.3A898.14 323.63 -177.92 0 0 2000.7 725.1Z" fill="url(#bm47)"/>
<path d="M1999.2 725.6A899.69 324.19 -177.92 0 1 2711.3 326.2L2712.4 327.1A892.97 321.77 -177.92 0 0 2005.6 723.5Z" fill="url(#bm48)"/>
<path d="M2004.1 724.0A894.52 322.33 -177.92 0 1 2712.1 326.8L2713.2 327.9A887.80 319.91 -177.92 0 0 2010.5 722.0Z" fill="url(#bm49)"/>
<path d="M2009.0 722.5A889.35 320.47 -177.92 0 1 2713.0 327.6L2714.1 328.8A882.63 318.04 -177.92 0 0 2015.5 720.7Z" fill="url(#bm50)"/>
<path d="M2014.0 721.1A884.18 318.60 -177.92 0 1 2713.8 328.5L2714.9 329.9A877.46 316.18 -177.92 0 0 2020.4 719.5Z" fill="url(#bm51)"/>
<path d="M2018.9 719.8A879.01 316.74 -177.92 0 1 2714.7 329.6L2715.7 331.2A872.29 314.32 -177.92 0 0 2025.3 718.4Z" fill="url(#bm52)"/>
<path d="M2023.8 718.7A873.84 314.88 -177.92 0 1 2715.5 330.8L2716.6 332.6A867.12 312.45 -177.92 0 0 2030.2 717.5Z" fill="url(#bm53)"/>
<path d="M2028.8 717.8A868.67 313.01 -177.92 0 1 2716.3 332.1L2717.4 334.2A861.95 310.59 -177.92 0 0 2035.1 716.8Z" fill="url(#bm54)"/>
<path d="M2033.7 717.0A863.50 311.15 -177.92 0 1 2717.1 333.7L2718.2 335.9A856.78 308.73 -177.92 0 0 2040.1 716.3Z" fill="url(#bm55)"/>
<path d="M2038.6 716.4A858.33 309.29 -177.92 0 1 2718.0 335.4L2719.0 337.8A851.61 306.87 -177.92 0 0 2045.0 715.9Z" fill="url(#bm56)"/>
<path d="M2043.5 716.0A853.16 307.42 -177.92 0 1 2718.8 337.2L2719.8 339.9A846.44 305.00 -177.92 0 0 2049.9 715.7Z" fill="url(#bm57)"/>
<path d="M2048.4 715.7A847.99 305.56 -177.92 0 1 2719.6 339.3L2720.6 342.2A841.26 303.14 -177.92 0 0 2054.8 715.6Z" fill="url(#bm58)"/>
<path d="M2053.3 715.6A842.82 303.70 -177.92 0 1 2720.4 341.5L2721.4 344.6A836.09 301.28 -177.92 0 0 2059.7 715.8Z" fill="url(#bm59)"/>
<path d="M2058.2 715.7A837.65 301.83 -177.92 0 1 2721.2 343.9L2722.2 347.2A830.92 299.41 -177.92 0 0 2064.5 716.1Z" fill="url(#bm60)"/>
<path d="M2063.1 716.0A832.47 299.97 -177.92 0 1 2722.0 346.4L2723.0 349.9A825.75 297.55 -177.92 0 0 2069.4 716.5Z" fill="url(#bm61)"/>
<path d="M2068.0 716.4A827.30 298.11 -177.92 0 1 2722.8 349.1L2723.8 352.8A820.58 295.69 -177.92 0 0 2074.3 717.1Z" fill="url(#bm62)"/>
<path d="M2072.8 716.9A822.13 296.25 -177.92 0 1 2723.6 351.9L2724.6 355.7A815.41 293.82 -177.92 0 0 2079.2 717.7Z" fill="url(#bm63)"/>
<path d="M2077.7 717.5A816.96 294.38 -177.92 0 1 2724.4 354.8L2725.4 358.8A810.24 291.96 -177.92 0 0 2084.1 718.5Z" fill="url(#bm64)"/>
<path d="M2082.6 718.3A811.79 292.52 -177.92 0 1 2725.1 357.9L2726.2 362.0A805.07 290.10 -177.92 0 0 2088.9 719.4Z" fill="url(#bm65)"/>
<path d="M2087.5 719.1A806.62 290.66 -177.92 0 1 2725.9 361.0L2726.9 365.2A799.90 288.23 -177.92 0 0 2093.8 720.3Z" fill="url(#bm66)"/>
<path d="M2092.3 720.0A801.45 288.79 -177.92 0 1 2726.7 364.2L2727.7 368.4A794.73 286.37 -177.92 0 0 2098.7 721.3Z" fill="url(#bm67)"/>
<path d="M2097.2 721.0A796.28 286.93 -177.92 0 1 2727.5 367.5L2728.5 371.7A789.56 284.51 -177.92 0 0 2103.5 722.2Z" fill="url(#bm68)"/>
<path d="M2102.1 721.9A791.11 285.07 -177.92 0 1 2728.3 370.7L2729.3 375.0A784.39 282.64 -177.92 0 0 2108.4 723.2Z" fill="url(#bm69)"/>
<path d="M2107.0 722.9A785.94 283.20 -177.92 0 1 2729.0 374.0L2730.0 378.3A779.22 280.78 -177.92 0 0 2113.3 724.2Z" fill="url(#bm70)"/>
<path d="M2111.8 723.9A780.77 281.34 -177.92 0 1 2729.8 377.3L2730.8 381.5A774.05 278.92 -177.92 0 0 2118.2 725.1Z" fill="url(#bm71)"/>
<path d="M2116.7 724.8A775.60 279.48 -177.92 0 1 2730.6 380.5L2731.6 384.6A768.88 277.05 -177.92 0 0 2123.0 725.9Z" fill="url(#bm72)"/>
<path d="M2121.6 725.7A770.43 277.61 -177.92 0 1 2731.4 383.7L2732.4 387.7A763.71 275.19 -177.92 0 0 2127.9 726.7Z" fill="url(#bm73)"/>
<path d="M2126.4 726.5A765.26 275.75 -177.92 0 1 2732.2 386.8L2733.2 390.6A758.53 273.33 -177.92 0 0 2132.8 727.4Z" fill="url(#bm74)"/>
<path d="M2131.3 727.2A760.09 273.89 -177.92 0 1 2732.9 389.8L2734.0 393.5A753.36 271.46 -177.92 0 0 2137.7 727.9Z" fill="url(#bm75)"/>
<path d="M2136.2 727.8A754.91 272.02 -177.92 0 1 2733.7 392.6L2734.8 396.2A748.19 269.60 -177.92 0 0 2142.6 728.3Z" fill="url(#bm76)"/>
<path d="M2141.1 728.2A749.74 270.16 -177.92 0 1 2734.5 395.4L2735.5 398.8A743.02 267.74 -177.92 0 0 2147.4 728.6Z" fill="url(#bm77)"/>
<path d="M2146.0 728.6A744.57 268.30 -177.92 0 1 2735.3 398.0L2736.3 401.2A737.85 265.88 -177.92 0 0 2152.3 728.7Z" fill="url(#bm78)"/>
<path d="M2150.9 728.7A739.40 266.43 -177.92 0 1 2736.1 400.5L2737.2 403.4A732.68 264.01 -177.92 0 0 2157.2 728.7Z" fill="url(#bm79)"/>
<path d="M2155.8 728.7A734.23 264.57 -177.92 0 1 2736.9 402.8L2738.0 405.5A727.51 262.15 -177.92 0 0 2162.1 728.5Z" fill="url(#bm80)"/>
<path d="M2160.7 728.5A729.06 262.71 -177.92 0 1 2737.7 404.9L2738.8 407.4A722.34 260.29 -177.92 0 0 2167.0 728.1Z" fill="url(#bm81)"/>
<path d="M2165.6 728.2A723.89 260.84 -177.92 0 1 2738.5 406.8L2739.6 409.1A717.17 258.42 -177.92 0 0 2172.0 727.5Z" fill="url(#bm82)"/>
<path d="M2170.5 727.7A718.72 258.98 -177.92 0 1 2739.4 408.6L2740.4 410.7A712.00 256.56 -177.92 0 0 2176.9 726.8Z" fill="url(#bm83)"/>
<path d="M2175.4 727.0A713.55 257.12 -177.92 0 1 2740.2 410.2L2741.2 412.1A706.83 254.70 -177.92 0 0 2181.8 725.9Z" fill="url(#bm84)"/>
<path d="M2180.3 726.1A708.38 255.26 -177.92 0 1 2741.0 411.7L2742.1 413.3A701.66 252.83 -177.92 0 0 2186.7 724.8Z" fill="url(#bm85)"/>
<path d="M2185.2 725.1A703.21 253.39 -177.92 0 1 2741.8 412.9L2742.9 414.4A696.49 250.97 -177.92 0 0 2191.6 723.6Z" fill="url(#bm86)"/>
<path d="M2190.2 724.0A698.04 251.53 -177.92 0 1 2742.7 414.1L2743.8 415.3A691.32 249.11 -177.92 0 0 2196.6 722.2Z" fill="url(#bm87)"/>
<path d="M2195.1 722.6A692.87 249.67 -177.92 0 1 2743.5 415.0L2744.6 416.1A686.15 247.24 -177.92 0 0 2201.5 720.7Z" fill="url(#bm88)"/>
<path d="M2200.0 721.2A687.70 247.80 -177.92 0 1 2744.3 415.9L2745.4 416.8A680.97 245.38 -177.92 0 0 2206.5 719.1Z" fill="url(#bm89)"/>
<path d="M2205.0 719.6A682.53 245.94 -177.92 0 1 2745.2 416.6L2746.3 417.5A675.80 243.52 -177.92 0 0 2211.4 717.5Z" fill="url(#bm90)"/>
<path d="M2209.9 718.0A677.36 244.08 -177.92 0 1 2746.0 417.3L2747.2 418.0A670.63 241.65 -177.92 0 0 2216.3 715.7Z" fill="url(#bm91)"/>
<path d="M2214.9 716.3A672.18 242.21 -177.92 0 1 2746.9 417.8L2748.0 418.5A665.46 239.79 -177.92 0 0 2221.3 713.9Z" fill="url(#bm92)"/>
<path d="M2219.8 714.5A667.01 240.35 -177.92 0 1 2747.7 418.3L2748.9 419.0A660.29 237.93 -177.92 0 0 2226.2 712.1Z" fill="url(#bm93)"/>
<path d="M2224.7 712.6A661.84 238.49 -177.92 0 1 2748.6 418.8L2749.7 419.4A655.12 236.06 -177.92 0 0 2231.2 710.2Z" fill="url(#bm94)"/>
<path d="M2229.7 710.8A656.67 236.62 -177.92 0 1 2749.5 419.3L2750.6 419.9A649.95 234.20 -177.92 0 0 2236.1 708.4Z" fill="url(#bm95)"/>
<path d="M2234.6 709.0A651.50 234.76 -177.92 0 1 2750.3 419.7L2751.4 420.4A644.78 232.34 -177.92 0 0 2241.1 706.6Z" fill="url(#bm96)"/>
<path d="M2239.6 707.1A646.33 232.90 -177.92 0 1 2751.2 420.2L2752.3 420.9A639.61 230.47 -177.92 0 0 2246.0 704.9Z" fill="url(#bm97)"/>
<path d="M2244.5 705.4A641.16 231.03 -177.92 0 1 2752.0 420.7L2753.1 421.5A634.44 228.61 -177.92 0 0 2251.0 703.2Z" fill="url(#bm98)"/>
<path d="M2249.5 703.7A635.99 229.17 -177.92 0 1 2752.9 421.3L2754.0 422.3A629.27 226.75 -177.92 0 0 2255.9 701.6Z" fill="url(#bm99)"/>
<path d="M2254.4 702.1A630.82 227.31 -177.92 0 1 2753.7 422.0L2754.8 423.1A624.10 224.89 -177.92 0 0 2260.8 700.2Z" fill="url(#bm100)"/>
<path d="M2259.3 700.6A625.65 225.44 -177.92 0 1 2754.6 422.8L2755.6 424.0A618.93 223.02 -177.92 0 0 2265.8 698.8Z" fill="url(#bm101)"/>
<path d="M2264.3 699.2A620.48 223.58 -177.92 0 1 2755.4 423.7L2756.5 425.1A613.76 221.16 -177.92 0 0 2270.7 697.6Z" fill="url(#bm102)"/>
<path d="M2269.2 698.0A615.31 221.72 -177.92 0 1 2756.2 424.8L2757.3 426.4A608.59 219.30 -177.92 0 0 2275.6 696.6Z" fill="url(#bm103)"/>
<path d="M2274.1 696.9A610.14 219.85 -177.92 0 1 2757.1 426.0L2758.1 427.8A603.41 217.43 -177.92 0 0 2280.5 695.7Z" fill="url(#bm104)"/>
<path d="M2279.1 695.9A604.97 217.99 -177.92 0 1 2757.9 427.3L2759.0 429.4A598.24 215.57 -177.92 0 0 2285.5 694.9Z" fill="url(#bm105)"/>
<path d="M2284.0 695.1A599.80 216.13 -177.92 0 1 2758.7 428.9L2759.8 431.1A593.07 213.71 -177.92 0 0 2290.4 694.4Z" fill="url(#bm106)"/>
<path d="M2288.9 694.5A594.62 214.27 -177.92 0 1 2759.5 430.6L2760.6 433.0A587.90 211.84 -177.92 0 0 2295.3 694.0Z" fill="url(#bm107)"/>
<path d="M2293.8 694.1A589.45 212.40 -177.92 0 1 2760.4 432.4L2761.4 435.1A582.73 209.98 -177.92 0 0 2300.2 693.8Z" fill="url(#bm108)"/>
<path d="M2298.7 693.9A584.28 210.54 -177.92 0 1 2761.2 434.5L2762.2 437.4A577.56 208.12 -177.92 0 0 2305.1 693.8Z" fill="url(#bm109)"/>
<path d="M2303.6 693.8A579.11 208.68 -177.92 0 1 2762.0 436.7L2763.0 439.8A572.39 206.25 -177.92 0 0 2310.0 693.9Z" fill="url(#bm110)"/>
<path d="M2308.5 693.9A573.94 206.81 -177.92 0 1 2762.8 439.1L2763.8 442.4A567.22 204.39 -177.92 0 0 2314.8 694.2Z" fill="url(#bm111)"/>
<path d="M2313.4 694.1A568.77 204.95 -177.92 0 1 2763.6 441.6L2764.6 445.1A562.05 202.53 -177.92 0 0 2319.7 694.6Z" fill="url(#bm112)"/>
<path d="M2318.3 694.5A563.60 203.09 -177.92 0 1 2764.4 444.3L2765.4 448.0A556.88 200.66 -177.92 0 0 2324.6 695.2Z" fill="url(#bm113)"/>
<path d="M2323.2 695.0A558.43 201.22 -177.92 0 1 2765.2 447.1L2766.2 450.9A551.71 198.80 -177.92 0 0 2329.5 695.9Z" fill="url(#bm114)"/>
<path d="M2328.0 695.6A553.26 199.36 -177.92 0 1 2765.9 450.0L2767.0 454.0A546.54 196.94 -177.92 0 0 2334.4 696.6Z" fill="url(#bm115)"/>
<path d="M2332.9 696.4A548.09 197.50 -177.92 0 1 2766.7 453.1L2767.7 457.2A541.37 195.07 -177.92 0 0 2339.2 697.5Z" fill="url(#bm116)"/>
<path d="M2337.8 697.2A542.92 195.63 -177.92 0 1 2767.5 456.2L2768.5 460.4A536.20 193.21 -177.92 0 0 2344.1 698.4Z" fill="url(#bm117)"/>
<path d="M2342.7 698.1A537.75 193.77 -177.92 0 1 2768.3 459.4L2769.3 463.6A531.03 191.35 -177.92 0 0 2349.0 699.4Z" fill="url(#bm118)"/>
<path d="M2347.5 699.1A532.58 191.91 -177.92 0 1 2769.1 462.7L2770.1 466.9A525.86 189.49 -177.92 0 0 2353.9 700.4Z" fill="url(#bm119)"/>
<path d="M2352.4 700.1A527.41 190.04 -177.92 0 1 2769.8 465.9L2770.8 470.2A520.68 187.62 -177.92 0 0 2358.7 701.3Z" fill="url(#bm120)"/>
<path d="M2357.3 701.1A522.24 188.18 -177.92 0 1 2770.6 469.2L2771.6 473.5A515.51 185.76 -177.92 0 0 2363.6 702.3Z" fill="url(#bm121)"/>
<path d="M2362.1 702.0A517.07 186.32 -177.92 0 1 2771.4 472.5L2772.4 476.7A510.34 183.90 -177.92 0 0 2368.5 703.2Z" fill="url(#bm122)"/>
<path d="M2367.0 703.0A511.89 184.45 -177.92 0 1 2772.2 475.7L2773.2 479.8A505.17 182.03 -177.92 0 0 2373.3 704.1Z" fill="url(#bm123)"/>
<path d="M2371.9 703.8A506.72 182.59 -177.92 0 1 2772.9 478.9L2774.0 482.9A500.00 180.17 -177.92 0 0 2378.2 704.8Z" fill="url(#bm124)"/>
<path d="M2376.7 704.6A501.55 180.73 -177.92 0 1 2773.7 482.0L2774.8 485.8A494.83 178.31 -177.92 0 0 2383.1 705.5Z" fill="url(#bm125)"/>
<path d="M2381.6 705.3A496.38 178.86 -177.92 0 1 2774.5 485.0L2775.5 488.7A489.66 176.44 -177.92 0 0 2388.0 706.1Z" fill="url(#bm126)"/>
<path d="M2386.5 705.9A491.21 177.00 -177.92 0 1 2775.3 487.8L2776.3 491.4A484.49 174.58 -177.92 0 0 2392.9 706.5Z" fill="url(#bm127)"/>
<path d="M2391.4 706.4A486.04 175.14 -177.92 0 1 2776.1 490.6L2777.1 494.0A479.32 172.72 -177.92 0 0 2397.7 706.7Z" fill="url(#bm128)"/>
<path d="M2396.3 706.7A480.87 173.28 -177.92 0 1 2776.9 493.2L2777.9 496.4A474.15 170.85 -177.92 0 0 2402.6 706.9Z" fill="url(#bm129)"/>
<path d="M2401.2 706.8A475.70 171.41 -177.92 0 1 2777.7 495.7L2778.7 498.6A468.98 168.99 -177.92 0 0 2407.5 706.8Z" fill="url(#bm130)"/>
<path d="M2406.1 706.8A470.53 169.55 -177.92 0 1 2778.5 498.0L2779.5 500.7A463.81 167.13 -177.92 0 0 2412.4 706.6Z" fill="url(#bm131)"/>
<path d="M2411.0 706.7A465.36 167.69 -177.92 0 1 2779.3 500.1L2780.4 502.6A458.64 165.26 -177.92 0 0 2417.3 706.2Z" fill="url(#bm132)"/>
<path d="M2415.9 706.3A460.19 165.82 -177.92 0 1 2780.1 502.0L2781.2 504.3A453.47 163.40 -177.92 0 0 2422.3 705.6Z" fill="url(#bm133)"/>
<path d="M2420.8 705.8A455.02 163.96 -177.92 0 1 2780.9 503.8L2782.0 505.9A448.30 161.54 -177.92 0 0 2427.2 704.9Z" fill="url(#bm134)"/>
<path d="M2425.7 705.1A449.85 162.10 -177.92 0 1 2781.8 505.4L2782.8 507.3A443.12 159.67 -177.92 0 0 2432.1 704.0Z" fill="url(#bm135)"/>
<path d="M2430.6 704.3A444.68 160.23 -177.92 0 1 2782.6 506.9L2783.7 508.5A437.95 157.81 -177.92 0 0 2437.0 702.9Z" fill="url(#bm136)"/>
<path d="M2435.5 703.3A439.51 158.37 -177.92 0 1 2783.4 508.1L2784.5 509.6A432.78 155.95 -177.92 0 0 2441.9 701.7Z" fill="url(#bm137)"/>
<path d="M2440.5 702.1A434.33 156.51 -177.92 0 1 2784.2 509.3L2785.3 510.5A427.61 154.08 -177.92 0 0 2446.9 700.3Z" fill="url(#bm138)"/>
<path d="M2445.4 700.8A429.16 154.64 -177.92 0 1 2785.1 510.2L2786.2 511.3A422.44 152.22 -177.92 0 0 2451.8 698.9Z" fill="url(#bm139)"/>
<path d="M2450.3 699.3A423.99 152.78 -177.92 0 1 2785.9 511.1L2787.0 512.0A417.27 150.36 -177.92 0 0 2456.8 697.3Z" fill="url(#bm140)"/>
<path d="M2455.3 697.8A418.82 150.92 -177.92 0 1 2786.8 511.8L2787.9 512.7A412.10 148.50 -177.92 0 0 2461.7 695.6Z" fill="url(#bm141)"/>
<path d="M2460.2 696.1A413.65 149.05 -177.92 0 1 2787.6 512.5L2788.7 513.2A406.93 146.63 -177.92 0 0 2466.6 693.8Z" fill="url(#bm142)"/>
<path d="M2465.2 694.4A408.48 147.19 -177.92 0 1 2788.5 513.0L2789.6 513.7A401.76 144.77 -177.92 0 0 2471.6 692.0Z" fill="url(#bm143)"/>
<path d="M2470.1 692.6A403.31 145.33 -177.92 0 1 2789.3 513.5L2790.4 514.2A396.59 142.91 -177.92 0 0 2476.5 690.2Z" fill="url(#bm144)"/>
<path d="M2475.1 690.8A398.14 143.46 -177.92 0 1 2790.2 514.0L2791.3 514.6A391.42 141.04 -177.92 0 0 2481.5 688.4Z" fill="url(#bm145)"/>
<path d="M2480.0 688.9A392.97 141.60 -177.92 0 1 2791.0 514.5L2792.1 515.1A386.25 139.18 -177.92 0 0 2486.4 686.5Z" fill="url(#bm146)"/>
<path d="M2484.9 687.1A387.80 139.74 -177.92 0 1 2791.9 514.9L2793.0 515.6A381.08 137.32 -177.92 0 0 2491.4 684.7Z" fill="url(#bm147)"/>
<path d="M2489.9 685.3A382.63 137.88 -177.92 0 1 2792.7 515.4L2793.8 516.1A375.91 135.45 -177.92 0 0 2496.3 683.0Z" fill="url(#bm148)"/>
<path d="M2494.8 683.5A377.46 136.01 -177.92 0 1 2793.6 515.9L2794.7 516.7A370.74 133.59 -177.92 0 0 2501.3 681.3Z" fill="url(#bm149)"/>
<path d="M2499.8 681.8A372.29 134.15 -177.92 0 1 2794.4 516.5L2795.5 517.5A365.56 131.73 -177.92 0 0 2506.2 679.7Z" fill="url(#bm150)"/>
<path d="M2504.7 680.2A367.12 132.29 -177.92 0 1 2795.3 517.2L2796.4 518.3A360.39 129.86 -177.92 0 0 2511.1 678.3Z" fill="url(#bm151)"/>
<path d="M2509.7 678.7A361.95 130.42 -177.92 0 1 2796.1 518.0L2797.2 519.2A355.22 128.00 -177.92 0 0 2516.1 676.9Z" fill="url(#bm152)"/>
<path d="M2514.6 677.3A356.77 128.56 -177.92 0 1 2797.0 518.9L2798.1 520.3A350.05 126.14 -177.92 0 0 2521.0 675.7Z" fill="url(#bm153)"/>
<path d="M2519.5 676.1A351.60 126.70 -177.92 0 1 2797.8 520.0L2798.9 521.6A344.88 124.27 -177.92 0 0 2525.9 674.7Z" fill="url(#bm154)"/>
<path d="M2524.4 675.0A346.43 124.83 -177.92 0 1 2798.6 521.2L2799.7 523.0A339.71 122.41 -177.92 0 0 2530.8 673.8Z" fill="url(#bm155)"/>
<path d="M2529.4 674.0A341.26 122.97 -177.92 0 1 2799.5 522.5L2800.5 524.6A334.54 120.55 -177.92 0 0 2535.8 673.1Z" fill="url(#bm156)"/>
<path d="M2534.3 673.3A336.09 121.11 -177.92 0 1 2800.3 524.1L2801.4 526.3A329.37 118.68 -177.92 0 0 2540.7 672.5Z" fill="url(#bm157)"/>
<path d="M2539.2 672.7A330.92 119.24 -177.92 0 1 2801.1 525.8L2802.2 528.2A324.20 116.82 -177.92 0 0 2545.6 672.1Z" fill="url(#bm158)"/>
<path d="M2853.3 645.2L2538.7 668.9A328.34 118.31 -177.92 0 1 2791.8 527.0Z" fill="#fff"/>
</g>
<path d="M2534.4 663.1A328.34 118.31 -177.92 0 1 2775.8 527.7" fill="none" stroke="#333" stroke-width="1.4"/>
<path d="M2470.1 678.2A394.26 142.07 -177.92 0 1 2759.9 515.6" fill="none" stroke="#333" stroke-width="1.4"/>
<path d="M2342.1 685.4A526.11 189.58 -177.92 0 1 2728.8 468.4" fill="none" stroke="#333" stroke-width="1.4"/>
<path d="M2214.0 692.6A657.97 237.09 -177.92 0 1 2697.7 421.3" fill="none" stroke="#333" stroke-width="1.4"/>
<path d="M2086.0 699.7A789.82 284.60 -177.92 0 1 2666.6 374.1" fill="none" stroke="#333" stroke-width="1.4"/>
<path d="M1957.9 706.9A921.67 332.11 -177.92 0 1 2635.4 326.9" fill="none" stroke="#333" stroke-width="1.4"/>
<path d="M1829.9 714.1A1053.52 379.62 -177.92 0 1 2604.3 279.7" fill="none" stroke="#333" stroke-width="1.4"/>
<path d="M1766.1 706.2A1119.45 403.38 -177.92 0 1 2589.1 244.7" fill="none" stroke="#333" stroke-width="1.4"/>
</g>
<path d="M2582.3 234.5 2584.6 237.9 2586.9 241.3 2589.1 244.8 2591.4 248.5 2593.6 252.8 2595.8 257.7 2598.0 263.0 2600.2 268.6 2602.4 274.5 2604.6 280.6 2606.8 286.6 2609.0 292.4 2611.2 298.0 2613.4 303.2 2615.6 307.9 2617.9 312.1 2620.1 315.6 2622.4 318.6 2624.7 321.0 2627.0 322.9 2629.3 324.4 2631.6 325.5 2633.9 326.4 2636.3 327.2 2638.6 328.1 2640.9 329.1 2643.2 330.4 2645.5 332.2 2647.8 334.5 2650.1 337.3 2652.3 340.7 2654.6 344.6 2656.8 349.2 2659.0 354.3 2661.2 359.7 2663.4 365.5 2665.6 371.5 2667.8 377.5 2670.0 383.5 2672.2 389.2 2674.4 394.6 2676.6 399.6 2678.8 404.1 2681.1 408.0 2683.3 411.3 2685.6 414.1 2687.9 416.3 2690.2 417.9 2692.5 419.2 2694.8 420.3 2697.2 421.1 2699.5 421.9 2701.8 422.8 2704.1 424.0 2706.5 425.5 2708.8 427.5 2711.0 429.9 2713.3 433.0 2715.6 436.7 2717.8 440.9 2720.0 445.7 2722.2 450.9 2724.4 456.5 2726.6 462.4 2728.8 468.4 2731.0 474.5 2733.2 480.3 2735.4 486.0 2737.6 491.2 2739.8 496.0 2742.0 500.2 2744.3 503.9 2746.6 506.9 2748.8 509.4 2751.1 511.4 2753.5 512.9 2755.8 514.1 2758.1 515.0 2760.4 515.8 2762.8 516.6 2765.1 517.6 2767.4 518.9 2769.7 520.6 2772.0 522.8 2774.3 525.5 2776.5 528.8 2778.8 532.3 2781.0 535.7 2783.3 539.1 2785.6 542.5 2787.8 545.9 2790.1 549.4 2792.3 552.8 2794.6 556.2 2796.9 559.6 2799.1 563.1 2801.4 566.5 2803.6 569.9 2805.9 573.3 2808.1 576.8 2810.4 580.2 2812.7 583.6 2814.9 587.0 2817.2 590.4 2819.4 593.9 2821.7 597.3 2823.9 600.7 2826.2 604.1 2828.5 607.6 2830.7 611.0 2833.0 614.4 2835.2 617.8 2837.5 621.2 2839.8 624.7 2842.0 628.1 2844.3 631.5 2846.5 634.9 2848.8 638.4 2851.0 641.8 2853.3 645.2" fill="none" stroke="#333" stroke-width="1.5"/>
<path d="M2853.3 645.2 2845.3 645.6 2837.4 646.1 2829.4 646.5 2821.4 647.0 2813.4 647.4 2805.5 647.9 2797.5 648.3 2789.5 648.8 2781.6 649.2 2773.6 649.7 2765.6 650.1 2757.6 650.6 2749.7 651.0 2741.7 651.5 2733.7 651.9 2725.8 652.4 2717.8 652.8 2709.8 653.3 2701.8 653.7 2693.9 654.2 2685.9 654.6 2677.9 655.0 2670.0 655.5 2662.0 655.9 2654.0 656.4 2646.0 656.8 2638.1 657.3 2630.1 657.7 2622.1 658.2 2614.2 658.6 2606.2 659.1 2598.2 659.5 2590.2 660.0 2582.3 660.4 2574.3 660.9 2566.3 661.3 2558.3 661.8 2550.4 662.2 2542.4 662.7 2534.4 663.1 2526.5 663.8 2518.5 664.9 2510.5 666.4 2502.5 668.2 2494.4 670.4 2486.4 672.8 2478.4 675.4 2470.4 678.1 2462.3 680.8 2454.3 683.4 2446.3 685.8 2438.2 688.0 2430.2 689.9 2422.2 691.4 2414.2 692.5 2406.3 693.2 2398.3 693.5 2390.3 693.3 2382.4 692.7 2374.5 691.8 2366.5 690.5 2358.6 689.0 2350.7 687.3 2342.8 685.5 2334.9 683.7 2327.0 682.0 2319.1 680.5 2311.1 679.2 2303.2 678.2 2295.3 677.5 2287.3 677.3 2279.3 677.4 2271.4 678.0 2263.4 679.1 2255.4 680.5 2247.4 682.4 2239.4 684.5 2231.3 686.9 2223.3 689.5 2215.3 692.1 2207.2 694.8 2199.2 697.4 2191.2 699.9 2183.2 702.1 2175.1 704.0 2167.1 705.6 2159.2 706.8 2151.2 707.5 2143.2 707.9 2135.2 707.7 2127.3 707.2 2119.4 706.3 2111.4 705.1 2103.5 703.6 2095.6 701.9 2087.7 700.1 2079.8 698.3 2071.9 696.6 2064.0 695.0 2056.0 693.7 2048.1 692.6 2040.2 691.9 2032.2 691.6 2024.2 691.8 2016.3 692.3 2008.3 693.3 2000.3 694.7 1992.3 696.5 1984.3 698.6 1976.2 701.0 1968.2 703.5 1960.2 706.2 1952.2 708.9 1944.1 711.5 1936.1 714.0 1928.1 716.2 1920.1 718.2 1912.1 719.8 1904.1 721.0 1896.1 721.8 1888.1 722.2 1880.2 722.1 1872.2 721.7 1864.3 720.8 1856.3 719.6 1848.4 718.2 1840.5 716.5 1832.6 714.7 1824.7 712.9 1816.8 711.2 1808.9 709.6 1800.9 708.2 1793.0 707.1 1785.1 706.4 1777.1 706.0 1769.2 706.1 1761.2 706.5 1753.2 707.0 1745.2 707.4 1737.3 707.9 1729.3 708.3 1721.3 708.7 1713.4 709.2 1705.4 709.6 1697.4 710.1 1689.4 710.5 1681.5 711.0 1673.5 711.4 1665.5 711.9 1657.6 712.3 1649.6 712.8 1641.6 713.2 1633.6 713.7 1625.7 714.1 1617.7 714.6 1609.7 715.0 1601.8 715.5 1593.8 715.9 1585.8 716.4 1577.8 716.8L1577.7 721.6 1585.7 721.1 1593.7 720.7 1601.6 720.2 1609.6 719.8 1617.6 719.4 1625.5 718.9 1633.5 718.5 1641.5 718.0 1649.5 717.6 1657.4 717.1 1665.4 716.7 1673.4 716.2 1681.3 715.8 1689.3 715.3 1697.3 714.9 1705.3 714.4 1713.2 714.0 1721.2 713.5 1729.2 713.1 1737.1 712.6 1745.1 712.2 1753.1 711.7 1761.1 711.3 1769.0 710.9 1777.0 710.8 1784.9 711.2 1792.9 711.9 1800.8 713.0 1808.7 714.4 1816.6 716.0 1824.6 717.7 1832.5 719.5 1840.4 721.3 1848.3 722.9 1856.2 724.4 1864.1 725.6 1872.1 726.5 1880.0 726.9 1888.0 727.0 1896.0 726.6 1903.9 725.8 1911.9 724.6 1919.9 723.0 1927.9 721.0 1936.0 718.8 1944.0 716.3 1952.0 713.6 1960.1 711.0 1968.1 708.3 1976.1 705.7 1984.1 703.4 1992.2 701.3 2000.2 699.5 2008.2 698.1 2016.1 697.1 2024.1 696.5 2032.1 696.4 2040.0 696.7 2048.0 697.4 2055.9 698.5 2063.8 699.8 2071.7 701.4 2079.7 703.1 2087.6 704.9 2095.5 706.7 2103.4 708.4 2111.3 709.9 2119.2 711.1 2127.2 712.0 2135.1 712.5 2143.1 712.6 2151.0 712.3 2159.0 711.6 2167.0 710.4 2175.0 708.8 2183.0 706.9 2191.0 704.7 2199.1 702.2 2207.1 699.6 2215.1 696.9 2223.2 694.2 2231.2 691.7 2239.2 689.3 2247.2 687.1 2255.2 685.3 2263.2 683.9 2271.2 682.8 2279.2 682.2 2287.2 682.0 2295.1 682.3 2303.1 682.9 2311.0 684.0 2318.9 685.3 2326.8 686.8 2334.8 688.5 2342.7 690.3 2350.6 692.1 2358.5 693.8 2366.4 695.3 2374.3 696.6 2382.3 697.5 2390.2 698.1 2398.2 698.3 2406.1 698.0 2414.1 697.3 2422.1 696.2 2430.1 694.7 2438.1 692.8 2446.1 690.6 2454.2 688.2 2462.2 685.6 2470.2 682.9 2478.3 680.2 2486.3 677.6 2494.3 675.2 2502.3 673.0 2510.3 671.1 2518.3 669.6 2526.3 668.6 2534.3 667.9 2542.3 667.4 2550.2 667.0 2558.2 666.5 2566.2 666.1 2574.2 665.6 2582.1 665.2 2590.1 664.8 2598.1 664.3 2606.0 663.9 2614.0 663.4 2622.0 663.0 2630.0 662.5 2637.9 662.1 2645.9 661.6 2653.9 661.2 2661.9 660.7 2669.8 660.3 2677.8 659.8 2685.8 659.4 2693.7 658.9 2701.7 658.5 2709.7 658.0 2717.7 657.6 2725.6 657.1 2733.6 656.7 2741.6 656.3 2749.5 655.8 2757.5 655.4 2765.5 654.9 2773.5 654.5 2781.4 654.0 2789.4 653.6 2797.4 653.1 2805.3 652.7 2813.3 652.2 2821.3 651.8 2829.3 651.3 2837.2 650.9 2845.2 650.4 2853.2 650.0Z" fill="#d6d2d2" stroke="#4a4a4a" stroke-width="1.4" stroke-linejoin="round"/>
<path d="M1706.3 600.2 1706.9 586.5 1708.7 572.7 1711.9 559.1 1716.2 545.5 1721.9 532.0 1728.8 518.7 1737.0 505.4 1746.4 492.3 1757.0 479.4 1768.8 466.7 1781.9 454.1 1796.2 441.7 1811.6 429.6 1828.2 417.7 1845.9 406.0 1864.8 394.6 1884.7 383.4 1905.7 372.6 1927.8 362.0 1950.9 351.7 1975.1 341.8 2000.2 332.1 2026.2 322.8 2053.2 313.9 2081.0 305.3 2109.7 297.1 2139.3 289.2 2169.6 281.8 2200.7 274.7 2232.5 268.1 2265.1 261.8 2298.2 256.0 2332.0 250.6 2366.4 245.6 2401.3 241.0 2436.7 236.9 2472.6 233.2 2508.9 230.0 2545.6 227.2 2582.6 224.9L2582.3 234.5 2545.3 236.8 2508.6 239.6 2472.3 242.8 2436.5 246.5 2401.0 250.6 2366.1 255.1 2331.8 260.1 2298.0 265.5 2264.8 271.4 2232.3 277.6 2200.5 284.3 2169.4 291.4 2139.0 298.8 2109.5 306.7 2080.8 314.9 2052.9 323.5 2025.9 332.4 1999.9 341.7 1974.8 351.3 1950.7 361.3 1927.6 371.6 1905.5 382.1 1884.4 393.0 1864.5 404.2 1845.6 415.6 1827.9 427.2 1811.3 439.2 1795.9 451.3 1781.6 463.7 1768.6 476.2 1756.7 489.0 1746.1 501.9 1736.7 515.0 1728.5 528.2 1721.6 541.6 1716.0 555.1 1711.6 568.6 1708.5 582.3 1706.6 596.0 1706.1 609.8Z" fill="#0c8cc4" stroke="#0a3a55" stroke-width="1.3"/>
<path d="M1708.7 514.1 1709.2 500.3 1711.1 486.6 1714.2 472.9 1718.6 459.4 1724.2 445.9 1731.1 432.5 1739.3 419.3 1748.7 406.2 1759.3 393.3 1771.2 380.5 1784.2 368.0 1798.5 355.6 1813.9 343.5 1830.5 331.5 1848.2 319.9 1867.1 308.5 1887.0 297.3 1908.1 286.4 1930.2 275.9 1953.3 265.6 1977.4 255.6 2002.5 246.0 2028.5 236.7 2055.5 227.8 2083.4 219.2 2112.1 211.0 2141.6 203.1 2172.0 195.7 2203.1 188.6 2234.9 181.9 2267.4 175.7 2300.6 169.8 2334.4 164.4 2368.7 159.4 2403.6 154.9 2439.1 150.8 2474.9 147.1 2511.2 143.9 2547.9 141.1 2584.9 138.8L2582.6 224.9 2545.6 227.2 2508.9 230.0 2472.6 233.2 2436.7 236.9 2401.3 241.0 2366.4 245.6 2332.0 250.6 2298.2 256.0 2265.1 261.8 2232.5 268.1 2200.7 274.7 2169.6 281.8 2139.3 289.2 2109.7 297.1 2081.0 305.3 2053.2 313.9 2026.2 322.8 2000.2 332.1 1975.1 341.8 1950.9 351.7 1927.8 362.0 1905.7 372.6 1884.7 383.4 1864.8 394.6 1845.9 406.0 1828.2 417.7 1811.6 429.6 1796.2 441.7 1781.9 454.1 1768.8 466.7 1757.0 479.4 1746.4 492.3 1737.0 505.4 1728.8 518.7 1721.9 532.0 1716.2 545.5 1711.9 559.1 1708.7 572.7 1706.9 586.5 1706.3 600.2Z" fill="url(#biw)" stroke="#2a1608" stroke-width="1.3"/>
<path d="M1577.8 716.8 1576.0 714.0 1574.3 711.2 1572.5 708.5 1570.9 705.7 1569.2 702.9 1567.6 700.1 1566.1 697.3 1564.6 694.5 1563.2 691.7 1561.7 688.9 1560.4 686.1 1559.1 683.3 1557.8 680.5 1556.6 677.7 1555.4 674.9 1554.3 672.1 1553.2 669.3 1552.1 666.5 1551.1 663.7 1550.2 660.9 1549.3 658.1 1548.4 655.3 1547.6 652.4 1546.8 649.6 1546.1 646.8 1545.4 644.0 1544.8 641.2 1544.2 638.4 1543.6 635.6 1543.2 632.8 1542.7 630.0 1542.3 627.2 1541.9 624.3 1541.6 621.5 1541.4 618.7 1541.1 615.9 1541.0 613.1 1540.8 610.3 1540.7 607.5 1540.7 604.7L1540.6 609.5 1540.6 612.3 1540.7 615.1 1540.8 617.9 1541.0 620.7 1541.2 623.5 1541.5 626.3 1541.8 629.1 1542.2 631.9 1542.6 634.7 1543.0 637.6 1543.5 640.4 1544.1 643.2 1544.6 646.0 1545.3 648.8 1546.0 651.6 1546.7 654.4 1547.5 657.2 1548.3 660.0 1549.1 662.8 1550.0 665.7 1551.0 668.5 1552.0 671.3 1553.0 674.1 1554.1 676.9 1555.3 679.7 1556.4 682.5 1557.7 685.3 1558.9 688.1 1560.3 690.9 1561.6 693.7 1563.0 696.5 1564.5 699.3 1566.0 702.1 1567.5 704.9 1569.1 707.7 1570.7 710.5 1572.4 713.2 1574.1 716.0 1575.9 718.8 1577.7 721.6Z" fill="#cfcaca" stroke="#444" stroke-width="1.2"/>
<path d="M1578.1 707.2 1576.3 704.5 1574.5 701.7 1572.8 698.9 1571.1 696.1 1569.5 693.3 1567.9 690.5 1566.4 687.7 1564.9 684.9 1563.4 682.1 1562.0 679.3 1560.6 676.5 1559.3 673.7 1558.1 670.9 1556.8 668.1 1555.7 665.3 1554.5 662.5 1553.4 659.7 1552.4 656.9 1551.4 654.1 1550.4 651.3 1549.5 648.5 1548.7 645.7 1547.8 642.9 1547.1 640.1 1546.4 637.3 1545.7 634.4 1545.0 631.6 1544.5 628.8 1543.9 626.0 1543.4 623.2 1543.0 620.4 1542.6 617.6 1542.2 614.8 1541.9 612.0 1541.6 609.2 1541.4 606.4 1541.2 603.6 1541.1 600.7 1541.0 597.9 1541.0 595.1L1540.7 604.7 1540.7 607.5 1540.8 610.3 1541.0 613.1 1541.1 615.9 1541.4 618.7 1541.6 621.5 1541.9 624.3 1542.3 627.2 1542.7 630.0 1543.2 632.8 1543.6 635.6 1544.2 638.4 1544.8 641.2 1545.4 644.0 1546.1 646.8 1546.8 649.6 1547.6 652.4 1548.4 655.3 1549.3 658.1 1550.2 660.9 1551.1 663.7 1552.1 666.5 1553.2 669.3 1554.3 672.1 1555.4 674.9 1556.6 677.7 1557.8 680.5 1559.1 683.3 1560.4 686.1 1561.7 688.9 1563.2 691.7 1564.6 694.5 1566.1 697.3 1567.6 700.1 1569.2 702.9 1570.9 705.7 1572.5 708.5 1574.3 711.2 1576.0 714.0 1577.8 716.8Z" fill="#0b8fc4" stroke="#0a3a55" stroke-width="1.2"/>
<path d="M1580.4 621.1 1578.6 618.3 1576.9 615.5 1575.1 612.8 1573.5 610.0 1571.8 607.2 1570.2 604.4 1568.7 601.6 1567.2 598.8 1565.8 596.0 1564.3 593.2 1563.0 590.4 1561.7 587.6 1560.4 584.8 1559.2 582.0 1558.0 579.2 1556.9 576.4 1555.8 573.6 1554.7 570.8 1553.7 568.0 1552.8 565.2 1551.9 562.4 1551.0 559.6 1550.2 556.7 1549.4 553.9 1548.7 551.1 1548.0 548.3 1547.4 545.5 1546.8 542.7 1546.2 539.9 1545.8 537.1 1545.3 534.3 1544.9 531.5 1544.5 528.6 1544.2 525.8 1544.0 523.0 1543.7 520.2 1543.6 517.4 1543.4 514.6 1543.3 511.8 1543.3 509.0L1541.0 595.1 1541.0 597.9 1541.1 600.7 1541.2 603.6 1541.4 606.4 1541.6 609.2 1541.9 612.0 1542.2 614.8 1542.6 617.6 1543.0 620.4 1543.4 623.2 1543.9 626.0 1544.5 628.8 1545.0 631.6 1545.7 634.4 1546.4 637.3 1547.1 640.1 1547.8 642.9 1548.7 645.7 1549.5 648.5 1550.4 651.3 1551.4 654.1 1552.4 656.9 1553.4 659.7 1554.5 662.5 1555.7 665.3 1556.8 668.1 1558.1 670.9 1559.3 673.7 1560.6 676.5 1562.0 679.3 1563.4 682.1 1564.9 684.9 1566.4 687.7 1567.9 690.5 1569.5 693.3 1571.1 696.1 1572.8 698.9 1574.5 701.7 1576.3 704.5 1578.1 707.2Z" fill="#e46c2a" stroke="#2a1608" stroke-width="1.3"/>
<path d="M1580.4 621.1 1572.8 608.8 1566.0 596.4 1560.0 584.0 1555.0 571.6 1550.9 559.2 1547.6 546.7 1545.3 534.3 1543.9 521.8 1543.3 509.4 1543.7 497.0 1544.9 484.7 1547.1 472.4 1550.1 460.1 1554.1 447.9 1558.9 435.8 1564.6 423.8 1571.2 411.8 1578.7 400.0 1587.1 388.2 1596.3 376.6 1606.4 365.0 1617.4 353.6 1629.2 342.4 1641.8 331.2 1655.3 320.2 1669.6 309.4 1684.7 298.8 1700.6 288.3 1717.3 278.0 1734.8 267.9 1753.1 257.9 1772.1 248.2 1791.8 238.7 1812.3 229.4 1833.5 220.3 1855.4 211.4 1878.0 202.8 1901.2 194.4 1925.1 186.3 1949.7 178.4 1974.9 170.7 2000.6 163.3 2027.0 156.2 2053.9 149.3 2081.4 142.8 2109.4 136.5 2137.9 130.5 2166.9 124.7 2196.4 119.3 2226.3 114.1 2256.7 109.3 2287.5 104.8 2318.6 100.5 2350.2 96.6 2382.1 93.0 2414.3 89.7 2446.8 86.7 2479.6 84.0 2512.6 81.6 2545.9 79.6L2584.9 138.8 2555.9 140.6 2527.0 142.6 2498.3 145.0 2469.9 147.6 2441.8 150.5 2413.9 153.6 2386.3 157.1 2359.1 160.8 2332.2 164.8 2305.7 169.0 2279.5 173.5 2253.7 178.2 2228.4 183.2 2203.4 188.5 2179.0 194.0 2155.0 199.8 2131.4 205.8 2108.4 212.0 2085.9 218.4 2063.9 225.1 2042.4 232.0 2021.5 239.1 2001.2 246.5 1981.4 254.0 1962.3 261.8 1943.8 269.7 1925.9 277.8 1908.6 286.2 1892.0 294.7 1876.0 303.3 1860.8 312.2 1846.2 321.2 1832.3 330.4 1819.0 339.7 1806.5 349.1 1794.8 358.7 1783.7 368.5 1773.4 378.3 1763.8 388.3 1755.0 398.3 1746.9 408.5 1739.6 418.8 1733.1 429.2 1727.3 439.6 1722.3 450.1 1718.1 460.7 1714.6 471.4 1712.0 482.1 1710.1 492.9 1709.0 503.7 1708.7 514.5 1709.2 525.3 1710.4 536.2 1712.5 547.1 1715.3 557.9 1718.9 568.8 1723.3 579.7 1728.5 590.5 1734.4 601.3 1741.1 612.1Z" fill="#fd9036" stroke="#3a2210" stroke-width="1.3"/>
<path d="M1738.5 707.8L1577.8 716.8L1578.1 707.2L1738.8 698.2Z" fill="#0c9bd2" stroke="#0a3a55" stroke-width="1.3"/>
<path d="M1738.8 698.2L1578.1 707.2L1580.4 621.1L1741.1 612.1Z" fill="#fe7529" stroke="#2a1608" stroke-width="1.3"/>
<rect x="96.2" y="883.3" width="1412.5" height="780.3" fill="#f3fbfe"/>
<path d="M109.5 883.3V1663.6M131.1 883.3V1663.6M152.7 883.3V1663.6M174.3 883.3V1663.6M195.9 883.3V1663.6M217.5 883.3V1663.6M239.1 883.3V1663.6M260.7 883.3V1663.6M282.3 883.3V1663.6M303.9 883.3V1663.6M325.5 883.3V1663.6M347.1 883.3V1663.6M368.7 883.3V1663.6M390.3 883.3V1663.6M411.9 883.3V1663.6M433.5 883.3V1663.6M455.1 883.3V1663.6M476.7 883.3V1663.6M498.3 883.3V1663.6M519.9 883.3V1663.6M541.5 883.3V1663.6M563.1 883.3V1663.6M584.7 883.3V1663.6M606.3 883.3V1663.6M627.9 883.3V1663.6M649.5 883.3V1663.6M671.1 883.3V1663.6M692.7 883.3V1663.6M714.3 883.3V1663.6M735.9 883.3V1663.6M757.5 883.3V1663.6M779.1 883.3V1663.6M800.7 883.3V1663.6M822.3 883.3V1663.6M843.9 883.3V1663.6M865.5 883.3V1663.6M887.1 883.3V1663.6M908.7 883.3V1663.6M930.3 883.3V1663.6M951.9 883.3V1663.6M973.5 883.3V1663.6M995.1 883.3V1663.6M1016.7 883.3V1663.6M1038.3 883.3V1663.6M1059.9 883.3V1663.6M1081.5 883.3V1663.6M1103.1 883.3V1663.6M1124.7 883.3V1663.6M1146.3 883.3V1663.6M1167.9 883.3V1663.6M1189.5 883.3V1663.6M1211.1 883.3V1663.6M1232.7 883.3V1663.6M1254.3 883.3V1663.6M1275.9 883.3V1663.6M1297.5 883.3V1663.6M1319.1 883.3V1663.6M1340.7 883.3V1663.6M1362.3 883.3V1663.6M1383.9 883.3V1663.6M1405.5 883.3V1663.6M1427.1 883.3V1663.6M1448.7 883.3V1663.6M1470.3 883.3V1663.6M1491.9 883.3V1663.6M96.2 1654.6H1508.7M96.2 1633H1508.7M96.2 1611.4H1508.7M96.2 1589.8H1508.7M96.2 1568.2H1508.7M96.2 1546.6H1508.7M96.2 1525H1508.7M96.2 1503.4H1508.7M96.2 1481.8H1508.7M96.2 1460.2H1508.7M96.2 1438.6H1508.7M96.2 1417H1508.7M96.2 1395.4H1508.7M96.2 1373.8H1508.7M96.2 1352.2H1508.7M96.2 1330.6H1508.7M96.2 1309H1508.7M96.2 1287.4H1508.7M96.2 1265.8H1508.7M96.2 1244.2H1508.7M96.2 1222.6H1508.7M96.2 1201H1508.7M96.2 1179.4H1508.7M96.2 1157.8H1508.7M96.2 1136.2H1508.7M96.2 1114.6H1508.7M96.2 1093H1508.7M96.2 1071.4H1508.7M96.2 1049.8H1508.7M96.2 1028.2H1508.7M96.2 1006.6H1508.7M96.2 985H1508.7M96.2 963.4H1508.7M96.2 941.8H1508.7M96.2 920.2H1508.7M96.2 898.6H1508.7" stroke="#d7ebf6" stroke-width="2" fill="none"/>
<path d="M109.5 885.3V1661.6" stroke="#9aa4aa" stroke-width="1.3" stroke-dasharray="14 3 2 3" fill="none"/>
<path d="M109.5 883.3v-8M109.5 1663.6v8M131.1 883.3v-4M131.1 1663.6v3M152.7 883.3v-4M152.7 1663.6v3M174.3 883.3v-4M174.3 1663.6v3M195.9 883.3v-4M195.9 1663.6v3M217.5 883.3v-8M217.5 1663.6v8M239.1 883.3v-4M239.1 1663.6v3M260.7 883.3v-4M260.7 1663.6v3M282.3 883.3v-4M282.3 1663.6v3M303.9 883.3v-4M303.9 1663.6v3M325.5 883.3v-8M325.5 1663.6v8M347.1 883.3v-4M347.1 1663.6v3M368.7 883.3v-4M368.7 1663.6v3M390.3 883.3v-4M390.3 1663.6v3M411.9 883.3v-4M411.9 1663.6v3M433.5 883.3v-8M433.5 1663.6v8M455.1 883.3v-4M455.1 1663.6v3M476.7 883.3v-4M476.7 1663.6v3M498.3 883.3v-4M498.3 1663.6v3M519.9 883.3v-4M519.9 1663.6v3M541.5 883.3v-8M541.5 1663.6v8M563.1 883.3v-4M563.1 1663.6v3M584.7 883.3v-4M584.7 1663.6v3M606.3 883.3v-4M606.3 1663.6v3M627.9 883.3v-4M627.9 1663.6v3M649.5 883.3v-8M649.5 1663.6v8M671.1 883.3v-4M671.1 1663.6v3M692.7 883.3v-4M692.7 1663.6v3M714.3 883.3v-4M714.3 1663.6v3M735.9 883.3v-4M735.9 1663.6v3M757.5 883.3v-8M757.5 1663.6v8M779.1 883.3v-4M779.1 1663.6v3M800.7 883.3v-4M800.7 1663.6v3M822.3 883.3v-4M822.3 1663.6v3M843.9 883.3v-4M843.9 1663.6v3M865.5 883.3v-8M865.5 1663.6v8M887.1 883.3v-4M887.1 1663.6v3M908.7 883.3v-4M908.7 1663.6v3M930.3 883.3v-4M930.3 1663.6v3M951.9 883.3v-4M951.9 1663.6v3M973.5 883.3v-8M973.5 1663.6v8M995.1 883.3v-4M995.1 1663.6v3M1016.7 883.3v-4M1016.7 1663.6v3M1038.3 883.3v-4M1038.3 1663.6v3M1059.9 883.3v-4M1059.9 1663.6v3M1081.5 883.3v-8M1081.5 1663.6v8M1103.1 883.3v-4M1103.1 1663.6v3M1124.7 883.3v-4M1124.7 1663.6v3M1146.3 883.3v-4M1146.3 1663.6v3M1167.9 883.3v-4M1167.9 1663.6v3M1189.5 883.3v-8M1189.5 1663.6v8M1211.1 883.3v-4M1211.1 1663.6v3M1232.7 883.3v-4M1232.7 1663.6v3M1254.3 883.3v-4M1254.3 1663.6v3M1275.9 883.3v-4M1275.9 1663.6v3M1297.5 883.3v-8M1297.5 1663.6v8M1319.1 883.3v-4M1319.1 1663.6v3M1340.7 883.3v-4M1340.7 1663.6v3M1362.3 883.3v-4M1362.3 1663.6v3M1383.9 883.3v-4M1383.9 1663.6v3M1405.5 883.3v-8M1405.5 1663.6v8M1427.1 883.3v-4M1427.1 1663.6v3M1448.7 883.3v-4M1448.7 1663.6v3M1470.3 883.3v-4M1470.3 1663.6v3M1491.9 883.3v-4M1491.9 1663.6v3M96.2 1654.6h-3M1508.7 1654.6h2.5M96.2 1633h-3M1508.7 1633h2.5M96.2 1622.2h-7M1508.7 1622.2h3M96.2 1611.4h-3M1508.7 1611.4h2.5M96.2 1589.8h-3M1508.7 1589.8h2.5M96.2 1568.2h-7M1508.7 1568.2h3M96.2 1546.6h-3M1508.7 1546.6h2.5M96.2 1525h-3M1508.7 1525h2.5M96.2 1514.2h-7M1508.7 1514.2h3M96.2 1503.4h-3M1508.7 1503.4h2.5M96.2 1481.8h-3M1508.7 1481.8h2.5M96.2 1460.2h-7M1508.7 1460.2h3M96.2 1438.6h-3M1508.7 1438.6h2.5M96.2 1417h-3M1508.7 1417h2.5M96.2 1406.2h-7M1508.7 1406.2h3M96.2 1395.4h-3M1508.7 1395.4h2.5M96.2 1373.8h-3M1508.7 1373.8h2.5M96.2 1352.2h-7M1508.7 1352.2h3M96.2 1330.6h-3M1508.7 1330.6h2.5M96.2 1309h-3M1508.7 1309h2.5M96.2 1298.2h-7M1508.7 1298.2h3M96.2 1287.4h-3M1508.7 1287.4h2.5M96.2 1265.8h-3M1508.7 1265.8h2.5M96.2 1244.2h-7M1508.7 1244.2h3M96.2 1222.6h-3M1508.7 1222.6h2.5M96.2 1201h-3M1508.7 1201h2.5M96.2 1190.2h-7M1508.7 1190.2h3M96.2 1179.4h-3M1508.7 1179.4h2.5M96.2 1157.8h-3M1508.7 1157.8h2.5M96.2 1136.2h-7M1508.7 1136.2h3M96.2 1114.6h-3M1508.7 1114.6h2.5M96.2 1093h-3M1508.7 1093h2.5M96.2 1082.2h-7M1508.7 1082.2h3M96.2 1071.4h-3M1508.7 1071.4h2.5M96.2 1049.8h-3M1508.7 1049.8h2.5M96.2 1028.2h-7M1508.7 1028.2h3M96.2 1006.6h-3M1508.7 1006.6h2.5M96.2 985h-3M1508.7 985h2.5M96.2 974.2h-7M1508.7 974.2h3M96.2 963.4h-3M1508.7 963.4h2.5M96.2 941.8h-3M1508.7 941.8h2.5M96.2 920.2h-7M1508.7 920.2h3M96.2 898.6h-3M1508.7 898.6h2.5" stroke="#555" stroke-width="1.6" fill="none"/>
<rect x="96.2" y="883.3" width="1412.5" height="780.3" fill="none" stroke="#6a6a6a" stroke-width="2.2"/>
<g font-size="14" fill="#333" stroke="#333" stroke-width=".35" letter-spacing=".6"><text x="111.5" y="1681.5">0</text><text x="219.5" y="1681.5">1</text><text x="327.5" y="1681.5">2</text><text x="435.5" y="1681.5">3</text><text x="543.5" y="1681.5">4</text><text x="651.5" y="1681.5">5</text><text x="759.5" y="1681.5">6</text><text x="867.5" y="1681.5">7</text><text x="975.5" y="1681.5">8</text><text x="1083.5" y="1681.5">9</text><text x="1191.5" y="1681.5">10</text><text x="1299.5" y="1681.5">11</text><text x="1407.5" y="1681.5">12</text><text x="87.5" y="931.2" text-anchor="end">4</text><text x="87.5" y="985.2" text-anchor="end">3.5</text><text x="87.5" y="1039.2" text-anchor="end">3</text><text x="87.5" y="1093.2" text-anchor="end">2.5</text><text x="87.5" y="1147.2" text-anchor="end">2</text><text x="87.5" y="1201.2" text-anchor="end">1.5</text><text x="87.5" y="1255.2" text-anchor="end">1</text><text x="87.5" y="1309.2" text-anchor="end">0.5</text><text x="87.5" y="1363.2" text-anchor="end">0</text><text x="87.5" y="1417.2" text-anchor="end">-0.5</text><text x="87.5" y="1471.2" text-anchor="end">-1</text><text x="87.5" y="1525.2" text-anchor="end">-1.5</text><text x="87.5" y="1579.2" text-anchor="end">-2</text><text x="87.5" y="1633.2" text-anchor="end">-2.5</text></g>
<text x="100" y="896" font-size="12.5" fill="#333" stroke="#333" stroke-width=".25">mm</text>
<text x="1480" y="1657" font-size="12.5" fill="#333" stroke="#333" stroke-width=".25">mm</text>
<text x="112" y="1659" font-size="12" fill="#a8b0b8">r=0</text>
<rect x="149.8" y="898.6" width="75.2" height="113.7" fill="#fff"/>
<text x="172" y="979.5" font-size="66" fill="#000">c</text>
<path d="M109.5 1352.2 112.9 1352.2 116.4 1352.2 119.8 1352.2 123.2 1352.2 126.6 1352.2 130.1 1352.2 133.5 1352.2 136.9 1352.2 140.4 1352.2 143.8 1352.2 147.2 1352.2 150.6 1352.2 154.1 1352.2 157.5 1352.2 160.9 1352.2 164.4 1352.2 167.8 1352.2 171.2 1352.2 174.7 1352.2 178.1 1352.2 181.5 1352.2 184.9 1352.2 188.4 1352.2 191.8 1352.2 195.2 1352.2 198.7 1352.2 202.1 1352.2 205.5 1352.2 208.9 1352.2 212.4 1352.2 215.8 1352.2 219.2 1352.2 222.7 1352.2 226.1 1352.2 229.5 1352.2 232.9 1352.2 236.4 1352.2 239.8 1352.2 243.2 1352.2 246.7 1352.2 250.1 1352.2 253.5 1352.2 256.9 1352.2 260.4 1352.2 263.8 1352.2 267.2 1352.2 270.7 1352.2 274.1 1352.2 277.5 1352.2 280.9 1352.2 284.4 1352.2 287.8 1352.2 291.2 1352.2 294.7 1352.2 298.1 1352.2 301.5 1352.2 305.0 1352.2 308.4 1352.2 311.8 1352.2 315.2 1352.2 318.7 1352.2 322.1 1352.2 325.5 1352.2 329.0 1352.2 332.4 1352.2 335.8 1352.2 339.2 1352.2 342.7 1352.2 346.1 1352.2 349.5 1352.2 353.0 1352.2 356.4 1352.2 359.8 1352.2 363.2 1352.2 366.7 1352.2 370.1 1352.2 373.5 1352.2 377.0 1352.2 380.4 1352.2 383.8 1352.2 387.2 1352.2 390.7 1352.2 394.1 1352.2 397.5 1352.2 401.0 1352.2 404.4 1352.2 407.8 1352.2 411.3 1352.2 414.7 1352.2 418.1 1352.2 421.5 1352.2 425.0 1352.2 428.4 1352.2 431.8 1352.2 435.3 1352.2 438.7 1352.2 442.1 1352.2 445.5 1352.2 449.0 1352.2 452.4 1352.2 455.8 1352.2 459.3 1352.4 462.7 1352.6 466.1 1352.8 469.5 1353.2 473.0 1353.6 476.4 1354.1 479.8 1354.7 483.3 1355.3 486.7 1356.0 490.1 1356.7 493.5 1357.5 497.0 1358.3 500.4 1359.2 503.8 1360.1 507.3 1361.1 510.7 1362.1 514.1 1363.1 517.6 1364.1 521.0 1365.1 524.4 1366.1 527.8 1367.1 531.3 1368.1 534.7 1369.1 538.1 1370.0 541.6 1371.0 545.0 1371.8 548.4 1372.7 551.8 1373.5 555.3 1374.2 558.7 1374.9 562.1 1375.6 565.6 1376.1 569.0 1376.6 572.4 1377.1 575.8 1377.4 579.3 1377.7 582.7 1377.9 586.1 1378.1 589.6 1378.1 593.0 1378.1 596.4 1378.0 599.8 1377.8 603.3 1377.5 606.7 1377.2 610.1 1376.8 613.6 1376.3 617.0 1375.8 620.4 1375.1 623.9 1374.5 627.3 1373.7 630.7 1372.9 634.1 1372.1 637.6 1371.2 641.0 1370.3 644.4 1369.4 647.9 1368.4 651.3 1367.4 654.7 1366.4 658.1 1365.4 661.6 1364.4 665.0 1363.4 668.4 1362.4 671.9 1361.4 675.3 1360.4 678.7 1359.5 682.1 1358.6 685.6 1357.8 689.0 1357.0 692.4 1356.2 695.9 1355.5 699.3 1354.8 702.7 1354.3 706.1 1353.7 709.6 1353.3 713.0 1352.9 716.4 1352.6 719.9 1352.4 723.3 1352.3 726.7 1352.2 730.1 1352.2 733.6 1352.3 737.0 1352.5 740.4 1352.7 743.9 1353.1 747.3 1353.5 750.7 1353.9 754.2 1354.5 757.6 1355.1 761.0 1355.7 764.4 1356.5 767.9 1357.2 771.3 1358.1 774.7 1358.9 778.2 1359.9 781.6 1360.8 785.0 1361.8 788.4 1362.7 791.9 1363.7 795.3 1364.8 798.7 1365.8 802.2 1366.8 805.6 1367.8 809.0 1368.8 812.4 1369.7 815.9 1370.7 819.3 1371.6 822.7 1372.4 826.2 1373.2 829.6 1374.0 833.0 1374.7 836.4 1375.4 839.9 1376.0 843.3 1376.5 846.7 1377.0 850.2 1377.3 853.6 1377.6 857.0 1377.9 860.5 1378.0 863.9 1378.1 867.3 1378.1 870.7 1378.0 874.2 1377.9 877.6 1377.6 881.0 1377.3 884.5 1376.9 887.9 1376.5 891.3 1375.9 894.7 1375.3 898.2 1374.7 901.6 1374.0 905.0 1373.2 908.5 1372.4 911.9 1371.5 915.3 1370.6 918.7 1369.7 922.2 1368.7 925.6 1367.7 929.0 1366.7 932.5 1365.7 935.9 1364.7 939.3 1363.7 942.7 1362.7 946.2 1361.7 949.6 1360.7 953.0 1359.8 956.5 1358.9 959.9 1358.0 963.3 1357.2 966.8 1356.4 970.2 1355.7 973.6 1355.0 977.0 1354.4 980.5 1353.9 983.9 1353.4 987.3 1353.0 990.8 1352.7 994.2 1352.5 997.6 1352.3 1001.0 1352.2 1004.5 1352.2 1007.9 1352.3 1011.3 1352.4 1014.8 1352.6 1018.2 1353.0 1021.6 1353.3 1025.0 1353.8 1028.5 1354.3 1031.9 1354.9 1035.3 1355.5 1038.8 1356.2 1042.2 1357.0 1045.6 1357.8 1049.0 1358.7 1052.5 1359.6 1055.9 1360.5 1059.3 1361.5 1062.8 1362.4 1066.2 1363.4 1069.6 1364.4 1073.0 1365.5 1076.5 1366.5 1079.9 1367.5 1083.3 1368.5 1086.8 1369.4 1090.2 1370.4 1093.6 1371.3 1097.1 1372.2 1100.5 1373.0 1103.9 1373.8 1107.3 1374.5 1110.8 1375.2 1114.2 1375.8 1117.6 1376.3 1121.1 1376.8 1124.5 1377.2 1127.9 1377.6 1131.3 1377.8 1134.8 1378.0 1138.2 1378.1 1141.6 1378.1 1145.1 1378.1 1148.5 1377.9 1151.9 1377.7 1155.3 1377.4 1158.8 1377.1 1162.2 1376.6 1165.6 1376.1 1169.1 1375.5 1172.5 1374.9 1175.9 1374.2 1179.3 1373.4 1182.8 1372.6 1186.2 1371.8 1189.6 1370.9 1193.1 1370.0 1196.5 1369.0 1199.9 1368.0 1203.4 1367.0 1206.8 1366.0 1210.2 1365.0 1213.6 1364.0 1217.1 1363.0 1220.5 1362.0 1223.9 1361.0 1227.4 1360.1 1230.8 1359.2 1234.2 1358.3 1237.6 1357.5 1241.1 1356.7 1244.5 1355.9 1247.9 1355.2 1251.4 1354.6 1254.8 1354.1 1258.2 1353.6 1261.6 1353.2 1265.1 1352.8 1268.5 1352.5 1271.9 1352.3 1275.4 1352.2 1278.8 1352.2 1282.2 1352.2 1285.6 1352.2 1289.1 1352.2 1292.5 1352.2 1295.9 1352.2 1299.4 1352.2 1302.8 1352.2 1306.2 1352.2 1309.7 1352.2 1313.1 1352.2 1316.5 1352.2 1319.9 1352.2 1323.4 1352.2 1326.8 1352.2 1330.2 1352.2 1333.7 1352.2 1337.1 1352.2 1340.5 1352.2 1343.9 1352.2 1347.4 1352.2 1350.8 1352.2 1354.2 1352.2 1357.7 1352.2 1361.1 1352.2 1364.5 1352.2 1367.9 1352.2 1371.4 1352.2 1374.8 1352.2 1378.2 1352.2 1381.7 1352.2 1385.1 1352.2 1388.5 1352.2 1391.9 1352.2 1395.4 1352.2 1398.8 1352.2 1402.2 1352.2 1405.7 1352.2 1409.1 1352.2 1412.5 1352.2 1415.9 1352.2 1419.4 1352.2 1422.8 1352.2 1426.2 1352.2 1429.7 1352.2 1433.1 1352.2 1436.5 1352.2 1440.0 1352.2 1443.4 1352.2 1446.8 1352.2 1450.2 1352.2 1453.7 1352.2 1457.1 1352.2 1460.5 1352.2 1464.0 1352.2 1467.4 1352.2 1470.8 1352.2 1474.2 1352.2 1477.7 1352.2 1481.1 1352.2 L1481.1 1357.6 1477.7 1357.6 1474.2 1357.6 1470.8 1357.6 1467.4 1357.6 1464.0 1357.6 1460.5 1357.6 1457.1 1357.6 1453.7 1357.6 1450.2 1357.6 1446.8 1357.6 1443.4 1357.6 1440.0 1357.6 1436.5 1357.6 1433.1 1357.6 1429.7 1357.6 1426.2 1357.6 1422.8 1357.6 1419.4 1357.6 1415.9 1357.6 1412.5 1357.6 1409.1 1357.6 1405.7 1357.6 1402.2 1357.6 1398.8 1357.6 1395.4 1357.6 1391.9 1357.6 1388.5 1357.6 1385.1 1357.6 1381.7 1357.6 1378.2 1357.6 1374.8 1357.6 1371.4 1357.6 1367.9 1357.6 1364.5 1357.6 1361.1 1357.6 1357.7 1357.6 1354.2 1357.6 1350.8 1357.6 1347.4 1357.6 1343.9 1357.6 1340.5 1357.6 1337.1 1357.6 1333.7 1357.6 1330.2 1357.6 1326.8 1357.6 1323.4 1357.6 1319.9 1357.6 1316.5 1357.6 1313.1 1357.6 1309.7 1357.6 1306.2 1357.6 1302.8 1357.6 1299.4 1357.6 1295.9 1357.6 1292.5 1357.6 1289.1 1357.6 1285.6 1357.6 1282.2 1357.6 1278.8 1357.6 1275.4 1357.6 1271.9 1357.7 1268.5 1357.9 1265.1 1358.2 1261.6 1358.6 1258.2 1359.0 1254.8 1359.5 1251.4 1360.0 1247.9 1360.6 1244.5 1361.3 1241.1 1362.1 1237.6 1362.9 1234.2 1363.7 1230.8 1364.6 1227.4 1365.5 1223.9 1366.4 1220.5 1367.4 1217.1 1368.4 1213.6 1369.4 1210.2 1370.4 1206.8 1371.4 1203.4 1372.4 1199.9 1373.4 1196.5 1374.4 1193.1 1375.4 1189.6 1376.3 1186.2 1377.2 1182.8 1378.0 1179.3 1378.8 1175.9 1379.6 1172.5 1380.3 1169.1 1380.9 1165.6 1381.5 1162.2 1382.0 1158.8 1382.5 1155.3 1382.8 1151.9 1383.1 1148.5 1383.3 1145.1 1383.5 1141.6 1383.5 1138.2 1383.5 1134.8 1383.4 1131.3 1383.2 1127.9 1383.0 1124.5 1382.6 1121.1 1382.2 1117.6 1381.7 1114.2 1381.2 1110.8 1380.6 1107.3 1379.9 1103.9 1379.2 1100.5 1378.4 1097.1 1377.6 1093.6 1376.7 1090.2 1375.8 1086.8 1374.8 1083.3 1373.9 1079.9 1372.9 1076.5 1371.9 1073.0 1370.9 1069.6 1369.8 1066.2 1368.8 1062.8 1367.8 1059.3 1366.9 1055.9 1365.9 1052.5 1365.0 1049.0 1364.1 1045.6 1363.2 1042.2 1362.4 1038.8 1361.6 1035.3 1360.9 1031.9 1360.3 1028.5 1359.7 1025.0 1359.2 1021.6 1358.7 1018.2 1358.4 1014.8 1358.0 1011.3 1357.8 1007.9 1357.7 1004.5 1357.6 1001.0 1357.6 997.6 1357.7 994.2 1357.9 990.8 1358.1 987.3 1358.4 983.9 1358.8 980.5 1359.3 977.0 1359.8 973.6 1360.4 970.2 1361.1 966.8 1361.8 963.3 1362.6 959.9 1363.4 956.5 1364.3 953.0 1365.2 949.6 1366.1 946.2 1367.1 942.7 1368.1 939.3 1369.1 935.9 1370.1 932.5 1371.1 929.0 1372.1 925.6 1373.1 922.2 1374.1 918.7 1375.1 915.3 1376.0 911.9 1376.9 908.5 1377.8 905.0 1378.6 901.6 1379.4 898.2 1380.1 894.7 1380.7 891.3 1381.3 887.9 1381.9 884.5 1382.3 881.0 1382.7 877.6 1383.0 874.2 1383.3 870.7 1383.4 867.3 1383.5 863.9 1383.5 860.5 1383.4 857.0 1383.3 853.6 1383.0 850.2 1382.7 846.7 1382.4 843.3 1381.9 839.9 1381.4 836.4 1380.8 833.0 1380.1 829.6 1379.4 826.2 1378.6 822.7 1377.8 819.3 1377.0 815.9 1376.1 812.4 1375.1 809.0 1374.2 805.6 1373.2 802.2 1372.2 798.7 1371.2 795.3 1370.2 791.9 1369.1 788.4 1368.1 785.0 1367.2 781.6 1366.2 778.2 1365.3 774.7 1364.3 771.3 1363.5 767.9 1362.6 764.4 1361.9 761.0 1361.1 757.6 1360.5 754.2 1359.9 750.7 1359.3 747.3 1358.9 743.9 1358.5 740.4 1358.1 737.0 1357.9 733.6 1357.7 730.1 1357.6 726.7 1357.6 723.3 1357.7 719.9 1357.8 716.4 1358.0 713.0 1358.3 709.6 1358.7 706.1 1359.1 702.7 1359.7 699.3 1360.2 695.9 1360.9 692.4 1361.6 689.0 1362.4 685.6 1363.2 682.1 1364.0 678.7 1364.9 675.3 1365.8 671.9 1366.8 668.4 1367.8 665.0 1368.8 661.6 1369.8 658.1 1370.8 654.7 1371.8 651.3 1372.8 647.9 1373.8 644.4 1374.8 641.0 1375.7 637.6 1376.6 634.1 1377.5 630.7 1378.3 627.3 1379.1 623.9 1379.9 620.4 1380.5 617.0 1381.2 613.6 1381.7 610.1 1382.2 606.7 1382.6 603.3 1382.9 599.8 1383.2 596.4 1383.4 593.0 1383.5 589.6 1383.5 586.1 1383.5 582.7 1383.3 579.3 1383.1 575.8 1382.8 572.4 1382.5 569.0 1382.0 565.6 1381.5 562.1 1381.0 558.7 1380.3 555.3 1379.6 551.8 1378.9 548.4 1378.1 545.0 1377.2 541.6 1376.4 538.1 1375.4 534.7 1374.5 531.3 1373.5 527.8 1372.5 524.4 1371.5 521.0 1370.5 517.6 1369.5 514.1 1368.5 510.7 1367.5 507.3 1366.5 503.8 1365.5 500.4 1364.6 497.0 1363.7 493.5 1362.9 490.1 1362.1 486.7 1361.4 483.3 1360.7 479.8 1360.1 476.4 1359.5 473.0 1359.0 469.5 1358.6 466.1 1358.2 462.7 1358.0 459.3 1357.8 455.8 1357.6 452.4 1357.6 449.0 1357.6 445.5 1357.6 442.1 1357.6 438.7 1357.6 435.3 1357.6 431.8 1357.6 428.4 1357.6 425.0 1357.6 421.5 1357.6 418.1 1357.6 414.7 1357.6 411.3 1357.6 407.8 1357.6 404.4 1357.6 401.0 1357.6 397.5 1357.6 394.1 1357.6 390.7 1357.6 387.2 1357.6 383.8 1357.6 380.4 1357.6 377.0 1357.6 373.5 1357.6 370.1 1357.6 366.7 1357.6 363.2 1357.6 359.8 1357.6 356.4 1357.6 353.0 1357.6 349.5 1357.6 346.1 1357.6 342.7 1357.6 339.2 1357.6 335.8 1357.6 332.4 1357.6 329.0 1357.6 325.5 1357.6 322.1 1357.6 318.7 1357.6 315.2 1357.6 311.8 1357.6 308.4 1357.6 305.0 1357.6 301.5 1357.6 298.1 1357.6 294.7 1357.6 291.2 1357.6 287.8 1357.6 284.4 1357.6 280.9 1357.6 277.5 1357.6 274.1 1357.6 270.7 1357.6 267.2 1357.6 263.8 1357.6 260.4 1357.6 256.9 1357.6 253.5 1357.6 250.1 1357.6 246.7 1357.6 243.2 1357.6 239.8 1357.6 236.4 1357.6 232.9 1357.6 229.5 1357.6 226.1 1357.6 222.7 1357.6 219.2 1357.6 215.8 1357.6 212.4 1357.6 208.9 1357.6 205.5 1357.6 202.1 1357.6 198.7 1357.6 195.2 1357.6 191.8 1357.6 188.4 1357.6 184.9 1357.6 181.5 1357.6 178.1 1357.6 174.7 1357.6 171.2 1357.6 167.8 1357.6 164.4 1357.6 160.9 1357.6 157.5 1357.6 154.1 1357.6 150.6 1357.6 147.2 1357.6 143.8 1357.6 140.4 1357.6 136.9 1357.6 133.5 1357.6 130.1 1357.6 126.6 1357.6 123.2 1357.6 119.8 1357.6 116.4 1357.6 112.9 1357.6 109.5 1357.6Z" fill="#d9d1d1" stroke="#5e5e5e" stroke-width="1.6" stroke-linejoin="round"/>
<rect x="1308.3" y="1244.2" width="172.8" height="97.2" fill="#fe7b2e" stroke="#3a2a20" stroke-width="1.3"/>
<rect x="1308.3" y="1341.4" width="172.8" height="10.8" fill="#02a0d3" stroke="#1a2a30" stroke-width="1.3"/>
<rect x="1575.9" y="883.5" width="1413.5" height="779.9" fill="#f3fbfe"/>
<path d="M1578.6 883.5V1663.4M1601.5 883.5V1663.4M1624.4 883.5V1663.4M1647.2 883.5V1663.4M1670.1 883.5V1663.4M1693 883.5V1663.4M1715.9 883.5V1663.4M1738.7 883.5V1663.4M1761.6 883.5V1663.4M1784.5 883.5V1663.4M1807.3 883.5V1663.4M1830.2 883.5V1663.4M1853.1 883.5V1663.4M1875.9 883.5V1663.4M1898.8 883.5V1663.4M1921.7 883.5V1663.4M1944.6 883.5V1663.4M1967.4 883.5V1663.4M1990.3 883.5V1663.4M2013.2 883.5V1663.4M2036 883.5V1663.4M2058.9 883.5V1663.4M2081.8 883.5V1663.4M2104.6 883.5V1663.4M2127.5 883.5V1663.4M2150.4 883.5V1663.4M2173.2 883.5V1663.4M2196.1 883.5V1663.4M2219 883.5V1663.4M2241.9 883.5V1663.4M2264.7 883.5V1663.4M2287.6 883.5V1663.4M2310.5 883.5V1663.4M2333.3 883.5V1663.4M2356.2 883.5V1663.4M2379.1 883.5V1663.4M2401.9 883.5V1663.4M2424.8 883.5V1663.4M2447.7 883.5V1663.4M2470.6 883.5V1663.4M2493.4 883.5V1663.4M2516.3 883.5V1663.4M2539.2 883.5V1663.4M2562 883.5V1663.4M2584.9 883.5V1663.4M2607.8 883.5V1663.4M2630.6 883.5V1663.4M2653.5 883.5V1663.4M2676.4 883.5V1663.4M2699.3 883.5V1663.4M2722.1 883.5V1663.4M2745 883.5V1663.4M2767.9 883.5V1663.4M2790.7 883.5V1663.4M2813.6 883.5V1663.4M2836.5 883.5V1663.4M2859.4 883.5V1663.4M2882.2 883.5V1663.4M2905.1 883.5V1663.4M2928 883.5V1663.4M2950.8 883.5V1663.4M2973.7 883.5V1663.4M1575.9 1643.6H2989.4M1575.9 1620.7H2989.4M1575.9 1597.8H2989.4M1575.9 1574.9H2989.4M1575.9 1552H2989.4M1575.9 1529.1H2989.4M1575.9 1506.2H2989.4M1575.9 1483.3H2989.4M1575.9 1460.4H2989.4M1575.9 1437.5H2989.4M1575.9 1414.6H2989.4M1575.9 1391.7H2989.4M1575.9 1368.8H2989.4M1575.9 1345.9H2989.4M1575.9 1323H2989.4M1575.9 1300.1H2989.4M1575.9 1277.2H2989.4M1575.9 1254.3H2989.4M1575.9 1231.4H2989.4M1575.9 1208.5H2989.4M1575.9 1185.6H2989.4M1575.9 1162.7H2989.4M1575.9 1139.8H2989.4M1575.9 1116.9H2989.4M1575.9 1094H2989.4M1575.9 1071.1H2989.4M1575.9 1048.2H2989.4M1575.9 1025.3H2989.4M1575.9 1002.4H2989.4M1575.9 979.5H2989.4M1575.9 956.6H2989.4M1575.9 933.7H2989.4M1575.9 910.8H2989.4M1575.9 887.9H2989.4" stroke="#d7ebf6" stroke-width="2" fill="none"/>
<path d="M1578.6 883.5v-4M1578.6 1663.4v3M1601.5 883.5v-8M1601.5 1663.4v8M1624.4 883.5v-4M1624.4 1663.4v3M1647.2 883.5v-4M1647.2 1663.4v3M1670.1 883.5v-4M1670.1 1663.4v3M1693 883.5v-4M1693 1663.4v3M1715.9 883.5v-8M1715.9 1663.4v8M1738.7 883.5v-4M1738.7 1663.4v3M1761.6 883.5v-4M1761.6 1663.4v3M1784.5 883.5v-4M1784.5 1663.4v3M1807.3 883.5v-4M1807.3 1663.4v3M1830.2 883.5v-8M1830.2 1663.4v8M1853.1 883.5v-4M1853.1 1663.4v3M1875.9 883.5v-4M1875.9 1663.4v3M1898.8 883.5v-4M1898.8 1663.4v3M1921.7 883.5v-4M1921.7 1663.4v3M1944.6 883.5v-8M1944.6 1663.4v8M1967.4 883.5v-4M1967.4 1663.4v3M1990.3 883.5v-4M1990.3 1663.4v3M2013.2 883.5v-4M2013.2 1663.4v3M2036 883.5v-4M2036 1663.4v3M2058.9 883.5v-8M2058.9 1663.4v8M2081.8 883.5v-4M2081.8 1663.4v3M2104.6 883.5v-4M2104.6 1663.4v3M2127.5 883.5v-4M2127.5 1663.4v3M2150.4 883.5v-4M2150.4 1663.4v3M2173.2 883.5v-8M2173.2 1663.4v8M2196.1 883.5v-4M2196.1 1663.4v3M2219 883.5v-4M2219 1663.4v3M2241.9 883.5v-4M2241.9 1663.4v3M2264.7 883.5v-4M2264.7 1663.4v3M2287.6 883.5v-8M2287.6 1663.4v8M2310.5 883.5v-4M2310.5 1663.4v3M2333.3 883.5v-4M2333.3 1663.4v3M2356.2 883.5v-4M2356.2 1663.4v3M2379.1 883.5v-4M2379.1 1663.4v3M2401.9 883.5v-8M2401.9 1663.4v8M2424.8 883.5v-4M2424.8 1663.4v3M2447.7 883.5v-4M2447.7 1663.4v3M2470.6 883.5v-4M2470.6 1663.4v3M2493.4 883.5v-4M2493.4 1663.4v3M2516.3 883.5v-8M2516.3 1663.4v8M2539.2 883.5v-4M2539.2 1663.4v3M2562 883.5v-4M2562 1663.4v3M2584.9 883.5v-4M2584.9 1663.4v3M2607.8 883.5v-4M2607.8 1663.4v3M2630.6 883.5v-8M2630.6 1663.4v8M2653.5 883.5v-4M2653.5 1663.4v3M2676.4 883.5v-4M2676.4 1663.4v3M2699.3 883.5v-4M2699.3 1663.4v3M2722.1 883.5v-4M2722.1 1663.4v3M2745 883.5v-8M2745 1663.4v8M2767.9 883.5v-4M2767.9 1663.4v3M2790.7 883.5v-4M2790.7 1663.4v3M2813.6 883.5v-4M2813.6 1663.4v3M2836.5 883.5v-4M2836.5 1663.4v3M2859.4 883.5v-8M2859.4 1663.4v8M2882.2 883.5v-4M2882.2 1663.4v3M2905.1 883.5v-4M2905.1 1663.4v3M2928 883.5v-4M2928 1663.4v3M2950.8 883.5v-4M2950.8 1663.4v3M2973.7 883.5v-8M2973.7 1663.4v8M1575.9 1643.6h-3M2989.4 1643.6h2.5M1575.9 1620.7h-7M2989.4 1620.7h3M1575.9 1597.8h-3M2989.4 1597.8h2.5M1575.9 1574.9h-7M2989.4 1574.9h3M1575.9 1552h-3M2989.4 1552h2.5M1575.9 1529.1h-7M2989.4 1529.1h3M1575.9 1506.2h-3M2989.4 1506.2h2.5M1575.9 1483.3h-7M2989.4 1483.3h3M1575.9 1460.4h-3M2989.4 1460.4h2.5M1575.9 1437.5h-7M2989.4 1437.5h3M1575.9 1414.6h-3M2989.4 1414.6h2.5M1575.9 1391.7h-7M2989.4 1391.7h3M1575.9 1368.8h-3M2989.4 1368.8h2.5M1575.9 1345.9h-7M2989.4 1345.9h3M1575.9 1323h-3M2989.4 1323h2.5M1575.9 1300.1h-7M2989.4 1300.1h3M1575.9 1277.2h-3M2989.4 1277.2h2.5M1575.9 1254.3h-7M2989.4 1254.3h3M1575.9 1231.4h-3M2989.4 1231.4h2.5M1575.9 1208.5h-7M2989.4 1208.5h3M1575.9 1185.6h-3M2989.4 1185.6h2.5M1575.9 1162.7h-7M2989.4 1162.7h3M1575.9 1139.8h-3M2989.4 1139.8h2.5M1575.9 1116.9h-7M2989.4 1116.9h3M1575.9 1094h-3M2989.4 1094h2.5M1575.9 1071.1h-7M2989.4 1071.1h3M1575.9 1048.2h-3M2989.4 1048.2h2.5M1575.9 1025.3h-7M2989.4 1025.3h3M1575.9 1002.4h-3M2989.4 1002.4h2.5M1575.9 979.5h-7M2989.4 979.5h3M1575.9 956.6h-3M2989.4 956.6h2.5M1575.9 933.7h-7M2989.4 933.7h3M1575.9 910.8h-3M2989.4 910.8h2.5M1575.9 887.9h-7M2989.4 887.9h3" stroke="#555" stroke-width="1.6" fill="none"/>
<rect x="1575.9" y="1483.3" width="1413.5" height="114.5" fill="#d3cdcd" stroke="#5e5e5e" stroke-width="1.8"/>
<path d="M2315.0 1254.3H2989.4V1483.3H2332.5A17.5 17.5 0 0 1 2315.0 1465.8Z" fill="#009fd2" stroke="#1f2a30" stroke-width="1.4"/>
<rect x="2315.0" y="883.5" width="674.4" height="370.8" fill="#fe7b2e" stroke="#3a2a20" stroke-width="1.4"/>
<rect x="1575.9" y="883.5" width="1413.5" height="779.9" fill="none" stroke="#6a6a6a" stroke-width="2.2"/>
<g font-size="14" fill="#333" stroke="#333" stroke-width=".35" letter-spacing=".6"><text x="1603.5" y="1682">10.8</text><text x="1717.9" y="1682">10.85</text><text x="1832.2" y="1682">10.9</text><text x="1946.6" y="1682">10.95</text><text x="2060.9" y="1682">11</text><text x="2175.2" y="1682">11.05</text><text x="2289.6" y="1682">11.1</text><text x="2403.9" y="1682">11.15</text><text x="2518.3" y="1682">11.2</text><text x="2632.6" y="1682">11.25</text><text x="2747.0" y="1682">11.3</text><text x="2861.4" y="1682">11.35</text><text x="1567" y="1631.7" text-anchor="end">-0.06</text><text x="1567" y="1585.9" text-anchor="end">-0.04</text><text x="1567" y="1540.1" text-anchor="end">-0.02</text><text x="1567" y="1494.3" text-anchor="end">0</text><text x="1567" y="1448.5" text-anchor="end">0.02</text><text x="1567" y="1402.7" text-anchor="end">0.04</text><text x="1567" y="1356.9" text-anchor="end">0.06</text><text x="1567" y="1311.1" text-anchor="end">0.08</text><text x="1567" y="1265.3" text-anchor="end">0.1</text><text x="1567" y="1219.5" text-anchor="end">0.12</text><text x="1567" y="1173.7" text-anchor="end">0.14</text><text x="1567" y="1127.9" text-anchor="end">0.16</text><text x="1567" y="1082.1" text-anchor="end">0.18</text><text x="1567" y="1036.3" text-anchor="end">0.2</text><text x="1567" y="990.5" text-anchor="end">0.22</text><text x="1567" y="944.7" text-anchor="end">0.24</text><text x="1567" y="898.9" text-anchor="end">0.26</text></g>
<text x="1580" y="896" font-size="12.5" fill="#333" stroke="#333" stroke-width=".25">mm</text>
<text x="2960" y="1657" font-size="12.5" fill="#333" stroke="#333" stroke-width=".25">mm</text>
<rect x="1621" y="883" width="82" height="124" fill="#fff"/>
<text x="1643" y="968" font-size="66" fill="#000">d</text>
<path d="M49 1685.5H2992" stroke="#eeeeee" stroke-width="1"/><path d="M1516.5 31L1520 1686" stroke="#000" stroke-width="6.5"/><path d="M49 863L2992 860" stroke="#000" stroke-width="6.2"/></svg></body></html>
